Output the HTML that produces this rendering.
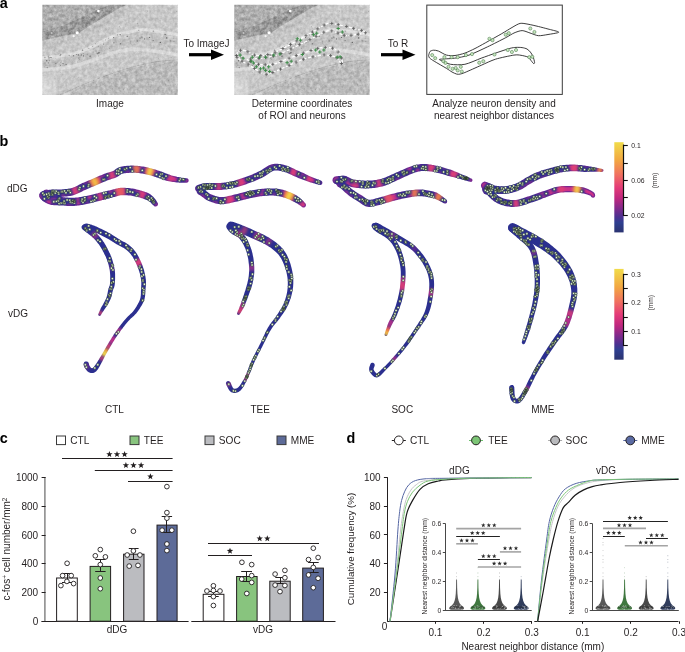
<!DOCTYPE html>
<html><head><meta charset="utf-8"><style>
html,body{margin:0;padding:0;background:#fff;}
svg{display:block;font-family:"Liberation Sans", sans-serif;will-change:transform;}
</style></head><body>
<svg width="685" height="652" viewBox="0 0 685 652">
<defs>
<filter id="blur1" x="-20%" y="-20%" width="140%" height="140%"><feGaussianBlur stdDeviation="0.6"/></filter>
<filter id="blur2" x="-20%" y="-20%" width="140%" height="140%"><feGaussianBlur stdDeviation="2"/></filter>
<filter id="blurH" x="-20%" y="-20%" width="140%" height="140%"><feGaussianBlur stdDeviation="1.0"/></filter>
<filter id="blurS" x="-50%" y="-50%" width="200%" height="200%"><feGaussianBlur stdDeviation="1.4"/></filter>
<filter id="blur3" x="-20%" y="-20%" width="140%" height="140%"><feGaussianBlur stdDeviation="4"/></filter>
</defs>
<defs><clipPath id="imgclip"><rect x="42.3" y="4.8" width="135.5" height="90.2"/></clipPath>
<filter id="noise" x="0" y="0" width="100%" height="100%" color-interpolation-filters="sRGB"><feTurbulence type="fractalNoise" baseFrequency="0.28" numOctaves="3" seed="4" result="n"/><feColorMatrix type="matrix" values="1.6 0 0 0 -0.3  1.6 0 0 0 -0.3  1.6 0 0 0 -0.3  0 0 0 0 1"/></filter>
<g id="micro" clip-path="url(#imgclip)">
<rect x="42.3" y="4.8" width="135.5" height="90.2" fill="#c8c8c8"/>
<polygon points="40,3 112,3 110,4.9 101.3,7.8 83.8,15.9 61.9,26.1 42.2,31.2 40,31.5" fill="#afafaf" filter="url(#blur1)"/>
<polygon points="112,3 128,3 126.1,4.9 117.4,9.3 102.8,18.1 88.2,26.8 79.4,32.7 61.9,36.3 42.2,40.7 40,41 40,31.5 42.2,31.2 61.9,26.1 83.8,15.9 101.3,7.8 110,4.9" fill="#989898" filter="url(#blur1)"/>
<polygon points="40,42 61.9,37.5 79.4,34 88.2,28 102.8,19.3 117.4,10.5 128,4 136,4 115,20 95,33 70,43 40,50" fill="#c1c1c1" filter="url(#blur2)"/>
<path d="M40.00,64.00 C43.33,63.67 54.17,62.75 60.00,62.00 C65.83,61.25 70.00,60.75 75.00,59.50 C80.00,58.25 84.17,56.75 90.00,54.50 C95.83,52.25 103.43,48.32 110.00,46.00 C116.57,43.68 122.73,41.60 129.40,40.60 C136.07,39.60 141.57,39.27 150.00,40.00 C158.43,40.73 175.00,44.17 180.00,45.00" fill="none" stroke="#c0c0c0" stroke-width="7" filter="url(#blur2)"/>
<path d="M40.00,58.00 C43.33,57.67 54.17,56.83 60.00,56.00 C65.83,55.17 70.00,54.35 75.00,53.00 C80.00,51.65 85.00,50.07 90.00,47.90 C95.00,45.73 100.33,42.23 105.00,40.00 C109.67,37.77 113.93,35.82 118.00,34.50 C122.07,33.18 125.30,32.93 129.40,32.10 C133.50,31.27 137.50,29.52 142.60,29.50 C147.70,29.48 153.77,31.08 160.00,32.00 C166.23,32.92 176.67,34.50 180.00,35.00" fill="none" stroke="#dcdcdc" stroke-width="3.2" filter="url(#blur1)"/>
<path d="M40.00,70.00 C43.33,69.75 54.17,69.17 60.00,68.50 C65.83,67.83 70.00,67.25 75.00,66.00 C80.00,64.75 84.17,63.00 90.00,61.00 C95.83,59.00 103.43,55.97 110.00,54.00 C116.57,52.03 122.73,49.78 129.40,49.20 C136.07,48.62 141.57,49.53 150.00,50.50 C158.43,51.47 175.00,54.25 180.00,55.00" fill="none" stroke="#d8d8d8" stroke-width="3.5" filter="url(#blur1)"/>
<polygon points="60,100 80,87 100,79 120,72 136,67.2 155,63 180,60.5 180,100" fill="#bbbbbb" filter="url(#blur1)"/>
<path d="M60.00,95.00 C63.33,93.50 73.33,88.83 80.00,86.00 C86.67,83.17 93.33,80.50 100.00,78.00 C106.67,75.50 114.00,72.97 120.00,71.00 C126.00,69.03 130.17,67.70 136.00,66.20 C141.83,64.70 147.67,63.12 155.00,62.00 C162.33,60.88 175.83,59.92 180.00,59.50" fill="none" stroke="#b0b0b0" stroke-width="1.0" filter="url(#blur1)"/>
<ellipse cx="46" cy="88" rx="8" ry="11" fill="#dddddd" filter="url(#blur3)"/>
<rect x="42.3" y="4.8" width="135.5" height="90.2" filter="url(#noise)" opacity="0.35" style="mix-blend-mode:overlay"/>
<circle cx="82.5" cy="50.2" r="0.67" fill="#4a4a4a" opacity="0.64"/>
<circle cx="153.3" cy="31.2" r="0.65" fill="#4a4a4a" opacity="0.53"/>
<circle cx="78.9" cy="58.1" r="0.56" fill="#4a4a4a" opacity="0.67"/>
<circle cx="113.7" cy="37.6" r="0.59" fill="#4a4a4a" opacity="0.83"/>
<circle cx="138.8" cy="30.3" r="0.63" fill="#4a4a4a" opacity="0.48"/>
<circle cx="153.2" cy="40.4" r="0.65" fill="#4a4a4a" opacity="0.53"/>
<circle cx="160.5" cy="42.3" r="0.61" fill="#4a4a4a" opacity="0.86"/>
<circle cx="113.9" cy="42.7" r="0.69" fill="#4a4a4a" opacity="0.47"/>
<circle cx="105.4" cy="39.9" r="0.47" fill="#4a4a4a" opacity="0.88"/>
<circle cx="120.5" cy="43.8" r="0.53" fill="#4a4a4a" opacity="0.82"/>
<circle cx="149.6" cy="37.5" r="0.58" fill="#4a4a4a" opacity="0.85"/>
<circle cx="47.7" cy="67.7" r="0.60" fill="#4a4a4a" opacity="0.48"/>
<circle cx="97.7" cy="53.7" r="0.57" fill="#4a4a4a" opacity="0.76"/>
<circle cx="77.8" cy="62.1" r="0.48" fill="#4a4a4a" opacity="0.46"/>
<circle cx="130.5" cy="42.9" r="0.43" fill="#4a4a4a" opacity="0.80"/>
<circle cx="117.7" cy="34.9" r="0.53" fill="#4a4a4a" opacity="0.61"/>
<circle cx="61.1" cy="61.0" r="0.41" fill="#4a4a4a" opacity="0.76"/>
<circle cx="99.9" cy="52.3" r="0.48" fill="#4a4a4a" opacity="0.52"/>
<circle cx="48.3" cy="56.4" r="0.58" fill="#4a4a4a" opacity="0.42"/>
<circle cx="76.4" cy="54.5" r="0.48" fill="#4a4a4a" opacity="0.74"/>
<circle cx="99.2" cy="52.8" r="0.67" fill="#4a4a4a" opacity="0.59"/>
<circle cx="127.2" cy="36.3" r="0.66" fill="#4a4a4a" opacity="0.74"/>
<circle cx="60.4" cy="65.3" r="0.55" fill="#4a4a4a" opacity="0.62"/>
<circle cx="83.5" cy="53.8" r="0.48" fill="#4a4a4a" opacity="0.55"/>
<circle cx="98.3" cy="46.3" r="0.57" fill="#4a4a4a" opacity="0.41"/>
<circle cx="165.6" cy="34.3" r="0.59" fill="#4a4a4a" opacity="0.57"/>
<circle cx="103.7" cy="44.0" r="0.61" fill="#4a4a4a" opacity="0.77"/>
<circle cx="46.9" cy="67.3" r="0.41" fill="#4a4a4a" opacity="0.58"/>
<circle cx="170.3" cy="40.8" r="0.50" fill="#4a4a4a" opacity="0.58"/>
<circle cx="97.1" cy="52.9" r="0.48" fill="#4a4a4a" opacity="0.79"/>
<circle cx="60.8" cy="54.3" r="0.57" fill="#4a4a4a" opacity="0.77"/>
<circle cx="93.1" cy="52.1" r="0.48" fill="#4a4a4a" opacity="0.56"/>
<circle cx="120.1" cy="34.7" r="0.58" fill="#4a4a4a" opacity="0.87"/>
<circle cx="79.6" cy="59.7" r="0.45" fill="#4a4a4a" opacity="0.57"/>
<circle cx="174.0" cy="41.3" r="0.48" fill="#4a4a4a" opacity="0.79"/>
<circle cx="49.0" cy="57.8" r="0.64" fill="#4a4a4a" opacity="0.82"/>
<circle cx="73.6" cy="55.7" r="0.65" fill="#4a4a4a" opacity="0.44"/>
<circle cx="164.8" cy="34.3" r="0.49" fill="#4a4a4a" opacity="0.80"/>
<circle cx="87.1" cy="54.2" r="0.49" fill="#4a4a4a" opacity="0.68"/>
<circle cx="50.2" cy="57.4" r="0.40" fill="#4a4a4a" opacity="0.87"/>
<circle cx="166.7" cy="37.9" r="0.69" fill="#4a4a4a" opacity="0.86"/>
<circle cx="78.4" cy="54.9" r="0.63" fill="#4a4a4a" opacity="0.77"/>
<circle cx="90.1" cy="56.2" r="0.66" fill="#4a4a4a" opacity="0.83"/>
<circle cx="88.9" cy="48.4" r="0.41" fill="#4a4a4a" opacity="0.80"/>
<circle cx="137.2" cy="41.0" r="0.67" fill="#4a4a4a" opacity="0.69"/>
<circle cx="44.9" cy="57.4" r="0.55" fill="#4a4a4a" opacity="0.52"/>
<circle cx="46.7" cy="60.8" r="0.68" fill="#4a4a4a" opacity="0.71"/>
<circle cx="98.6" cy="52.9" r="0.56" fill="#4a4a4a" opacity="0.81"/>
<circle cx="51.1" cy="57.6" r="0.56" fill="#4a4a4a" opacity="0.81"/>
<circle cx="69.2" cy="55.5" r="0.67" fill="#4a4a4a" opacity="0.46"/>
<circle cx="45.0" cy="62.9" r="0.52" fill="#4a4a4a" opacity="0.78"/>
<circle cx="81.5" cy="54.9" r="0.53" fill="#4a4a4a" opacity="0.64"/>
<circle cx="46.1" cy="65.3" r="0.41" fill="#4a4a4a" opacity="0.42"/>
<circle cx="130.8" cy="41.3" r="0.43" fill="#4a4a4a" opacity="0.65"/>
<circle cx="95.3" cy="43.7" r="0.52" fill="#4a4a4a" opacity="0.59"/>
<circle cx="92.6" cy="46.5" r="0.50" fill="#4a4a4a" opacity="0.46"/>
<circle cx="144.6" cy="38.9" r="0.64" fill="#4a4a4a" opacity="0.68"/>
<circle cx="48.5" cy="62.8" r="0.63" fill="#4a4a4a" opacity="0.59"/>
<circle cx="49.3" cy="60.7" r="0.51" fill="#4a4a4a" opacity="0.65"/>
<circle cx="96.1" cy="51.1" r="0.54" fill="#4a4a4a" opacity="0.52"/>
<circle cx="141.9" cy="37.2" r="0.64" fill="#4a4a4a" opacity="0.51"/>
<circle cx="66.1" cy="64.4" r="0.51" fill="#4a4a4a" opacity="0.85"/>
<circle cx="83.5" cy="55.9" r="0.68" fill="#4a4a4a" opacity="0.77"/>
<circle cx="140.0" cy="38.1" r="0.62" fill="#4a4a4a" opacity="0.68"/>
<circle cx="60.9" cy="62.6" r="0.54" fill="#4a4a4a" opacity="0.52"/>
<circle cx="108.6" cy="38.1" r="0.43" fill="#4a4a4a" opacity="0.84"/>
<circle cx="73.5" cy="55.8" r="0.66" fill="#4a4a4a" opacity="0.41"/>
<circle cx="63.0" cy="63.6" r="0.69" fill="#4a4a4a" opacity="0.69"/>
<circle cx="55.9" cy="63.6" r="0.55" fill="#4a4a4a" opacity="0.76"/>
<circle cx="60.2" cy="55.2" r="0.57" fill="#4a4a4a" opacity="0.68"/>
<circle cx="160.1" cy="21.0" r="0.45" fill="#555" opacity="0.33"/>
<circle cx="177.6" cy="62.9" r="0.45" fill="#555" opacity="0.48"/>
<circle cx="137.2" cy="89.6" r="0.45" fill="#555" opacity="0.40"/>
<circle cx="123.5" cy="89.3" r="0.45" fill="#555" opacity="0.52"/>
<circle cx="173.2" cy="38.6" r="0.45" fill="#555" opacity="0.39"/>
<circle cx="168.2" cy="80.7" r="0.45" fill="#555" opacity="0.69"/>
<circle cx="98.6" cy="56.0" r="0.45" fill="#555" opacity="0.53"/>
<circle cx="167.5" cy="66.5" r="0.45" fill="#555" opacity="0.36"/>
<circle cx="96.6" cy="84.7" r="0.45" fill="#555" opacity="0.37"/>
<circle cx="109.8" cy="48.3" r="0.45" fill="#555" opacity="0.58"/>
<circle cx="171.1" cy="57.6" r="0.45" fill="#555" opacity="0.64"/>
<circle cx="60.8" cy="72.5" r="0.45" fill="#555" opacity="0.36"/>
<circle cx="112.2" cy="88.9" r="0.45" fill="#555" opacity="0.64"/>
<circle cx="115.2" cy="75.0" r="0.45" fill="#555" opacity="0.57"/>
<circle cx="158.2" cy="58.4" r="0.45" fill="#555" opacity="0.53"/>
<circle cx="175.6" cy="84.8" r="0.45" fill="#555" opacity="0.42"/>
<circle cx="78.6" cy="77.2" r="0.45" fill="#555" opacity="0.38"/>
<circle cx="119.5" cy="26.3" r="0.45" fill="#555" opacity="0.49"/>
<circle cx="159.3" cy="42.5" r="0.45" fill="#555" opacity="0.58"/>
<circle cx="137.4" cy="23.3" r="0.45" fill="#555" opacity="0.53"/>
<circle cx="164.5" cy="63.5" r="0.45" fill="#555" opacity="0.31"/>
<circle cx="176.8" cy="11.3" r="0.45" fill="#555" opacity="0.68"/>
<circle cx="148.4" cy="84.2" r="0.45" fill="#555" opacity="0.32"/>
<circle cx="165.7" cy="85.0" r="0.45" fill="#555" opacity="0.56"/>
<circle cx="147.6" cy="11.0" r="0.45" fill="#555" opacity="0.39"/>
<circle cx="98.4" cy="11" r="1.3" fill="#fff"/>
<circle cx="77.2" cy="32.7" r="1.5" fill="#fff"/>
<circle cx="73.6" cy="36.1" r="1.2" fill="#f4f4f4"/>
<circle cx="51.7" cy="33" r="1.1" fill="#d4d4d4" opacity="0.8"/>
</g></defs>
<text x="-0.30" y="8.00" font-size="14.40" text-anchor="start" font-weight="bold" fill="#000" >a</text>
<use href="#micro"/>
<text x="110.00" y="107.00" font-size="10.00" text-anchor="middle" font-weight="normal" fill="#231f20" >Image</text>
<text x="206.50" y="47.00" font-size="10.00" text-anchor="middle" font-weight="normal" fill="#231f20" >To ImageJ</text>
<line x1="189.00" y1="54.70" x2="215.00" y2="54.70" stroke="#000" stroke-width="3.2"/><polygon points="211.00,49.40 224.00,54.70 211.00,60.00" fill="#000"/>
<use href="#micro" transform="translate(191.9,0)"/>
<path d="M236.50,55.50 C236.69,54.97 237.25,52.21 237.90,51.50 C238.55,50.79 240.29,50.27 241.40,50.20 C242.51,50.13 244.47,50.35 246.20,51.00 C247.93,51.65 252.17,54.50 254.40,55.10 C256.63,55.70 260.45,55.77 262.90,55.50 C265.35,55.23 270.13,54.03 272.80,53.10 C275.47,52.17 280.18,49.86 282.90,48.50 C285.62,47.14 289.64,44.87 293.20,42.90 C296.76,40.93 306.04,35.75 309.60,33.70 C313.16,31.65 317.45,28.87 319.90,27.50 C322.35,26.13 325.87,23.84 328.00,23.40 C330.13,22.96 333.46,23.79 335.90,24.20 C338.34,24.61 343.63,25.86 346.30,26.50 C348.97,27.14 353.30,28.32 355.90,29.00 C358.50,29.68 364.53,31.09 365.80,31.60 C367.07,32.11 366.72,32.41 365.40,32.80 C364.08,33.19 358.45,34.11 355.90,34.50 C353.35,34.89 348.70,35.90 346.30,35.70 C343.90,35.50 340.07,33.68 337.90,33.00 C335.73,32.32 332.13,30.60 330.00,30.60 C327.87,30.60 324.09,32.05 321.90,33.00 C319.71,33.95 317.15,35.85 313.60,37.70 C310.05,39.55 300.19,44.58 295.30,46.90 C290.41,49.22 281.26,53.59 276.90,55.10 C272.54,56.61 266.43,57.65 262.60,58.20 C258.77,58.75 250.03,58.89 248.20,59.20 C246.37,59.51 247.53,59.82 248.90,60.50 C250.27,61.18 255.31,63.79 258.50,64.30 C261.69,64.81 268.72,65.11 272.80,64.30 C276.88,63.49 285.02,59.69 289.10,58.20 C293.18,56.71 299.59,54.41 303.40,53.10 C307.21,51.79 314.97,49.16 317.70,48.40 C320.43,47.64 322.26,47.51 323.90,47.40 C325.54,47.29 328.53,47.39 330.00,47.60 C331.47,47.81 333.81,48.41 334.90,49.00 C335.99,49.59 337.40,51.00 338.20,52.00 C339.00,53.00 340.33,55.10 340.90,56.50 C341.47,57.90 342.43,61.57 342.50,62.50 C342.57,63.43 341.88,63.77 341.40,63.50 C340.92,63.23 339.61,61.34 338.90,60.50 C338.19,59.66 337.43,57.89 336.10,57.20 C334.77,56.51 330.81,55.58 328.90,55.30 C326.99,55.02 325.20,54.58 321.80,55.10 C318.40,55.62 307.76,57.84 303.40,59.20 C299.04,60.56 293.18,63.53 289.10,65.30 C285.02,67.07 275.63,71.33 272.80,72.50 C269.97,73.67 268.99,73.89 267.90,74.10 C266.81,74.31 265.67,74.38 264.60,74.10 C263.53,73.82 261.26,72.76 259.90,72.00 C258.54,71.24 256.77,69.84 254.40,68.40 C252.03,66.96 244.35,62.59 242.10,61.20 C239.85,59.81 238.25,58.76 237.50,58.00 C236.75,57.24 236.63,55.83 236.50,55.50" fill="none" stroke="#ffffff" stroke-width="1.3" stroke-dasharray="3.2 1.6" opacity="0.95"/>
<path d="M234.9,55.5h3.2M236.5,53.9v3.2M238.9,50.3h3.2M240.5,48.7v3.2M246.3,51.8h3.2M247.9,50.2v3.2M252.8,55.1h3.2M254.4,53.5v3.2M259.2,55.6h3.2M260.8,54.0v3.2M266.2,54.5h3.2M267.8,52.9v3.2M273.5,52.2h3.2M275.1,50.6v3.2M281.3,48.5h3.2M282.9,46.9v3.2M288.9,44.4h3.2M290.5,42.8v3.2M295.2,40.9h3.2M296.8,39.3v3.2M304.4,35.7h3.2M306.0,34.1v3.2M310.8,32.1h3.2M312.4,30.5v3.2M316.2,28.8h3.2M317.8,27.2v3.2M322.5,25.1h3.2M324.1,23.5v3.2M330.2,23.5h3.2M331.8,21.9v3.2M336.6,24.6h3.2M338.2,23.0v3.2M344.7,26.5h3.2M346.3,24.9v3.2M352.1,28.4h3.2M353.7,26.8v3.2M359.8,30.4h3.2M361.4,28.8v3.2M363.8,32.8h3.2M365.4,31.2v3.2M356.7,34.1h3.2M358.3,32.5v3.2M349.4,35.3h3.2M351.0,33.7v3.2M342.7,35.3h3.2M344.3,33.7v3.2M336.3,33.0h3.2M337.9,31.4v3.2M330.2,30.9h3.2M331.8,29.3v3.2M322.2,32.2h3.2M323.8,30.6v3.2M314.5,36.3h3.2M316.1,34.7v3.2M308.3,39.6h3.2M309.9,38.0v3.2M298.1,44.7h3.2M299.7,43.1v3.2M289.4,48.9h3.2M291.0,47.3v3.2M279.3,53.5h3.2M280.9,51.9v3.2M271.8,56.1h3.2M273.4,54.5v3.2M264.2,57.7h3.2M265.8,56.1v3.2M257.4,58.5h3.2M259.0,56.9v3.2M249.1,59.0h3.2M250.7,57.4v3.2M248.9,61.3h3.2M250.5,59.7v3.2M256.9,64.3h3.2M258.5,62.7v3.2M263.7,64.8h3.2M265.3,63.2v3.2M271.2,64.3h3.2M272.8,62.7v3.2M279.3,61.5h3.2M280.9,59.9v3.2M287.5,58.2h3.2M289.1,56.6v3.2M294.7,55.6h3.2M296.3,54.0v3.2M301.8,53.1h3.2M303.4,51.5v3.2M309.4,50.5h3.2M311.0,48.9v3.2M316.1,48.4h3.2M317.7,46.8v3.2M323.7,47.4h3.2M325.3,45.8v3.2M331.0,48.2h3.2M332.6,46.6v3.2M336.6,52.0h3.2M338.2,50.4v3.2M339.8,57.9h3.2M341.4,56.3v3.2M339.8,63.5h3.2M341.4,61.9v3.2M335.4,57.9h3.2M337.0,56.3v3.2M329.0,55.6h3.2M330.6,54.0v3.2M322.5,54.9h3.2M324.1,53.3v3.2M311.4,56.8h3.2M313.0,55.2v3.2M301.8,59.2h3.2M303.4,57.6v3.2M294.5,62.1h3.2M296.1,60.5v3.2M287.5,65.3h3.2M289.1,63.7v3.2M278.9,69.1h3.2M280.5,67.5v3.2M271.2,72.5h3.2M272.8,70.9v3.2M264.6,74.3h3.2M266.2,72.7v3.2M258.3,72.0h3.2M259.9,70.4v3.2M252.8,68.4h3.2M254.4,66.8v3.2M246.6,64.8h3.2M248.2,63.2v3.2M240.5,61.2h3.2M242.1,59.6v3.2M235.4,57.3h3.2M237.0,55.7v3.2" stroke="#555" stroke-width="0.8" fill="none"/>
<path d="M238.4,55.1h3.4M240.1,53.4v3.4M241.4,58.2h3.4M243.1,56.5v3.4M250.6,57.2h3.4M252.3,55.5v3.4M257.8,57.2h3.4M259.5,55.5v3.4M263.9,57.2h3.4M265.6,55.5v3.4M272.1,55.1h3.4M273.8,53.4v3.4M278.2,54.1h3.4M279.9,52.4v3.4M295.6,38.8h3.4M297.3,37.1v3.4M298.7,40.2h3.4M300.4,38.5v3.4M311.9,34.7h3.4M313.6,33.0v3.4M315.0,33.2h3.4M316.7,31.5v3.4M336.5,28.5h3.4M338.2,26.8v3.4M340.6,32.0h3.4M342.3,30.3v3.4M249.6,61.2h3.4M251.3,59.5v3.4M251.7,62.9h3.4M253.4,61.2v3.4M254.7,66.8h3.4M256.4,65.1v3.4M258.8,68.8h3.4M260.5,67.1v3.4M261.9,68.0h3.4M263.6,66.3v3.4M263.9,70.4h3.4M265.6,68.7v3.4M267.0,66.8h3.4M268.7,65.1v3.4M268.0,71.5h3.4M269.7,69.8v3.4M285.4,62.7h3.4M287.1,61.0v3.4M289.5,61.2h3.4M291.2,59.5v3.4M300.7,54.5h3.4M302.4,52.8v3.4M314.0,50.0h3.4M315.7,48.3v3.4M318.1,52.0h3.4M319.8,50.3v3.4M322.2,50.0h3.4M323.9,48.3v3.4M335.5,57.2h3.4M337.2,55.5v3.4M338.5,56.8h3.4M340.2,55.1v3.4" stroke="#3a8a46" stroke-width="0.95" fill="none"/>
<text x="302.00" y="107.00" font-size="10.00" text-anchor="middle" font-weight="normal" fill="#231f20" >Determine coordinates</text>
<text x="302.00" y="119.30" font-size="10.00" text-anchor="middle" font-weight="normal" fill="#231f20" >of ROI and neurons</text>
<text x="398.00" y="47.00" font-size="10.00" text-anchor="middle" font-weight="normal" fill="#231f20" >To R</text>
<line x1="381.00" y1="54.70" x2="406.50" y2="54.70" stroke="#000" stroke-width="3.2"/><polygon points="402.50,49.40 415.50,54.70 402.50,60.00" fill="#000"/>
<rect x="426.8" y="5.1" width="135.5" height="89.3" fill="#fff" stroke="#3a3a3a" stroke-width="1"/>
<path d="M428.60,55.50 C428.79,54.97 429.35,52.21 430.00,51.50 C430.65,50.79 432.39,50.27 433.50,50.20 C434.61,50.13 436.57,50.35 438.30,51.00 C440.03,51.65 444.27,54.50 446.50,55.10 C448.73,55.70 452.55,55.77 455.00,55.50 C457.45,55.23 462.23,54.03 464.90,53.10 C467.57,52.17 472.28,49.86 475.00,48.50 C477.72,47.14 481.74,44.87 485.30,42.90 C488.86,40.93 498.14,35.75 501.70,33.70 C505.26,31.65 509.55,28.87 512.00,27.50 C514.45,26.13 517.97,23.84 520.10,23.40 C522.23,22.96 525.56,23.79 528.00,24.20 C530.44,24.61 535.73,25.86 538.40,26.50 C541.07,27.14 545.40,28.32 548.00,29.00 C550.60,29.68 556.63,31.09 557.90,31.60 C559.17,32.11 558.82,32.41 557.50,32.80 C556.18,33.19 550.55,34.11 548.00,34.50 C545.45,34.89 540.80,35.90 538.40,35.70 C536.00,35.50 532.17,33.68 530.00,33.00 C527.83,32.32 524.23,30.60 522.10,30.60 C519.97,30.60 516.19,32.05 514.00,33.00 C511.81,33.95 509.25,35.85 505.70,37.70 C502.15,39.55 492.29,44.58 487.40,46.90 C482.51,49.22 473.36,53.59 469.00,55.10 C464.64,56.61 458.53,57.65 454.70,58.20 C450.87,58.75 442.13,58.89 440.30,59.20 C438.47,59.51 439.63,59.82 441.00,60.50 C442.37,61.18 447.41,63.79 450.60,64.30 C453.79,64.81 460.82,65.11 464.90,64.30 C468.98,63.49 477.12,59.69 481.20,58.20 C485.28,56.71 491.69,54.41 495.50,53.10 C499.31,51.79 507.07,49.16 509.80,48.40 C512.53,47.64 514.36,47.51 516.00,47.40 C517.64,47.29 520.63,47.39 522.10,47.60 C523.57,47.81 525.91,48.41 527.00,49.00 C528.09,49.59 529.50,51.00 530.30,52.00 C531.10,53.00 532.43,55.10 533.00,56.50 C533.57,57.90 534.53,61.57 534.60,62.50 C534.67,63.43 533.98,63.77 533.50,63.50 C533.02,63.23 531.71,61.34 531.00,60.50 C530.29,59.66 529.53,57.89 528.20,57.20 C526.87,56.51 522.91,55.58 521.00,55.30 C519.09,55.02 517.30,54.58 513.90,55.10 C510.50,55.62 499.86,57.84 495.50,59.20 C491.14,60.56 485.28,63.53 481.20,65.30 C477.12,67.07 467.73,71.33 464.90,72.50 C462.07,73.67 461.09,73.89 460.00,74.10 C458.91,74.31 457.77,74.38 456.70,74.10 C455.63,73.82 453.36,72.76 452.00,72.00 C450.64,71.24 448.87,69.84 446.50,68.40 C444.13,66.96 436.45,62.59 434.20,61.20 C431.95,59.81 430.35,58.76 429.60,58.00 C428.85,57.24 428.73,55.83 428.60,55.50" fill="none" stroke="#1a1a1a" stroke-width="0.85"/>
<path d="M430.6,55.1a1.6,1.6 0 1,0 3.2,0a1.6,1.6 0 1,0 -3.2,0M433.6,58.2a1.6,1.6 0 1,0 3.2,0a1.6,1.6 0 1,0 -3.2,0M442.8,57.2a1.6,1.6 0 1,0 3.2,0a1.6,1.6 0 1,0 -3.2,0M450.0,57.2a1.6,1.6 0 1,0 3.2,0a1.6,1.6 0 1,0 -3.2,0M456.1,57.2a1.6,1.6 0 1,0 3.2,0a1.6,1.6 0 1,0 -3.2,0M464.3,55.1a1.6,1.6 0 1,0 3.2,0a1.6,1.6 0 1,0 -3.2,0M470.4,54.1a1.6,1.6 0 1,0 3.2,0a1.6,1.6 0 1,0 -3.2,0M487.8,38.8a1.6,1.6 0 1,0 3.2,0a1.6,1.6 0 1,0 -3.2,0M490.9,40.2a1.6,1.6 0 1,0 3.2,0a1.6,1.6 0 1,0 -3.2,0M504.1,34.7a1.6,1.6 0 1,0 3.2,0a1.6,1.6 0 1,0 -3.2,0M507.2,33.2a1.6,1.6 0 1,0 3.2,0a1.6,1.6 0 1,0 -3.2,0M528.7,28.5a1.6,1.6 0 1,0 3.2,0a1.6,1.6 0 1,0 -3.2,0M532.8,32.0a1.6,1.6 0 1,0 3.2,0a1.6,1.6 0 1,0 -3.2,0M441.8,61.2a1.6,1.6 0 1,0 3.2,0a1.6,1.6 0 1,0 -3.2,0M443.9,62.9a1.6,1.6 0 1,0 3.2,0a1.6,1.6 0 1,0 -3.2,0M446.9,66.8a1.6,1.6 0 1,0 3.2,0a1.6,1.6 0 1,0 -3.2,0M451.0,68.8a1.6,1.6 0 1,0 3.2,0a1.6,1.6 0 1,0 -3.2,0M454.1,68.0a1.6,1.6 0 1,0 3.2,0a1.6,1.6 0 1,0 -3.2,0M456.1,70.4a1.6,1.6 0 1,0 3.2,0a1.6,1.6 0 1,0 -3.2,0M459.2,66.8a1.6,1.6 0 1,0 3.2,0a1.6,1.6 0 1,0 -3.2,0M460.2,71.5a1.6,1.6 0 1,0 3.2,0a1.6,1.6 0 1,0 -3.2,0M477.6,62.7a1.6,1.6 0 1,0 3.2,0a1.6,1.6 0 1,0 -3.2,0M481.7,61.2a1.6,1.6 0 1,0 3.2,0a1.6,1.6 0 1,0 -3.2,0M492.9,54.5a1.6,1.6 0 1,0 3.2,0a1.6,1.6 0 1,0 -3.2,0M506.2,50.0a1.6,1.6 0 1,0 3.2,0a1.6,1.6 0 1,0 -3.2,0M510.3,52.0a1.6,1.6 0 1,0 3.2,0a1.6,1.6 0 1,0 -3.2,0M514.4,50.0a1.6,1.6 0 1,0 3.2,0a1.6,1.6 0 1,0 -3.2,0M527.7,57.2a1.6,1.6 0 1,0 3.2,0a1.6,1.6 0 1,0 -3.2,0M530.7,56.8a1.6,1.6 0 1,0 3.2,0a1.6,1.6 0 1,0 -3.2,0" fill="#c4e4bc" stroke="#4f7a4f" stroke-width="0.55"/>
<text x="494.00" y="107.00" font-size="10.00" text-anchor="middle" font-weight="normal" fill="#231f20" >Analyze neuron density and</text>
<text x="494.00" y="119.30" font-size="10.00" text-anchor="middle" font-weight="normal" fill="#231f20" >nearest neighbor distances</text>
<text x="-0.50" y="145.60" font-size="14.40" text-anchor="start" font-weight="bold" fill="#000" >b</text>
<text x="7.00" y="191.60" font-size="10.00" text-anchor="start" font-weight="normal" fill="#231f20" >dDG</text>
<text x="8.00" y="317.30" font-size="10.00" text-anchor="start" font-weight="normal" fill="#231f20" >vDG</text>
<text x="114.40" y="413.00" font-size="10.00" text-anchor="middle" font-weight="normal" fill="#231f20" >CTL</text>
<text x="260.20" y="413.00" font-size="10.00" text-anchor="middle" font-weight="normal" fill="#231f20" >TEE</text>
<text x="402.30" y="413.00" font-size="10.00" text-anchor="middle" font-weight="normal" fill="#231f20" >SOC</text>
<text x="542.80" y="413.00" font-size="10.00" text-anchor="middle" font-weight="normal" fill="#231f20" >MME</text>
<defs><linearGradient id="cmap" x1="0" y1="0" x2="0" y2="1"><stop offset="0" stop-color="#f1dc4a"/><stop offset="0.2" stop-color="#f2a742"/><stop offset="0.36" stop-color="#f07160"/><stop offset="0.5" stop-color="#e43c78"/><stop offset="0.62" stop-color="#c0287f"/><stop offset="0.74" stop-color="#7e2a8c"/><stop offset="0.83" stop-color="#4b3190"/><stop offset="0.89" stop-color="#2f3f90"/><stop offset="1" stop-color="#2b3370"/></linearGradient></defs>
<rect x="614.3" y="142.20" width="9.3" height="90.20" fill="url(#cmap)"/>
<line x1="623.50" y1="144.60" x2="623.50" y2="215.90" stroke="#111" stroke-width="1.20" />
<line x1="623.20" y1="145.50" x2="627.80" y2="145.50" stroke="#111" stroke-width="1.10" />
<text x="631.30" y="147.50" font-size="6.80" text-anchor="start" font-weight="normal" fill="#231f20" >0.1</text>
<line x1="623.20" y1="163.50" x2="627.80" y2="163.50" stroke="#111" stroke-width="1.10" />
<line x1="623.20" y1="180.50" x2="627.80" y2="180.50" stroke="#111" stroke-width="1.10" />
<text x="631.30" y="183.00" font-size="6.80" text-anchor="start" font-weight="normal" fill="#231f20" >0.06</text>
<line x1="623.20" y1="197.50" x2="627.80" y2="197.50" stroke="#111" stroke-width="1.10" />
<line x1="623.20" y1="215.50" x2="627.80" y2="215.50" stroke="#111" stroke-width="1.10" />
<text x="631.30" y="217.80" font-size="6.80" text-anchor="start" font-weight="normal" fill="#231f20" >0.02</text>
<text transform="translate(656.50,180.60) rotate(-90)" font-size="6.6" text-anchor="middle" fill="#231f20">(mm)</text>
<rect x="614.3" y="268.90" width="9.3" height="90.80" fill="url(#cmap)"/>
<line x1="623.50" y1="273.80" x2="623.50" y2="346.10" stroke="#111" stroke-width="1.20" />
<line x1="623.20" y1="274.50" x2="627.80" y2="274.50" stroke="#111" stroke-width="1.10" />
<text x="631.30" y="276.70" font-size="6.80" text-anchor="start" font-weight="normal" fill="#231f20" >0.3</text>
<line x1="623.20" y1="288.50" x2="627.80" y2="288.50" stroke="#111" stroke-width="1.10" />
<line x1="623.20" y1="303.50" x2="627.80" y2="303.50" stroke="#111" stroke-width="1.10" />
<text x="631.30" y="305.40" font-size="6.80" text-anchor="start" font-weight="normal" fill="#231f20" >0.2</text>
<line x1="623.20" y1="317.50" x2="627.80" y2="317.50" stroke="#111" stroke-width="1.10" />
<line x1="623.20" y1="331.50" x2="627.80" y2="331.50" stroke="#111" stroke-width="1.10" />
<text x="631.30" y="333.70" font-size="6.80" text-anchor="start" font-weight="normal" fill="#231f20" >0.1</text>
<line x1="623.20" y1="345.50" x2="627.80" y2="345.50" stroke="#111" stroke-width="1.10" />
<text transform="translate(652.80,302.80) rotate(-90)" font-size="6.6" text-anchor="middle" fill="#231f20">(mm)</text>
<defs><mask id="mk0" maskUnits="userSpaceOnUse" x="0" y="0" width="685" height="652"><path d="M44.8,199.8 L45.2,199.6 L45.8,199.4 L46.4,199.1 L47.1,198.9 L47.8,198.6 L48.5,198.3 L49.3,198.0 L50.0,197.7 L50.8,197.5 L51.5,197.3 L52.3,197.2 L53.1,197.1 L54.1,197.0 L55.2,197.0 L56.3,197.0 L57.4,197.0 L58.6,197.0 L59.8,197.0 L61.0,196.9 L62.2,196.8 L63.3,196.7 L64.4,196.6 L65.5,196.5 L66.7,196.4 L67.8,196.3 L69.0,196.1 L70.2,195.9 L71.5,195.7 L72.7,195.4 L74.0,195.0 L75.3,194.6 L76.5,194.1 L77.7,193.6 L78.9,193.1 L80.0,192.5 L81.1,191.9 L82.2,191.4 L83.2,190.8 L84.3,190.3 L85.3,189.9 L86.3,189.4 L87.4,188.9 L88.5,188.5 L89.6,188.0 L90.7,187.6 L91.8,187.1 L92.9,186.7 L94.0,186.2 L95.1,185.7 L96.2,185.3 L97.4,184.8 L98.5,184.3 L99.6,183.8 L100.7,183.3 L101.9,182.8 L103.0,182.3 L104.0,181.8 L105.1,181.4 L106.1,181.0 L107.0,180.6 L107.9,180.2 L108.8,179.9 L109.6,179.7 L110.5,179.4 L111.4,179.1 L112.3,178.8 L113.2,178.5 L114.1,178.2 L115.0,177.9 L116.0,177.5 L117.0,177.0 L117.9,176.5 L118.7,176.0 L119.3,175.5 L120.0,175.0 L120.5,174.7 L121.0,174.3 L121.5,174.1 L122.0,173.8 L122.6,173.7 L123.4,173.5 L124.3,173.3 L125.3,173.2 L126.4,173.0 L127.5,172.9 L128.7,172.9 L129.9,172.8 L131.1,172.8 L132.2,172.8 L133.3,172.8 L134.4,172.8 L135.5,172.8 L136.6,172.9 L137.7,173.0 L138.8,173.1 L139.9,173.2 L141.0,173.4 L142.1,173.6 L143.2,173.8 L144.3,174.0 L145.4,174.2 L146.5,174.4 L147.6,174.7 L148.8,175.0 L149.9,175.3 L151.0,175.6 L152.2,176.0 L153.3,176.3 L154.5,176.7 L155.6,177.0 L156.7,177.4 L157.9,177.8 L159.0,178.2 L160.1,178.6 L161.3,179.1 L162.5,179.5 L163.7,179.9 L165.0,180.3 L166.2,180.7 L167.5,181.0 L168.8,181.2 L170.1,181.5 L171.4,181.7 L172.7,181.9 L174.0,182.1 L175.3,182.2 L176.5,182.4 L177.7,182.5 L178.7,182.6 L179.7,182.7 L180.7,182.8 L181.6,182.8 L182.4,182.8 L183.2,182.8 L184.0,182.8 L184.6,182.8 L185.2,182.8 L185.7,182.8 L186.1,182.8 L186.4,182.7 L187.5,182.5 L188.4,181.7 L188.7,180.6 L188.5,179.5 L187.7,178.6 L186.6,178.3 L186.2,178.2 L185.8,178.2 L185.3,178.1 L184.7,178.1 L184.1,178.1 L183.5,178.0 L182.8,177.9 L182.1,177.8 L181.3,177.7 L180.5,177.5 L179.6,177.3 L178.5,177.1 L177.4,176.9 L176.3,176.6 L175.1,176.3 L173.9,176.0 L172.7,175.7 L171.5,175.4 L170.4,175.0 L169.3,174.6 L168.2,174.3 L167.1,173.8 L166.1,173.4 L164.9,173.0 L163.8,172.5 L162.6,172.1 L161.4,171.6 L160.2,171.2 L159.0,170.8 L157.8,170.4 L156.6,170.0 L155.4,169.6 L154.2,169.2 L153.0,168.9 L151.8,168.5 L150.6,168.2 L149.4,167.9 L148.1,167.6 L146.9,167.3 L145.7,167.0 L144.5,166.8 L143.3,166.6 L142.0,166.4 L140.8,166.2 L139.6,166.1 L138.4,165.9 L137.2,165.8 L135.9,165.7 L134.7,165.7 L133.5,165.6 L132.2,165.6 L130.9,165.6 L129.6,165.7 L128.3,165.7 L127.0,165.8 L125.7,165.9 L124.4,166.1 L123.2,166.2 L122.0,166.5 L120.8,166.7 L119.6,167.1 L118.5,167.6 L117.5,168.1 L116.6,168.6 L115.9,169.1 L115.2,169.6 L114.6,170.0 L114.1,170.4 L113.6,170.7 L113.0,170.9 L112.4,171.2 L111.7,171.4 L110.9,171.7 L110.1,171.9 L109.3,172.2 L108.4,172.5 L107.4,172.8 L106.5,173.1 L105.4,173.4 L104.4,173.8 L103.3,174.2 L102.3,174.7 L101.2,175.2 L100.0,175.6 L98.9,176.1 L97.8,176.6 L96.7,177.1 L95.6,177.6 L94.5,178.1 L93.4,178.5 L92.3,179.0 L91.2,179.4 L90.1,179.9 L89.0,180.3 L87.9,180.8 L86.8,181.3 L85.7,181.7 L84.6,182.2 L83.4,182.7 L82.3,183.1 L81.1,183.7 L80.0,184.2 L78.9,184.8 L77.8,185.4 L76.7,185.9 L75.7,186.4 L74.7,186.9 L73.7,187.3 L72.7,187.7 L71.8,188.0 L70.9,188.2 L69.9,188.4 L69.0,188.6 L68.0,188.8 L67.0,188.9 L65.9,189.0 L64.9,189.1 L63.8,189.2 L62.7,189.3 L61.6,189.4 L60.6,189.5 L59.5,189.5 L58.5,189.5 L57.3,189.5 L56.2,189.5 L55.1,189.5 L53.9,189.6 L52.8,189.6 L51.6,189.6 L50.5,189.7 L49.4,189.8 L48.3,189.9 L47.3,190.1 L46.3,190.3 L45.3,190.5 L44.5,190.7 L43.7,190.9 L43.1,191.0 L42.6,191.1 L42.2,191.2 L40.2,192.4 L39.1,194.4 L39.2,196.8 L40.4,198.8 L42.4,199.9 Z" fill="#fff"/><path d="M42.7,200.9 L43.0,201.0 L43.3,201.2 L43.9,201.6 L44.5,202.0 L45.3,202.4 L46.1,202.9 L47.1,203.4 L48.1,203.9 L49.2,204.3 L50.4,204.7 L51.6,204.9 L52.8,205.1 L53.9,205.2 L55.1,205.3 L56.2,205.3 L57.4,205.3 L58.5,205.4 L59.6,205.4 L60.6,205.4 L61.6,205.5 L62.7,205.5 L63.7,205.6 L64.8,205.7 L65.9,205.8 L67.1,205.9 L68.2,205.9 L69.4,206.0 L70.6,206.0 L71.8,206.0 L73.0,206.0 L74.2,205.9 L75.4,205.8 L76.6,205.7 L77.8,205.6 L78.9,205.4 L80.0,205.3 L81.2,205.1 L82.3,204.9 L83.4,204.7 L84.5,204.5 L85.7,204.2 L86.8,204.0 L88.0,203.8 L89.1,203.5 L90.2,203.2 L91.3,202.9 L92.4,202.7 L93.5,202.4 L94.6,202.1 L95.7,201.8 L96.8,201.6 L97.9,201.3 L99.1,201.0 L100.2,200.7 L101.3,200.4 L102.4,200.1 L103.5,199.9 L104.6,199.6 L105.6,199.3 L106.7,199.0 L107.6,198.8 L108.6,198.5 L109.5,198.3 L110.4,198.0 L111.3,197.8 L112.2,197.5 L113.0,197.3 L113.8,197.1 L114.6,196.9 L115.4,196.7 L116.2,196.5 L117.0,196.2 L117.7,196.0 L118.3,195.8 L118.9,195.7 L119.4,195.5 L119.9,195.4 L120.5,195.3 L121.1,195.3 L121.8,195.2 L122.7,195.2 L123.7,195.2 L124.7,195.2 L125.9,195.3 L127.0,195.3 L128.2,195.4 L129.4,195.5 L130.5,195.6 L131.7,195.8 L132.8,196.0 L133.9,196.2 L135.0,196.4 L136.2,196.7 L137.4,197.0 L138.6,197.3 L139.8,197.6 L140.9,198.0 L141.9,198.3 L142.9,198.6 L143.8,198.9 L144.6,199.2 L145.2,199.4 L145.8,199.7 L146.3,199.8 L146.8,200.0 L147.2,200.2 L147.6,200.4 L148.0,200.6 L148.5,200.9 L148.9,201.2 L149.4,201.5 L149.8,201.9 L150.4,202.3 L150.9,202.8 L151.4,203.4 L151.9,203.9 L152.4,204.4 L152.9,204.9 L153.3,205.3 L153.6,205.6 L154.6,206.4 L155.9,206.5 L157.1,205.9 L157.9,204.9 L158.0,203.6 L157.4,202.4 L157.2,202.1 L156.9,201.7 L156.6,201.1 L156.2,200.5 L155.7,199.8 L155.2,199.1 L154.7,198.4 L154.1,197.7 L153.5,197.0 L152.9,196.4 L152.3,195.9 L151.8,195.4 L151.2,195.0 L150.6,194.5 L150.0,194.1 L149.4,193.7 L148.7,193.3 L147.9,193.0 L147.1,192.6 L146.2,192.3 L145.2,191.9 L144.2,191.6 L143.0,191.2 L141.8,190.8 L140.5,190.4 L139.2,190.1 L137.9,189.7 L136.6,189.4 L135.3,189.1 L134.0,188.8 L132.8,188.6 L131.5,188.4 L130.2,188.3 L128.8,188.1 L127.5,188.0 L126.3,187.9 L125.0,187.8 L123.8,187.8 L122.7,187.8 L121.6,187.8 L120.5,187.8 L119.5,187.9 L118.6,188.1 L117.8,188.2 L117.0,188.4 L116.2,188.6 L115.6,188.8 L114.9,189.0 L114.3,189.2 L113.6,189.3 L112.8,189.5 L111.9,189.7 L111.1,189.9 L110.2,190.2 L109.3,190.4 L108.5,190.6 L107.6,190.8 L106.6,191.1 L105.7,191.3 L104.7,191.6 L103.7,191.8 L102.7,192.1 L101.6,192.3 L100.5,192.6 L99.4,192.8 L98.3,193.1 L97.2,193.4 L96.1,193.6 L95.0,193.9 L93.9,194.2 L92.8,194.4 L91.7,194.7 L90.6,194.9 L89.5,195.2 L88.4,195.4 L87.3,195.7 L86.2,195.9 L85.2,196.1 L84.1,196.3 L83.1,196.5 L82.0,196.7 L80.9,196.9 L79.9,197.1 L78.8,197.2 L77.8,197.4 L76.8,197.5 L75.7,197.6 L74.7,197.7 L73.7,197.8 L72.8,197.8 L71.8,197.8 L70.8,197.8 L69.8,197.7 L68.7,197.7 L67.7,197.6 L66.6,197.5 L65.5,197.4 L64.4,197.3 L63.3,197.2 L62.2,197.1 L61.0,197.0 L59.9,197.0 L58.8,196.9 L57.7,196.9 L56.6,196.9 L55.6,196.8 L54.7,196.7 L53.9,196.6 L53.2,196.5 L52.6,196.3 L52.1,196.2 L51.6,195.9 L51.1,195.6 L50.5,195.3 L49.9,195.0 L49.4,194.6 L48.8,194.2 L48.3,193.8 L47.8,193.4 L47.3,193.1 L45.1,192.5 L42.8,193.1 L41.1,194.7 L40.5,196.9 L41.1,199.2 Z" fill="#fff"/><ellipse cx="46.50" cy="196.00" rx="5.50" ry="6.50" transform="rotate(0 46.50 196.00)" fill="#fff"/></mask></defs>
<g mask="url(#mk0)"><rect x="33.5" y="159.2" width="163.0" height="54.8" fill="#7a2892"/><path d="M44.4,198.6 L44.9,198.4 L45.4,198.2 L46.0,197.9 L46.7,197.6 L47.4,197.3 L48.2,197.0 L49.0,196.7 L49.7,196.5 L50.5,196.2 L51.3,196.0 L52.2,195.9 L53.1,195.8 L54.1,195.7 L55.1,195.7 L56.2,195.7 L57.4,195.7 L58.6,195.7 L59.7,195.7 L60.9,195.6 L62.1,195.5 L63.2,195.4 L64.3,195.3 L65.4,195.2 L66.5,195.1 L67.7,195.0 L68.8,194.8 L70.0,194.6 L71.2,194.4 L72.4,194.1 L73.6,193.8 L74.8,193.4 L76.0,192.9 L77.2,192.4 L78.3,191.9 L79.4,191.3 L80.5,190.8 L81.6,190.2 L82.7,189.7 L83.7,189.2 L84.8,188.7 L85.8,188.2 L86.9,187.7 L88.0,187.3 L89.1,186.8 L90.2,186.4 L91.3,185.9 L92.4,185.5 L93.5,185.0 L94.6,184.5 L95.7,184.1 L96.8,183.6 L98.0,183.1 L99.1,182.6 L100.2,182.1 L101.3,181.6 L102.4,181.1 L103.5,180.6 L104.6,180.2 L105.6,179.8 L106.5,179.4 L107.5,179.0 L108.4,178.7 L109.2,178.4 L110.1,178.1 L111.0,177.9 L111.9,177.6 L112.8,177.3 L113.6,177.0 L114.5,176.7 L115.4,176.3 L116.3,175.9 L117.2,175.4 L117.9,174.9 L118.6,174.4 L119.2,174.0 L119.8,173.6 L120.4,173.2 L121.0,172.9 L121.6,172.6 L122.3,172.4 L123.2,172.2 L124.1,172.0 L125.2,171.9 L126.3,171.7 L127.4,171.6 L128.6,171.6 L129.8,171.5 L131.0,171.5 L132.2,171.5 L133.4,171.5 L134.5,171.5 L135.6,171.5 L136.7,171.6 L137.8,171.7 L138.9,171.8 L140.1,172.0 L141.2,172.1 L142.3,172.3 L143.4,172.5 L144.6,172.7 L145.7,172.9 L146.8,173.2 L148.0,173.5 L149.1,173.8 L150.2,174.1 L151.4,174.4 L152.5,174.7 L153.7,175.1 L154.9,175.5 L156.0,175.8 L157.2,176.2 L158.3,176.6 L159.4,177.0 L160.6,177.4 L161.8,177.9 L163.0,178.3 L164.2,178.7 L165.4,179.1 L166.6,179.4 L167.9,179.7 L169.1,180.0 L170.4,180.2 L171.7,180.4 L173.0,180.6 L174.3,180.8 L175.5,180.9 L176.7,181.1 L177.9,181.2 L178.9,181.3 L179.9,181.4 L180.8,181.5 L181.7,181.5 L182.5,181.5 L183.3,181.5 L184.0,181.5 L184.6,181.5 L185.2,181.5 L185.7,181.5 L186.1,181.5 L186.5,181.4 L186.9,181.3 L187.3,181.0 L187.4,180.5 L187.3,180.1 L187.0,179.7 L186.5,179.6 L186.2,179.5 L185.7,179.5 L185.2,179.4 L184.7,179.4 L184.1,179.4 L183.4,179.3 L182.7,179.2 L181.9,179.1 L181.1,179.0 L180.3,178.8 L179.4,178.6 L178.3,178.4 L177.2,178.1 L176.1,177.9 L174.9,177.6 L173.7,177.3 L172.4,177.0 L171.2,176.6 L170.1,176.3 L168.9,175.9 L167.8,175.5 L166.7,175.1 L165.6,174.6 L164.5,174.2 L163.3,173.7 L162.2,173.3 L161.0,172.9 L159.8,172.4 L158.6,172.0 L157.4,171.6 L156.2,171.2 L155.0,170.8 L153.8,170.5 L152.6,170.1 L151.5,169.8 L150.3,169.4 L149.1,169.1 L147.8,168.8 L146.6,168.6 L145.4,168.3 L144.2,168.1 L143.0,167.9 L141.9,167.7 L140.7,167.5 L139.5,167.4 L138.3,167.2 L137.1,167.1 L135.9,167.0 L134.6,167.0 L133.4,166.9 L132.2,166.9 L131.0,166.9 L129.7,167.0 L128.4,167.0 L127.1,167.1 L125.8,167.2 L124.6,167.3 L123.4,167.5 L122.2,167.7 L121.1,168.0 L120.0,168.3 L119.0,168.8 L118.1,169.2 L117.3,169.7 L116.6,170.2 L116.0,170.7 L115.3,171.1 L114.8,171.5 L114.2,171.8 L113.6,172.1 L112.9,172.4 L112.1,172.7 L111.3,172.9 L110.5,173.2 L109.7,173.4 L108.8,173.7 L107.8,174.0 L106.9,174.3 L105.9,174.7 L104.9,175.0 L103.8,175.5 L102.8,175.9 L101.7,176.3 L100.6,176.8 L99.4,177.3 L98.3,177.8 L97.2,178.3 L96.1,178.8 L95.0,179.3 L93.9,179.7 L92.8,180.2 L91.7,180.6 L90.6,181.1 L89.5,181.5 L88.4,182.0 L87.3,182.5 L86.2,182.9 L85.1,183.4 L84.0,183.8 L82.8,184.3 L81.7,184.8 L80.6,185.4 L79.4,186.0 L78.4,186.5 L77.3,187.1 L76.2,187.6 L75.2,188.1 L74.2,188.5 L73.2,188.9 L72.2,189.2 L71.2,189.5 L70.2,189.7 L69.2,189.9 L68.2,190.1 L67.1,190.2 L66.0,190.3 L65.0,190.4 L63.9,190.5 L62.8,190.6 L61.7,190.7 L60.6,190.8 L59.6,190.8 L58.5,190.8 L57.4,190.8 L56.2,190.8 L55.1,190.8 L54.0,190.9 L52.8,190.9 L51.7,190.9 L50.7,191.0 L49.6,191.1 L48.6,191.2 L47.6,191.3 L46.6,191.5 L45.7,191.7 L44.9,191.9 L44.1,192.1 L43.5,192.2 L43.0,192.4 L42.6,192.4 L41.2,193.3 L40.4,194.7 L40.4,196.4 L41.3,197.8 L42.7,198.6 Z" fill="#cc3088" filter="url(#blur1)"/><path d="M43.4,199.7 L43.7,199.9 L44.1,200.2 L44.6,200.5 L45.2,200.9 L46.0,201.3 L46.8,201.8 L47.7,202.3 L48.6,202.7 L49.7,203.1 L50.7,203.4 L51.8,203.6 L52.9,203.8 L54.0,203.9 L55.2,204.0 L56.3,204.0 L57.4,204.0 L58.5,204.1 L59.6,204.1 L60.7,204.1 L61.7,204.2 L62.8,204.2 L63.8,204.3 L64.9,204.4 L66.0,204.5 L67.2,204.6 L68.3,204.6 L69.5,204.7 L70.6,204.7 L71.8,204.7 L73.0,204.7 L74.2,204.6 L75.3,204.5 L76.5,204.4 L77.6,204.3 L78.7,204.1 L79.9,204.0 L81.0,203.8 L82.1,203.6 L83.2,203.4 L84.3,203.2 L85.4,203.0 L86.5,202.7 L87.7,202.5 L88.8,202.2 L89.9,201.9 L91.0,201.7 L92.1,201.4 L93.2,201.1 L94.3,200.8 L95.4,200.6 L96.5,200.3 L97.6,200.0 L98.8,199.7 L99.9,199.5 L101.0,199.2 L102.1,198.9 L103.2,198.6 L104.3,198.3 L105.3,198.0 L106.3,197.8 L107.3,197.5 L108.3,197.3 L109.2,197.0 L110.1,196.8 L111.0,196.5 L111.8,196.3 L112.7,196.0 L113.5,195.8 L114.3,195.6 L115.1,195.4 L115.9,195.2 L116.6,195.0 L117.3,194.8 L118.0,194.6 L118.5,194.4 L119.1,194.3 L119.7,194.2 L120.3,194.1 L121.0,194.0 L121.8,193.9 L122.7,193.9 L123.7,193.9 L124.8,193.9 L125.9,194.0 L127.1,194.0 L128.3,194.1 L129.5,194.2 L130.7,194.4 L131.9,194.5 L133.0,194.7 L134.1,194.9 L135.3,195.1 L136.5,195.4 L137.7,195.7 L138.9,196.0 L140.1,196.4 L141.3,196.7 L142.3,197.0 L143.3,197.4 L144.2,197.7 L145.0,198.0 L145.7,198.2 L146.3,198.5 L146.9,198.7 L147.4,198.9 L147.9,199.1 L148.3,199.3 L148.8,199.6 L149.3,199.9 L149.8,200.2 L150.3,200.5 L150.8,201.0 L151.3,201.5 L151.9,202.0 L152.4,202.5 L153.0,203.1 L153.5,203.6 L153.9,204.1 L154.3,204.5 L154.6,204.8 L155.1,205.1 L155.7,205.2 L156.3,204.9 L156.6,204.4 L156.7,203.8 L156.4,203.2 L156.2,202.9 L155.9,202.5 L155.5,201.9 L155.1,201.3 L154.7,200.7 L154.2,200.0 L153.7,199.3 L153.2,198.6 L152.6,198.0 L152.0,197.4 L151.5,196.9 L151.0,196.5 L150.5,196.1 L149.9,195.7 L149.4,195.3 L148.8,194.9 L148.1,194.5 L147.4,194.2 L146.6,193.9 L145.8,193.5 L144.8,193.2 L143.7,192.8 L142.6,192.4 L141.4,192.0 L140.2,191.7 L138.9,191.3 L137.6,191.0 L136.3,190.7 L135.1,190.4 L133.8,190.1 L132.6,189.9 L131.3,189.7 L130.0,189.5 L128.7,189.4 L127.5,189.3 L126.2,189.2 L125.0,189.1 L123.8,189.1 L122.7,189.1 L121.6,189.1 L120.6,189.1 L119.7,189.2 L118.8,189.3 L118.0,189.5 L117.3,189.7 L116.6,189.9 L115.9,190.0 L115.3,190.2 L114.6,190.4 L113.9,190.6 L113.1,190.8 L112.3,191.0 L111.4,191.2 L110.5,191.4 L109.7,191.6 L108.8,191.9 L107.9,192.1 L107.0,192.3 L106.0,192.6 L105.1,192.8 L104.1,193.1 L103.0,193.3 L102.0,193.6 L100.9,193.8 L99.8,194.1 L98.6,194.4 L97.5,194.6 L96.4,194.9 L95.3,195.2 L94.2,195.4 L93.1,195.7 L92.0,195.9 L90.9,196.2 L89.8,196.5 L88.7,196.7 L87.6,197.0 L86.5,197.2 L85.4,197.4 L84.4,197.6 L83.3,197.8 L82.2,198.0 L81.2,198.2 L80.1,198.3 L79.0,198.5 L78.0,198.6 L76.9,198.8 L75.9,198.9 L74.8,199.0 L73.8,199.0 L72.8,199.1 L71.8,199.1 L70.8,199.1 L69.7,199.0 L68.7,199.0 L67.6,198.9 L66.5,198.8 L65.4,198.7 L64.3,198.6 L63.2,198.5 L62.1,198.4 L61.0,198.3 L59.8,198.3 L58.7,198.2 L57.6,198.2 L56.6,198.2 L55.5,198.1 L54.6,198.0 L53.7,197.9 L52.9,197.8 L52.3,197.6 L51.7,197.4 L51.1,197.1 L50.5,196.8 L49.8,196.4 L49.2,196.1 L48.7,195.7 L48.1,195.3 L47.6,194.9 L47.1,194.5 L46.6,194.3 L45.0,193.8 L43.4,194.2 L42.3,195.4 L41.8,197.0 L42.2,198.6 Z" fill="#cc3088" filter="url(#blur1)"/><path d="M115.6,170.9a3.0,3.0 0 1,0 6.0,0a3.0,3.0 0 1,0 -6.0,0M48.9,193.4a3.0,3.0 0 1,0 6.0,0a3.0,3.0 0 1,0 -6.0,0M45.8,193.5a3.0,3.0 0 1,0 6.0,0a3.0,3.0 0 1,0 -6.0,0M50.6,191.3a3.0,3.0 0 1,0 6.0,0a3.0,3.0 0 1,0 -6.0,0M101.3,179.4a3.0,3.0 0 1,0 6.0,0a3.0,3.0 0 1,0 -6.0,0M58.6,191.8a3.0,3.0 0 1,0 6.0,0a3.0,3.0 0 1,0 -6.0,0M129.3,171.2a3.0,3.0 0 1,0 6.0,0a3.0,3.0 0 1,0 -6.0,0M121.7,169.2a3.0,3.0 0 1,0 6.0,0a3.0,3.0 0 1,0 -6.0,0M180.0,179.4a3.0,3.0 0 1,0 6.0,0a3.0,3.0 0 1,0 -6.0,0M163.0,176.1a3.0,3.0 0 1,0 6.0,0a3.0,3.0 0 1,0 -6.0,0M61.6,191.0a3.0,3.0 0 1,0 6.0,0a3.0,3.0 0 1,0 -6.0,0M85.3,186.2a3.0,3.0 0 1,0 6.0,0a3.0,3.0 0 1,0 -6.0,0M67.3,192.5a3.0,3.0 0 1,0 6.0,0a3.0,3.0 0 1,0 -6.0,0M116.7,168.8a3.0,3.0 0 1,0 6.0,0a3.0,3.0 0 1,0 -6.0,0M49.0,191.9a3.0,3.0 0 1,0 6.0,0a3.0,3.0 0 1,0 -6.0,0M85.7,184.9a3.0,3.0 0 1,0 6.0,0a3.0,3.0 0 1,0 -6.0,0M104.4,175.6a3.0,3.0 0 1,0 6.0,0a3.0,3.0 0 1,0 -6.0,0M153.4,174.5a3.0,3.0 0 1,0 6.0,0a3.0,3.0 0 1,0 -6.0,0M76.2,189.2a3.0,3.0 0 1,0 6.0,0a3.0,3.0 0 1,0 -6.0,0M115.6,173.7a3.0,3.0 0 1,0 6.0,0a3.0,3.0 0 1,0 -6.0,0M180.6,179.6a3.0,3.0 0 1,0 6.0,0a3.0,3.0 0 1,0 -6.0,0M100.3,179.5a3.0,3.0 0 1,0 6.0,0a3.0,3.0 0 1,0 -6.0,0M62.9,192.7a3.0,3.0 0 1,0 6.0,0a3.0,3.0 0 1,0 -6.0,0M46.3,194.7a3.0,3.0 0 1,0 6.0,0a3.0,3.0 0 1,0 -6.0,0M139.3,170.4a3.0,3.0 0 1,0 6.0,0a3.0,3.0 0 1,0 -6.0,0M122.1,169.4a3.0,3.0 0 1,0 6.0,0a3.0,3.0 0 1,0 -6.0,0M159.4,177.9a3.0,3.0 0 1,0 6.0,0a3.0,3.0 0 1,0 -6.0,0M49.4,194.4a3.0,3.0 0 1,0 6.0,0a3.0,3.0 0 1,0 -6.0,0M157.9,174.2a3.0,3.0 0 1,0 6.0,0a3.0,3.0 0 1,0 -6.0,0M43.7,194.3a3.0,3.0 0 1,0 6.0,0a3.0,3.0 0 1,0 -6.0,0M65.1,190.6a3.0,3.0 0 1,0 6.0,0a3.0,3.0 0 1,0 -6.0,0M49.1,194.7a3.0,3.0 0 1,0 6.0,0a3.0,3.0 0 1,0 -6.0,0M59.4,191.8a3.0,3.0 0 1,0 6.0,0a3.0,3.0 0 1,0 -6.0,0M52.3,193.0a3.0,3.0 0 1,0 6.0,0a3.0,3.0 0 1,0 -6.0,0M118.4,172.2a3.0,3.0 0 1,0 6.0,0a3.0,3.0 0 1,0 -6.0,0M156.7,176.4a3.0,3.0 0 1,0 6.0,0a3.0,3.0 0 1,0 -6.0,0M80.5,186.2a3.0,3.0 0 1,0 6.0,0a3.0,3.0 0 1,0 -6.0,0M177.3,179.2a3.0,3.0 0 1,0 6.0,0a3.0,3.0 0 1,0 -6.0,0M66.3,191.0a3.0,3.0 0 1,0 6.0,0a3.0,3.0 0 1,0 -6.0,0M123.4,168.4a3.0,3.0 0 1,0 6.0,0a3.0,3.0 0 1,0 -6.0,0M40.9,194.8a3.0,3.0 0 1,0 6.0,0a3.0,3.0 0 1,0 -6.0,0M176.4,180.5a3.0,3.0 0 1,0 6.0,0a3.0,3.0 0 1,0 -6.0,0M113.7,173.6a3.0,3.0 0 1,0 6.0,0a3.0,3.0 0 1,0 -6.0,0M55.7,193.9a3.0,3.0 0 1,0 6.0,0a3.0,3.0 0 1,0 -6.0,0M49.4,191.2a3.0,3.0 0 1,0 6.0,0a3.0,3.0 0 1,0 -6.0,0M39.9,193.3a3.0,3.0 0 1,0 6.0,0a3.0,3.0 0 1,0 -6.0,0M55.4,192.6a3.0,3.0 0 1,0 6.0,0a3.0,3.0 0 1,0 -6.0,0M44.8,196.4a3.0,3.0 0 1,0 6.0,0a3.0,3.0 0 1,0 -6.0,0M127.2,167.6a3.0,3.0 0 1,0 6.0,0a3.0,3.0 0 1,0 -6.0,0M76.8,187.6a3.0,3.0 0 1,0 6.0,0a3.0,3.0 0 1,0 -6.0,0M160.6,178.5a3.0,3.0 0 1,0 6.0,0a3.0,3.0 0 1,0 -6.0,0M53.1,191.3a3.0,3.0 0 1,0 6.0,0a3.0,3.0 0 1,0 -6.0,0M159.1,174.0a3.0,3.0 0 1,0 6.0,0a3.0,3.0 0 1,0 -6.0,0M44.5,197.0a3.0,3.0 0 1,0 6.0,0a3.0,3.0 0 1,0 -6.0,0M114.0,170.7a3.0,3.0 0 1,0 6.0,0a3.0,3.0 0 1,0 -6.0,0M102.9,192.8a3.0,3.0 0 1,0 6.0,0a3.0,3.0 0 1,0 -6.0,0M102.4,197.9a3.0,3.0 0 1,0 6.0,0a3.0,3.0 0 1,0 -6.0,0M71.3,201.1a3.0,3.0 0 1,0 6.0,0a3.0,3.0 0 1,0 -6.0,0M60.3,203.0a3.0,3.0 0 1,0 6.0,0a3.0,3.0 0 1,0 -6.0,0M102.6,196.8a3.0,3.0 0 1,0 6.0,0a3.0,3.0 0 1,0 -6.0,0M79.0,199.3a3.0,3.0 0 1,0 6.0,0a3.0,3.0 0 1,0 -6.0,0M133.6,195.4a3.0,3.0 0 1,0 6.0,0a3.0,3.0 0 1,0 -6.0,0M134.6,194.5a3.0,3.0 0 1,0 6.0,0a3.0,3.0 0 1,0 -6.0,0M67.4,202.0a3.0,3.0 0 1,0 6.0,0a3.0,3.0 0 1,0 -6.0,0M81.8,197.7a3.0,3.0 0 1,0 6.0,0a3.0,3.0 0 1,0 -6.0,0M45.4,197.6a3.0,3.0 0 1,0 6.0,0a3.0,3.0 0 1,0 -6.0,0M71.2,202.9a3.0,3.0 0 1,0 6.0,0a3.0,3.0 0 1,0 -6.0,0M149.4,200.0a3.0,3.0 0 1,0 6.0,0a3.0,3.0 0 1,0 -6.0,0M146.5,200.0a3.0,3.0 0 1,0 6.0,0a3.0,3.0 0 1,0 -6.0,0M149.5,199.7a3.0,3.0 0 1,0 6.0,0a3.0,3.0 0 1,0 -6.0,0M66.7,200.3a3.0,3.0 0 1,0 6.0,0a3.0,3.0 0 1,0 -6.0,0M64.0,200.0a3.0,3.0 0 1,0 6.0,0a3.0,3.0 0 1,0 -6.0,0M50.8,201.8a3.0,3.0 0 1,0 6.0,0a3.0,3.0 0 1,0 -6.0,0M144.4,197.9a3.0,3.0 0 1,0 6.0,0a3.0,3.0 0 1,0 -6.0,0M127.1,191.8a3.0,3.0 0 1,0 6.0,0a3.0,3.0 0 1,0 -6.0,0M61.7,203.2a3.0,3.0 0 1,0 6.0,0a3.0,3.0 0 1,0 -6.0,0M79.9,202.3a3.0,3.0 0 1,0 6.0,0a3.0,3.0 0 1,0 -6.0,0M150.7,201.2a3.0,3.0 0 1,0 6.0,0a3.0,3.0 0 1,0 -6.0,0M88.0,201.4a3.0,3.0 0 1,0 6.0,0a3.0,3.0 0 1,0 -6.0,0M124.3,190.1a3.0,3.0 0 1,0 6.0,0a3.0,3.0 0 1,0 -6.0,0M55.9,199.1a3.0,3.0 0 1,0 6.0,0a3.0,3.0 0 1,0 -6.0,0M143.9,197.8a3.0,3.0 0 1,0 6.0,0a3.0,3.0 0 1,0 -6.0,0M57.9,203.1a3.0,3.0 0 1,0 6.0,0a3.0,3.0 0 1,0 -6.0,0M150.7,202.5a3.0,3.0 0 1,0 6.0,0a3.0,3.0 0 1,0 -6.0,0M81.7,200.6a3.0,3.0 0 1,0 6.0,0a3.0,3.0 0 1,0 -6.0,0M56.4,198.4a3.0,3.0 0 1,0 6.0,0a3.0,3.0 0 1,0 -6.0,0M150.0,201.7a3.0,3.0 0 1,0 6.0,0a3.0,3.0 0 1,0 -6.0,0M102.2,197.7a3.0,3.0 0 1,0 6.0,0a3.0,3.0 0 1,0 -6.0,0M91.6,200.1a3.0,3.0 0 1,0 6.0,0a3.0,3.0 0 1,0 -6.0,0M70.3,200.7a3.0,3.0 0 1,0 6.0,0a3.0,3.0 0 1,0 -6.0,0M69.0,202.4a3.0,3.0 0 1,0 6.0,0a3.0,3.0 0 1,0 -6.0,0M71.2,201.4a3.0,3.0 0 1,0 6.0,0a3.0,3.0 0 1,0 -6.0,0M56.2,203.6a3.0,3.0 0 1,0 6.0,0a3.0,3.0 0 1,0 -6.0,0M82.0,200.0a3.0,3.0 0 1,0 6.0,0a3.0,3.0 0 1,0 -6.0,0M108.5,195.9a3.0,3.0 0 1,0 6.0,0a3.0,3.0 0 1,0 -6.0,0M90.2,200.7a3.0,3.0 0 1,0 6.0,0a3.0,3.0 0 1,0 -6.0,0M100.7,193.3a3.0,3.0 0 1,0 6.0,0a3.0,3.0 0 1,0 -6.0,0M91.5,196.4a3.0,3.0 0 1,0 6.0,0a3.0,3.0 0 1,0 -6.0,0M41.4,198.8a3.0,3.0 0 1,0 6.0,0a3.0,3.0 0 1,0 -6.0,0M61.1,201.3a3.0,3.0 0 1,0 6.0,0a3.0,3.0 0 1,0 -6.0,0M124.2,191.9a3.0,3.0 0 1,0 6.0,0a3.0,3.0 0 1,0 -6.0,0M78.9,200.9a3.0,3.0 0 1,0 6.0,0a3.0,3.0 0 1,0 -6.0,0M105.2,196.1a3.0,3.0 0 1,0 6.0,0a3.0,3.0 0 1,0 -6.0,0M53.4,201.4a3.0,3.0 0 1,0 6.0,0a3.0,3.0 0 1,0 -6.0,0M69.9,200.6a3.0,3.0 0 1,0 6.0,0a3.0,3.0 0 1,0 -6.0,0M129.7,192.3a3.0,3.0 0 1,0 6.0,0a3.0,3.0 0 1,0 -6.0,0M105.9,195.8a3.0,3.0 0 1,0 6.0,0a3.0,3.0 0 1,0 -6.0,0M145.3,196.8a3.0,3.0 0 1,0 6.0,0a3.0,3.0 0 1,0 -6.0,0M111.3,193.1a3.0,3.0 0 1,0 6.0,0a3.0,3.0 0 1,0 -6.0,0M93.3,197.8a3.0,3.0 0 1,0 6.0,0a3.0,3.0 0 1,0 -6.0,0M148.6,198.3a3.0,3.0 0 1,0 6.0,0a3.0,3.0 0 1,0 -6.0,0M105.9,196.8a3.0,3.0 0 1,0 6.0,0a3.0,3.0 0 1,0 -6.0,0M55.2,200.8a3.0,3.0 0 1,0 6.0,0a3.0,3.0 0 1,0 -6.0,0" fill="#2b2f8f" opacity="1.00" filter="url(#blurH)"/><path d="M43.50,195.50 C44.75,195.17 47.93,193.90 51.00,193.50 C54.07,193.10 58.25,193.43 61.90,193.10 C65.55,192.77 69.25,192.60 72.90,191.50 C76.55,190.40 80.15,188.10 83.80,186.50 C87.45,184.90 91.15,183.45 94.80,181.90 C98.45,180.35 102.42,178.48 105.70,177.20 C108.98,175.92 111.83,175.37 114.50,174.20 C117.17,173.03 118.55,171.03 121.70,170.20 C124.85,169.37 129.52,169.15 133.40,169.20 C137.28,169.25 141.12,169.75 145.00,170.50 C148.88,171.25 152.80,172.48 156.70,173.70 C160.60,174.92 164.50,176.73 168.40,177.80 C172.30,178.87 177.08,179.65 180.10,180.10 C183.12,180.55 185.43,180.43 186.50,180.50" pathLength="100" fill="none" stroke="#f3913b" stroke-opacity="0.85" stroke-width="9.00" stroke-dasharray="0 32.93 6.02 300" filter="url(#blurS)"/><path d="M43.50,195.50 C44.75,195.17 47.93,193.90 51.00,193.50 C54.07,193.10 58.25,193.43 61.90,193.10 C65.55,192.77 69.25,192.60 72.90,191.50 C76.55,190.40 80.15,188.10 83.80,186.50 C87.45,184.90 91.15,183.45 94.80,181.90 C98.45,180.35 102.42,178.48 105.70,177.20 C108.98,175.92 111.83,175.37 114.50,174.20 C117.17,173.03 118.55,171.03 121.70,170.20 C124.85,169.37 129.52,169.15 133.40,169.20 C137.28,169.25 141.12,169.75 145.00,170.50 C148.88,171.25 152.80,172.48 156.70,173.70 C160.60,174.92 164.50,176.73 168.40,177.80 C172.30,178.87 177.08,179.65 180.10,180.10 C183.12,180.55 185.43,180.43 186.50,180.50" pathLength="100" fill="none" stroke="#f4d84a" stroke-opacity="0.80" stroke-width="9.00" stroke-dasharray="0 34.74 2.41 300" filter="url(#blurS)"/><path d="M43.50,195.50 C44.75,195.17 47.93,193.90 51.00,193.50 C54.07,193.10 58.25,193.43 61.90,193.10 C65.55,192.77 69.25,192.60 72.90,191.50 C76.55,190.40 80.15,188.10 83.80,186.50 C87.45,184.90 91.15,183.45 94.80,181.90 C98.45,180.35 102.42,178.48 105.70,177.20 C108.98,175.92 111.83,175.37 114.50,174.20 C117.17,173.03 118.55,171.03 121.70,170.20 C124.85,169.37 129.52,169.15 133.40,169.20 C137.28,169.25 141.12,169.75 145.00,170.50 C148.88,171.25 152.80,172.48 156.70,173.70 C160.60,174.92 164.50,176.73 168.40,177.80 C172.30,178.87 177.08,179.65 180.10,180.10 C183.12,180.55 185.43,180.43 186.50,180.50" pathLength="100" fill="none" stroke="#f3913b" stroke-opacity="0.70" stroke-width="9.00" stroke-dasharray="0 63.45 4.01 300" filter="url(#blurS)"/><path d="M43.50,195.50 C44.75,195.17 47.93,193.90 51.00,193.50 C54.07,193.10 58.25,193.43 61.90,193.10 C65.55,192.77 69.25,192.60 72.90,191.50 C76.55,190.40 80.15,188.10 83.80,186.50 C87.45,184.90 91.15,183.45 94.80,181.90 C98.45,180.35 102.42,178.48 105.70,177.20 C108.98,175.92 111.83,175.37 114.50,174.20 C117.17,173.03 118.55,171.03 121.70,170.20 C124.85,169.37 129.52,169.15 133.40,169.20 C137.28,169.25 141.12,169.75 145.00,170.50 C148.88,171.25 152.80,172.48 156.70,173.70 C160.60,174.92 164.50,176.73 168.40,177.80 C172.30,178.87 177.08,179.65 180.10,180.10 C183.12,180.55 185.43,180.43 186.50,180.50" pathLength="100" fill="none" stroke="#f3913b" stroke-opacity="0.80" stroke-width="9.00" stroke-dasharray="0 71.99 5.35 300" filter="url(#blurS)"/><path d="M43.50,195.50 C44.75,195.17 47.93,193.90 51.00,193.50 C54.07,193.10 58.25,193.43 61.90,193.10 C65.55,192.77 69.25,192.60 72.90,191.50 C76.55,190.40 80.15,188.10 83.80,186.50 C87.45,184.90 91.15,183.45 94.80,181.90 C98.45,180.35 102.42,178.48 105.70,177.20 C108.98,175.92 111.83,175.37 114.50,174.20 C117.17,173.03 118.55,171.03 121.70,170.20 C124.85,169.37 129.52,169.15 133.40,169.20 C137.28,169.25 141.12,169.75 145.00,170.50 C148.88,171.25 152.80,172.48 156.70,173.70 C160.60,174.92 164.50,176.73 168.40,177.80 C172.30,178.87 177.08,179.65 180.10,180.10 C183.12,180.55 185.43,180.43 186.50,180.50" pathLength="100" fill="none" stroke="#f4d84a" stroke-opacity="1.00" stroke-width="9.00" stroke-dasharray="0 73.33 2.67 300" filter="url(#blurS)"/><path d="M43.50,195.50 C44.75,195.17 47.93,193.90 51.00,193.50 C54.07,193.10 58.25,193.43 61.90,193.10 C65.55,192.77 69.25,192.60 72.90,191.50 C76.55,190.40 80.15,188.10 83.80,186.50 C87.45,184.90 91.15,183.45 94.80,181.90 C98.45,180.35 102.42,178.48 105.70,177.20 C108.98,175.92 111.83,175.37 114.50,174.20 C117.17,173.03 118.55,171.03 121.70,170.20 C124.85,169.37 129.52,169.15 133.40,169.20 C137.28,169.25 141.12,169.75 145.00,170.50 C148.88,171.25 152.80,172.48 156.70,173.70 C160.60,174.92 164.50,176.73 168.40,177.80 C172.30,178.87 177.08,179.65 180.10,180.10 C183.12,180.55 185.43,180.43 186.50,180.50" pathLength="100" fill="none" stroke="#e4436f" stroke-opacity="0.60" stroke-width="9.00" stroke-dasharray="0 19.89 4.01 300" filter="url(#blurS)"/><path d="M43.50,195.50 C44.75,195.17 47.93,193.90 51.00,193.50 C54.07,193.10 58.25,193.43 61.90,193.10 C65.55,192.77 69.25,192.60 72.90,191.50 C76.55,190.40 80.15,188.10 83.80,186.50 C87.45,184.90 91.15,183.45 94.80,181.90 C98.45,180.35 102.42,178.48 105.70,177.20 C108.98,175.92 111.83,175.37 114.50,174.20 C117.17,173.03 118.55,171.03 121.70,170.20 C124.85,169.37 129.52,169.15 133.40,169.20 C137.28,169.25 141.12,169.75 145.00,170.50 C148.88,171.25 152.80,172.48 156.70,173.70 C160.60,174.92 164.50,176.73 168.40,177.80 C172.30,178.87 177.08,179.65 180.10,180.10 C183.12,180.55 185.43,180.43 186.50,180.50" pathLength="100" fill="none" stroke="#e4436f" stroke-opacity="0.60" stroke-width="9.00" stroke-dasharray="0 46.14 4.01 300" filter="url(#blurS)"/><path d="M43.50,195.50 C44.75,195.17 47.93,193.90 51.00,193.50 C54.07,193.10 58.25,193.43 61.90,193.10 C65.55,192.77 69.25,192.60 72.90,191.50 C76.55,190.40 80.15,188.10 83.80,186.50 C87.45,184.90 91.15,183.45 94.80,181.90 C98.45,180.35 102.42,178.48 105.70,177.20 C108.98,175.92 111.83,175.37 114.50,174.20 C117.17,173.03 118.55,171.03 121.70,170.20 C124.85,169.37 129.52,169.15 133.40,169.20 C137.28,169.25 141.12,169.75 145.00,170.50 C148.88,171.25 152.80,172.48 156.70,173.70 C160.60,174.92 164.50,176.73 168.40,177.80 C172.30,178.87 177.08,179.65 180.10,180.10 C183.12,180.55 185.43,180.43 186.50,180.50" pathLength="100" fill="none" stroke="#e4436f" stroke-opacity="0.50" stroke-width="9.00" stroke-dasharray="0 87.45 3.34 300" filter="url(#blurS)"/><path d="M45.00,197.00 C46.08,197.58 48.68,199.78 51.50,200.50 C54.32,201.22 58.33,201.07 61.90,201.30 C65.47,201.53 69.25,202.03 72.90,201.90 C76.55,201.77 80.15,201.15 83.80,200.50 C87.45,199.85 91.15,198.87 94.80,198.00 C98.45,197.13 102.42,196.13 105.70,195.30 C108.98,194.47 111.83,193.63 114.50,193.00 C117.17,192.37 118.55,191.60 121.70,191.50 C124.85,191.40 129.52,191.72 133.40,192.40 C137.28,193.08 142.08,194.53 145.00,195.60 C147.92,196.67 149.15,197.40 150.90,198.80 C152.65,200.20 154.73,203.13 155.50,204.00" pathLength="100" fill="none" stroke="#f3913b" stroke-opacity="0.75" stroke-width="9.60" stroke-dasharray="0 63.52 6.01 300" filter="url(#blurS)"/><path d="M45.00,197.00 C46.08,197.58 48.68,199.78 51.50,200.50 C54.32,201.22 58.33,201.07 61.90,201.30 C65.47,201.53 69.25,202.03 72.90,201.90 C76.55,201.77 80.15,201.15 83.80,200.50 C87.45,199.85 91.15,198.87 94.80,198.00 C98.45,197.13 102.42,196.13 105.70,195.30 C108.98,194.47 111.83,193.63 114.50,193.00 C117.17,192.37 118.55,191.60 121.70,191.50 C124.85,191.40 129.52,191.72 133.40,192.40 C137.28,193.08 142.08,194.53 145.00,195.60 C147.92,196.67 149.15,197.40 150.90,198.80 C152.65,200.20 154.73,203.13 155.50,204.00" pathLength="100" fill="none" stroke="#e4436f" stroke-opacity="0.60" stroke-width="9.60" stroke-dasharray="0 62.24 8.59 300" filter="url(#blurS)"/><path d="M45.00,197.00 C46.08,197.58 48.68,199.78 51.50,200.50 C54.32,201.22 58.33,201.07 61.90,201.30 C65.47,201.53 69.25,202.03 72.90,201.90 C76.55,201.77 80.15,201.15 83.80,200.50 C87.45,199.85 91.15,198.87 94.80,198.00 C98.45,197.13 102.42,196.13 105.70,195.30 C108.98,194.47 111.83,193.63 114.50,193.00 C117.17,192.37 118.55,191.60 121.70,191.50 C124.85,191.40 129.52,191.72 133.40,192.40 C137.28,193.08 142.08,194.53 145.00,195.60 C147.92,196.67 149.15,197.40 150.90,198.80 C152.65,200.20 154.73,203.13 155.50,204.00" pathLength="100" fill="none" stroke="#e4436f" stroke-opacity="0.50" stroke-width="9.60" stroke-dasharray="0 46.76 4.30 300" filter="url(#blurS)"/><path d="M45.00,197.00 C46.08,197.58 48.68,199.78 51.50,200.50 C54.32,201.22 58.33,201.07 61.90,201.30 C65.47,201.53 69.25,202.03 72.90,201.90 C76.55,201.77 80.15,201.15 83.80,200.50 C87.45,199.85 91.15,198.87 94.80,198.00 C98.45,197.13 102.42,196.13 105.70,195.30 C108.98,194.47 111.83,193.63 114.50,193.00 C117.17,192.37 118.55,191.60 121.70,191.50 C124.85,191.40 129.52,191.72 133.40,192.40 C137.28,193.08 142.08,194.53 145.00,195.60 C147.92,196.67 149.15,197.40 150.90,198.80 C152.65,200.20 154.73,203.13 155.50,204.00" pathLength="100" fill="none" stroke="#e4436f" stroke-opacity="0.60" stroke-width="9.60" stroke-dasharray="0 82.96 4.30 300" filter="url(#blurS)"/></g>
<path d="M117.4,170.9a1.2,1.2 0 1,0 2.4,0a1.2,1.2 0 1,0 -2.4,0M50.7,193.4a1.2,1.2 0 1,0 2.4,0a1.2,1.2 0 1,0 -2.4,0M47.6,193.5a1.2,1.2 0 1,0 2.4,0a1.2,1.2 0 1,0 -2.4,0M52.4,191.3a1.2,1.2 0 1,0 2.4,0a1.2,1.2 0 1,0 -2.4,0M103.1,179.4a1.2,1.2 0 1,0 2.4,0a1.2,1.2 0 1,0 -2.4,0M60.4,191.8a1.2,1.2 0 1,0 2.4,0a1.2,1.2 0 1,0 -2.4,0M131.1,171.2a1.2,1.2 0 1,0 2.4,0a1.2,1.2 0 1,0 -2.4,0M123.5,169.2a1.2,1.2 0 1,0 2.4,0a1.2,1.2 0 1,0 -2.4,0M181.8,179.4a1.2,1.2 0 1,0 2.4,0a1.2,1.2 0 1,0 -2.4,0M164.8,176.1a1.2,1.2 0 1,0 2.4,0a1.2,1.2 0 1,0 -2.4,0M63.4,191.0a1.2,1.2 0 1,0 2.4,0a1.2,1.2 0 1,0 -2.4,0M87.2,186.2a1.2,1.2 0 1,0 2.4,0a1.2,1.2 0 1,0 -2.4,0M69.1,192.5a1.2,1.2 0 1,0 2.4,0a1.2,1.2 0 1,0 -2.4,0M118.6,168.8a1.2,1.2 0 1,0 2.4,0a1.2,1.2 0 1,0 -2.4,0M50.9,191.9a1.2,1.2 0 1,0 2.4,0a1.2,1.2 0 1,0 -2.4,0M87.5,184.9a1.2,1.2 0 1,0 2.4,0a1.2,1.2 0 1,0 -2.4,0M106.3,175.6a1.2,1.2 0 1,0 2.4,0a1.2,1.2 0 1,0 -2.4,0M155.3,174.5a1.2,1.2 0 1,0 2.4,0a1.2,1.2 0 1,0 -2.4,0M78.0,189.2a1.2,1.2 0 1,0 2.4,0a1.2,1.2 0 1,0 -2.4,0M117.4,173.7a1.2,1.2 0 1,0 2.4,0a1.2,1.2 0 1,0 -2.4,0M182.4,179.6a1.2,1.2 0 1,0 2.4,0a1.2,1.2 0 1,0 -2.4,0M102.1,179.5a1.2,1.2 0 1,0 2.4,0a1.2,1.2 0 1,0 -2.4,0M64.7,192.7a1.2,1.2 0 1,0 2.4,0a1.2,1.2 0 1,0 -2.4,0M48.1,194.7a1.2,1.2 0 1,0 2.4,0a1.2,1.2 0 1,0 -2.4,0M141.1,170.4a1.2,1.2 0 1,0 2.4,0a1.2,1.2 0 1,0 -2.4,0M124.0,169.4a1.2,1.2 0 1,0 2.4,0a1.2,1.2 0 1,0 -2.4,0M161.2,177.9a1.2,1.2 0 1,0 2.4,0a1.2,1.2 0 1,0 -2.4,0M51.2,194.4a1.2,1.2 0 1,0 2.4,0a1.2,1.2 0 1,0 -2.4,0M159.7,174.2a1.2,1.2 0 1,0 2.4,0a1.2,1.2 0 1,0 -2.4,0M45.5,194.3a1.2,1.2 0 1,0 2.4,0a1.2,1.2 0 1,0 -2.4,0M66.9,190.6a1.2,1.2 0 1,0 2.4,0a1.2,1.2 0 1,0 -2.4,0M51.0,194.7a1.2,1.2 0 1,0 2.4,0a1.2,1.2 0 1,0 -2.4,0M61.3,191.8a1.2,1.2 0 1,0 2.4,0a1.2,1.2 0 1,0 -2.4,0M54.1,193.0a1.2,1.2 0 1,0 2.4,0a1.2,1.2 0 1,0 -2.4,0M120.2,172.2a1.2,1.2 0 1,0 2.4,0a1.2,1.2 0 1,0 -2.4,0M158.5,176.4a1.2,1.2 0 1,0 2.4,0a1.2,1.2 0 1,0 -2.4,0M82.3,186.2a1.2,1.2 0 1,0 2.4,0a1.2,1.2 0 1,0 -2.4,0M179.1,179.2a1.2,1.2 0 1,0 2.4,0a1.2,1.2 0 1,0 -2.4,0M68.1,191.0a1.2,1.2 0 1,0 2.4,0a1.2,1.2 0 1,0 -2.4,0M125.3,168.4a1.2,1.2 0 1,0 2.4,0a1.2,1.2 0 1,0 -2.4,0M42.8,194.8a1.2,1.2 0 1,0 2.4,0a1.2,1.2 0 1,0 -2.4,0M178.3,180.5a1.2,1.2 0 1,0 2.4,0a1.2,1.2 0 1,0 -2.4,0M115.5,173.6a1.2,1.2 0 1,0 2.4,0a1.2,1.2 0 1,0 -2.4,0M57.5,193.9a1.2,1.2 0 1,0 2.4,0a1.2,1.2 0 1,0 -2.4,0M51.2,191.2a1.2,1.2 0 1,0 2.4,0a1.2,1.2 0 1,0 -2.4,0M41.7,193.3a1.2,1.2 0 1,0 2.4,0a1.2,1.2 0 1,0 -2.4,0M57.2,192.6a1.2,1.2 0 1,0 2.4,0a1.2,1.2 0 1,0 -2.4,0M46.6,196.4a1.2,1.2 0 1,0 2.4,0a1.2,1.2 0 1,0 -2.4,0M129.0,167.6a1.2,1.2 0 1,0 2.4,0a1.2,1.2 0 1,0 -2.4,0M78.6,187.6a1.2,1.2 0 1,0 2.4,0a1.2,1.2 0 1,0 -2.4,0M162.4,178.5a1.2,1.2 0 1,0 2.4,0a1.2,1.2 0 1,0 -2.4,0M54.9,191.3a1.2,1.2 0 1,0 2.4,0a1.2,1.2 0 1,0 -2.4,0M160.9,174.0a1.2,1.2 0 1,0 2.4,0a1.2,1.2 0 1,0 -2.4,0M46.4,197.0a1.2,1.2 0 1,0 2.4,0a1.2,1.2 0 1,0 -2.4,0M115.9,170.7a1.2,1.2 0 1,0 2.4,0a1.2,1.2 0 1,0 -2.4,0M104.7,192.8a1.2,1.2 0 1,0 2.4,0a1.2,1.2 0 1,0 -2.4,0M104.2,197.9a1.2,1.2 0 1,0 2.4,0a1.2,1.2 0 1,0 -2.4,0M73.2,201.1a1.2,1.2 0 1,0 2.4,0a1.2,1.2 0 1,0 -2.4,0M62.2,203.0a1.2,1.2 0 1,0 2.4,0a1.2,1.2 0 1,0 -2.4,0M104.5,196.8a1.2,1.2 0 1,0 2.4,0a1.2,1.2 0 1,0 -2.4,0M80.9,199.3a1.2,1.2 0 1,0 2.4,0a1.2,1.2 0 1,0 -2.4,0M135.4,195.4a1.2,1.2 0 1,0 2.4,0a1.2,1.2 0 1,0 -2.4,0M136.4,194.5a1.2,1.2 0 1,0 2.4,0a1.2,1.2 0 1,0 -2.4,0M69.2,202.0a1.2,1.2 0 1,0 2.4,0a1.2,1.2 0 1,0 -2.4,0M83.6,197.7a1.2,1.2 0 1,0 2.4,0a1.2,1.2 0 1,0 -2.4,0M47.3,197.6a1.2,1.2 0 1,0 2.4,0a1.2,1.2 0 1,0 -2.4,0M73.1,202.9a1.2,1.2 0 1,0 2.4,0a1.2,1.2 0 1,0 -2.4,0M151.2,200.0a1.2,1.2 0 1,0 2.4,0a1.2,1.2 0 1,0 -2.4,0M148.3,200.0a1.2,1.2 0 1,0 2.4,0a1.2,1.2 0 1,0 -2.4,0M151.3,199.7a1.2,1.2 0 1,0 2.4,0a1.2,1.2 0 1,0 -2.4,0M68.6,200.3a1.2,1.2 0 1,0 2.4,0a1.2,1.2 0 1,0 -2.4,0M65.9,200.0a1.2,1.2 0 1,0 2.4,0a1.2,1.2 0 1,0 -2.4,0M52.6,201.8a1.2,1.2 0 1,0 2.4,0a1.2,1.2 0 1,0 -2.4,0M146.2,197.9a1.2,1.2 0 1,0 2.4,0a1.2,1.2 0 1,0 -2.4,0M128.9,191.8a1.2,1.2 0 1,0 2.4,0a1.2,1.2 0 1,0 -2.4,0M63.5,203.2a1.2,1.2 0 1,0 2.4,0a1.2,1.2 0 1,0 -2.4,0M81.7,202.3a1.2,1.2 0 1,0 2.4,0a1.2,1.2 0 1,0 -2.4,0M152.5,201.2a1.2,1.2 0 1,0 2.4,0a1.2,1.2 0 1,0 -2.4,0M89.9,201.4a1.2,1.2 0 1,0 2.4,0a1.2,1.2 0 1,0 -2.4,0M126.1,190.1a1.2,1.2 0 1,0 2.4,0a1.2,1.2 0 1,0 -2.4,0M57.7,199.1a1.2,1.2 0 1,0 2.4,0a1.2,1.2 0 1,0 -2.4,0M145.7,197.8a1.2,1.2 0 1,0 2.4,0a1.2,1.2 0 1,0 -2.4,0M59.8,203.1a1.2,1.2 0 1,0 2.4,0a1.2,1.2 0 1,0 -2.4,0M152.5,202.5a1.2,1.2 0 1,0 2.4,0a1.2,1.2 0 1,0 -2.4,0M83.5,200.6a1.2,1.2 0 1,0 2.4,0a1.2,1.2 0 1,0 -2.4,0M58.2,198.4a1.2,1.2 0 1,0 2.4,0a1.2,1.2 0 1,0 -2.4,0M151.8,201.7a1.2,1.2 0 1,0 2.4,0a1.2,1.2 0 1,0 -2.4,0M104.0,197.7a1.2,1.2 0 1,0 2.4,0a1.2,1.2 0 1,0 -2.4,0M93.4,200.1a1.2,1.2 0 1,0 2.4,0a1.2,1.2 0 1,0 -2.4,0M72.1,200.7a1.2,1.2 0 1,0 2.4,0a1.2,1.2 0 1,0 -2.4,0M70.8,202.4a1.2,1.2 0 1,0 2.4,0a1.2,1.2 0 1,0 -2.4,0M73.0,201.4a1.2,1.2 0 1,0 2.4,0a1.2,1.2 0 1,0 -2.4,0M58.0,203.6a1.2,1.2 0 1,0 2.4,0a1.2,1.2 0 1,0 -2.4,0M83.8,200.0a1.2,1.2 0 1,0 2.4,0a1.2,1.2 0 1,0 -2.4,0M110.4,195.9a1.2,1.2 0 1,0 2.4,0a1.2,1.2 0 1,0 -2.4,0M92.0,200.7a1.2,1.2 0 1,0 2.4,0a1.2,1.2 0 1,0 -2.4,0M102.5,193.3a1.2,1.2 0 1,0 2.4,0a1.2,1.2 0 1,0 -2.4,0M93.3,196.4a1.2,1.2 0 1,0 2.4,0a1.2,1.2 0 1,0 -2.4,0M43.2,198.8a1.2,1.2 0 1,0 2.4,0a1.2,1.2 0 1,0 -2.4,0M62.9,201.3a1.2,1.2 0 1,0 2.4,0a1.2,1.2 0 1,0 -2.4,0M126.0,191.9a1.2,1.2 0 1,0 2.4,0a1.2,1.2 0 1,0 -2.4,0M80.7,200.9a1.2,1.2 0 1,0 2.4,0a1.2,1.2 0 1,0 -2.4,0M107.1,196.1a1.2,1.2 0 1,0 2.4,0a1.2,1.2 0 1,0 -2.4,0M55.2,201.4a1.2,1.2 0 1,0 2.4,0a1.2,1.2 0 1,0 -2.4,0M71.7,200.6a1.2,1.2 0 1,0 2.4,0a1.2,1.2 0 1,0 -2.4,0M131.5,192.3a1.2,1.2 0 1,0 2.4,0a1.2,1.2 0 1,0 -2.4,0M107.7,195.8a1.2,1.2 0 1,0 2.4,0a1.2,1.2 0 1,0 -2.4,0M147.2,196.8a1.2,1.2 0 1,0 2.4,0a1.2,1.2 0 1,0 -2.4,0M113.1,193.1a1.2,1.2 0 1,0 2.4,0a1.2,1.2 0 1,0 -2.4,0M95.1,197.8a1.2,1.2 0 1,0 2.4,0a1.2,1.2 0 1,0 -2.4,0M150.4,198.3a1.2,1.2 0 1,0 2.4,0a1.2,1.2 0 1,0 -2.4,0M107.7,196.8a1.2,1.2 0 1,0 2.4,0a1.2,1.2 0 1,0 -2.4,0M57.0,200.8a1.2,1.2 0 1,0 2.4,0a1.2,1.2 0 1,0 -2.4,0" fill="#e6f7da" stroke="#2a3a2a" stroke-width="0.55"/>
<defs><mask id="mk1" maskUnits="userSpaceOnUse" x="0" y="0" width="685" height="652"><path d="M199.4,191.8 L199.9,191.6 L200.5,191.5 L201.2,191.2 L201.9,191.0 L202.6,190.8 L203.4,190.6 L204.2,190.4 L205.0,190.2 L205.8,190.1 L206.7,190.0 L207.6,189.9 L208.7,189.9 L209.9,189.9 L211.2,190.0 L212.6,190.0 L214.0,190.0 L215.5,190.1 L217.0,190.1 L218.5,190.1 L219.9,190.0 L221.3,189.9 L222.7,189.8 L224.0,189.6 L225.3,189.5 L226.7,189.3 L228.1,189.1 L229.5,188.9 L230.9,188.6 L232.3,188.3 L233.8,188.0 L235.3,187.6 L236.9,187.2 L238.4,186.8 L240.0,186.3 L241.6,185.8 L243.2,185.2 L244.8,184.7 L246.3,184.2 L247.8,183.6 L249.3,183.1 L250.8,182.5 L252.2,182.0 L253.6,181.4 L255.0,180.9 L256.4,180.3 L257.7,179.7 L259.1,179.1 L260.4,178.5 L261.7,177.9 L263.0,177.2 L264.4,176.5 L265.7,175.7 L266.9,174.8 L268.1,174.0 L269.2,173.2 L270.2,172.5 L271.2,171.9 L272.1,171.4 L272.9,171.1 L273.7,170.8 L274.5,170.6 L275.3,170.5 L276.2,170.5 L277.1,170.5 L278.1,170.6 L279.1,170.7 L280.1,170.9 L281.2,171.1 L282.3,171.4 L283.3,171.6 L284.3,171.9 L285.3,172.2 L286.3,172.6 L287.3,173.0 L288.4,173.5 L289.5,174.0 L290.6,174.6 L291.8,175.1 L293.0,175.7 L294.3,176.2 L295.6,176.8 L296.9,177.3 L298.2,177.9 L299.6,178.5 L301.0,179.1 L302.4,179.6 L303.8,180.1 L305.2,180.6 L306.5,181.1 L307.9,181.6 L309.2,182.0 L310.6,182.4 L311.9,182.8 L313.3,183.2 L314.6,183.5 L315.8,183.9 L317.0,184.2 L318.0,184.4 L318.8,184.7 L319.5,184.8 L320.7,184.9 L321.7,184.4 L322.3,183.4 L322.4,182.2 L321.9,181.2 L320.9,180.6 L320.2,180.3 L319.4,180.0 L318.4,179.6 L317.3,179.2 L316.2,178.8 L314.9,178.3 L313.6,177.8 L312.4,177.3 L311.1,176.7 L309.9,176.2 L308.7,175.7 L307.5,175.1 L306.2,174.5 L304.9,173.8 L303.6,173.1 L302.2,172.5 L300.8,171.9 L299.5,171.3 L298.2,170.7 L296.9,170.2 L295.7,169.7 L294.6,169.1 L293.5,168.6 L292.3,168.0 L291.2,167.5 L290.0,166.9 L288.8,166.4 L287.6,166.0 L286.3,165.5 L285.1,165.2 L283.8,164.8 L282.7,164.6 L281.4,164.3 L280.2,164.1 L278.9,163.9 L277.6,163.7 L276.2,163.7 L274.8,163.7 L273.4,163.9 L271.9,164.2 L270.5,164.7 L269.0,165.3 L267.7,166.0 L266.5,166.7 L265.3,167.5 L264.1,168.3 L263.0,169.1 L261.9,169.8 L260.9,170.4 L259.8,171.0 L258.6,171.6 L257.4,172.1 L256.2,172.7 L254.9,173.3 L253.6,173.8 L252.3,174.4 L251.0,174.9 L249.6,175.5 L248.3,176.0 L246.9,176.5 L245.5,177.0 L244.0,177.6 L242.5,178.1 L241.0,178.6 L239.5,179.1 L238.0,179.6 L236.5,180.0 L235.0,180.5 L233.6,180.9 L232.2,181.2 L230.9,181.5 L229.6,181.8 L228.3,182.0 L227.0,182.2 L225.8,182.4 L224.5,182.5 L223.3,182.7 L222.0,182.8 L220.7,182.9 L219.5,183.0 L218.2,183.1 L216.9,183.1 L215.6,183.1 L214.2,183.0 L212.8,183.0 L211.4,183.0 L210.1,182.9 L208.7,182.9 L207.4,182.9 L206.1,183.0 L204.9,183.2 L203.7,183.3 L202.6,183.6 L201.6,183.8 L200.7,184.1 L199.8,184.3 L199.1,184.6 L198.4,184.8 L198.0,184.9 L197.6,185.0 L196.0,185.9 L195.1,187.5 L195.1,189.3 L196.0,190.9 L197.6,191.8 Z" fill="#fff"/><path d="M198.1,193.1 L198.4,193.3 L198.7,193.6 L199.1,194.0 L199.5,194.4 L200.0,194.9 L200.6,195.4 L201.1,195.9 L201.7,196.4 L202.3,196.9 L202.8,197.3 L203.3,197.6 L203.7,197.9 L204.1,198.3 L204.6,198.7 L205.1,199.1 L205.7,199.5 L206.4,199.9 L207.2,200.3 L208.0,200.7 L208.9,201.1 L209.8,201.4 L210.8,201.8 L211.8,202.2 L213.0,202.6 L214.2,203.0 L215.6,203.4 L217.0,203.8 L218.5,204.0 L220.0,204.2 L221.6,204.3 L223.2,204.2 L224.8,204.1 L226.5,203.8 L228.1,203.5 L229.7,203.2 L231.3,202.8 L232.9,202.4 L234.5,202.1 L236.0,201.7 L237.5,201.4 L239.1,201.0 L240.6,200.6 L242.2,200.2 L243.8,199.8 L245.3,199.4 L246.9,199.1 L248.4,198.7 L249.8,198.3 L251.2,198.0 L252.6,197.7 L254.0,197.5 L255.3,197.2 L256.7,197.0 L257.9,196.7 L259.2,196.5 L260.5,196.3 L261.7,196.2 L262.9,196.0 L264.2,195.9 L265.4,195.8 L266.7,195.8 L268.0,195.7 L269.3,195.6 L270.6,195.6 L271.9,195.6 L273.2,195.6 L274.4,195.7 L275.7,195.8 L276.8,195.9 L278.0,196.0 L279.0,196.2 L280.1,196.5 L281.2,196.7 L282.3,197.0 L283.4,197.4 L284.5,197.7 L285.5,198.1 L286.6,198.5 L287.6,198.9 L288.5,199.3 L289.4,199.6 L290.3,200.0 L291.2,200.5 L292.0,200.9 L292.8,201.3 L293.6,201.7 L294.4,202.1 L295.2,202.5 L296.0,202.9 L296.7,203.3 L297.3,203.6 L297.9,204.0 L298.5,204.4 L299.1,204.8 L299.6,205.2 L300.2,205.6 L300.7,206.0 L301.1,206.3 L301.5,206.6 L301.8,206.9 L303.0,207.5 L304.3,207.4 L305.4,206.7 L306.0,205.5 L305.9,204.2 L305.2,203.1 L304.9,202.9 L304.6,202.5 L304.2,202.1 L303.8,201.6 L303.3,201.1 L302.8,200.5 L302.2,199.9 L301.5,199.3 L300.8,198.7 L300.1,198.1 L299.4,197.6 L298.7,197.0 L297.9,196.4 L297.1,195.8 L296.3,195.3 L295.3,194.7 L294.4,194.2 L293.4,193.7 L292.3,193.2 L291.3,192.7 L290.2,192.3 L289.1,191.9 L288.0,191.4 L286.8,191.0 L285.6,190.6 L284.3,190.2 L283.1,189.8 L281.8,189.5 L280.4,189.2 L279.0,189.0 L277.7,188.8 L276.3,188.6 L274.9,188.5 L273.4,188.4 L272.0,188.4 L270.6,188.4 L269.2,188.4 L267.8,188.4 L266.4,188.5 L265.0,188.6 L263.6,188.7 L262.2,188.8 L260.8,188.9 L259.5,189.1 L258.1,189.3 L256.8,189.5 L255.4,189.7 L254.0,189.9 L252.6,190.2 L251.2,190.5 L249.7,190.8 L248.1,191.1 L246.6,191.5 L245.0,191.9 L243.5,192.3 L241.9,192.7 L240.4,193.1 L238.9,193.5 L237.4,193.9 L235.9,194.2 L234.3,194.6 L232.8,195.0 L231.2,195.4 L229.6,195.8 L228.1,196.1 L226.7,196.5 L225.3,196.7 L223.9,196.9 L222.7,197.1 L221.6,197.1 L220.6,197.1 L219.5,197.0 L218.4,196.8 L217.4,196.5 L216.3,196.2 L215.3,195.9 L214.3,195.5 L213.3,195.2 L212.3,194.8 L211.5,194.5 L210.8,194.2 L210.3,194.0 L209.9,193.8 L209.6,193.6 L209.2,193.4 L208.9,193.1 L208.5,192.8 L208.1,192.5 L207.7,192.1 L207.2,191.7 L206.7,191.4 L206.3,191.0 L205.8,190.6 L205.3,190.2 L204.8,189.7 L204.3,189.3 L203.9,188.9 L203.5,188.5 L203.1,188.2 L202.9,187.9 L201.2,187.1 L199.4,187.2 L197.9,188.1 L197.1,189.8 L197.2,191.6 Z" fill="#fff"/><ellipse cx="201.00" cy="190.50" rx="4.50" ry="5.00" transform="rotate(0 201.00 190.50)" fill="#fff"/></mask></defs>
<g mask="url(#mk1)"><rect x="188.5" y="157.5" width="141.7" height="57.5" fill="#7a2892"/><path d="M199.1,190.5 L199.6,190.4 L200.1,190.2 L200.8,190.0 L201.5,189.8 L202.2,189.6 L203.0,189.3 L203.9,189.1 L204.8,189.0 L205.7,188.8 L206.6,188.7 L207.6,188.6 L208.7,188.6 L210.0,188.6 L211.3,188.7 L212.6,188.7 L214.1,188.7 L215.5,188.8 L217.0,188.8 L218.4,188.8 L219.8,188.7 L221.2,188.6 L222.5,188.5 L223.9,188.3 L225.2,188.2 L226.5,188.0 L227.9,187.8 L229.3,187.6 L230.6,187.4 L232.1,187.1 L233.5,186.7 L235.0,186.4 L236.5,186.0 L238.1,185.5 L239.7,185.0 L241.2,184.5 L242.8,184.0 L244.4,183.5 L245.9,182.9 L247.4,182.4 L248.9,181.9 L250.3,181.3 L251.7,180.8 L253.1,180.2 L254.5,179.7 L255.8,179.1 L257.2,178.5 L258.5,177.9 L259.8,177.3 L261.1,176.7 L262.4,176.1 L263.7,175.3 L265.0,174.6 L266.2,173.7 L267.3,172.9 L268.4,172.2 L269.5,171.5 L270.5,170.8 L271.5,170.3 L272.4,169.9 L273.3,169.6 L274.3,169.4 L275.2,169.2 L276.2,169.2 L277.2,169.2 L278.3,169.3 L279.3,169.5 L280.4,169.6 L281.5,169.9 L282.6,170.1 L283.7,170.4 L284.7,170.7 L285.8,171.0 L286.8,171.4 L287.9,171.9 L288.9,172.3 L290.0,172.9 L291.2,173.4 L292.3,173.9 L293.6,174.5 L294.8,175.0 L296.1,175.6 L297.4,176.1 L298.7,176.7 L300.1,177.3 L301.5,177.9 L302.9,178.4 L304.3,178.9 L305.7,179.4 L307.0,179.9 L308.3,180.4 L309.6,180.8 L311.0,181.2 L312.4,181.6 L313.7,182.0 L315.0,182.3 L316.2,182.6 L317.4,182.9 L318.4,183.2 L319.2,183.4 L319.9,183.6 L320.4,183.6 L320.8,183.4 L321.1,183.0 L321.1,182.5 L320.9,182.1 L320.5,181.8 L319.8,181.5 L319.0,181.2 L318.0,180.9 L316.9,180.5 L315.8,180.0 L314.5,179.5 L313.2,179.0 L311.9,178.5 L310.7,178.0 L309.5,177.4 L308.3,176.9 L307.0,176.3 L305.7,175.7 L304.4,175.0 L303.0,174.3 L301.7,173.7 L300.3,173.1 L299.0,172.5 L297.6,171.9 L296.4,171.4 L295.2,170.8 L294.0,170.3 L292.9,169.8 L291.8,169.2 L290.6,168.7 L289.5,168.1 L288.3,167.6 L287.1,167.2 L285.9,166.8 L284.7,166.4 L283.5,166.1 L282.4,165.8 L281.2,165.6 L280.0,165.3 L278.7,165.2 L277.5,165.0 L276.2,165.0 L274.9,165.0 L273.6,165.2 L272.3,165.4 L270.9,165.9 L269.6,166.4 L268.4,167.1 L267.2,167.8 L266.0,168.6 L264.9,169.4 L263.7,170.2 L262.6,170.9 L261.5,171.5 L260.4,172.1 L259.2,172.7 L258.0,173.3 L256.7,173.9 L255.4,174.5 L254.1,175.0 L252.8,175.6 L251.5,176.1 L250.1,176.7 L248.7,177.2 L247.3,177.7 L245.9,178.3 L244.4,178.8 L242.9,179.3 L241.4,179.8 L239.9,180.3 L238.3,180.8 L236.8,181.3 L235.3,181.7 L233.9,182.1 L232.5,182.5 L231.1,182.8 L229.8,183.0 L228.5,183.3 L227.2,183.5 L225.9,183.7 L224.7,183.8 L223.4,184.0 L222.1,184.1 L220.8,184.2 L219.6,184.3 L218.3,184.4 L216.9,184.4 L215.6,184.4 L214.2,184.3 L212.8,184.3 L211.4,184.3 L210.0,184.2 L208.7,184.2 L207.4,184.2 L206.2,184.3 L205.0,184.4 L203.9,184.6 L202.9,184.8 L201.9,185.1 L201.0,185.3 L200.2,185.6 L199.5,185.8 L198.8,186.0 L198.3,186.2 L197.9,186.3 L196.9,186.9 L196.4,187.8 L196.4,189.0 L197.0,190.0 L197.9,190.5 Z" fill="#cc3088" filter="url(#blur1)"/><path d="M199.0,192.1 L199.3,192.4 L199.6,192.7 L200.0,193.0 L200.4,193.5 L200.9,193.9 L201.5,194.4 L202.0,194.9 L202.6,195.4 L203.1,195.8 L203.6,196.3 L204.1,196.6 L204.5,196.9 L204.9,197.3 L205.4,197.7 L205.9,198.0 L206.4,198.4 L207.1,198.8 L207.8,199.2 L208.5,199.5 L209.4,199.9 L210.3,200.2 L211.2,200.6 L212.3,201.0 L213.4,201.4 L214.6,201.8 L215.9,202.2 L217.3,202.5 L218.7,202.8 L220.1,202.9 L221.6,203.0 L223.1,202.9 L224.7,202.8 L226.2,202.6 L227.8,202.3 L229.4,201.9 L231.0,201.6 L232.6,201.2 L234.2,200.8 L235.7,200.4 L237.2,200.1 L238.8,199.7 L240.3,199.4 L241.9,199.0 L243.5,198.6 L245.0,198.2 L246.5,197.8 L248.1,197.4 L249.5,197.1 L251.0,196.7 L252.4,196.5 L253.8,196.2 L255.1,195.9 L256.4,195.7 L257.7,195.4 L259.0,195.2 L260.3,195.1 L261.5,194.9 L262.8,194.7 L264.1,194.6 L265.3,194.5 L266.7,194.5 L268.0,194.4 L269.3,194.3 L270.6,194.3 L271.9,194.3 L273.2,194.3 L274.5,194.4 L275.8,194.5 L277.0,194.6 L278.2,194.8 L279.3,194.9 L280.4,195.2 L281.6,195.5 L282.7,195.8 L283.8,196.1 L284.9,196.5 L286.0,196.9 L287.0,197.3 L288.1,197.7 L289.0,198.1 L290.0,198.4 L290.9,198.9 L291.8,199.3 L292.6,199.7 L293.5,200.2 L294.3,200.6 L295.1,201.0 L295.9,201.4 L296.7,201.8 L297.4,202.2 L298.1,202.6 L298.7,203.0 L299.3,203.4 L299.9,203.8 L300.5,204.2 L301.1,204.6 L301.5,205.0 L302.0,205.4 L302.4,205.7 L302.7,205.9 L303.3,206.2 L303.9,206.1 L304.4,205.8 L304.7,205.2 L304.6,204.6 L304.3,204.1 L304.0,203.8 L303.7,203.5 L303.4,203.1 L302.9,202.6 L302.4,202.1 L301.9,201.5 L301.4,200.9 L300.7,200.3 L300.1,199.8 L299.4,199.2 L298.7,198.7 L298.0,198.1 L297.3,197.5 L296.5,197.0 L295.6,196.4 L294.7,195.9 L293.8,195.4 L292.8,194.9 L291.8,194.4 L290.8,193.9 L289.7,193.5 L288.6,193.1 L287.5,192.7 L286.4,192.2 L285.2,191.8 L284.0,191.4 L282.7,191.1 L281.5,190.8 L280.2,190.5 L278.8,190.2 L277.5,190.1 L276.2,189.9 L274.8,189.8 L273.4,189.7 L272.0,189.7 L270.6,189.7 L269.2,189.7 L267.8,189.7 L266.4,189.8 L265.1,189.9 L263.7,190.0 L262.3,190.1 L261.0,190.2 L259.7,190.4 L258.3,190.6 L257.0,190.8 L255.6,191.0 L254.3,191.2 L252.9,191.5 L251.4,191.7 L249.9,192.1 L248.4,192.4 L246.9,192.8 L245.4,193.2 L243.8,193.6 L242.3,194.0 L240.7,194.4 L239.2,194.8 L237.7,195.2 L236.2,195.5 L234.6,195.9 L233.1,196.3 L231.5,196.7 L229.9,197.0 L228.4,197.4 L226.9,197.7 L225.5,198.0 L224.1,198.2 L222.8,198.4 L221.6,198.4 L220.5,198.4 L219.3,198.2 L218.2,198.0 L217.0,197.8 L215.9,197.5 L214.9,197.1 L213.8,196.8 L212.8,196.4 L211.9,196.0 L211.0,195.7 L210.3,195.4 L209.7,195.2 L209.3,194.9 L208.9,194.7 L208.5,194.4 L208.1,194.1 L207.7,193.8 L207.3,193.5 L206.8,193.1 L206.4,192.7 L205.9,192.4 L205.4,192.0 L204.9,191.6 L204.4,191.1 L203.9,190.7 L203.4,190.2 L203.0,189.8 L202.6,189.4 L202.3,189.1 L202.0,188.9 L201.0,188.4 L199.8,188.4 L198.9,189.0 L198.4,190.0 L198.4,191.2 Z" fill="#cc3088" filter="url(#blur1)"/><path d="M204.6,185.3a3.0,3.0 0 1,0 6.0,0a3.0,3.0 0 1,0 -6.0,0M204.7,187.2a3.0,3.0 0 1,0 6.0,0a3.0,3.0 0 1,0 -6.0,0M276.5,165.9a3.0,3.0 0 1,0 6.0,0a3.0,3.0 0 1,0 -6.0,0M223.8,187.8a3.0,3.0 0 1,0 6.0,0a3.0,3.0 0 1,0 -6.0,0M245.6,179.6a3.0,3.0 0 1,0 6.0,0a3.0,3.0 0 1,0 -6.0,0M315.8,182.9a3.0,3.0 0 1,0 6.0,0a3.0,3.0 0 1,0 -6.0,0M259.1,172.9a3.0,3.0 0 1,0 6.0,0a3.0,3.0 0 1,0 -6.0,0M220.4,185.4a3.0,3.0 0 1,0 6.0,0a3.0,3.0 0 1,0 -6.0,0M284.8,167.5a3.0,3.0 0 1,0 6.0,0a3.0,3.0 0 1,0 -6.0,0M263.4,170.6a3.0,3.0 0 1,0 6.0,0a3.0,3.0 0 1,0 -6.0,0M197.5,187.0a3.0,3.0 0 1,0 6.0,0a3.0,3.0 0 1,0 -6.0,0M271.7,167.2a3.0,3.0 0 1,0 6.0,0a3.0,3.0 0 1,0 -6.0,0M203.7,188.6a3.0,3.0 0 1,0 6.0,0a3.0,3.0 0 1,0 -6.0,0M208.8,185.4a3.0,3.0 0 1,0 6.0,0a3.0,3.0 0 1,0 -6.0,0M200.7,188.2a3.0,3.0 0 1,0 6.0,0a3.0,3.0 0 1,0 -6.0,0M229.6,183.0a3.0,3.0 0 1,0 6.0,0a3.0,3.0 0 1,0 -6.0,0M249.2,180.2a3.0,3.0 0 1,0 6.0,0a3.0,3.0 0 1,0 -6.0,0M295.8,173.6a3.0,3.0 0 1,0 6.0,0a3.0,3.0 0 1,0 -6.0,0M265.8,170.4a3.0,3.0 0 1,0 6.0,0a3.0,3.0 0 1,0 -6.0,0M206.8,184.5a3.0,3.0 0 1,0 6.0,0a3.0,3.0 0 1,0 -6.0,0M279.9,167.8a3.0,3.0 0 1,0 6.0,0a3.0,3.0 0 1,0 -6.0,0M204.6,188.4a3.0,3.0 0 1,0 6.0,0a3.0,3.0 0 1,0 -6.0,0M273.0,168.4a3.0,3.0 0 1,0 6.0,0a3.0,3.0 0 1,0 -6.0,0M206.0,188.0a3.0,3.0 0 1,0 6.0,0a3.0,3.0 0 1,0 -6.0,0M203.9,188.1a3.0,3.0 0 1,0 6.0,0a3.0,3.0 0 1,0 -6.0,0M252.0,176.3a3.0,3.0 0 1,0 6.0,0a3.0,3.0 0 1,0 -6.0,0M264.5,172.4a3.0,3.0 0 1,0 6.0,0a3.0,3.0 0 1,0 -6.0,0M229.2,183.1a3.0,3.0 0 1,0 6.0,0a3.0,3.0 0 1,0 -6.0,0M260.1,171.8a3.0,3.0 0 1,0 6.0,0a3.0,3.0 0 1,0 -6.0,0M209.4,185.0a3.0,3.0 0 1,0 6.0,0a3.0,3.0 0 1,0 -6.0,0M201.6,185.4a3.0,3.0 0 1,0 6.0,0a3.0,3.0 0 1,0 -6.0,0M257.0,173.2a3.0,3.0 0 1,0 6.0,0a3.0,3.0 0 1,0 -6.0,0M227.0,183.1a3.0,3.0 0 1,0 6.0,0a3.0,3.0 0 1,0 -6.0,0M285.3,170.1a3.0,3.0 0 1,0 6.0,0a3.0,3.0 0 1,0 -6.0,0M219.6,186.1a3.0,3.0 0 1,0 6.0,0a3.0,3.0 0 1,0 -6.0,0M295.5,174.2a3.0,3.0 0 1,0 6.0,0a3.0,3.0 0 1,0 -6.0,0M257.7,176.1a3.0,3.0 0 1,0 6.0,0a3.0,3.0 0 1,0 -6.0,0M245.0,179.9a3.0,3.0 0 1,0 6.0,0a3.0,3.0 0 1,0 -6.0,0M279.3,170.0a3.0,3.0 0 1,0 6.0,0a3.0,3.0 0 1,0 -6.0,0M282.0,169.2a3.0,3.0 0 1,0 6.0,0a3.0,3.0 0 1,0 -6.0,0M246.1,178.7a3.0,3.0 0 1,0 6.0,0a3.0,3.0 0 1,0 -6.0,0M202.0,185.0a3.0,3.0 0 1,0 6.0,0a3.0,3.0 0 1,0 -6.0,0M204.4,187.5a3.0,3.0 0 1,0 6.0,0a3.0,3.0 0 1,0 -6.0,0M227.8,183.6a3.0,3.0 0 1,0 6.0,0a3.0,3.0 0 1,0 -6.0,0M206.1,187.9a3.0,3.0 0 1,0 6.0,0a3.0,3.0 0 1,0 -6.0,0M301.3,177.7a3.0,3.0 0 1,0 6.0,0a3.0,3.0 0 1,0 -6.0,0M231.1,183.2a3.0,3.0 0 1,0 6.0,0a3.0,3.0 0 1,0 -6.0,0M232.7,183.7a3.0,3.0 0 1,0 6.0,0a3.0,3.0 0 1,0 -6.0,0M229.5,186.8a3.0,3.0 0 1,0 6.0,0a3.0,3.0 0 1,0 -6.0,0M313.8,181.7a3.0,3.0 0 1,0 6.0,0a3.0,3.0 0 1,0 -6.0,0M227.0,187.3a3.0,3.0 0 1,0 6.0,0a3.0,3.0 0 1,0 -6.0,0M195.5,187.9a3.0,3.0 0 1,0 6.0,0a3.0,3.0 0 1,0 -6.0,0M254.7,175.9a3.0,3.0 0 1,0 6.0,0a3.0,3.0 0 1,0 -6.0,0M221.1,186.1a3.0,3.0 0 1,0 6.0,0a3.0,3.0 0 1,0 -6.0,0M195.8,187.2a3.0,3.0 0 1,0 6.0,0a3.0,3.0 0 1,0 -6.0,0M206.8,186.0a3.0,3.0 0 1,0 6.0,0a3.0,3.0 0 1,0 -6.0,0M200.2,184.9a3.0,3.0 0 1,0 6.0,0a3.0,3.0 0 1,0 -6.0,0M233.8,182.4a3.0,3.0 0 1,0 6.0,0a3.0,3.0 0 1,0 -6.0,0M267.1,168.8a3.0,3.0 0 1,0 6.0,0a3.0,3.0 0 1,0 -6.0,0M282.8,170.5a3.0,3.0 0 1,0 6.0,0a3.0,3.0 0 1,0 -6.0,0M244.3,179.3a3.0,3.0 0 1,0 6.0,0a3.0,3.0 0 1,0 -6.0,0M315.6,181.4a3.0,3.0 0 1,0 6.0,0a3.0,3.0 0 1,0 -6.0,0M284.1,170.0a3.0,3.0 0 1,0 6.0,0a3.0,3.0 0 1,0 -6.0,0M201.2,188.3a3.0,3.0 0 1,0 6.0,0a3.0,3.0 0 1,0 -6.0,0M284.9,171.1a3.0,3.0 0 1,0 6.0,0a3.0,3.0 0 1,0 -6.0,0M258.8,175.5a3.0,3.0 0 1,0 6.0,0a3.0,3.0 0 1,0 -6.0,0M267.7,170.2a3.0,3.0 0 1,0 6.0,0a3.0,3.0 0 1,0 -6.0,0M279.0,168.7a3.0,3.0 0 1,0 6.0,0a3.0,3.0 0 1,0 -6.0,0M224.5,183.6a3.0,3.0 0 1,0 6.0,0a3.0,3.0 0 1,0 -6.0,0M212.4,186.0a3.0,3.0 0 1,0 6.0,0a3.0,3.0 0 1,0 -6.0,0M208.7,187.9a3.0,3.0 0 1,0 6.0,0a3.0,3.0 0 1,0 -6.0,0M264.4,171.0a3.0,3.0 0 1,0 6.0,0a3.0,3.0 0 1,0 -6.0,0M262.7,193.0a3.0,3.0 0 1,0 6.0,0a3.0,3.0 0 1,0 -6.0,0M247.3,192.0a3.0,3.0 0 1,0 6.0,0a3.0,3.0 0 1,0 -6.0,0M249.3,194.2a3.0,3.0 0 1,0 6.0,0a3.0,3.0 0 1,0 -6.0,0M266.3,190.0a3.0,3.0 0 1,0 6.0,0a3.0,3.0 0 1,0 -6.0,0M275.0,191.3a3.0,3.0 0 1,0 6.0,0a3.0,3.0 0 1,0 -6.0,0M204.4,195.0a3.0,3.0 0 1,0 6.0,0a3.0,3.0 0 1,0 -6.0,0M274.2,191.0a3.0,3.0 0 1,0 6.0,0a3.0,3.0 0 1,0 -6.0,0M274.9,194.6a3.0,3.0 0 1,0 6.0,0a3.0,3.0 0 1,0 -6.0,0M248.1,193.7a3.0,3.0 0 1,0 6.0,0a3.0,3.0 0 1,0 -6.0,0M246.8,195.4a3.0,3.0 0 1,0 6.0,0a3.0,3.0 0 1,0 -6.0,0M278.0,193.5a3.0,3.0 0 1,0 6.0,0a3.0,3.0 0 1,0 -6.0,0M264.4,190.1a3.0,3.0 0 1,0 6.0,0a3.0,3.0 0 1,0 -6.0,0M211.3,198.2a3.0,3.0 0 1,0 6.0,0a3.0,3.0 0 1,0 -6.0,0M275.7,191.6a3.0,3.0 0 1,0 6.0,0a3.0,3.0 0 1,0 -6.0,0M255.9,190.5a3.0,3.0 0 1,0 6.0,0a3.0,3.0 0 1,0 -6.0,0M203.2,194.1a3.0,3.0 0 1,0 6.0,0a3.0,3.0 0 1,0 -6.0,0M267.7,192.9a3.0,3.0 0 1,0 6.0,0a3.0,3.0 0 1,0 -6.0,0M268.1,191.0a3.0,3.0 0 1,0 6.0,0a3.0,3.0 0 1,0 -6.0,0M250.7,193.6a3.0,3.0 0 1,0 6.0,0a3.0,3.0 0 1,0 -6.0,0M244.9,193.1a3.0,3.0 0 1,0 6.0,0a3.0,3.0 0 1,0 -6.0,0M199.0,191.7a3.0,3.0 0 1,0 6.0,0a3.0,3.0 0 1,0 -6.0,0M243.2,194.3a3.0,3.0 0 1,0 6.0,0a3.0,3.0 0 1,0 -6.0,0M217.6,202.7a3.0,3.0 0 1,0 6.0,0a3.0,3.0 0 1,0 -6.0,0M217.8,201.0a3.0,3.0 0 1,0 6.0,0a3.0,3.0 0 1,0 -6.0,0M210.3,199.1a3.0,3.0 0 1,0 6.0,0a3.0,3.0 0 1,0 -6.0,0M297.4,200.6a3.0,3.0 0 1,0 6.0,0a3.0,3.0 0 1,0 -6.0,0M220.2,202.5a3.0,3.0 0 1,0 6.0,0a3.0,3.0 0 1,0 -6.0,0M246.9,192.2a3.0,3.0 0 1,0 6.0,0a3.0,3.0 0 1,0 -6.0,0M197.8,190.7a3.0,3.0 0 1,0 6.0,0a3.0,3.0 0 1,0 -6.0,0M243.4,194.4a3.0,3.0 0 1,0 6.0,0a3.0,3.0 0 1,0 -6.0,0M210.5,198.3a3.0,3.0 0 1,0 6.0,0a3.0,3.0 0 1,0 -6.0,0M196.9,191.4a3.0,3.0 0 1,0 6.0,0a3.0,3.0 0 1,0 -6.0,0M293.8,200.6a3.0,3.0 0 1,0 6.0,0a3.0,3.0 0 1,0 -6.0,0M292.3,197.7a3.0,3.0 0 1,0 6.0,0a3.0,3.0 0 1,0 -6.0,0M235.1,197.0a3.0,3.0 0 1,0 6.0,0a3.0,3.0 0 1,0 -6.0,0M233.9,197.4a3.0,3.0 0 1,0 6.0,0a3.0,3.0 0 1,0 -6.0,0M205.7,198.8a3.0,3.0 0 1,0 6.0,0a3.0,3.0 0 1,0 -6.0,0M221.9,199.3a3.0,3.0 0 1,0 6.0,0a3.0,3.0 0 1,0 -6.0,0M249.8,192.4a3.0,3.0 0 1,0 6.0,0a3.0,3.0 0 1,0 -6.0,0M235.9,199.5a3.0,3.0 0 1,0 6.0,0a3.0,3.0 0 1,0 -6.0,0M263.3,194.1a3.0,3.0 0 1,0 6.0,0a3.0,3.0 0 1,0 -6.0,0M295.4,200.9a3.0,3.0 0 1,0 6.0,0a3.0,3.0 0 1,0 -6.0,0M273.1,190.1a3.0,3.0 0 1,0 6.0,0a3.0,3.0 0 1,0 -6.0,0M274.4,192.1a3.0,3.0 0 1,0 6.0,0a3.0,3.0 0 1,0 -6.0,0M276.4,193.3a3.0,3.0 0 1,0 6.0,0a3.0,3.0 0 1,0 -6.0,0M295.0,198.7a3.0,3.0 0 1,0 6.0,0a3.0,3.0 0 1,0 -6.0,0M245.7,194.0a3.0,3.0 0 1,0 6.0,0a3.0,3.0 0 1,0 -6.0,0M265.9,191.1a3.0,3.0 0 1,0 6.0,0a3.0,3.0 0 1,0 -6.0,0M255.1,192.5a3.0,3.0 0 1,0 6.0,0a3.0,3.0 0 1,0 -6.0,0M213.5,198.4a3.0,3.0 0 1,0 6.0,0a3.0,3.0 0 1,0 -6.0,0M217.3,202.5a3.0,3.0 0 1,0 6.0,0a3.0,3.0 0 1,0 -6.0,0M248.3,192.8a3.0,3.0 0 1,0 6.0,0a3.0,3.0 0 1,0 -6.0,0" fill="#2b2f8f" opacity="1.00" filter="url(#blurH)"/><path d="M198.50,188.40 C199.82,188.08 202.87,186.82 206.40,186.50 C209.93,186.18 215.27,186.82 219.70,186.50 C224.13,186.18 228.27,185.72 233.00,184.60 C237.73,183.48 243.37,181.55 248.10,179.80 C252.83,178.05 257.28,176.15 261.40,174.10 C265.52,172.05 269.00,168.45 272.80,167.50 C276.60,166.55 280.40,167.45 284.20,168.40 C288.00,169.35 291.48,171.45 295.60,173.20 C299.72,174.95 304.80,177.32 308.90,178.90 C313.00,180.48 318.32,182.07 320.20,182.70" pathLength="100" fill="none" stroke="#e4436f" stroke-opacity="0.60" stroke-width="8.80" stroke-dasharray="0 13.84 3.88 300" filter="url(#blurS)"/><path d="M198.50,188.40 C199.82,188.08 202.87,186.82 206.40,186.50 C209.93,186.18 215.27,186.82 219.70,186.50 C224.13,186.18 228.27,185.72 233.00,184.60 C237.73,183.48 243.37,181.55 248.10,179.80 C252.83,178.05 257.28,176.15 261.40,174.10 C265.52,172.05 269.00,168.45 272.80,167.50 C276.60,166.55 280.40,167.45 284.20,168.40 C288.00,169.35 291.48,171.45 295.60,173.20 C299.72,174.95 304.80,177.32 308.90,178.90 C313.00,180.48 318.32,182.07 320.20,182.70" pathLength="100" fill="none" stroke="#e4436f" stroke-opacity="0.70" stroke-width="8.80" stroke-dasharray="0 31.26 3.88 300" filter="url(#blurS)"/><path d="M198.50,188.40 C199.82,188.08 202.87,186.82 206.40,186.50 C209.93,186.18 215.27,186.82 219.70,186.50 C224.13,186.18 228.27,185.72 233.00,184.60 C237.73,183.48 243.37,181.55 248.10,179.80 C252.83,178.05 257.28,176.15 261.40,174.10 C265.52,172.05 269.00,168.45 272.80,167.50 C276.60,166.55 280.40,167.45 284.20,168.40 C288.00,169.35 291.48,171.45 295.60,173.20 C299.72,174.95 304.80,177.32 308.90,178.90 C313.00,180.48 318.32,182.07 320.20,182.70" pathLength="100" fill="none" stroke="#e4436f" stroke-opacity="0.60" stroke-width="8.80" stroke-dasharray="0 75.86 3.88 300" filter="url(#blurS)"/><path d="M198.50,188.40 C199.82,188.08 202.87,186.82 206.40,186.50 C209.93,186.18 215.27,186.82 219.70,186.50 C224.13,186.18 228.27,185.72 233.00,184.60 C237.73,183.48 243.37,181.55 248.10,179.80 C252.83,178.05 257.28,176.15 261.40,174.10 C265.52,172.05 269.00,168.45 272.80,167.50 C276.60,166.55 280.40,167.45 284.20,168.40 C288.00,169.35 291.48,171.45 295.60,173.20 C299.72,174.95 304.80,177.32 308.90,178.90 C313.00,180.48 318.32,182.07 320.20,182.70" pathLength="100" fill="none" stroke="#e4436f" stroke-opacity="0.60" stroke-width="8.80" stroke-dasharray="0 88.80 3.88 300" filter="url(#blurS)"/><path d="M200.50,190.50 C201.25,191.17 203.38,193.28 205.00,194.50 C206.62,195.72 207.43,196.77 210.20,197.80 C212.97,198.83 217.18,200.70 221.60,200.70 C226.02,200.70 231.65,198.90 236.70,197.80 C241.75,196.70 247.15,195.03 251.90,194.10 C256.65,193.17 260.77,192.47 265.20,192.20 C269.63,191.93 274.38,191.87 278.50,192.50 C282.62,193.13 286.58,194.63 289.90,196.00 C293.22,197.37 296.13,199.20 298.40,200.70 C300.67,202.20 302.65,204.28 303.50,205.00" pathLength="100" fill="none" stroke="#f3913b" stroke-opacity="0.85" stroke-width="9.20" stroke-dasharray="0 79.76 9.07 300" filter="url(#blurS)"/><path d="M200.50,190.50 C201.25,191.17 203.38,193.28 205.00,194.50 C206.62,195.72 207.43,196.77 210.20,197.80 C212.97,198.83 217.18,200.70 221.60,200.70 C226.02,200.70 231.65,198.90 236.70,197.80 C241.75,196.70 247.15,195.03 251.90,194.10 C256.65,193.17 260.77,192.47 265.20,192.20 C269.63,191.93 274.38,191.87 278.50,192.50 C282.62,193.13 286.58,194.63 289.90,196.00 C293.22,197.37 296.13,199.20 298.40,200.70 C300.67,202.20 302.65,204.28 303.50,205.00" pathLength="100" fill="none" stroke="#f4d84a" stroke-opacity="1.00" stroke-width="9.20" stroke-dasharray="0 82.02 4.54 300" filter="url(#blurS)"/><path d="M200.50,190.50 C201.25,191.17 203.38,193.28 205.00,194.50 C206.62,195.72 207.43,196.77 210.20,197.80 C212.97,198.83 217.18,200.70 221.60,200.70 C226.02,200.70 231.65,198.90 236.70,197.80 C241.75,196.70 247.15,195.03 251.90,194.10 C256.65,193.17 260.77,192.47 265.20,192.20 C269.63,191.93 274.38,191.87 278.50,192.50 C282.62,193.13 286.58,194.63 289.90,196.00 C293.22,197.37 296.13,199.20 298.40,200.70 C300.67,202.20 302.65,204.28 303.50,205.00" pathLength="100" fill="none" stroke="#e4436f" stroke-opacity="0.70" stroke-width="9.20" stroke-dasharray="0 25.81 5.44 300" filter="url(#blurS)"/><path d="M200.50,190.50 C201.25,191.17 203.38,193.28 205.00,194.50 C206.62,195.72 207.43,196.77 210.20,197.80 C212.97,198.83 217.18,200.70 221.60,200.70 C226.02,200.70 231.65,198.90 236.70,197.80 C241.75,196.70 247.15,195.03 251.90,194.10 C256.65,193.17 260.77,192.47 265.20,192.20 C269.63,191.93 274.38,191.87 278.50,192.50 C282.62,193.13 286.58,194.63 289.90,196.00 C293.22,197.37 296.13,199.20 298.40,200.70 C300.67,202.20 302.65,204.28 303.50,205.00" pathLength="100" fill="none" stroke="#e4436f" stroke-opacity="0.60" stroke-width="9.20" stroke-dasharray="0 97.16 3.63 300" filter="url(#blurS)"/></g>
<path d="M206.4,185.3a1.2,1.2 0 1,0 2.4,0a1.2,1.2 0 1,0 -2.4,0M206.5,187.2a1.2,1.2 0 1,0 2.4,0a1.2,1.2 0 1,0 -2.4,0M278.4,165.9a1.2,1.2 0 1,0 2.4,0a1.2,1.2 0 1,0 -2.4,0M225.6,187.8a1.2,1.2 0 1,0 2.4,0a1.2,1.2 0 1,0 -2.4,0M247.4,179.6a1.2,1.2 0 1,0 2.4,0a1.2,1.2 0 1,0 -2.4,0M317.6,182.9a1.2,1.2 0 1,0 2.4,0a1.2,1.2 0 1,0 -2.4,0M260.9,172.9a1.2,1.2 0 1,0 2.4,0a1.2,1.2 0 1,0 -2.4,0M222.2,185.4a1.2,1.2 0 1,0 2.4,0a1.2,1.2 0 1,0 -2.4,0M286.6,167.5a1.2,1.2 0 1,0 2.4,0a1.2,1.2 0 1,0 -2.4,0M265.3,170.6a1.2,1.2 0 1,0 2.4,0a1.2,1.2 0 1,0 -2.4,0M199.3,187.0a1.2,1.2 0 1,0 2.4,0a1.2,1.2 0 1,0 -2.4,0M273.5,167.2a1.2,1.2 0 1,0 2.4,0a1.2,1.2 0 1,0 -2.4,0M205.5,188.6a1.2,1.2 0 1,0 2.4,0a1.2,1.2 0 1,0 -2.4,0M210.6,185.4a1.2,1.2 0 1,0 2.4,0a1.2,1.2 0 1,0 -2.4,0M202.5,188.2a1.2,1.2 0 1,0 2.4,0a1.2,1.2 0 1,0 -2.4,0M231.4,183.0a1.2,1.2 0 1,0 2.4,0a1.2,1.2 0 1,0 -2.4,0M251.0,180.2a1.2,1.2 0 1,0 2.4,0a1.2,1.2 0 1,0 -2.4,0M297.6,173.6a1.2,1.2 0 1,0 2.4,0a1.2,1.2 0 1,0 -2.4,0M267.6,170.4a1.2,1.2 0 1,0 2.4,0a1.2,1.2 0 1,0 -2.4,0M208.6,184.5a1.2,1.2 0 1,0 2.4,0a1.2,1.2 0 1,0 -2.4,0M281.8,167.8a1.2,1.2 0 1,0 2.4,0a1.2,1.2 0 1,0 -2.4,0M206.5,188.4a1.2,1.2 0 1,0 2.4,0a1.2,1.2 0 1,0 -2.4,0M274.9,168.4a1.2,1.2 0 1,0 2.4,0a1.2,1.2 0 1,0 -2.4,0M207.9,188.0a1.2,1.2 0 1,0 2.4,0a1.2,1.2 0 1,0 -2.4,0M205.8,188.1a1.2,1.2 0 1,0 2.4,0a1.2,1.2 0 1,0 -2.4,0M253.8,176.3a1.2,1.2 0 1,0 2.4,0a1.2,1.2 0 1,0 -2.4,0M266.3,172.4a1.2,1.2 0 1,0 2.4,0a1.2,1.2 0 1,0 -2.4,0M231.1,183.1a1.2,1.2 0 1,0 2.4,0a1.2,1.2 0 1,0 -2.4,0M261.9,171.8a1.2,1.2 0 1,0 2.4,0a1.2,1.2 0 1,0 -2.4,0M211.2,185.0a1.2,1.2 0 1,0 2.4,0a1.2,1.2 0 1,0 -2.4,0M203.4,185.4a1.2,1.2 0 1,0 2.4,0a1.2,1.2 0 1,0 -2.4,0M258.9,173.2a1.2,1.2 0 1,0 2.4,0a1.2,1.2 0 1,0 -2.4,0M228.8,183.1a1.2,1.2 0 1,0 2.4,0a1.2,1.2 0 1,0 -2.4,0M287.1,170.1a1.2,1.2 0 1,0 2.4,0a1.2,1.2 0 1,0 -2.4,0M221.5,186.1a1.2,1.2 0 1,0 2.4,0a1.2,1.2 0 1,0 -2.4,0M297.3,174.2a1.2,1.2 0 1,0 2.4,0a1.2,1.2 0 1,0 -2.4,0M259.5,176.1a1.2,1.2 0 1,0 2.4,0a1.2,1.2 0 1,0 -2.4,0M246.8,179.9a1.2,1.2 0 1,0 2.4,0a1.2,1.2 0 1,0 -2.4,0M281.2,170.0a1.2,1.2 0 1,0 2.4,0a1.2,1.2 0 1,0 -2.4,0M283.8,169.2a1.2,1.2 0 1,0 2.4,0a1.2,1.2 0 1,0 -2.4,0M248.0,178.7a1.2,1.2 0 1,0 2.4,0a1.2,1.2 0 1,0 -2.4,0M203.8,185.0a1.2,1.2 0 1,0 2.4,0a1.2,1.2 0 1,0 -2.4,0M206.2,187.5a1.2,1.2 0 1,0 2.4,0a1.2,1.2 0 1,0 -2.4,0M229.6,183.6a1.2,1.2 0 1,0 2.4,0a1.2,1.2 0 1,0 -2.4,0M208.0,187.9a1.2,1.2 0 1,0 2.4,0a1.2,1.2 0 1,0 -2.4,0M303.1,177.7a1.2,1.2 0 1,0 2.4,0a1.2,1.2 0 1,0 -2.4,0M232.9,183.2a1.2,1.2 0 1,0 2.4,0a1.2,1.2 0 1,0 -2.4,0M234.5,183.7a1.2,1.2 0 1,0 2.4,0a1.2,1.2 0 1,0 -2.4,0M231.3,186.8a1.2,1.2 0 1,0 2.4,0a1.2,1.2 0 1,0 -2.4,0M315.6,181.7a1.2,1.2 0 1,0 2.4,0a1.2,1.2 0 1,0 -2.4,0M228.9,187.3a1.2,1.2 0 1,0 2.4,0a1.2,1.2 0 1,0 -2.4,0M197.3,187.9a1.2,1.2 0 1,0 2.4,0a1.2,1.2 0 1,0 -2.4,0M256.5,175.9a1.2,1.2 0 1,0 2.4,0a1.2,1.2 0 1,0 -2.4,0M222.9,186.1a1.2,1.2 0 1,0 2.4,0a1.2,1.2 0 1,0 -2.4,0M197.6,187.2a1.2,1.2 0 1,0 2.4,0a1.2,1.2 0 1,0 -2.4,0M208.6,186.0a1.2,1.2 0 1,0 2.4,0a1.2,1.2 0 1,0 -2.4,0M202.0,184.9a1.2,1.2 0 1,0 2.4,0a1.2,1.2 0 1,0 -2.4,0M235.6,182.4a1.2,1.2 0 1,0 2.4,0a1.2,1.2 0 1,0 -2.4,0M268.9,168.8a1.2,1.2 0 1,0 2.4,0a1.2,1.2 0 1,0 -2.4,0M284.6,170.5a1.2,1.2 0 1,0 2.4,0a1.2,1.2 0 1,0 -2.4,0M246.1,179.3a1.2,1.2 0 1,0 2.4,0a1.2,1.2 0 1,0 -2.4,0M317.4,181.4a1.2,1.2 0 1,0 2.4,0a1.2,1.2 0 1,0 -2.4,0M285.9,170.0a1.2,1.2 0 1,0 2.4,0a1.2,1.2 0 1,0 -2.4,0M203.0,188.3a1.2,1.2 0 1,0 2.4,0a1.2,1.2 0 1,0 -2.4,0M286.8,171.1a1.2,1.2 0 1,0 2.4,0a1.2,1.2 0 1,0 -2.4,0M260.6,175.5a1.2,1.2 0 1,0 2.4,0a1.2,1.2 0 1,0 -2.4,0M269.5,170.2a1.2,1.2 0 1,0 2.4,0a1.2,1.2 0 1,0 -2.4,0M280.8,168.7a1.2,1.2 0 1,0 2.4,0a1.2,1.2 0 1,0 -2.4,0M226.3,183.6a1.2,1.2 0 1,0 2.4,0a1.2,1.2 0 1,0 -2.4,0M214.2,186.0a1.2,1.2 0 1,0 2.4,0a1.2,1.2 0 1,0 -2.4,0M210.5,187.9a1.2,1.2 0 1,0 2.4,0a1.2,1.2 0 1,0 -2.4,0M266.2,171.0a1.2,1.2 0 1,0 2.4,0a1.2,1.2 0 1,0 -2.4,0M264.5,193.0a1.2,1.2 0 1,0 2.4,0a1.2,1.2 0 1,0 -2.4,0M249.1,192.0a1.2,1.2 0 1,0 2.4,0a1.2,1.2 0 1,0 -2.4,0M251.1,194.2a1.2,1.2 0 1,0 2.4,0a1.2,1.2 0 1,0 -2.4,0M268.1,190.0a1.2,1.2 0 1,0 2.4,0a1.2,1.2 0 1,0 -2.4,0M276.8,191.3a1.2,1.2 0 1,0 2.4,0a1.2,1.2 0 1,0 -2.4,0M206.2,195.0a1.2,1.2 0 1,0 2.4,0a1.2,1.2 0 1,0 -2.4,0M276.0,191.0a1.2,1.2 0 1,0 2.4,0a1.2,1.2 0 1,0 -2.4,0M276.7,194.6a1.2,1.2 0 1,0 2.4,0a1.2,1.2 0 1,0 -2.4,0M250.0,193.7a1.2,1.2 0 1,0 2.4,0a1.2,1.2 0 1,0 -2.4,0M248.7,195.4a1.2,1.2 0 1,0 2.4,0a1.2,1.2 0 1,0 -2.4,0M279.8,193.5a1.2,1.2 0 1,0 2.4,0a1.2,1.2 0 1,0 -2.4,0M266.3,190.1a1.2,1.2 0 1,0 2.4,0a1.2,1.2 0 1,0 -2.4,0M213.2,198.2a1.2,1.2 0 1,0 2.4,0a1.2,1.2 0 1,0 -2.4,0M277.5,191.6a1.2,1.2 0 1,0 2.4,0a1.2,1.2 0 1,0 -2.4,0M257.8,190.5a1.2,1.2 0 1,0 2.4,0a1.2,1.2 0 1,0 -2.4,0M205.0,194.1a1.2,1.2 0 1,0 2.4,0a1.2,1.2 0 1,0 -2.4,0M269.6,192.9a1.2,1.2 0 1,0 2.4,0a1.2,1.2 0 1,0 -2.4,0M270.0,191.0a1.2,1.2 0 1,0 2.4,0a1.2,1.2 0 1,0 -2.4,0M252.5,193.6a1.2,1.2 0 1,0 2.4,0a1.2,1.2 0 1,0 -2.4,0M246.7,193.1a1.2,1.2 0 1,0 2.4,0a1.2,1.2 0 1,0 -2.4,0M200.9,191.7a1.2,1.2 0 1,0 2.4,0a1.2,1.2 0 1,0 -2.4,0M245.0,194.3a1.2,1.2 0 1,0 2.4,0a1.2,1.2 0 1,0 -2.4,0M219.4,202.7a1.2,1.2 0 1,0 2.4,0a1.2,1.2 0 1,0 -2.4,0M219.6,201.0a1.2,1.2 0 1,0 2.4,0a1.2,1.2 0 1,0 -2.4,0M212.2,199.1a1.2,1.2 0 1,0 2.4,0a1.2,1.2 0 1,0 -2.4,0M299.2,200.6a1.2,1.2 0 1,0 2.4,0a1.2,1.2 0 1,0 -2.4,0M222.0,202.5a1.2,1.2 0 1,0 2.4,0a1.2,1.2 0 1,0 -2.4,0M248.7,192.2a1.2,1.2 0 1,0 2.4,0a1.2,1.2 0 1,0 -2.4,0M199.6,190.7a1.2,1.2 0 1,0 2.4,0a1.2,1.2 0 1,0 -2.4,0M245.2,194.4a1.2,1.2 0 1,0 2.4,0a1.2,1.2 0 1,0 -2.4,0M212.3,198.3a1.2,1.2 0 1,0 2.4,0a1.2,1.2 0 1,0 -2.4,0M198.7,191.4a1.2,1.2 0 1,0 2.4,0a1.2,1.2 0 1,0 -2.4,0M295.6,200.6a1.2,1.2 0 1,0 2.4,0a1.2,1.2 0 1,0 -2.4,0M294.1,197.7a1.2,1.2 0 1,0 2.4,0a1.2,1.2 0 1,0 -2.4,0M236.9,197.0a1.2,1.2 0 1,0 2.4,0a1.2,1.2 0 1,0 -2.4,0M235.7,197.4a1.2,1.2 0 1,0 2.4,0a1.2,1.2 0 1,0 -2.4,0M207.5,198.8a1.2,1.2 0 1,0 2.4,0a1.2,1.2 0 1,0 -2.4,0M223.7,199.3a1.2,1.2 0 1,0 2.4,0a1.2,1.2 0 1,0 -2.4,0M251.6,192.4a1.2,1.2 0 1,0 2.4,0a1.2,1.2 0 1,0 -2.4,0M237.7,199.5a1.2,1.2 0 1,0 2.4,0a1.2,1.2 0 1,0 -2.4,0M265.1,194.1a1.2,1.2 0 1,0 2.4,0a1.2,1.2 0 1,0 -2.4,0M297.2,200.9a1.2,1.2 0 1,0 2.4,0a1.2,1.2 0 1,0 -2.4,0M275.0,190.1a1.2,1.2 0 1,0 2.4,0a1.2,1.2 0 1,0 -2.4,0M276.2,192.1a1.2,1.2 0 1,0 2.4,0a1.2,1.2 0 1,0 -2.4,0M278.3,193.3a1.2,1.2 0 1,0 2.4,0a1.2,1.2 0 1,0 -2.4,0M296.8,198.7a1.2,1.2 0 1,0 2.4,0a1.2,1.2 0 1,0 -2.4,0M247.6,194.0a1.2,1.2 0 1,0 2.4,0a1.2,1.2 0 1,0 -2.4,0M267.8,191.1a1.2,1.2 0 1,0 2.4,0a1.2,1.2 0 1,0 -2.4,0M256.9,192.5a1.2,1.2 0 1,0 2.4,0a1.2,1.2 0 1,0 -2.4,0M215.3,198.4a1.2,1.2 0 1,0 2.4,0a1.2,1.2 0 1,0 -2.4,0M219.1,202.5a1.2,1.2 0 1,0 2.4,0a1.2,1.2 0 1,0 -2.4,0M250.1,192.8a1.2,1.2 0 1,0 2.4,0a1.2,1.2 0 1,0 -2.4,0" fill="#e6f7da" stroke="#2a3a2a" stroke-width="0.55"/>
<defs><mask id="mk2" maskUnits="userSpaceOnUse" x="0" y="0" width="685" height="652"><path d="M336.5,184.2 L337.1,184.2 L337.8,184.1 L338.6,184.1 L339.4,184.0 L340.2,184.0 L341.1,183.9 L342.0,183.9 L342.8,184.0 L343.5,184.0 L344.0,184.1 L344.5,184.2 L345.0,184.4 L345.5,184.6 L346.1,184.9 L346.9,185.3 L347.8,185.7 L348.8,186.1 L349.9,186.6 L351.2,186.9 L352.5,187.3 L353.9,187.5 L355.3,187.7 L356.8,187.9 L358.4,188.0 L360.0,188.2 L361.6,188.3 L363.3,188.4 L365.0,188.4 L366.6,188.4 L368.2,188.4 L369.8,188.3 L371.3,188.2 L372.9,188.0 L374.5,187.9 L376.0,187.7 L377.6,187.4 L379.2,187.1 L380.8,186.8 L382.4,186.4 L384.0,185.9 L385.6,185.4 L387.2,184.8 L388.8,184.2 L390.3,183.5 L391.9,182.8 L393.4,182.1 L394.8,181.4 L396.3,180.7 L397.7,180.1 L399.2,179.4 L400.7,178.7 L402.3,178.0 L403.8,177.3 L405.4,176.6 L406.9,175.9 L408.4,175.2 L409.9,174.6 L411.3,174.0 L412.6,173.5 L413.8,173.0 L414.9,172.6 L416.0,172.3 L417.0,172.0 L417.9,171.7 L418.7,171.5 L419.5,171.4 L420.4,171.2 L421.2,171.1 L422.2,171.1 L423.2,171.0 L424.2,171.0 L425.3,171.0 L426.4,171.1 L427.6,171.2 L428.7,171.3 L430.0,171.4 L431.2,171.6 L432.5,171.8 L433.8,172.1 L435.1,172.3 L436.4,172.6 L437.9,172.9 L439.3,173.3 L440.8,173.7 L442.3,174.1 L443.8,174.6 L445.4,175.0 L446.9,175.4 L448.3,175.9 L449.7,176.3 L451.1,176.7 L452.5,177.0 L453.9,177.3 L455.3,177.7 L456.6,178.1 L457.9,178.4 L459.2,178.7 L460.4,179.1 L461.6,179.4 L462.6,179.7 L463.6,180.0 L464.6,180.2 L465.5,180.5 L466.4,180.7 L467.2,181.0 L468.0,181.2 L468.6,181.4 L469.2,181.6 L469.8,181.7 L470.2,181.8 L471.1,181.9 L471.9,181.5 L472.4,180.8 L472.5,179.9 L472.1,179.1 L471.4,178.6 L471.0,178.4 L470.5,178.2 L469.9,177.9 L469.3,177.6 L468.6,177.3 L467.8,176.9 L467.0,176.5 L466.1,176.1 L465.1,175.7 L464.2,175.3 L463.1,174.9 L462.1,174.4 L460.9,173.9 L459.7,173.4 L458.4,172.8 L457.1,172.3 L455.8,171.7 L454.4,171.2 L453.0,170.6 L451.7,170.1 L450.3,169.6 L448.8,169.2 L447.3,168.7 L445.7,168.2 L444.2,167.7 L442.6,167.3 L441.0,166.8 L439.5,166.4 L438.0,166.0 L436.5,165.7 L435.1,165.4 L433.7,165.1 L432.3,164.9 L431.0,164.6 L429.6,164.4 L428.3,164.3 L426.9,164.1 L425.6,164.0 L424.3,164.0 L423.0,164.0 L421.8,164.0 L420.6,164.1 L419.5,164.2 L418.4,164.4 L417.3,164.6 L416.2,164.8 L415.1,165.1 L413.9,165.4 L412.7,165.8 L411.4,166.2 L410.0,166.7 L408.5,167.2 L407.0,167.8 L405.5,168.5 L403.9,169.2 L402.3,169.9 L400.8,170.6 L399.2,171.3 L397.7,171.9 L396.2,172.6 L394.7,173.2 L393.2,173.9 L391.7,174.6 L390.2,175.3 L388.7,176.0 L387.3,176.6 L385.9,177.2 L384.5,177.8 L383.2,178.2 L381.8,178.7 L380.5,179.0 L379.1,179.3 L377.7,179.6 L376.3,179.9 L375.0,180.1 L373.6,180.2 L372.2,180.4 L370.8,180.5 L369.4,180.6 L368.0,180.6 L366.6,180.7 L365.1,180.7 L363.6,180.6 L362.1,180.5 L360.6,180.4 L359.1,180.3 L357.7,180.1 L356.4,179.9 L355.1,179.7 L354.1,179.5 L353.2,179.4 L352.5,179.1 L351.8,178.9 L351.1,178.5 L350.4,178.2 L349.6,177.8 L348.8,177.4 L347.8,177.0 L346.7,176.6 L345.6,176.3 L344.4,176.1 L343.2,176.0 L342.1,176.0 L341.0,176.0 L339.9,176.0 L338.9,176.1 L338.0,176.1 L337.3,176.2 L336.7,176.2 L336.3,176.2 L334.3,176.8 L332.9,178.3 L332.4,180.3 L333.0,182.3 L334.5,183.7 Z" fill="#fff"/><path d="M340.4,188.1 L340.9,188.6 L341.5,189.1 L342.3,189.8 L343.1,190.6 L344.1,191.5 L345.1,192.4 L346.1,193.3 L347.1,194.1 L348.1,195.0 L349.1,195.7 L350.0,196.4 L350.9,197.0 L351.8,197.6 L352.7,198.2 L353.6,198.7 L354.4,199.2 L355.3,199.7 L356.1,200.2 L356.9,200.7 L357.7,201.2 L358.4,201.7 L359.2,202.2 L360.0,202.8 L360.8,203.4 L361.7,204.1 L362.6,204.7 L363.7,205.3 L364.9,205.9 L366.1,206.4 L367.5,206.7 L368.8,206.9 L370.1,206.9 L371.4,206.8 L372.6,206.6 L373.8,206.4 L374.9,206.1 L376.1,205.8 L377.2,205.5 L378.3,205.2 L379.6,204.9 L380.9,204.5 L382.4,204.1 L383.8,203.7 L385.3,203.3 L386.9,202.8 L388.4,202.4 L389.9,201.9 L391.5,201.5 L392.9,201.1 L394.4,200.7 L395.8,200.3 L397.3,199.9 L398.8,199.6 L400.3,199.2 L401.8,198.8 L403.3,198.5 L404.7,198.2 L406.1,197.9 L407.5,197.7 L408.8,197.4 L410.2,197.2 L411.5,197.0 L412.7,196.8 L413.9,196.7 L415.1,196.5 L416.3,196.4 L417.4,196.3 L418.6,196.3 L419.7,196.2 L420.9,196.3 L422.0,196.3 L423.3,196.4 L424.6,196.6 L425.9,196.7 L427.2,196.9 L428.4,197.2 L429.7,197.4 L430.8,197.7 L431.9,197.9 L432.8,198.1 L433.6,198.4 L434.2,198.6 L434.8,198.8 L435.3,199.0 L435.9,199.2 L436.4,199.4 L436.9,199.7 L437.5,200.0 L438.1,200.3 L438.7,200.6 L439.3,200.9 L439.8,201.1 L440.4,201.4 L441.0,201.7 L441.6,202.0 L442.1,202.3 L442.6,202.6 L443.0,202.9 L443.4,203.1 L443.7,203.3 L444.9,203.6 L446.0,203.4 L446.9,202.7 L447.2,201.5 L447.0,200.4 L446.3,199.5 L446.0,199.3 L445.7,199.1 L445.3,198.7 L444.8,198.4 L444.3,198.0 L443.8,197.5 L443.2,197.1 L442.7,196.6 L442.1,196.2 L441.5,195.8 L441.0,195.5 L440.6,195.1 L440.1,194.7 L439.5,194.3 L438.9,193.9 L438.2,193.4 L437.5,193.0 L436.6,192.5 L435.6,192.2 L434.6,191.9 L433.5,191.6 L432.3,191.3 L431.0,191.0 L429.7,190.7 L428.3,190.4 L426.9,190.2 L425.4,190.0 L424.0,189.8 L422.5,189.6 L421.1,189.5 L419.8,189.5 L418.4,189.5 L417.1,189.5 L415.8,189.6 L414.4,189.7 L413.1,189.9 L411.8,190.0 L410.5,190.2 L409.1,190.4 L407.8,190.6 L406.3,190.8 L404.8,191.1 L403.3,191.3 L401.8,191.6 L400.3,192.0 L398.7,192.3 L397.2,192.6 L395.7,193.0 L394.1,193.4 L392.6,193.7 L391.1,194.1 L389.5,194.6 L387.9,195.0 L386.3,195.5 L384.8,196.0 L383.3,196.4 L381.8,196.8 L380.4,197.2 L379.1,197.6 L377.8,197.9 L376.6,198.2 L375.3,198.6 L374.2,198.9 L373.2,199.2 L372.2,199.4 L371.4,199.6 L370.6,199.7 L369.9,199.8 L369.3,199.8 L368.7,199.7 L368.2,199.6 L367.7,199.4 L367.1,199.1 L366.4,198.7 L365.7,198.2 L365.0,197.7 L364.2,197.1 L363.3,196.5 L362.4,195.8 L361.5,195.2 L360.6,194.7 L359.7,194.2 L358.9,193.7 L358.0,193.2 L357.2,192.7 L356.4,192.2 L355.6,191.7 L354.9,191.2 L354.1,190.6 L353.3,190.1 L352.5,189.5 L351.6,188.7 L350.7,187.9 L349.7,187.1 L348.8,186.3 L347.8,185.4 L347.0,184.7 L346.2,183.9 L345.5,183.3 L345.0,182.9 L343.4,182.1 L341.6,182.2 L340.1,183.2 L339.3,184.8 L339.4,186.6 Z" fill="#fff"/><ellipse cx="343.00" cy="182.00" rx="7.50" ry="6.50" transform="rotate(0 343.00 182.00)" fill="#fff"/></mask></defs>
<g mask="url(#mk2)"><rect x="326.4" y="157.5" width="154.4" height="55.7" fill="#7a2892"/><path d="M336.5,182.9 L337.0,182.9 L337.7,182.8 L338.5,182.8 L339.3,182.7 L340.2,182.7 L341.1,182.6 L342.0,182.6 L342.8,182.7 L343.6,182.7 L344.3,182.8 L344.9,183.0 L345.4,183.1 L346.0,183.4 L346.7,183.7 L347.5,184.1 L348.3,184.5 L349.3,184.9 L350.3,185.3 L351.5,185.7 L352.8,186.0 L354.1,186.2 L355.5,186.4 L357.0,186.6 L358.5,186.7 L360.1,186.9 L361.7,187.0 L363.4,187.1 L365.0,187.1 L366.6,187.1 L368.2,187.1 L369.7,187.0 L371.2,186.9 L372.8,186.7 L374.3,186.6 L375.9,186.4 L377.4,186.1 L378.9,185.8 L380.5,185.5 L382.0,185.1 L383.6,184.7 L385.2,184.2 L386.7,183.6 L388.3,183.0 L389.8,182.3 L391.3,181.7 L392.8,180.9 L394.3,180.2 L395.8,179.5 L397.2,178.9 L398.7,178.2 L400.2,177.6 L401.7,176.9 L403.3,176.1 L404.9,175.4 L406.4,174.7 L407.9,174.0 L409.4,173.4 L410.8,172.8 L412.1,172.2 L413.3,171.8 L414.5,171.4 L415.6,171.0 L416.6,170.7 L417.5,170.5 L418.4,170.3 L419.3,170.1 L420.2,170.0 L421.1,169.8 L422.1,169.8 L423.2,169.7 L424.2,169.7 L425.4,169.7 L426.5,169.8 L427.7,169.9 L428.9,170.0 L430.1,170.2 L431.4,170.3 L432.7,170.6 L434.0,170.8 L435.4,171.0 L436.7,171.3 L438.2,171.7 L439.6,172.0 L441.2,172.4 L442.7,172.9 L444.2,173.3 L445.7,173.8 L447.2,174.2 L448.7,174.6 L450.1,175.1 L451.5,175.4 L452.9,175.8 L454.3,176.1 L455.7,176.5 L457.0,176.8 L458.4,177.2 L459.6,177.5 L460.8,177.9 L462.0,178.2 L463.1,178.5 L464.1,178.7 L465.0,179.0 L466.0,179.3 L466.8,179.5 L467.7,179.7 L468.4,180.0 L469.1,180.2 L469.7,180.3 L470.2,180.5 L470.6,180.6 L470.9,180.6 L471.1,180.5 L471.2,180.4 L471.2,180.1 L471.1,179.9 L471.0,179.8 L470.6,179.6 L470.1,179.4 L469.5,179.1 L468.8,178.8 L468.1,178.5 L467.3,178.1 L466.5,177.8 L465.6,177.4 L464.7,177.0 L463.7,176.5 L462.7,176.1 L461.6,175.6 L460.5,175.1 L459.3,174.6 L458.0,174.1 L456.7,173.5 L455.4,173.0 L454.0,172.4 L452.6,171.9 L451.3,171.3 L449.9,170.9 L448.4,170.4 L446.9,169.9 L445.4,169.5 L443.8,169.0 L442.3,168.5 L440.7,168.1 L439.2,167.7 L437.7,167.3 L436.2,167.0 L434.8,166.7 L433.5,166.4 L432.1,166.1 L430.8,165.9 L429.4,165.7 L428.1,165.6 L426.8,165.4 L425.6,165.3 L424.3,165.3 L423.0,165.3 L421.9,165.3 L420.7,165.4 L419.6,165.5 L418.6,165.7 L417.5,165.8 L416.5,166.1 L415.4,166.3 L414.3,166.7 L413.1,167.0 L411.9,167.4 L410.5,167.9 L409.0,168.4 L407.5,169.0 L406.0,169.7 L404.4,170.4 L402.9,171.1 L401.3,171.8 L399.8,172.5 L398.2,173.1 L396.7,173.8 L395.2,174.4 L393.7,175.1 L392.2,175.8 L390.7,176.5 L389.3,177.2 L387.8,177.8 L386.4,178.4 L385.0,179.0 L383.6,179.5 L382.2,179.9 L380.8,180.3 L379.4,180.6 L378.0,180.9 L376.6,181.1 L375.1,181.4 L373.7,181.5 L372.3,181.7 L370.9,181.8 L369.4,181.9 L368.0,181.9 L366.6,182.0 L365.1,182.0 L363.6,181.9 L362.0,181.8 L360.5,181.7 L359.0,181.6 L357.6,181.4 L356.2,181.2 L354.9,181.0 L353.8,180.8 L352.9,180.6 L352.1,180.4 L351.3,180.1 L350.6,179.7 L349.8,179.4 L349.1,179.0 L348.2,178.6 L347.4,178.2 L346.4,177.8 L345.3,177.6 L344.2,177.4 L343.1,177.3 L342.0,177.3 L341.0,177.3 L340.0,177.3 L339.0,177.4 L338.1,177.4 L337.4,177.5 L336.8,177.5 L336.3,177.5 L335.0,177.9 L334.0,178.9 L333.7,180.3 L334.1,181.6 L335.1,182.6 Z" fill="#cc3088" filter="url(#blur1)"/><path d="M341.2,187.1 L341.7,187.6 L342.4,188.2 L343.1,188.9 L344.0,189.7 L345.0,190.5 L345.9,191.4 L346.9,192.3 L347.9,193.1 L348.9,193.9 L349.9,194.7 L350.8,195.3 L351.6,195.9 L352.5,196.5 L353.4,197.1 L354.2,197.6 L355.1,198.1 L355.9,198.6 L356.8,199.1 L357.6,199.6 L358.4,200.1 L359.2,200.6 L359.9,201.1 L360.7,201.7 L361.6,202.4 L362.4,203.0 L363.3,203.6 L364.3,204.2 L365.4,204.7 L366.5,205.1 L367.7,205.4 L368.9,205.6 L370.1,205.6 L371.3,205.5 L372.4,205.3 L373.5,205.1 L374.6,204.8 L375.7,204.5 L376.9,204.2 L378.0,203.9 L379.3,203.6 L380.6,203.3 L382.0,202.9 L383.5,202.5 L385.0,202.0 L386.5,201.6 L388.0,201.1 L389.6,200.7 L391.1,200.2 L392.6,199.8 L394.1,199.4 L395.5,199.0 L397.0,198.7 L398.5,198.3 L400.0,197.9 L401.5,197.6 L403.0,197.2 L404.4,196.9 L405.9,196.6 L407.3,196.4 L408.6,196.1 L410.0,195.9 L411.3,195.7 L412.5,195.5 L413.8,195.4 L415.0,195.2 L416.2,195.1 L417.4,195.0 L418.5,195.0 L419.7,194.9 L420.9,195.0 L422.1,195.0 L423.4,195.1 L424.7,195.3 L426.1,195.5 L427.4,195.7 L428.7,195.9 L429.9,196.1 L431.1,196.4 L432.2,196.6 L433.2,196.9 L434.0,197.1 L434.7,197.4 L435.3,197.6 L435.9,197.8 L436.5,198.1 L437.1,198.3 L437.6,198.6 L438.2,198.9 L438.8,199.2 L439.4,199.5 L439.9,199.7 L440.5,200.0 L441.1,200.3 L441.7,200.7 L442.3,201.0 L442.8,201.3 L443.3,201.6 L443.8,201.8 L444.2,202.0 L444.5,202.2 L444.9,202.3 L445.4,202.3 L445.8,201.9 L445.9,201.5 L445.9,201.0 L445.5,200.6 L445.3,200.4 L444.9,200.1 L444.5,199.8 L444.1,199.4 L443.6,199.0 L443.1,198.6 L442.5,198.2 L442.0,197.7 L441.4,197.3 L440.8,196.9 L440.3,196.6 L439.9,196.2 L439.4,195.8 L438.8,195.4 L438.3,195.0 L437.6,194.6 L436.9,194.2 L436.1,193.8 L435.2,193.4 L434.2,193.1 L433.2,192.8 L432.0,192.5 L430.8,192.2 L429.5,192.0 L428.1,191.7 L426.7,191.5 L425.3,191.2 L423.9,191.1 L422.5,190.9 L421.1,190.8 L419.8,190.8 L418.4,190.8 L417.1,190.8 L415.9,190.9 L414.6,191.0 L413.3,191.1 L412.0,191.3 L410.7,191.5 L409.3,191.7 L408.0,191.9 L406.5,192.1 L405.1,192.3 L403.6,192.6 L402.1,192.9 L400.6,193.2 L399.0,193.6 L397.5,193.9 L396.0,194.3 L394.4,194.6 L392.9,195.0 L391.4,195.4 L389.8,195.8 L388.3,196.3 L386.7,196.7 L385.2,197.2 L383.7,197.7 L382.2,198.1 L380.8,198.5 L379.4,198.9 L378.1,199.2 L376.9,199.5 L375.7,199.8 L374.6,200.1 L373.5,200.4 L372.5,200.7 L371.6,200.9 L370.7,201.0 L369.9,201.1 L369.2,201.1 L368.5,201.0 L367.8,200.8 L367.2,200.6 L366.5,200.2 L365.7,199.8 L365.0,199.3 L364.2,198.7 L363.4,198.1 L362.6,197.5 L361.7,196.9 L360.8,196.3 L359.9,195.8 L359.1,195.3 L358.2,194.8 L357.4,194.3 L356.6,193.8 L355.7,193.3 L354.9,192.8 L354.1,192.3 L353.3,191.7 L352.5,191.1 L351.7,190.5 L350.8,189.7 L349.8,188.9 L348.9,188.1 L347.9,187.2 L347.0,186.4 L346.1,185.6 L345.3,184.9 L344.7,184.3 L344.2,183.9 L343.1,183.3 L342.0,183.4 L341.1,184.0 L340.5,185.1 L340.6,186.2 Z" fill="#cc3088" filter="url(#blur1)"/><path d="M455.0,177.1a3.0,3.0 0 1,0 6.0,0a3.0,3.0 0 1,0 -6.0,0M393.6,174.6a3.0,3.0 0 1,0 6.0,0a3.0,3.0 0 1,0 -6.0,0M359.8,182.3a3.0,3.0 0 1,0 6.0,0a3.0,3.0 0 1,0 -6.0,0M379.8,180.2a3.0,3.0 0 1,0 6.0,0a3.0,3.0 0 1,0 -6.0,0M366.1,183.2a3.0,3.0 0 1,0 6.0,0a3.0,3.0 0 1,0 -6.0,0M410.2,171.3a3.0,3.0 0 1,0 6.0,0a3.0,3.0 0 1,0 -6.0,0M434.6,169.0a3.0,3.0 0 1,0 6.0,0a3.0,3.0 0 1,0 -6.0,0M389.7,178.4a3.0,3.0 0 1,0 6.0,0a3.0,3.0 0 1,0 -6.0,0M384.6,179.7a3.0,3.0 0 1,0 6.0,0a3.0,3.0 0 1,0 -6.0,0M342.3,179.1a3.0,3.0 0 1,0 6.0,0a3.0,3.0 0 1,0 -6.0,0M463.8,178.1a3.0,3.0 0 1,0 6.0,0a3.0,3.0 0 1,0 -6.0,0M401.4,173.7a3.0,3.0 0 1,0 6.0,0a3.0,3.0 0 1,0 -6.0,0M370.5,182.8a3.0,3.0 0 1,0 6.0,0a3.0,3.0 0 1,0 -6.0,0M387.8,178.9a3.0,3.0 0 1,0 6.0,0a3.0,3.0 0 1,0 -6.0,0M461.5,178.6a3.0,3.0 0 1,0 6.0,0a3.0,3.0 0 1,0 -6.0,0M337.9,181.1a3.0,3.0 0 1,0 6.0,0a3.0,3.0 0 1,0 -6.0,0M411.3,166.6a3.0,3.0 0 1,0 6.0,0a3.0,3.0 0 1,0 -6.0,0M387.7,181.5a3.0,3.0 0 1,0 6.0,0a3.0,3.0 0 1,0 -6.0,0M444.3,173.6a3.0,3.0 0 1,0 6.0,0a3.0,3.0 0 1,0 -6.0,0M464.3,178.5a3.0,3.0 0 1,0 6.0,0a3.0,3.0 0 1,0 -6.0,0M348.7,181.1a3.0,3.0 0 1,0 6.0,0a3.0,3.0 0 1,0 -6.0,0M403.9,172.8a3.0,3.0 0 1,0 6.0,0a3.0,3.0 0 1,0 -6.0,0M459.9,177.8a3.0,3.0 0 1,0 6.0,0a3.0,3.0 0 1,0 -6.0,0M420.3,168.7a3.0,3.0 0 1,0 6.0,0a3.0,3.0 0 1,0 -6.0,0M395.3,176.0a3.0,3.0 0 1,0 6.0,0a3.0,3.0 0 1,0 -6.0,0M338.9,181.5a3.0,3.0 0 1,0 6.0,0a3.0,3.0 0 1,0 -6.0,0M365.4,186.6a3.0,3.0 0 1,0 6.0,0a3.0,3.0 0 1,0 -6.0,0M420.0,166.6a3.0,3.0 0 1,0 6.0,0a3.0,3.0 0 1,0 -6.0,0M418.8,168.4a3.0,3.0 0 1,0 6.0,0a3.0,3.0 0 1,0 -6.0,0M349.2,180.8a3.0,3.0 0 1,0 6.0,0a3.0,3.0 0 1,0 -6.0,0M403.9,172.3a3.0,3.0 0 1,0 6.0,0a3.0,3.0 0 1,0 -6.0,0M385.8,178.6a3.0,3.0 0 1,0 6.0,0a3.0,3.0 0 1,0 -6.0,0M413.3,166.2a3.0,3.0 0 1,0 6.0,0a3.0,3.0 0 1,0 -6.0,0M462.3,178.4a3.0,3.0 0 1,0 6.0,0a3.0,3.0 0 1,0 -6.0,0M365.5,183.2a3.0,3.0 0 1,0 6.0,0a3.0,3.0 0 1,0 -6.0,0M462.5,178.6a3.0,3.0 0 1,0 6.0,0a3.0,3.0 0 1,0 -6.0,0M400.8,174.2a3.0,3.0 0 1,0 6.0,0a3.0,3.0 0 1,0 -6.0,0M389.9,176.9a3.0,3.0 0 1,0 6.0,0a3.0,3.0 0 1,0 -6.0,0M423.0,169.4a3.0,3.0 0 1,0 6.0,0a3.0,3.0 0 1,0 -6.0,0M364.4,182.1a3.0,3.0 0 1,0 6.0,0a3.0,3.0 0 1,0 -6.0,0M379.7,181.9a3.0,3.0 0 1,0 6.0,0a3.0,3.0 0 1,0 -6.0,0M440.6,172.0a3.0,3.0 0 1,0 6.0,0a3.0,3.0 0 1,0 -6.0,0M400.7,171.8a3.0,3.0 0 1,0 6.0,0a3.0,3.0 0 1,0 -6.0,0M463.9,178.5a3.0,3.0 0 1,0 6.0,0a3.0,3.0 0 1,0 -6.0,0M444.3,171.0a3.0,3.0 0 1,0 6.0,0a3.0,3.0 0 1,0 -6.0,0M363.7,185.9a3.0,3.0 0 1,0 6.0,0a3.0,3.0 0 1,0 -6.0,0M399.5,172.2a3.0,3.0 0 1,0 6.0,0a3.0,3.0 0 1,0 -6.0,0M364.0,184.1a3.0,3.0 0 1,0 6.0,0a3.0,3.0 0 1,0 -6.0,0M422.7,169.5a3.0,3.0 0 1,0 6.0,0a3.0,3.0 0 1,0 -6.0,0M362.5,187.0a3.0,3.0 0 1,0 6.0,0a3.0,3.0 0 1,0 -6.0,0M352.9,181.4a3.0,3.0 0 1,0 6.0,0a3.0,3.0 0 1,0 -6.0,0M341.9,179.6a3.0,3.0 0 1,0 6.0,0a3.0,3.0 0 1,0 -6.0,0M431.7,170.9a3.0,3.0 0 1,0 6.0,0a3.0,3.0 0 1,0 -6.0,0M458.9,176.6a3.0,3.0 0 1,0 6.0,0a3.0,3.0 0 1,0 -6.0,0M358.6,186.6a3.0,3.0 0 1,0 6.0,0a3.0,3.0 0 1,0 -6.0,0M434.5,167.4a3.0,3.0 0 1,0 6.0,0a3.0,3.0 0 1,0 -6.0,0M422.7,167.0a3.0,3.0 0 1,0 6.0,0a3.0,3.0 0 1,0 -6.0,0M384.3,179.8a3.0,3.0 0 1,0 6.0,0a3.0,3.0 0 1,0 -6.0,0M356.6,181.6a3.0,3.0 0 1,0 6.0,0a3.0,3.0 0 1,0 -6.0,0M371.8,183.2a3.0,3.0 0 1,0 6.0,0a3.0,3.0 0 1,0 -6.0,0M462.2,177.4a3.0,3.0 0 1,0 6.0,0a3.0,3.0 0 1,0 -6.0,0M463.3,178.0a3.0,3.0 0 1,0 6.0,0a3.0,3.0 0 1,0 -6.0,0M382.9,183.0a3.0,3.0 0 1,0 6.0,0a3.0,3.0 0 1,0 -6.0,0M444.3,171.9a3.0,3.0 0 1,0 6.0,0a3.0,3.0 0 1,0 -6.0,0M340.3,179.9a3.0,3.0 0 1,0 6.0,0a3.0,3.0 0 1,0 -6.0,0M385.2,182.6a3.0,3.0 0 1,0 6.0,0a3.0,3.0 0 1,0 -6.0,0M359.8,183.7a3.0,3.0 0 1,0 6.0,0a3.0,3.0 0 1,0 -6.0,0M389.9,179.9a3.0,3.0 0 1,0 6.0,0a3.0,3.0 0 1,0 -6.0,0M437.3,168.1a3.0,3.0 0 1,0 6.0,0a3.0,3.0 0 1,0 -6.0,0M338.2,177.6a3.0,3.0 0 1,0 6.0,0a3.0,3.0 0 1,0 -6.0,0M457.5,175.8a3.0,3.0 0 1,0 6.0,0a3.0,3.0 0 1,0 -6.0,0M433.8,170.9a3.0,3.0 0 1,0 6.0,0a3.0,3.0 0 1,0 -6.0,0M379.7,181.2a3.0,3.0 0 1,0 6.0,0a3.0,3.0 0 1,0 -6.0,0M462.2,178.3a3.0,3.0 0 1,0 6.0,0a3.0,3.0 0 1,0 -6.0,0M369.5,185.3a3.0,3.0 0 1,0 6.0,0a3.0,3.0 0 1,0 -6.0,0M334.0,181.6a3.0,3.0 0 1,0 6.0,0a3.0,3.0 0 1,0 -6.0,0M360.6,200.9a3.0,3.0 0 1,0 6.0,0a3.0,3.0 0 1,0 -6.0,0M376.4,200.1a3.0,3.0 0 1,0 6.0,0a3.0,3.0 0 1,0 -6.0,0M421.8,194.2a3.0,3.0 0 1,0 6.0,0a3.0,3.0 0 1,0 -6.0,0M424.0,194.7a3.0,3.0 0 1,0 6.0,0a3.0,3.0 0 1,0 -6.0,0M400.3,194.2a3.0,3.0 0 1,0 6.0,0a3.0,3.0 0 1,0 -6.0,0M369.3,202.4a3.0,3.0 0 1,0 6.0,0a3.0,3.0 0 1,0 -6.0,0M419.9,191.3a3.0,3.0 0 1,0 6.0,0a3.0,3.0 0 1,0 -6.0,0M356.6,199.6a3.0,3.0 0 1,0 6.0,0a3.0,3.0 0 1,0 -6.0,0M362.8,200.2a3.0,3.0 0 1,0 6.0,0a3.0,3.0 0 1,0 -6.0,0M342.3,188.2a3.0,3.0 0 1,0 6.0,0a3.0,3.0 0 1,0 -6.0,0M370.6,205.0a3.0,3.0 0 1,0 6.0,0a3.0,3.0 0 1,0 -6.0,0M430.2,196.9a3.0,3.0 0 1,0 6.0,0a3.0,3.0 0 1,0 -6.0,0M364.2,201.0a3.0,3.0 0 1,0 6.0,0a3.0,3.0 0 1,0 -6.0,0M347.8,192.6a3.0,3.0 0 1,0 6.0,0a3.0,3.0 0 1,0 -6.0,0M360.8,200.7a3.0,3.0 0 1,0 6.0,0a3.0,3.0 0 1,0 -6.0,0M402.0,195.4a3.0,3.0 0 1,0 6.0,0a3.0,3.0 0 1,0 -6.0,0M415.9,194.3a3.0,3.0 0 1,0 6.0,0a3.0,3.0 0 1,0 -6.0,0M406.4,192.2a3.0,3.0 0 1,0 6.0,0a3.0,3.0 0 1,0 -6.0,0M426.3,193.1a3.0,3.0 0 1,0 6.0,0a3.0,3.0 0 1,0 -6.0,0M395.9,195.3a3.0,3.0 0 1,0 6.0,0a3.0,3.0 0 1,0 -6.0,0M362.4,200.9a3.0,3.0 0 1,0 6.0,0a3.0,3.0 0 1,0 -6.0,0M352.1,197.5a3.0,3.0 0 1,0 6.0,0a3.0,3.0 0 1,0 -6.0,0M397.1,194.8a3.0,3.0 0 1,0 6.0,0a3.0,3.0 0 1,0 -6.0,0M378.3,203.1a3.0,3.0 0 1,0 6.0,0a3.0,3.0 0 1,0 -6.0,0M422.5,194.0a3.0,3.0 0 1,0 6.0,0a3.0,3.0 0 1,0 -6.0,0M441.6,200.2a3.0,3.0 0 1,0 6.0,0a3.0,3.0 0 1,0 -6.0,0M425.8,195.6a3.0,3.0 0 1,0 6.0,0a3.0,3.0 0 1,0 -6.0,0M343.6,187.8a3.0,3.0 0 1,0 6.0,0a3.0,3.0 0 1,0 -6.0,0M350.6,192.9a3.0,3.0 0 1,0 6.0,0a3.0,3.0 0 1,0 -6.0,0M439.4,199.9a3.0,3.0 0 1,0 6.0,0a3.0,3.0 0 1,0 -6.0,0M429.0,194.3a3.0,3.0 0 1,0 6.0,0a3.0,3.0 0 1,0 -6.0,0M362.5,203.6a3.0,3.0 0 1,0 6.0,0a3.0,3.0 0 1,0 -6.0,0M399.3,195.7a3.0,3.0 0 1,0 6.0,0a3.0,3.0 0 1,0 -6.0,0M359.4,199.4a3.0,3.0 0 1,0 6.0,0a3.0,3.0 0 1,0 -6.0,0M352.6,194.3a3.0,3.0 0 1,0 6.0,0a3.0,3.0 0 1,0 -6.0,0M362.3,202.6a3.0,3.0 0 1,0 6.0,0a3.0,3.0 0 1,0 -6.0,0M405.1,192.7a3.0,3.0 0 1,0 6.0,0a3.0,3.0 0 1,0 -6.0,0M341.2,185.8a3.0,3.0 0 1,0 6.0,0a3.0,3.0 0 1,0 -6.0,0M368.4,201.8a3.0,3.0 0 1,0 6.0,0a3.0,3.0 0 1,0 -6.0,0M421.1,193.4a3.0,3.0 0 1,0 6.0,0a3.0,3.0 0 1,0 -6.0,0M346.1,188.9a3.0,3.0 0 1,0 6.0,0a3.0,3.0 0 1,0 -6.0,0M377.7,201.1a3.0,3.0 0 1,0 6.0,0a3.0,3.0 0 1,0 -6.0,0M403.6,192.5a3.0,3.0 0 1,0 6.0,0a3.0,3.0 0 1,0 -6.0,0M353.6,197.4a3.0,3.0 0 1,0 6.0,0a3.0,3.0 0 1,0 -6.0,0M378.9,199.5a3.0,3.0 0 1,0 6.0,0a3.0,3.0 0 1,0 -6.0,0M368.4,205.2a3.0,3.0 0 1,0 6.0,0a3.0,3.0 0 1,0 -6.0,0M368.7,203.4a3.0,3.0 0 1,0 6.0,0a3.0,3.0 0 1,0 -6.0,0M373.4,201.6a3.0,3.0 0 1,0 6.0,0a3.0,3.0 0 1,0 -6.0,0M428.3,196.4a3.0,3.0 0 1,0 6.0,0a3.0,3.0 0 1,0 -6.0,0M373.9,200.4a3.0,3.0 0 1,0 6.0,0a3.0,3.0 0 1,0 -6.0,0M339.0,187.2a3.0,3.0 0 1,0 6.0,0a3.0,3.0 0 1,0 -6.0,0M381.1,201.4a3.0,3.0 0 1,0 6.0,0a3.0,3.0 0 1,0 -6.0,0M379.3,202.3a3.0,3.0 0 1,0 6.0,0a3.0,3.0 0 1,0 -6.0,0M340.8,186.8a3.0,3.0 0 1,0 6.0,0a3.0,3.0 0 1,0 -6.0,0" fill="#2b2f8f" opacity="1.00" filter="url(#blurH)"/><path d="M336.40,180.20 C337.80,180.20 341.98,179.67 344.80,180.20 C347.62,180.73 349.42,182.68 353.30,183.40 C357.18,184.12 363.17,184.68 368.10,184.50 C373.03,184.32 377.97,183.72 382.90,182.30 C387.83,180.88 392.75,178.12 397.70,176.00 C402.65,173.88 408.37,171.02 412.60,169.60 C416.83,168.18 419.23,167.60 423.10,167.50 C426.97,167.40 431.20,168.05 435.80,169.00 C440.40,169.95 446.10,171.78 450.70,173.20 C455.30,174.62 460.05,176.33 463.40,177.50 C466.75,178.67 469.57,179.75 470.80,180.20" pathLength="100" fill="none" stroke="#e4436f" stroke-opacity="0.60" stroke-width="9.00" stroke-dasharray="0 12.26 3.57 300" filter="url(#blurS)"/><path d="M336.40,180.20 C337.80,180.20 341.98,179.67 344.80,180.20 C347.62,180.73 349.42,182.68 353.30,183.40 C357.18,184.12 363.17,184.68 368.10,184.50 C373.03,184.32 377.97,183.72 382.90,182.30 C387.83,180.88 392.75,178.12 397.70,176.00 C402.65,173.88 408.37,171.02 412.60,169.60 C416.83,168.18 419.23,167.60 423.10,167.50 C426.97,167.40 431.20,168.05 435.80,169.00 C440.40,169.95 446.10,171.78 450.70,173.20 C455.30,174.62 460.05,176.33 463.40,177.50 C466.75,178.67 469.57,179.75 470.80,180.20" pathLength="100" fill="none" stroke="#e4436f" stroke-opacity="0.60" stroke-width="9.00" stroke-dasharray="0 29.33 3.57 300" filter="url(#blurS)"/><path d="M336.40,180.20 C337.80,180.20 341.98,179.67 344.80,180.20 C347.62,180.73 349.42,182.68 353.30,183.40 C357.18,184.12 363.17,184.68 368.10,184.50 C373.03,184.32 377.97,183.72 382.90,182.30 C387.83,180.88 392.75,178.12 397.70,176.00 C402.65,173.88 408.37,171.02 412.60,169.60 C416.83,168.18 419.23,167.60 423.10,167.50 C426.97,167.40 431.20,168.05 435.80,169.00 C440.40,169.95 446.10,171.78 450.70,173.20 C455.30,174.62 460.05,176.33 463.40,177.50 C466.75,178.67 469.57,179.75 470.80,180.20" pathLength="100" fill="none" stroke="#e4436f" stroke-opacity="0.70" stroke-width="9.00" stroke-dasharray="0 68.35 4.28 300" filter="url(#blurS)"/><path d="M336.40,180.20 C337.80,180.20 341.98,179.67 344.80,180.20 C347.62,180.73 349.42,182.68 353.30,183.40 C357.18,184.12 363.17,184.68 368.10,184.50 C373.03,184.32 377.97,183.72 382.90,182.30 C387.83,180.88 392.75,178.12 397.70,176.00 C402.65,173.88 408.37,171.02 412.60,169.60 C416.83,168.18 419.23,167.60 423.10,167.50 C426.97,167.40 431.20,168.05 435.80,169.00 C440.40,169.95 446.10,171.78 450.70,173.20 C455.30,174.62 460.05,176.33 463.40,177.50 C466.75,178.67 469.57,179.75 470.80,180.20" pathLength="100" fill="none" stroke="#e4436f" stroke-opacity="0.70" stroke-width="9.00" stroke-dasharray="0 85.25 4.28 300" filter="url(#blurS)"/><path d="M342.70,185.50 C344.12,186.73 348.38,190.78 351.20,192.90 C354.02,195.02 356.78,196.48 359.60,198.20 C362.42,199.92 364.92,202.67 368.10,203.20 C371.28,203.73 374.47,202.40 378.70,201.40 C382.93,200.40 388.57,198.43 393.50,197.20 C398.43,195.97 403.72,194.72 408.30,194.00 C412.88,193.28 416.77,192.73 421.00,192.90 C425.23,193.07 430.52,194.12 433.70,195.00 C436.88,195.88 438.22,197.13 440.10,198.20 C441.98,199.27 444.18,200.87 445.00,201.40" pathLength="100" fill="none" stroke="#f3913b" stroke-opacity="0.60" stroke-width="9.00" stroke-dasharray="0 44.13 5.39 300" filter="url(#blurS)"/><path d="M342.70,185.50 C344.12,186.73 348.38,190.78 351.20,192.90 C354.02,195.02 356.78,196.48 359.60,198.20 C362.42,199.92 364.92,202.67 368.10,203.20 C371.28,203.73 374.47,202.40 378.70,201.40 C382.93,200.40 388.57,198.43 393.50,197.20 C398.43,195.97 403.72,194.72 408.30,194.00 C412.88,193.28 416.77,192.73 421.00,192.90 C425.23,193.07 430.52,194.12 433.70,195.00 C436.88,195.88 438.22,197.13 440.10,198.20 C441.98,199.27 444.18,200.87 445.00,201.40" pathLength="100" fill="none" stroke="#e4436f" stroke-opacity="0.60" stroke-width="9.00" stroke-dasharray="0 43.24 7.19 300" filter="url(#blurS)"/><path d="M342.70,185.50 C344.12,186.73 348.38,190.78 351.20,192.90 C354.02,195.02 356.78,196.48 359.60,198.20 C362.42,199.92 364.92,202.67 368.10,203.20 C371.28,203.73 374.47,202.40 378.70,201.40 C382.93,200.40 388.57,198.43 393.50,197.20 C398.43,195.97 403.72,194.72 408.30,194.00 C412.88,193.28 416.77,192.73 421.00,192.90 C425.23,193.07 430.52,194.12 433.70,195.00 C436.88,195.88 438.22,197.13 440.10,198.20 C441.98,199.27 444.18,200.87 445.00,201.40" pathLength="100" fill="none" stroke="#f3913b" stroke-opacity="0.70" stroke-width="9.00" stroke-dasharray="0 68.38 5.39 300" filter="url(#blurS)"/><path d="M342.70,185.50 C344.12,186.73 348.38,190.78 351.20,192.90 C354.02,195.02 356.78,196.48 359.60,198.20 C362.42,199.92 364.92,202.67 368.10,203.20 C371.28,203.73 374.47,202.40 378.70,201.40 C382.93,200.40 388.57,198.43 393.50,197.20 C398.43,195.97 403.72,194.72 408.30,194.00 C412.88,193.28 416.77,192.73 421.00,192.90 C425.23,193.07 430.52,194.12 433.70,195.00 C436.88,195.88 438.22,197.13 440.10,198.20 C441.98,199.27 444.18,200.87 445.00,201.40" pathLength="100" fill="none" stroke="#f3913b" stroke-opacity="0.80" stroke-width="9.00" stroke-dasharray="0 90.15 5.39 300" filter="url(#blurS)"/></g>
<path d="M456.8,177.1a1.2,1.2 0 1,0 2.4,0a1.2,1.2 0 1,0 -2.4,0M395.4,174.6a1.2,1.2 0 1,0 2.4,0a1.2,1.2 0 1,0 -2.4,0M361.6,182.3a1.2,1.2 0 1,0 2.4,0a1.2,1.2 0 1,0 -2.4,0M381.6,180.2a1.2,1.2 0 1,0 2.4,0a1.2,1.2 0 1,0 -2.4,0M368.0,183.2a1.2,1.2 0 1,0 2.4,0a1.2,1.2 0 1,0 -2.4,0M412.0,171.3a1.2,1.2 0 1,0 2.4,0a1.2,1.2 0 1,0 -2.4,0M436.4,169.0a1.2,1.2 0 1,0 2.4,0a1.2,1.2 0 1,0 -2.4,0M391.5,178.4a1.2,1.2 0 1,0 2.4,0a1.2,1.2 0 1,0 -2.4,0M386.5,179.7a1.2,1.2 0 1,0 2.4,0a1.2,1.2 0 1,0 -2.4,0M344.2,179.1a1.2,1.2 0 1,0 2.4,0a1.2,1.2 0 1,0 -2.4,0M465.6,178.1a1.2,1.2 0 1,0 2.4,0a1.2,1.2 0 1,0 -2.4,0M403.2,173.7a1.2,1.2 0 1,0 2.4,0a1.2,1.2 0 1,0 -2.4,0M372.3,182.8a1.2,1.2 0 1,0 2.4,0a1.2,1.2 0 1,0 -2.4,0M389.6,178.9a1.2,1.2 0 1,0 2.4,0a1.2,1.2 0 1,0 -2.4,0M463.4,178.6a1.2,1.2 0 1,0 2.4,0a1.2,1.2 0 1,0 -2.4,0M339.7,181.1a1.2,1.2 0 1,0 2.4,0a1.2,1.2 0 1,0 -2.4,0M413.2,166.6a1.2,1.2 0 1,0 2.4,0a1.2,1.2 0 1,0 -2.4,0M389.5,181.5a1.2,1.2 0 1,0 2.4,0a1.2,1.2 0 1,0 -2.4,0M446.1,173.6a1.2,1.2 0 1,0 2.4,0a1.2,1.2 0 1,0 -2.4,0M466.1,178.5a1.2,1.2 0 1,0 2.4,0a1.2,1.2 0 1,0 -2.4,0M350.5,181.1a1.2,1.2 0 1,0 2.4,0a1.2,1.2 0 1,0 -2.4,0M405.7,172.8a1.2,1.2 0 1,0 2.4,0a1.2,1.2 0 1,0 -2.4,0M461.8,177.8a1.2,1.2 0 1,0 2.4,0a1.2,1.2 0 1,0 -2.4,0M422.1,168.7a1.2,1.2 0 1,0 2.4,0a1.2,1.2 0 1,0 -2.4,0M397.1,176.0a1.2,1.2 0 1,0 2.4,0a1.2,1.2 0 1,0 -2.4,0M340.7,181.5a1.2,1.2 0 1,0 2.4,0a1.2,1.2 0 1,0 -2.4,0M367.2,186.6a1.2,1.2 0 1,0 2.4,0a1.2,1.2 0 1,0 -2.4,0M421.8,166.6a1.2,1.2 0 1,0 2.4,0a1.2,1.2 0 1,0 -2.4,0M420.6,168.4a1.2,1.2 0 1,0 2.4,0a1.2,1.2 0 1,0 -2.4,0M351.0,180.8a1.2,1.2 0 1,0 2.4,0a1.2,1.2 0 1,0 -2.4,0M405.8,172.3a1.2,1.2 0 1,0 2.4,0a1.2,1.2 0 1,0 -2.4,0M387.7,178.6a1.2,1.2 0 1,0 2.4,0a1.2,1.2 0 1,0 -2.4,0M415.2,166.2a1.2,1.2 0 1,0 2.4,0a1.2,1.2 0 1,0 -2.4,0M464.1,178.4a1.2,1.2 0 1,0 2.4,0a1.2,1.2 0 1,0 -2.4,0M367.3,183.2a1.2,1.2 0 1,0 2.4,0a1.2,1.2 0 1,0 -2.4,0M464.3,178.6a1.2,1.2 0 1,0 2.4,0a1.2,1.2 0 1,0 -2.4,0M402.6,174.2a1.2,1.2 0 1,0 2.4,0a1.2,1.2 0 1,0 -2.4,0M391.8,176.9a1.2,1.2 0 1,0 2.4,0a1.2,1.2 0 1,0 -2.4,0M424.8,169.4a1.2,1.2 0 1,0 2.4,0a1.2,1.2 0 1,0 -2.4,0M366.2,182.1a1.2,1.2 0 1,0 2.4,0a1.2,1.2 0 1,0 -2.4,0M381.6,181.9a1.2,1.2 0 1,0 2.4,0a1.2,1.2 0 1,0 -2.4,0M442.4,172.0a1.2,1.2 0 1,0 2.4,0a1.2,1.2 0 1,0 -2.4,0M402.5,171.8a1.2,1.2 0 1,0 2.4,0a1.2,1.2 0 1,0 -2.4,0M465.8,178.5a1.2,1.2 0 1,0 2.4,0a1.2,1.2 0 1,0 -2.4,0M446.1,171.0a1.2,1.2 0 1,0 2.4,0a1.2,1.2 0 1,0 -2.4,0M365.5,185.9a1.2,1.2 0 1,0 2.4,0a1.2,1.2 0 1,0 -2.4,0M401.3,172.2a1.2,1.2 0 1,0 2.4,0a1.2,1.2 0 1,0 -2.4,0M365.8,184.1a1.2,1.2 0 1,0 2.4,0a1.2,1.2 0 1,0 -2.4,0M424.5,169.5a1.2,1.2 0 1,0 2.4,0a1.2,1.2 0 1,0 -2.4,0M364.3,187.0a1.2,1.2 0 1,0 2.4,0a1.2,1.2 0 1,0 -2.4,0M354.7,181.4a1.2,1.2 0 1,0 2.4,0a1.2,1.2 0 1,0 -2.4,0M343.8,179.6a1.2,1.2 0 1,0 2.4,0a1.2,1.2 0 1,0 -2.4,0M433.6,170.9a1.2,1.2 0 1,0 2.4,0a1.2,1.2 0 1,0 -2.4,0M460.7,176.6a1.2,1.2 0 1,0 2.4,0a1.2,1.2 0 1,0 -2.4,0M360.4,186.6a1.2,1.2 0 1,0 2.4,0a1.2,1.2 0 1,0 -2.4,0M436.3,167.4a1.2,1.2 0 1,0 2.4,0a1.2,1.2 0 1,0 -2.4,0M424.5,167.0a1.2,1.2 0 1,0 2.4,0a1.2,1.2 0 1,0 -2.4,0M386.1,179.8a1.2,1.2 0 1,0 2.4,0a1.2,1.2 0 1,0 -2.4,0M358.5,181.6a1.2,1.2 0 1,0 2.4,0a1.2,1.2 0 1,0 -2.4,0M373.6,183.2a1.2,1.2 0 1,0 2.4,0a1.2,1.2 0 1,0 -2.4,0M464.0,177.4a1.2,1.2 0 1,0 2.4,0a1.2,1.2 0 1,0 -2.4,0M465.1,178.0a1.2,1.2 0 1,0 2.4,0a1.2,1.2 0 1,0 -2.4,0M384.7,183.0a1.2,1.2 0 1,0 2.4,0a1.2,1.2 0 1,0 -2.4,0M446.1,171.9a1.2,1.2 0 1,0 2.4,0a1.2,1.2 0 1,0 -2.4,0M342.1,179.9a1.2,1.2 0 1,0 2.4,0a1.2,1.2 0 1,0 -2.4,0M387.0,182.6a1.2,1.2 0 1,0 2.4,0a1.2,1.2 0 1,0 -2.4,0M361.6,183.7a1.2,1.2 0 1,0 2.4,0a1.2,1.2 0 1,0 -2.4,0M391.8,179.9a1.2,1.2 0 1,0 2.4,0a1.2,1.2 0 1,0 -2.4,0M439.1,168.1a1.2,1.2 0 1,0 2.4,0a1.2,1.2 0 1,0 -2.4,0M340.1,177.6a1.2,1.2 0 1,0 2.4,0a1.2,1.2 0 1,0 -2.4,0M459.3,175.8a1.2,1.2 0 1,0 2.4,0a1.2,1.2 0 1,0 -2.4,0M435.6,170.9a1.2,1.2 0 1,0 2.4,0a1.2,1.2 0 1,0 -2.4,0M381.5,181.2a1.2,1.2 0 1,0 2.4,0a1.2,1.2 0 1,0 -2.4,0M464.0,178.3a1.2,1.2 0 1,0 2.4,0a1.2,1.2 0 1,0 -2.4,0M371.3,185.3a1.2,1.2 0 1,0 2.4,0a1.2,1.2 0 1,0 -2.4,0M335.8,181.6a1.2,1.2 0 1,0 2.4,0a1.2,1.2 0 1,0 -2.4,0M362.4,200.9a1.2,1.2 0 1,0 2.4,0a1.2,1.2 0 1,0 -2.4,0M378.2,200.1a1.2,1.2 0 1,0 2.4,0a1.2,1.2 0 1,0 -2.4,0M423.7,194.2a1.2,1.2 0 1,0 2.4,0a1.2,1.2 0 1,0 -2.4,0M425.8,194.7a1.2,1.2 0 1,0 2.4,0a1.2,1.2 0 1,0 -2.4,0M402.1,194.2a1.2,1.2 0 1,0 2.4,0a1.2,1.2 0 1,0 -2.4,0M371.1,202.4a1.2,1.2 0 1,0 2.4,0a1.2,1.2 0 1,0 -2.4,0M421.7,191.3a1.2,1.2 0 1,0 2.4,0a1.2,1.2 0 1,0 -2.4,0M358.4,199.6a1.2,1.2 0 1,0 2.4,0a1.2,1.2 0 1,0 -2.4,0M364.6,200.2a1.2,1.2 0 1,0 2.4,0a1.2,1.2 0 1,0 -2.4,0M344.2,188.2a1.2,1.2 0 1,0 2.4,0a1.2,1.2 0 1,0 -2.4,0M372.5,205.0a1.2,1.2 0 1,0 2.4,0a1.2,1.2 0 1,0 -2.4,0M432.0,196.9a1.2,1.2 0 1,0 2.4,0a1.2,1.2 0 1,0 -2.4,0M366.1,201.0a1.2,1.2 0 1,0 2.4,0a1.2,1.2 0 1,0 -2.4,0M349.6,192.6a1.2,1.2 0 1,0 2.4,0a1.2,1.2 0 1,0 -2.4,0M362.6,200.7a1.2,1.2 0 1,0 2.4,0a1.2,1.2 0 1,0 -2.4,0M403.8,195.4a1.2,1.2 0 1,0 2.4,0a1.2,1.2 0 1,0 -2.4,0M417.8,194.3a1.2,1.2 0 1,0 2.4,0a1.2,1.2 0 1,0 -2.4,0M408.2,192.2a1.2,1.2 0 1,0 2.4,0a1.2,1.2 0 1,0 -2.4,0M428.1,193.1a1.2,1.2 0 1,0 2.4,0a1.2,1.2 0 1,0 -2.4,0M397.7,195.3a1.2,1.2 0 1,0 2.4,0a1.2,1.2 0 1,0 -2.4,0M364.2,200.9a1.2,1.2 0 1,0 2.4,0a1.2,1.2 0 1,0 -2.4,0M354.0,197.5a1.2,1.2 0 1,0 2.4,0a1.2,1.2 0 1,0 -2.4,0M398.9,194.8a1.2,1.2 0 1,0 2.4,0a1.2,1.2 0 1,0 -2.4,0M380.1,203.1a1.2,1.2 0 1,0 2.4,0a1.2,1.2 0 1,0 -2.4,0M424.3,194.0a1.2,1.2 0 1,0 2.4,0a1.2,1.2 0 1,0 -2.4,0M443.5,200.2a1.2,1.2 0 1,0 2.4,0a1.2,1.2 0 1,0 -2.4,0M427.6,195.6a1.2,1.2 0 1,0 2.4,0a1.2,1.2 0 1,0 -2.4,0M345.5,187.8a1.2,1.2 0 1,0 2.4,0a1.2,1.2 0 1,0 -2.4,0M352.4,192.9a1.2,1.2 0 1,0 2.4,0a1.2,1.2 0 1,0 -2.4,0M441.2,199.9a1.2,1.2 0 1,0 2.4,0a1.2,1.2 0 1,0 -2.4,0M430.8,194.3a1.2,1.2 0 1,0 2.4,0a1.2,1.2 0 1,0 -2.4,0M364.3,203.6a1.2,1.2 0 1,0 2.4,0a1.2,1.2 0 1,0 -2.4,0M401.1,195.7a1.2,1.2 0 1,0 2.4,0a1.2,1.2 0 1,0 -2.4,0M361.2,199.4a1.2,1.2 0 1,0 2.4,0a1.2,1.2 0 1,0 -2.4,0M354.4,194.3a1.2,1.2 0 1,0 2.4,0a1.2,1.2 0 1,0 -2.4,0M364.1,202.6a1.2,1.2 0 1,0 2.4,0a1.2,1.2 0 1,0 -2.4,0M406.9,192.7a1.2,1.2 0 1,0 2.4,0a1.2,1.2 0 1,0 -2.4,0M343.0,185.8a1.2,1.2 0 1,0 2.4,0a1.2,1.2 0 1,0 -2.4,0M370.3,201.8a1.2,1.2 0 1,0 2.4,0a1.2,1.2 0 1,0 -2.4,0M423.0,193.4a1.2,1.2 0 1,0 2.4,0a1.2,1.2 0 1,0 -2.4,0M347.9,188.9a1.2,1.2 0 1,0 2.4,0a1.2,1.2 0 1,0 -2.4,0M379.5,201.1a1.2,1.2 0 1,0 2.4,0a1.2,1.2 0 1,0 -2.4,0M405.4,192.5a1.2,1.2 0 1,0 2.4,0a1.2,1.2 0 1,0 -2.4,0M355.4,197.4a1.2,1.2 0 1,0 2.4,0a1.2,1.2 0 1,0 -2.4,0M380.7,199.5a1.2,1.2 0 1,0 2.4,0a1.2,1.2 0 1,0 -2.4,0M370.2,205.2a1.2,1.2 0 1,0 2.4,0a1.2,1.2 0 1,0 -2.4,0M370.5,203.4a1.2,1.2 0 1,0 2.4,0a1.2,1.2 0 1,0 -2.4,0M375.2,201.6a1.2,1.2 0 1,0 2.4,0a1.2,1.2 0 1,0 -2.4,0M430.1,196.4a1.2,1.2 0 1,0 2.4,0a1.2,1.2 0 1,0 -2.4,0M375.7,200.4a1.2,1.2 0 1,0 2.4,0a1.2,1.2 0 1,0 -2.4,0M340.8,187.2a1.2,1.2 0 1,0 2.4,0a1.2,1.2 0 1,0 -2.4,0M382.9,201.4a1.2,1.2 0 1,0 2.4,0a1.2,1.2 0 1,0 -2.4,0M381.1,202.3a1.2,1.2 0 1,0 2.4,0a1.2,1.2 0 1,0 -2.4,0M342.6,186.8a1.2,1.2 0 1,0 2.4,0a1.2,1.2 0 1,0 -2.4,0" fill="#e6f7da" stroke="#2a3a2a" stroke-width="0.55"/>
<defs><mask id="mk3" maskUnits="userSpaceOnUse" x="0" y="0" width="685" height="652"><path d="M483.3,189.3 L483.8,189.5 L484.5,189.8 L485.4,190.2 L486.3,190.7 L487.4,191.2 L488.6,191.7 L489.9,192.2 L491.2,192.6 L492.5,193.0 L493.9,193.3 L495.2,193.6 L496.4,193.7 L497.7,193.9 L499.0,194.0 L500.3,194.0 L501.7,194.1 L503.0,194.0 L504.3,194.0 L505.6,193.9 L507.0,193.7 L508.3,193.5 L509.6,193.3 L511.0,193.0 L512.3,192.7 L513.6,192.3 L514.9,191.9 L516.2,191.5 L517.5,191.0 L518.7,190.6 L519.9,190.1 L521.1,189.5 L522.3,188.9 L523.4,188.2 L524.5,187.5 L525.5,186.9 L526.5,186.2 L527.4,185.6 L528.3,185.0 L529.1,184.4 L530.0,183.9 L531.0,183.4 L531.9,182.9 L532.9,182.3 L533.8,181.8 L534.7,181.3 L535.6,180.8 L536.6,180.4 L537.5,179.9 L538.5,179.5 L539.5,179.1 L540.5,178.6 L541.6,178.2 L542.7,177.8 L543.8,177.4 L545.0,177.0 L546.2,176.7 L547.3,176.3 L548.5,175.9 L549.7,175.5 L550.9,175.2 L552.1,174.8 L553.2,174.5 L554.4,174.1 L555.6,173.8 L556.7,173.5 L557.8,173.2 L559.0,172.9 L560.1,172.6 L561.2,172.4 L562.3,172.2 L563.4,172.0 L564.5,171.8 L565.6,171.7 L566.7,171.6 L567.8,171.5 L569.0,171.4 L570.1,171.3 L571.2,171.3 L572.4,171.3 L573.5,171.2 L574.6,171.2 L575.7,171.3 L576.9,171.3 L578.1,171.4 L579.3,171.5 L580.5,171.6 L581.7,171.7 L582.8,171.8 L584.0,171.9 L585.1,171.9 L586.2,171.9 L587.3,171.8 L588.3,171.8 L589.3,171.8 L590.3,171.8 L591.2,171.8 L592.2,171.8 L593.1,171.8 L593.9,171.8 L594.8,171.8 L595.6,171.8 L596.5,171.8 L597.3,171.8 L598.1,171.8 L598.9,171.8 L599.6,171.8 L600.3,171.9 L600.9,171.9 L601.4,171.9 L601.8,171.9 L602.6,171.8 L603.2,171.3 L603.5,170.6 L603.4,169.8 L602.9,169.2 L602.2,168.9 L601.8,168.8 L601.3,168.7 L600.7,168.6 L600.0,168.4 L599.3,168.3 L598.5,168.1 L597.7,167.9 L596.9,167.8 L596.1,167.6 L595.2,167.4 L594.4,167.3 L593.5,167.1 L592.6,167.0 L591.7,166.8 L590.7,166.6 L589.7,166.4 L588.8,166.3 L587.7,166.1 L586.7,165.9 L585.7,165.7 L584.6,165.5 L583.5,165.4 L582.3,165.2 L581.1,165.1 L579.9,165.0 L578.6,164.9 L577.4,164.7 L576.1,164.7 L574.8,164.6 L573.5,164.6 L572.3,164.6 L571.0,164.6 L569.8,164.6 L568.6,164.7 L567.3,164.7 L566.1,164.8 L564.9,164.9 L563.6,165.1 L562.4,165.2 L561.1,165.4 L559.9,165.6 L558.6,165.9 L557.4,166.1 L556.1,166.4 L554.9,166.7 L553.7,167.1 L552.5,167.4 L551.3,167.7 L550.1,168.1 L548.9,168.4 L547.7,168.8 L546.5,169.1 L545.3,169.5 L544.0,169.8 L542.8,170.2 L541.5,170.6 L540.3,171.0 L539.1,171.4 L537.9,171.9 L536.7,172.3 L535.6,172.8 L534.5,173.3 L533.4,173.8 L532.4,174.3 L531.3,174.8 L530.3,175.3 L529.3,175.9 L528.4,176.4 L527.4,176.9 L526.4,177.5 L525.3,178.1 L524.3,178.7 L523.3,179.4 L522.3,180.0 L521.4,180.6 L520.5,181.2 L519.6,181.8 L518.7,182.3 L517.8,182.7 L516.9,183.1 L515.9,183.5 L514.9,183.9 L513.8,184.3 L512.7,184.7 L511.5,185.0 L510.4,185.3 L509.3,185.5 L508.2,185.7 L507.1,185.9 L506.0,186.1 L505.0,186.2 L503.9,186.2 L502.8,186.3 L501.7,186.3 L500.6,186.3 L499.5,186.2 L498.5,186.1 L497.4,186.0 L496.4,185.8 L495.5,185.7 L494.6,185.4 L493.7,185.1 L492.7,184.8 L491.7,184.4 L490.7,183.9 L489.7,183.4 L488.8,183.0 L487.9,182.6 L487.1,182.2 L486.5,181.9 L484.4,181.6 L482.5,182.4 L481.2,184.0 L480.9,186.1 L481.7,188.0 Z" fill="#fff"/><path d="M483.2,189.9 L483.7,190.5 L484.3,191.2 L485.1,192.2 L486.0,193.3 L487.0,194.5 L488.0,195.7 L489.1,196.9 L490.2,198.1 L491.4,199.2 L492.5,200.1 L493.6,200.9 L494.7,201.7 L495.8,202.3 L496.8,203.0 L497.9,203.5 L499.1,204.0 L500.2,204.5 L501.3,204.9 L502.5,205.3 L503.7,205.6 L504.9,205.9 L506.1,206.2 L507.4,206.4 L508.6,206.6 L509.9,206.8 L511.3,206.9 L512.6,206.9 L514.0,206.9 L515.4,206.8 L516.8,206.7 L518.3,206.5 L519.8,206.2 L521.3,205.8 L522.7,205.4 L524.2,205.0 L525.6,204.5 L527.1,204.0 L528.5,203.6 L529.9,203.1 L531.3,202.6 L532.7,202.2 L534.1,201.7 L535.5,201.2 L536.9,200.7 L538.3,200.2 L539.6,199.7 L541.0,199.2 L542.4,198.6 L543.7,198.1 L545.1,197.7 L546.5,197.1 L547.9,196.6 L549.3,196.1 L550.7,195.5 L552.0,195.0 L553.3,194.5 L554.6,194.1 L555.9,193.7 L557.2,193.3 L558.4,193.1 L559.7,192.8 L561.0,192.6 L562.3,192.5 L563.6,192.4 L565.0,192.3 L566.3,192.2 L567.6,192.2 L569.0,192.2 L570.3,192.2 L571.5,192.2 L572.7,192.2 L574.0,192.3 L575.2,192.4 L576.3,192.5 L577.5,192.6 L578.6,192.7 L579.7,192.9 L580.8,193.0 L581.8,193.2 L582.7,193.4 L583.6,193.5 L584.5,193.7 L585.4,193.9 L586.2,194.2 L587.0,194.4 L587.7,194.7 L588.4,194.9 L589.1,195.2 L589.7,195.4 L590.1,195.6 L590.4,195.8 L590.6,195.8 L590.6,195.8 L590.6,195.8 L590.6,195.8 L590.6,195.8 L590.7,195.9 L590.7,196.0 L590.9,196.4 L591.1,196.7 L592.0,197.5 L593.1,197.7 L594.2,197.4 L595.0,196.5 L595.2,195.4 L594.9,194.3 L594.9,194.4 L595.0,194.4 L595.0,194.3 L594.8,194.0 L594.7,193.6 L594.4,193.1 L594.0,192.6 L593.6,192.2 L593.0,191.7 L592.5,191.4 L591.9,191.0 L591.3,190.7 L590.6,190.3 L589.8,189.9 L589.0,189.5 L588.1,189.1 L587.2,188.7 L586.2,188.3 L585.1,187.9 L584.1,187.6 L583.0,187.3 L581.9,187.1 L580.7,186.9 L579.5,186.7 L578.2,186.5 L577.0,186.4 L575.7,186.3 L574.3,186.1 L573.0,186.1 L571.7,186.0 L570.4,186.0 L569.0,185.9 L567.6,185.9 L566.1,185.9 L564.7,186.0 L563.2,186.0 L561.7,186.1 L560.2,186.3 L558.7,186.5 L557.2,186.7 L555.7,187.1 L554.2,187.5 L552.7,187.9 L551.2,188.4 L549.8,188.9 L548.4,189.4 L547.0,189.9 L545.6,190.4 L544.2,190.9 L542.9,191.3 L541.5,191.8 L540.1,192.3 L538.7,192.8 L537.3,193.3 L535.9,193.8 L534.6,194.3 L533.2,194.8 L531.8,195.3 L530.5,195.7 L529.1,196.2 L527.7,196.6 L526.3,197.1 L524.9,197.6 L523.5,198.0 L522.2,198.4 L520.8,198.8 L519.5,199.2 L518.3,199.5 L517.1,199.7 L516.0,199.9 L514.9,200.0 L513.8,200.0 L512.7,200.0 L511.6,200.0 L510.6,199.9 L509.5,199.8 L508.5,199.6 L507.5,199.4 L506.5,199.2 L505.5,199.0 L504.5,198.7 L503.6,198.4 L502.7,198.0 L501.8,197.7 L501.0,197.3 L500.1,196.8 L499.3,196.4 L498.5,195.9 L497.7,195.3 L496.9,194.7 L496.1,194.0 L495.2,193.1 L494.2,192.1 L493.3,191.1 L492.3,189.9 L491.4,188.8 L490.5,187.8 L489.7,186.8 L489.0,185.9 L488.4,185.3 L486.9,184.3 L485.1,184.2 L483.5,185.0 L482.5,186.5 L482.4,188.3 Z" fill="#fff"/><ellipse cx="488.00" cy="189.00" rx="6.00" ry="6.00" transform="rotate(0 488.00 189.00)" fill="#fff"/></mask></defs>
<g mask="url(#mk3)"><rect x="474.9" y="157.9" width="137.1" height="55.4" fill="#7a2892"/><path d="M483.8,188.1 L484.4,188.3 L485.1,188.6 L485.9,189.0 L486.9,189.5 L488.0,190.0 L489.1,190.5 L490.4,190.9 L491.6,191.4 L492.9,191.8 L494.2,192.1 L495.4,192.3 L496.6,192.5 L497.8,192.6 L499.1,192.7 L500.4,192.7 L501.7,192.8 L503.0,192.7 L504.2,192.7 L505.5,192.6 L506.8,192.4 L508.1,192.2 L509.4,192.0 L510.7,191.7 L512.0,191.4 L513.3,191.1 L514.5,190.7 L515.8,190.3 L517.0,189.8 L518.2,189.4 L519.4,188.9 L520.6,188.3 L521.7,187.7 L522.8,187.1 L523.8,186.4 L524.8,185.8 L525.7,185.1 L526.7,184.5 L527.6,183.9 L528.5,183.3 L529.4,182.8 L530.3,182.3 L531.3,181.7 L532.2,181.2 L533.2,180.7 L534.1,180.2 L535.1,179.7 L536.0,179.2 L537.0,178.7 L538.0,178.3 L539.0,177.9 L540.0,177.4 L541.1,177.0 L542.3,176.6 L543.4,176.2 L544.6,175.8 L545.8,175.4 L547.0,175.0 L548.2,174.7 L549.3,174.3 L550.5,173.9 L551.7,173.6 L552.9,173.2 L554.0,172.9 L555.2,172.5 L556.4,172.2 L557.5,171.9 L558.7,171.6 L559.8,171.4 L560.9,171.1 L562.1,170.9 L563.2,170.7 L564.3,170.6 L565.5,170.4 L566.6,170.3 L567.7,170.2 L568.9,170.1 L570.0,170.0 L571.2,170.0 L572.3,170.0 L573.5,169.9 L574.6,169.9 L575.8,170.0 L577.0,170.0 L578.2,170.1 L579.4,170.2 L580.6,170.3 L581.8,170.4 L583.0,170.5 L584.1,170.6 L585.3,170.6 L586.3,170.6 L587.4,170.5 L588.4,170.5 L589.4,170.5 L590.4,170.5 L591.4,170.5 L592.3,170.5 L593.2,170.5 L594.1,170.5 L594.9,170.5 L595.8,170.5 L596.6,170.5 L597.4,170.5 L598.3,170.5 L599.0,170.5 L599.8,170.5 L600.5,170.6 L601.1,170.6 L601.6,170.6 L602.0,170.6 L602.1,170.6 L602.2,170.5 L602.2,170.4 L602.2,170.3 L602.1,170.2 L602.0,170.2 L601.6,170.1 L601.1,170.0 L600.5,169.9 L599.9,169.7 L599.2,169.6 L598.4,169.4 L597.6,169.2 L596.8,169.1 L595.9,168.9 L595.1,168.7 L594.2,168.6 L593.4,168.4 L592.5,168.2 L591.6,168.1 L590.6,167.9 L589.6,167.7 L588.6,167.6 L587.6,167.4 L586.6,167.2 L585.5,167.0 L584.5,166.8 L583.4,166.7 L582.2,166.5 L581.0,166.4 L579.8,166.3 L578.5,166.1 L577.3,166.0 L576.0,166.0 L574.8,165.9 L573.5,165.9 L572.3,165.9 L571.1,165.9 L569.9,165.9 L568.7,166.0 L567.4,166.0 L566.2,166.1 L565.0,166.2 L563.8,166.4 L562.6,166.5 L561.3,166.7 L560.1,166.9 L558.9,167.1 L557.7,167.4 L556.4,167.7 L555.2,168.0 L554.0,168.3 L552.8,168.7 L551.6,169.0 L550.5,169.3 L549.3,169.7 L548.1,170.0 L546.9,170.3 L545.6,170.7 L544.4,171.1 L543.2,171.5 L542.0,171.8 L540.7,172.2 L539.5,172.7 L538.4,173.1 L537.2,173.5 L536.1,174.0 L535.0,174.5 L534.0,175.0 L532.9,175.5 L531.9,176.0 L530.9,176.5 L530.0,177.0 L529.0,177.5 L528.0,178.1 L527.0,178.6 L526.0,179.2 L525.0,179.8 L524.0,180.5 L523.0,181.1 L522.1,181.7 L521.2,182.3 L520.2,182.9 L519.3,183.4 L518.4,183.9 L517.4,184.3 L516.4,184.7 L515.3,185.1 L514.2,185.5 L513.0,185.9 L511.9,186.2 L510.7,186.5 L509.6,186.8 L508.4,187.0 L507.3,187.2 L506.2,187.4 L505.1,187.5 L504.0,187.5 L502.8,187.6 L501.7,187.6 L500.6,187.6 L499.4,187.5 L498.3,187.4 L497.3,187.3 L496.2,187.1 L495.2,186.9 L494.3,186.7 L493.3,186.4 L492.3,186.0 L491.2,185.5 L490.2,185.1 L489.1,184.6 L488.2,184.2 L487.3,183.8 L486.6,183.4 L486.0,183.1 L484.6,182.9 L483.3,183.4 L482.4,184.5 L482.2,185.9 L482.7,187.2 Z" fill="#cc3088" filter="url(#blur1)"/><path d="M484.1,189.0 L484.6,189.6 L485.3,190.4 L486.1,191.4 L487.0,192.5 L488.0,193.6 L489.0,194.8 L490.1,196.0 L491.2,197.1 L492.3,198.2 L493.3,199.1 L494.4,199.9 L495.4,200.6 L496.4,201.2 L497.5,201.8 L498.5,202.3 L499.6,202.8 L500.7,203.3 L501.8,203.7 L502.9,204.1 L504.0,204.4 L505.2,204.7 L506.4,204.9 L507.6,205.2 L508.8,205.3 L510.1,205.5 L511.3,205.6 L512.6,205.6 L513.9,205.6 L515.3,205.6 L516.7,205.4 L518.1,205.2 L519.5,204.9 L520.9,204.6 L522.4,204.2 L523.8,203.7 L525.2,203.3 L526.7,202.8 L528.1,202.3 L529.5,201.9 L530.9,201.4 L532.2,201.0 L533.6,200.5 L535.0,200.0 L536.4,199.5 L537.8,199.0 L539.2,198.4 L540.6,197.9 L541.9,197.4 L543.3,196.9 L544.7,196.4 L546.1,195.9 L547.5,195.4 L548.8,194.9 L550.2,194.3 L551.6,193.8 L552.9,193.3 L554.3,192.9 L555.6,192.4 L556.9,192.1 L558.2,191.8 L559.5,191.5 L560.8,191.3 L562.2,191.2 L563.5,191.1 L564.9,191.0 L566.3,190.9 L567.6,190.9 L569.0,190.9 L570.3,190.9 L571.6,190.9 L572.8,190.9 L574.0,191.0 L575.3,191.1 L576.5,191.2 L577.7,191.3 L578.8,191.4 L579.9,191.6 L581.0,191.8 L582.1,192.0 L583.0,192.1 L584.0,192.3 L584.9,192.5 L585.8,192.7 L586.6,193.0 L587.5,193.2 L588.3,193.5 L589.0,193.8 L589.7,194.0 L590.3,194.3 L590.8,194.5 L591.1,194.7 L591.4,194.8 L591.6,195.0 L591.7,195.1 L591.8,195.2 L591.8,195.3 L591.9,195.4 L592.0,195.6 L592.1,195.8 L592.2,196.0 L592.6,196.3 L593.0,196.4 L593.5,196.3 L593.8,195.9 L593.9,195.5 L593.8,195.0 L593.8,194.9 L593.8,194.9 L593.7,194.7 L593.7,194.5 L593.5,194.2 L593.3,193.9 L593.1,193.5 L592.7,193.2 L592.3,192.8 L591.8,192.5 L591.3,192.2 L590.7,191.9 L590.0,191.5 L589.3,191.1 L588.5,190.7 L587.6,190.3 L586.7,189.9 L585.8,189.5 L584.8,189.2 L583.8,188.9 L582.7,188.6 L581.6,188.4 L580.5,188.2 L579.3,188.0 L578.1,187.8 L576.8,187.7 L575.6,187.5 L574.3,187.4 L573.0,187.4 L571.6,187.3 L570.3,187.3 L569.0,187.2 L567.6,187.2 L566.2,187.2 L564.7,187.3 L563.3,187.3 L561.8,187.4 L560.4,187.6 L558.9,187.8 L557.4,188.0 L556.0,188.3 L554.5,188.7 L553.1,189.1 L551.6,189.6 L550.2,190.1 L548.8,190.6 L547.4,191.1 L546.1,191.6 L544.7,192.1 L543.3,192.6 L541.9,193.0 L540.5,193.5 L539.1,194.0 L537.8,194.5 L536.4,195.0 L535.0,195.5 L533.6,196.0 L532.3,196.5 L530.9,196.9 L529.5,197.4 L528.1,197.8 L526.7,198.3 L525.3,198.8 L523.9,199.2 L522.5,199.7 L521.2,200.1 L519.9,200.5 L518.6,200.8 L517.3,201.0 L516.1,201.2 L515.0,201.3 L513.8,201.3 L512.7,201.3 L511.6,201.3 L510.5,201.2 L509.4,201.1 L508.3,200.9 L507.2,200.7 L506.2,200.5 L505.2,200.2 L504.2,199.9 L503.2,199.6 L502.2,199.3 L501.3,198.9 L500.4,198.5 L499.5,198.0 L498.7,197.5 L497.8,196.9 L496.9,196.3 L496.1,195.7 L495.2,195.0 L494.3,194.1 L493.3,193.0 L492.3,191.9 L491.3,190.8 L490.4,189.6 L489.5,188.6 L488.7,187.6 L488.0,186.8 L487.5,186.2 L486.5,185.5 L485.4,185.4 L484.4,185.9 L483.7,186.9 L483.6,188.0 Z" fill="#cc3088" filter="url(#blur1)"/><path d="M554.8,167.8a3.0,3.0 0 1,0 6.0,0a3.0,3.0 0 1,0 -6.0,0M553.0,170.1a3.0,3.0 0 1,0 6.0,0a3.0,3.0 0 1,0 -6.0,0M498.9,190.3a3.0,3.0 0 1,0 6.0,0a3.0,3.0 0 1,0 -6.0,0M589.9,169.4a3.0,3.0 0 1,0 6.0,0a3.0,3.0 0 1,0 -6.0,0M505.6,191.9a3.0,3.0 0 1,0 6.0,0a3.0,3.0 0 1,0 -6.0,0M488.1,187.7a3.0,3.0 0 1,0 6.0,0a3.0,3.0 0 1,0 -6.0,0M577.5,169.5a3.0,3.0 0 1,0 6.0,0a3.0,3.0 0 1,0 -6.0,0M508.6,190.7a3.0,3.0 0 1,0 6.0,0a3.0,3.0 0 1,0 -6.0,0M578.3,167.3a3.0,3.0 0 1,0 6.0,0a3.0,3.0 0 1,0 -6.0,0M527.3,178.9a3.0,3.0 0 1,0 6.0,0a3.0,3.0 0 1,0 -6.0,0M496.1,191.2a3.0,3.0 0 1,0 6.0,0a3.0,3.0 0 1,0 -6.0,0M586.5,169.3a3.0,3.0 0 1,0 6.0,0a3.0,3.0 0 1,0 -6.0,0M495.5,190.3a3.0,3.0 0 1,0 6.0,0a3.0,3.0 0 1,0 -6.0,0M553.5,169.6a3.0,3.0 0 1,0 6.0,0a3.0,3.0 0 1,0 -6.0,0M548.6,172.0a3.0,3.0 0 1,0 6.0,0a3.0,3.0 0 1,0 -6.0,0M531.7,174.7a3.0,3.0 0 1,0 6.0,0a3.0,3.0 0 1,0 -6.0,0M552.3,169.0a3.0,3.0 0 1,0 6.0,0a3.0,3.0 0 1,0 -6.0,0M533.9,176.1a3.0,3.0 0 1,0 6.0,0a3.0,3.0 0 1,0 -6.0,0M494.3,189.5a3.0,3.0 0 1,0 6.0,0a3.0,3.0 0 1,0 -6.0,0M492.3,189.7a3.0,3.0 0 1,0 6.0,0a3.0,3.0 0 1,0 -6.0,0M487.3,185.6a3.0,3.0 0 1,0 6.0,0a3.0,3.0 0 1,0 -6.0,0M540.1,173.9a3.0,3.0 0 1,0 6.0,0a3.0,3.0 0 1,0 -6.0,0M524.4,179.2a3.0,3.0 0 1,0 6.0,0a3.0,3.0 0 1,0 -6.0,0M504.8,189.7a3.0,3.0 0 1,0 6.0,0a3.0,3.0 0 1,0 -6.0,0M501.4,192.3a3.0,3.0 0 1,0 6.0,0a3.0,3.0 0 1,0 -6.0,0M488.8,190.1a3.0,3.0 0 1,0 6.0,0a3.0,3.0 0 1,0 -6.0,0M500.5,189.0a3.0,3.0 0 1,0 6.0,0a3.0,3.0 0 1,0 -6.0,0M576.5,168.2a3.0,3.0 0 1,0 6.0,0a3.0,3.0 0 1,0 -6.0,0M589.3,168.8a3.0,3.0 0 1,0 6.0,0a3.0,3.0 0 1,0 -6.0,0M538.7,172.1a3.0,3.0 0 1,0 6.0,0a3.0,3.0 0 1,0 -6.0,0M503.6,192.1a3.0,3.0 0 1,0 6.0,0a3.0,3.0 0 1,0 -6.0,0M559.7,167.2a3.0,3.0 0 1,0 6.0,0a3.0,3.0 0 1,0 -6.0,0M555.1,171.2a3.0,3.0 0 1,0 6.0,0a3.0,3.0 0 1,0 -6.0,0M545.6,174.0a3.0,3.0 0 1,0 6.0,0a3.0,3.0 0 1,0 -6.0,0M493.8,190.5a3.0,3.0 0 1,0 6.0,0a3.0,3.0 0 1,0 -6.0,0M526.4,178.7a3.0,3.0 0 1,0 6.0,0a3.0,3.0 0 1,0 -6.0,0M523.2,181.6a3.0,3.0 0 1,0 6.0,0a3.0,3.0 0 1,0 -6.0,0M502.5,187.7a3.0,3.0 0 1,0 6.0,0a3.0,3.0 0 1,0 -6.0,0M577.0,168.8a3.0,3.0 0 1,0 6.0,0a3.0,3.0 0 1,0 -6.0,0M557.6,166.8a3.0,3.0 0 1,0 6.0,0a3.0,3.0 0 1,0 -6.0,0M485.4,187.9a3.0,3.0 0 1,0 6.0,0a3.0,3.0 0 1,0 -6.0,0M531.9,179.2a3.0,3.0 0 1,0 6.0,0a3.0,3.0 0 1,0 -6.0,0M497.2,190.9a3.0,3.0 0 1,0 6.0,0a3.0,3.0 0 1,0 -6.0,0M484.7,186.0a3.0,3.0 0 1,0 6.0,0a3.0,3.0 0 1,0 -6.0,0M494.3,188.5a3.0,3.0 0 1,0 6.0,0a3.0,3.0 0 1,0 -6.0,0M548.1,170.1a3.0,3.0 0 1,0 6.0,0a3.0,3.0 0 1,0 -6.0,0M552.8,168.5a3.0,3.0 0 1,0 6.0,0a3.0,3.0 0 1,0 -6.0,0M591.3,168.9a3.0,3.0 0 1,0 6.0,0a3.0,3.0 0 1,0 -6.0,0M492.5,191.6a3.0,3.0 0 1,0 6.0,0a3.0,3.0 0 1,0 -6.0,0M513.4,188.2a3.0,3.0 0 1,0 6.0,0a3.0,3.0 0 1,0 -6.0,0M546.2,172.7a3.0,3.0 0 1,0 6.0,0a3.0,3.0 0 1,0 -6.0,0M532.8,177.9a3.0,3.0 0 1,0 6.0,0a3.0,3.0 0 1,0 -6.0,0M510.6,185.9a3.0,3.0 0 1,0 6.0,0a3.0,3.0 0 1,0 -6.0,0M542.0,172.0a3.0,3.0 0 1,0 6.0,0a3.0,3.0 0 1,0 -6.0,0M489.3,186.1a3.0,3.0 0 1,0 6.0,0a3.0,3.0 0 1,0 -6.0,0M544.2,170.9a3.0,3.0 0 1,0 6.0,0a3.0,3.0 0 1,0 -6.0,0M505.5,189.6a3.0,3.0 0 1,0 6.0,0a3.0,3.0 0 1,0 -6.0,0M555.0,168.1a3.0,3.0 0 1,0 6.0,0a3.0,3.0 0 1,0 -6.0,0M517.0,183.3a3.0,3.0 0 1,0 6.0,0a3.0,3.0 0 1,0 -6.0,0M564.4,169.6a3.0,3.0 0 1,0 6.0,0a3.0,3.0 0 1,0 -6.0,0M532.5,174.8a3.0,3.0 0 1,0 6.0,0a3.0,3.0 0 1,0 -6.0,0M509.2,187.9a3.0,3.0 0 1,0 6.0,0a3.0,3.0 0 1,0 -6.0,0M513.2,187.1a3.0,3.0 0 1,0 6.0,0a3.0,3.0 0 1,0 -6.0,0M514.0,189.6a3.0,3.0 0 1,0 6.0,0a3.0,3.0 0 1,0 -6.0,0M507.0,186.8a3.0,3.0 0 1,0 6.0,0a3.0,3.0 0 1,0 -6.0,0M513.1,188.8a3.0,3.0 0 1,0 6.0,0a3.0,3.0 0 1,0 -6.0,0M519.5,183.4a3.0,3.0 0 1,0 6.0,0a3.0,3.0 0 1,0 -6.0,0M510.4,189.1a3.0,3.0 0 1,0 6.0,0a3.0,3.0 0 1,0 -6.0,0M561.8,170.4a3.0,3.0 0 1,0 6.0,0a3.0,3.0 0 1,0 -6.0,0M535.6,176.5a3.0,3.0 0 1,0 6.0,0a3.0,3.0 0 1,0 -6.0,0M581.6,169.6a3.0,3.0 0 1,0 6.0,0a3.0,3.0 0 1,0 -6.0,0M546.6,170.6a3.0,3.0 0 1,0 6.0,0a3.0,3.0 0 1,0 -6.0,0M553.5,171.8a3.0,3.0 0 1,0 6.0,0a3.0,3.0 0 1,0 -6.0,0M498.8,188.1a3.0,3.0 0 1,0 6.0,0a3.0,3.0 0 1,0 -6.0,0M590.4,168.7a3.0,3.0 0 1,0 6.0,0a3.0,3.0 0 1,0 -6.0,0M484.7,188.0a3.0,3.0 0 1,0 6.0,0a3.0,3.0 0 1,0 -6.0,0M554.7,170.7a3.0,3.0 0 1,0 6.0,0a3.0,3.0 0 1,0 -6.0,0M489.5,188.1a3.0,3.0 0 1,0 6.0,0a3.0,3.0 0 1,0 -6.0,0M585.7,170.1a3.0,3.0 0 1,0 6.0,0a3.0,3.0 0 1,0 -6.0,0M494.5,187.9a3.0,3.0 0 1,0 6.0,0a3.0,3.0 0 1,0 -6.0,0M485.0,188.9a3.0,3.0 0 1,0 6.0,0a3.0,3.0 0 1,0 -6.0,0M554.6,170.2a3.0,3.0 0 1,0 6.0,0a3.0,3.0 0 1,0 -6.0,0M514.9,184.6a3.0,3.0 0 1,0 6.0,0a3.0,3.0 0 1,0 -6.0,0M529.6,177.0a3.0,3.0 0 1,0 6.0,0a3.0,3.0 0 1,0 -6.0,0M515.0,186.1a3.0,3.0 0 1,0 6.0,0a3.0,3.0 0 1,0 -6.0,0M519.3,184.5a3.0,3.0 0 1,0 6.0,0a3.0,3.0 0 1,0 -6.0,0M485.5,186.9a3.0,3.0 0 1,0 6.0,0a3.0,3.0 0 1,0 -6.0,0M562.9,167.1a3.0,3.0 0 1,0 6.0,0a3.0,3.0 0 1,0 -6.0,0M497.9,199.6a3.0,3.0 0 1,0 6.0,0a3.0,3.0 0 1,0 -6.0,0M483.2,188.0a3.0,3.0 0 1,0 6.0,0a3.0,3.0 0 1,0 -6.0,0M534.4,198.4a3.0,3.0 0 1,0 6.0,0a3.0,3.0 0 1,0 -6.0,0M507.6,202.4a3.0,3.0 0 1,0 6.0,0a3.0,3.0 0 1,0 -6.0,0M502.3,202.5a3.0,3.0 0 1,0 6.0,0a3.0,3.0 0 1,0 -6.0,0M492.6,195.7a3.0,3.0 0 1,0 6.0,0a3.0,3.0 0 1,0 -6.0,0M518.4,201.8a3.0,3.0 0 1,0 6.0,0a3.0,3.0 0 1,0 -6.0,0M578.6,191.5a3.0,3.0 0 1,0 6.0,0a3.0,3.0 0 1,0 -6.0,0M485.5,189.2a3.0,3.0 0 1,0 6.0,0a3.0,3.0 0 1,0 -6.0,0M520.8,200.3a3.0,3.0 0 1,0 6.0,0a3.0,3.0 0 1,0 -6.0,0M530.6,199.4a3.0,3.0 0 1,0 6.0,0a3.0,3.0 0 1,0 -6.0,0M517.4,201.0a3.0,3.0 0 1,0 6.0,0a3.0,3.0 0 1,0 -6.0,0M543.2,193.6a3.0,3.0 0 1,0 6.0,0a3.0,3.0 0 1,0 -6.0,0M499.4,202.5a3.0,3.0 0 1,0 6.0,0a3.0,3.0 0 1,0 -6.0,0M506.0,203.3a3.0,3.0 0 1,0 6.0,0a3.0,3.0 0 1,0 -6.0,0M497.0,199.2a3.0,3.0 0 1,0 6.0,0a3.0,3.0 0 1,0 -6.0,0M491.9,195.2a3.0,3.0 0 1,0 6.0,0a3.0,3.0 0 1,0 -6.0,0M527.5,199.9a3.0,3.0 0 1,0 6.0,0a3.0,3.0 0 1,0 -6.0,0M491.4,196.5a3.0,3.0 0 1,0 6.0,0a3.0,3.0 0 1,0 -6.0,0M484.4,191.5a3.0,3.0 0 1,0 6.0,0a3.0,3.0 0 1,0 -6.0,0M494.6,198.9a3.0,3.0 0 1,0 6.0,0a3.0,3.0 0 1,0 -6.0,0M527.1,200.5a3.0,3.0 0 1,0 6.0,0a3.0,3.0 0 1,0 -6.0,0M526.1,200.7a3.0,3.0 0 1,0 6.0,0a3.0,3.0 0 1,0 -6.0,0M529.6,199.2a3.0,3.0 0 1,0 6.0,0a3.0,3.0 0 1,0 -6.0,0M489.5,197.1a3.0,3.0 0 1,0 6.0,0a3.0,3.0 0 1,0 -6.0,0M506.3,203.1a3.0,3.0 0 1,0 6.0,0a3.0,3.0 0 1,0 -6.0,0M498.3,202.5a3.0,3.0 0 1,0 6.0,0a3.0,3.0 0 1,0 -6.0,0M522.8,203.0a3.0,3.0 0 1,0 6.0,0a3.0,3.0 0 1,0 -6.0,0M486.8,190.1a3.0,3.0 0 1,0 6.0,0a3.0,3.0 0 1,0 -6.0,0M536.7,196.4a3.0,3.0 0 1,0 6.0,0a3.0,3.0 0 1,0 -6.0,0M501.9,201.9a3.0,3.0 0 1,0 6.0,0a3.0,3.0 0 1,0 -6.0,0M487.4,192.4a3.0,3.0 0 1,0 6.0,0a3.0,3.0 0 1,0 -6.0,0M484.1,188.6a3.0,3.0 0 1,0 6.0,0a3.0,3.0 0 1,0 -6.0,0M508.0,204.4a3.0,3.0 0 1,0 6.0,0a3.0,3.0 0 1,0 -6.0,0M502.9,202.1a3.0,3.0 0 1,0 6.0,0a3.0,3.0 0 1,0 -6.0,0M501.7,203.6a3.0,3.0 0 1,0 6.0,0a3.0,3.0 0 1,0 -6.0,0M530.7,197.0a3.0,3.0 0 1,0 6.0,0a3.0,3.0 0 1,0 -6.0,0M520.7,201.2a3.0,3.0 0 1,0 6.0,0a3.0,3.0 0 1,0 -6.0,0M498.7,202.4a3.0,3.0 0 1,0 6.0,0a3.0,3.0 0 1,0 -6.0,0M532.5,198.2a3.0,3.0 0 1,0 6.0,0a3.0,3.0 0 1,0 -6.0,0M485.7,193.9a3.0,3.0 0 1,0 6.0,0a3.0,3.0 0 1,0 -6.0,0M482.4,190.2a3.0,3.0 0 1,0 6.0,0a3.0,3.0 0 1,0 -6.0,0M551.2,189.2a3.0,3.0 0 1,0 6.0,0a3.0,3.0 0 1,0 -6.0,0M493.9,200.4a3.0,3.0 0 1,0 6.0,0a3.0,3.0 0 1,0 -6.0,0M517.9,204.2a3.0,3.0 0 1,0 6.0,0a3.0,3.0 0 1,0 -6.0,0M508.1,201.9a3.0,3.0 0 1,0 6.0,0a3.0,3.0 0 1,0 -6.0,0M533.7,197.0a3.0,3.0 0 1,0 6.0,0a3.0,3.0 0 1,0 -6.0,0M494.7,199.4a3.0,3.0 0 1,0 6.0,0a3.0,3.0 0 1,0 -6.0,0M483.4,188.1a3.0,3.0 0 1,0 6.0,0a3.0,3.0 0 1,0 -6.0,0M488.1,194.7a3.0,3.0 0 1,0 6.0,0a3.0,3.0 0 1,0 -6.0,0" fill="#2b2f8f" opacity="1.00" filter="url(#blurH)"/><path d="M484.90,185.60 C486.53,186.25 491.10,188.78 494.70,189.50 C498.30,190.22 502.55,190.38 506.50,189.90 C510.45,189.42 514.78,188.13 518.40,186.60 C522.02,185.07 524.92,182.52 528.20,180.70 C531.48,178.88 534.48,177.18 538.10,175.70 C541.72,174.22 545.97,172.95 549.90,171.80 C553.83,170.65 557.77,169.45 561.70,168.80 C565.63,168.15 569.55,167.90 573.50,167.90 C577.45,167.90 581.82,168.52 585.40,168.80 C588.98,169.08 592.23,169.33 595.00,169.60 C597.77,169.87 600.83,170.27 602.00,170.40" pathLength="100" fill="none" stroke="#e4436f" stroke-opacity="0.80" stroke-width="8.80" stroke-dasharray="0 74.99 4.90 300" filter="url(#blurS)"/><path d="M484.90,185.60 C486.53,186.25 491.10,188.78 494.70,189.50 C498.30,190.22 502.55,190.38 506.50,189.90 C510.45,189.42 514.78,188.13 518.40,186.60 C522.02,185.07 524.92,182.52 528.20,180.70 C531.48,178.88 534.48,177.18 538.10,175.70 C541.72,174.22 545.97,172.95 549.90,171.80 C553.83,170.65 557.77,169.45 561.70,168.80 C565.63,168.15 569.55,167.90 573.50,167.90 C577.45,167.90 581.82,168.52 585.40,168.80 C588.98,169.08 592.23,169.33 595.00,169.60 C597.77,169.87 600.83,170.27 602.00,170.40" pathLength="100" fill="none" stroke="#f3913b" stroke-opacity="0.90" stroke-width="8.80" stroke-dasharray="0 96.57 4.90 300" filter="url(#blurS)"/><path d="M485.80,187.60 C487.28,189.23 491.57,194.95 494.70,197.40 C497.83,199.85 500.98,201.32 504.60,202.30 C508.22,203.28 512.13,203.78 516.40,203.30 C520.67,202.82 525.60,200.87 530.20,199.40 C534.80,197.93 539.40,196.08 544.00,194.50 C548.60,192.92 553.20,190.80 557.80,189.90 C562.40,189.00 567.33,189.00 571.60,189.10 C575.87,189.20 580.12,189.77 583.40,190.50 C586.68,191.23 589.70,192.67 591.30,193.50 C592.90,194.33 592.72,195.17 593.00,195.50" pathLength="100" fill="none" stroke="#f3913b" stroke-opacity="0.80" stroke-width="8.60" stroke-dasharray="0 81.32 6.85 300" filter="url(#blurS)"/><path d="M485.80,187.60 C487.28,189.23 491.57,194.95 494.70,197.40 C497.83,199.85 500.98,201.32 504.60,202.30 C508.22,203.28 512.13,203.78 516.40,203.30 C520.67,202.82 525.60,200.87 530.20,199.40 C534.80,197.93 539.40,196.08 544.00,194.50 C548.60,192.92 553.20,190.80 557.80,189.90 C562.40,189.00 567.33,189.00 571.60,189.10 C575.87,189.20 580.12,189.77 583.40,190.50 C586.68,191.23 589.70,192.67 591.30,193.50 C592.90,194.33 592.72,195.17 593.00,195.50" pathLength="100" fill="none" stroke="#f4d84a" stroke-opacity="0.90" stroke-width="8.60" stroke-dasharray="0 83.04 3.42 300" filter="url(#blurS)"/><path d="M485.80,187.60 C487.28,189.23 491.57,194.95 494.70,197.40 C497.83,199.85 500.98,201.32 504.60,202.30 C508.22,203.28 512.13,203.78 516.40,203.30 C520.67,202.82 525.60,200.87 530.20,199.40 C534.80,197.93 539.40,196.08 544.00,194.50 C548.60,192.92 553.20,190.80 557.80,189.90 C562.40,189.00 567.33,189.00 571.60,189.10 C575.87,189.20 580.12,189.77 583.40,190.50 C586.68,191.23 589.70,192.67 591.30,193.50 C592.90,194.33 592.72,195.17 593.00,195.50" pathLength="100" fill="none" stroke="#e4436f" stroke-opacity="0.70" stroke-width="8.60" stroke-dasharray="0 68.84 5.14 300" filter="url(#blurS)"/><path d="M485.80,187.60 C487.28,189.23 491.57,194.95 494.70,197.40 C497.83,199.85 500.98,201.32 504.60,202.30 C508.22,203.28 512.13,203.78 516.40,203.30 C520.67,202.82 525.60,200.87 530.20,199.40 C534.80,197.93 539.40,196.08 544.00,194.50 C548.60,192.92 553.20,190.80 557.80,189.90 C562.40,189.00 567.33,189.00 571.60,189.10 C575.87,189.20 580.12,189.77 583.40,190.50 C586.68,191.23 589.70,192.67 591.30,193.50 C592.90,194.33 592.72,195.17 593.00,195.50" pathLength="100" fill="none" stroke="#e4436f" stroke-opacity="0.60" stroke-width="8.60" stroke-dasharray="0 28.51 5.14 300" filter="url(#blurS)"/></g>
<path d="M556.7,167.8a1.2,1.2 0 1,0 2.4,0a1.2,1.2 0 1,0 -2.4,0M554.9,170.1a1.2,1.2 0 1,0 2.4,0a1.2,1.2 0 1,0 -2.4,0M500.8,190.3a1.2,1.2 0 1,0 2.4,0a1.2,1.2 0 1,0 -2.4,0M591.8,169.4a1.2,1.2 0 1,0 2.4,0a1.2,1.2 0 1,0 -2.4,0M507.4,191.9a1.2,1.2 0 1,0 2.4,0a1.2,1.2 0 1,0 -2.4,0M489.9,187.7a1.2,1.2 0 1,0 2.4,0a1.2,1.2 0 1,0 -2.4,0M579.3,169.5a1.2,1.2 0 1,0 2.4,0a1.2,1.2 0 1,0 -2.4,0M510.4,190.7a1.2,1.2 0 1,0 2.4,0a1.2,1.2 0 1,0 -2.4,0M580.1,167.3a1.2,1.2 0 1,0 2.4,0a1.2,1.2 0 1,0 -2.4,0M529.1,178.9a1.2,1.2 0 1,0 2.4,0a1.2,1.2 0 1,0 -2.4,0M497.9,191.2a1.2,1.2 0 1,0 2.4,0a1.2,1.2 0 1,0 -2.4,0M588.3,169.3a1.2,1.2 0 1,0 2.4,0a1.2,1.2 0 1,0 -2.4,0M497.3,190.3a1.2,1.2 0 1,0 2.4,0a1.2,1.2 0 1,0 -2.4,0M555.3,169.6a1.2,1.2 0 1,0 2.4,0a1.2,1.2 0 1,0 -2.4,0M550.4,172.0a1.2,1.2 0 1,0 2.4,0a1.2,1.2 0 1,0 -2.4,0M533.6,174.7a1.2,1.2 0 1,0 2.4,0a1.2,1.2 0 1,0 -2.4,0M554.2,169.0a1.2,1.2 0 1,0 2.4,0a1.2,1.2 0 1,0 -2.4,0M535.7,176.1a1.2,1.2 0 1,0 2.4,0a1.2,1.2 0 1,0 -2.4,0M496.1,189.5a1.2,1.2 0 1,0 2.4,0a1.2,1.2 0 1,0 -2.4,0M494.2,189.7a1.2,1.2 0 1,0 2.4,0a1.2,1.2 0 1,0 -2.4,0M489.1,185.6a1.2,1.2 0 1,0 2.4,0a1.2,1.2 0 1,0 -2.4,0M541.9,173.9a1.2,1.2 0 1,0 2.4,0a1.2,1.2 0 1,0 -2.4,0M526.2,179.2a1.2,1.2 0 1,0 2.4,0a1.2,1.2 0 1,0 -2.4,0M506.6,189.7a1.2,1.2 0 1,0 2.4,0a1.2,1.2 0 1,0 -2.4,0M503.2,192.3a1.2,1.2 0 1,0 2.4,0a1.2,1.2 0 1,0 -2.4,0M490.6,190.1a1.2,1.2 0 1,0 2.4,0a1.2,1.2 0 1,0 -2.4,0M502.3,189.0a1.2,1.2 0 1,0 2.4,0a1.2,1.2 0 1,0 -2.4,0M578.3,168.2a1.2,1.2 0 1,0 2.4,0a1.2,1.2 0 1,0 -2.4,0M591.1,168.8a1.2,1.2 0 1,0 2.4,0a1.2,1.2 0 1,0 -2.4,0M540.6,172.1a1.2,1.2 0 1,0 2.4,0a1.2,1.2 0 1,0 -2.4,0M505.4,192.1a1.2,1.2 0 1,0 2.4,0a1.2,1.2 0 1,0 -2.4,0M561.6,167.2a1.2,1.2 0 1,0 2.4,0a1.2,1.2 0 1,0 -2.4,0M556.9,171.2a1.2,1.2 0 1,0 2.4,0a1.2,1.2 0 1,0 -2.4,0M547.5,174.0a1.2,1.2 0 1,0 2.4,0a1.2,1.2 0 1,0 -2.4,0M495.6,190.5a1.2,1.2 0 1,0 2.4,0a1.2,1.2 0 1,0 -2.4,0M528.2,178.7a1.2,1.2 0 1,0 2.4,0a1.2,1.2 0 1,0 -2.4,0M525.0,181.6a1.2,1.2 0 1,0 2.4,0a1.2,1.2 0 1,0 -2.4,0M504.3,187.7a1.2,1.2 0 1,0 2.4,0a1.2,1.2 0 1,0 -2.4,0M578.8,168.8a1.2,1.2 0 1,0 2.4,0a1.2,1.2 0 1,0 -2.4,0M559.4,166.8a1.2,1.2 0 1,0 2.4,0a1.2,1.2 0 1,0 -2.4,0M487.2,187.9a1.2,1.2 0 1,0 2.4,0a1.2,1.2 0 1,0 -2.4,0M533.7,179.2a1.2,1.2 0 1,0 2.4,0a1.2,1.2 0 1,0 -2.4,0M499.0,190.9a1.2,1.2 0 1,0 2.4,0a1.2,1.2 0 1,0 -2.4,0M486.5,186.0a1.2,1.2 0 1,0 2.4,0a1.2,1.2 0 1,0 -2.4,0M496.1,188.5a1.2,1.2 0 1,0 2.4,0a1.2,1.2 0 1,0 -2.4,0M549.9,170.1a1.2,1.2 0 1,0 2.4,0a1.2,1.2 0 1,0 -2.4,0M554.7,168.5a1.2,1.2 0 1,0 2.4,0a1.2,1.2 0 1,0 -2.4,0M593.2,168.9a1.2,1.2 0 1,0 2.4,0a1.2,1.2 0 1,0 -2.4,0M494.4,191.6a1.2,1.2 0 1,0 2.4,0a1.2,1.2 0 1,0 -2.4,0M515.2,188.2a1.2,1.2 0 1,0 2.4,0a1.2,1.2 0 1,0 -2.4,0M548.0,172.7a1.2,1.2 0 1,0 2.4,0a1.2,1.2 0 1,0 -2.4,0M534.6,177.9a1.2,1.2 0 1,0 2.4,0a1.2,1.2 0 1,0 -2.4,0M512.4,185.9a1.2,1.2 0 1,0 2.4,0a1.2,1.2 0 1,0 -2.4,0M543.9,172.0a1.2,1.2 0 1,0 2.4,0a1.2,1.2 0 1,0 -2.4,0M491.2,186.1a1.2,1.2 0 1,0 2.4,0a1.2,1.2 0 1,0 -2.4,0M546.0,170.9a1.2,1.2 0 1,0 2.4,0a1.2,1.2 0 1,0 -2.4,0M507.3,189.6a1.2,1.2 0 1,0 2.4,0a1.2,1.2 0 1,0 -2.4,0M556.8,168.1a1.2,1.2 0 1,0 2.4,0a1.2,1.2 0 1,0 -2.4,0M518.8,183.3a1.2,1.2 0 1,0 2.4,0a1.2,1.2 0 1,0 -2.4,0M566.2,169.6a1.2,1.2 0 1,0 2.4,0a1.2,1.2 0 1,0 -2.4,0M534.3,174.8a1.2,1.2 0 1,0 2.4,0a1.2,1.2 0 1,0 -2.4,0M511.0,187.9a1.2,1.2 0 1,0 2.4,0a1.2,1.2 0 1,0 -2.4,0M515.0,187.1a1.2,1.2 0 1,0 2.4,0a1.2,1.2 0 1,0 -2.4,0M515.8,189.6a1.2,1.2 0 1,0 2.4,0a1.2,1.2 0 1,0 -2.4,0M508.8,186.8a1.2,1.2 0 1,0 2.4,0a1.2,1.2 0 1,0 -2.4,0M514.9,188.8a1.2,1.2 0 1,0 2.4,0a1.2,1.2 0 1,0 -2.4,0M521.3,183.4a1.2,1.2 0 1,0 2.4,0a1.2,1.2 0 1,0 -2.4,0M512.2,189.1a1.2,1.2 0 1,0 2.4,0a1.2,1.2 0 1,0 -2.4,0M563.6,170.4a1.2,1.2 0 1,0 2.4,0a1.2,1.2 0 1,0 -2.4,0M537.4,176.5a1.2,1.2 0 1,0 2.4,0a1.2,1.2 0 1,0 -2.4,0M583.4,169.6a1.2,1.2 0 1,0 2.4,0a1.2,1.2 0 1,0 -2.4,0M548.4,170.6a1.2,1.2 0 1,0 2.4,0a1.2,1.2 0 1,0 -2.4,0M555.4,171.8a1.2,1.2 0 1,0 2.4,0a1.2,1.2 0 1,0 -2.4,0M500.6,188.1a1.2,1.2 0 1,0 2.4,0a1.2,1.2 0 1,0 -2.4,0M592.2,168.7a1.2,1.2 0 1,0 2.4,0a1.2,1.2 0 1,0 -2.4,0M486.5,188.0a1.2,1.2 0 1,0 2.4,0a1.2,1.2 0 1,0 -2.4,0M556.5,170.7a1.2,1.2 0 1,0 2.4,0a1.2,1.2 0 1,0 -2.4,0M491.3,188.1a1.2,1.2 0 1,0 2.4,0a1.2,1.2 0 1,0 -2.4,0M587.5,170.1a1.2,1.2 0 1,0 2.4,0a1.2,1.2 0 1,0 -2.4,0M496.3,187.9a1.2,1.2 0 1,0 2.4,0a1.2,1.2 0 1,0 -2.4,0M486.9,188.9a1.2,1.2 0 1,0 2.4,0a1.2,1.2 0 1,0 -2.4,0M556.4,170.2a1.2,1.2 0 1,0 2.4,0a1.2,1.2 0 1,0 -2.4,0M516.7,184.6a1.2,1.2 0 1,0 2.4,0a1.2,1.2 0 1,0 -2.4,0M531.4,177.0a1.2,1.2 0 1,0 2.4,0a1.2,1.2 0 1,0 -2.4,0M516.8,186.1a1.2,1.2 0 1,0 2.4,0a1.2,1.2 0 1,0 -2.4,0M521.2,184.5a1.2,1.2 0 1,0 2.4,0a1.2,1.2 0 1,0 -2.4,0M487.3,186.9a1.2,1.2 0 1,0 2.4,0a1.2,1.2 0 1,0 -2.4,0M564.7,167.1a1.2,1.2 0 1,0 2.4,0a1.2,1.2 0 1,0 -2.4,0M499.7,199.6a1.2,1.2 0 1,0 2.4,0a1.2,1.2 0 1,0 -2.4,0M485.0,188.0a1.2,1.2 0 1,0 2.4,0a1.2,1.2 0 1,0 -2.4,0M536.2,198.4a1.2,1.2 0 1,0 2.4,0a1.2,1.2 0 1,0 -2.4,0M509.4,202.4a1.2,1.2 0 1,0 2.4,0a1.2,1.2 0 1,0 -2.4,0M504.1,202.5a1.2,1.2 0 1,0 2.4,0a1.2,1.2 0 1,0 -2.4,0M494.4,195.7a1.2,1.2 0 1,0 2.4,0a1.2,1.2 0 1,0 -2.4,0M520.2,201.8a1.2,1.2 0 1,0 2.4,0a1.2,1.2 0 1,0 -2.4,0M580.4,191.5a1.2,1.2 0 1,0 2.4,0a1.2,1.2 0 1,0 -2.4,0M487.3,189.2a1.2,1.2 0 1,0 2.4,0a1.2,1.2 0 1,0 -2.4,0M522.6,200.3a1.2,1.2 0 1,0 2.4,0a1.2,1.2 0 1,0 -2.4,0M532.4,199.4a1.2,1.2 0 1,0 2.4,0a1.2,1.2 0 1,0 -2.4,0M519.2,201.0a1.2,1.2 0 1,0 2.4,0a1.2,1.2 0 1,0 -2.4,0M545.0,193.6a1.2,1.2 0 1,0 2.4,0a1.2,1.2 0 1,0 -2.4,0M501.2,202.5a1.2,1.2 0 1,0 2.4,0a1.2,1.2 0 1,0 -2.4,0M507.8,203.3a1.2,1.2 0 1,0 2.4,0a1.2,1.2 0 1,0 -2.4,0M498.8,199.2a1.2,1.2 0 1,0 2.4,0a1.2,1.2 0 1,0 -2.4,0M493.7,195.2a1.2,1.2 0 1,0 2.4,0a1.2,1.2 0 1,0 -2.4,0M529.3,199.9a1.2,1.2 0 1,0 2.4,0a1.2,1.2 0 1,0 -2.4,0M493.2,196.5a1.2,1.2 0 1,0 2.4,0a1.2,1.2 0 1,0 -2.4,0M486.2,191.5a1.2,1.2 0 1,0 2.4,0a1.2,1.2 0 1,0 -2.4,0M496.5,198.9a1.2,1.2 0 1,0 2.4,0a1.2,1.2 0 1,0 -2.4,0M528.9,200.5a1.2,1.2 0 1,0 2.4,0a1.2,1.2 0 1,0 -2.4,0M527.9,200.7a1.2,1.2 0 1,0 2.4,0a1.2,1.2 0 1,0 -2.4,0M531.4,199.2a1.2,1.2 0 1,0 2.4,0a1.2,1.2 0 1,0 -2.4,0M491.3,197.1a1.2,1.2 0 1,0 2.4,0a1.2,1.2 0 1,0 -2.4,0M508.2,203.1a1.2,1.2 0 1,0 2.4,0a1.2,1.2 0 1,0 -2.4,0M500.1,202.5a1.2,1.2 0 1,0 2.4,0a1.2,1.2 0 1,0 -2.4,0M524.7,203.0a1.2,1.2 0 1,0 2.4,0a1.2,1.2 0 1,0 -2.4,0M488.6,190.1a1.2,1.2 0 1,0 2.4,0a1.2,1.2 0 1,0 -2.4,0M538.5,196.4a1.2,1.2 0 1,0 2.4,0a1.2,1.2 0 1,0 -2.4,0M503.7,201.9a1.2,1.2 0 1,0 2.4,0a1.2,1.2 0 1,0 -2.4,0M489.2,192.4a1.2,1.2 0 1,0 2.4,0a1.2,1.2 0 1,0 -2.4,0M485.9,188.6a1.2,1.2 0 1,0 2.4,0a1.2,1.2 0 1,0 -2.4,0M509.8,204.4a1.2,1.2 0 1,0 2.4,0a1.2,1.2 0 1,0 -2.4,0M504.7,202.1a1.2,1.2 0 1,0 2.4,0a1.2,1.2 0 1,0 -2.4,0M503.5,203.6a1.2,1.2 0 1,0 2.4,0a1.2,1.2 0 1,0 -2.4,0M532.6,197.0a1.2,1.2 0 1,0 2.4,0a1.2,1.2 0 1,0 -2.4,0M522.5,201.2a1.2,1.2 0 1,0 2.4,0a1.2,1.2 0 1,0 -2.4,0M500.6,202.4a1.2,1.2 0 1,0 2.4,0a1.2,1.2 0 1,0 -2.4,0M534.3,198.2a1.2,1.2 0 1,0 2.4,0a1.2,1.2 0 1,0 -2.4,0M487.6,193.9a1.2,1.2 0 1,0 2.4,0a1.2,1.2 0 1,0 -2.4,0M484.2,190.2a1.2,1.2 0 1,0 2.4,0a1.2,1.2 0 1,0 -2.4,0M553.0,189.2a1.2,1.2 0 1,0 2.4,0a1.2,1.2 0 1,0 -2.4,0M495.7,200.4a1.2,1.2 0 1,0 2.4,0a1.2,1.2 0 1,0 -2.4,0M519.7,204.2a1.2,1.2 0 1,0 2.4,0a1.2,1.2 0 1,0 -2.4,0M509.9,201.9a1.2,1.2 0 1,0 2.4,0a1.2,1.2 0 1,0 -2.4,0M535.5,197.0a1.2,1.2 0 1,0 2.4,0a1.2,1.2 0 1,0 -2.4,0M496.5,199.4a1.2,1.2 0 1,0 2.4,0a1.2,1.2 0 1,0 -2.4,0M485.2,188.1a1.2,1.2 0 1,0 2.4,0a1.2,1.2 0 1,0 -2.4,0M489.9,194.7a1.2,1.2 0 1,0 2.4,0a1.2,1.2 0 1,0 -2.4,0" fill="#e6f7da" stroke="#2a3a2a" stroke-width="0.55"/>
<defs><mask id="mk4" maskUnits="userSpaceOnUse" x="0" y="0" width="685" height="652"><path d="M82.7,229.6 L82.8,229.7 L83.1,229.9 L83.3,230.1 L83.6,230.2 L83.9,230.5 L84.2,230.7 L84.6,231.0 L85.0,231.3 L85.4,231.7 L85.9,232.1 L86.5,232.6 L87.2,233.1 L88.0,233.6 L88.7,234.2 L89.5,234.8 L90.3,235.5 L91.1,236.1 L91.9,236.8 L92.6,237.4 L93.2,238.0 L93.9,238.6 L94.5,239.3 L95.1,239.9 L95.7,240.6 L96.3,241.3 L96.9,242.0 L97.4,242.7 L98.0,243.4 L98.6,244.1 L99.1,244.8 L99.6,245.6 L100.1,246.4 L100.6,247.1 L101.1,248.0 L101.6,248.8 L102.1,249.6 L102.6,250.5 L103.0,251.4 L103.5,252.2 L103.9,253.1 L104.3,253.9 L104.7,254.7 L105.1,255.5 L105.5,256.3 L105.9,257.1 L106.2,257.9 L106.5,258.7 L106.9,259.5 L107.2,260.4 L107.5,261.3 L107.8,262.2 L108.1,263.2 L108.4,264.3 L108.7,265.3 L108.9,266.4 L109.2,267.4 L109.4,268.5 L109.6,269.6 L109.8,270.7 L109.9,271.8 L110.0,272.9 L110.1,274.1 L110.2,275.4 L110.2,276.6 L110.2,277.9 L110.2,279.2 L110.2,280.4 L110.1,281.6 L110.1,282.6 L110.0,283.6 L109.9,284.3 L109.8,284.9 L109.7,285.4 L109.5,285.9 L109.4,286.3 L109.2,286.8 L109.0,287.3 L108.8,287.9 L108.5,288.6 L108.3,289.4 L108.1,290.2 L108.0,291.0 L107.8,291.8 L107.7,292.6 L107.5,293.4 L107.4,294.2 L107.2,295.0 L107.0,295.7 L106.8,296.4 L106.6,297.1 L106.4,297.7 L106.1,298.3 L105.9,298.9 L105.6,299.6 L105.3,300.2 L104.9,300.8 L104.6,301.4 L104.3,302.1 L103.9,302.7 L103.6,303.3 L103.3,303.9 L103.0,304.4 L102.7,304.9 L102.4,305.5 L102.1,306.0 L101.7,306.5 L101.5,307.0 L101.2,307.6 L100.9,308.1 L100.6,308.7 L100.4,309.3 L100.1,309.9 L99.8,310.5 L99.6,311.1 L99.3,311.7 L99.1,312.2 L98.8,312.7 L98.7,313.2 L98.5,313.6 L98.4,313.8 L98.2,314.6 L98.4,315.2 L98.9,315.7 L99.7,315.9 L100.3,315.7 L100.8,315.2 L101.0,314.9 L101.2,314.5 L101.5,314.1 L101.8,313.6 L102.1,313.1 L102.4,312.6 L102.8,312.0 L103.1,311.5 L103.5,311.0 L103.8,310.5 L104.1,310.0 L104.4,309.6 L104.8,309.1 L105.1,308.6 L105.5,308.1 L105.8,307.6 L106.1,307.0 L106.5,306.5 L106.9,305.9 L107.2,305.3 L107.5,304.7 L107.9,304.1 L108.3,303.5 L108.6,302.9 L109.0,302.2 L109.4,301.5 L109.8,300.8 L110.1,300.1 L110.5,299.3 L110.8,298.5 L111.1,297.7 L111.3,296.9 L111.6,296.0 L111.8,295.2 L112.0,294.4 L112.2,293.5 L112.3,292.7 L112.5,292.0 L112.7,291.3 L112.9,290.6 L113.0,290.1 L113.2,289.6 L113.4,289.1 L113.6,288.6 L113.9,288.0 L114.1,287.4 L114.3,286.7 L114.5,285.9 L114.7,285.0 L114.8,284.0 L114.9,283.0 L115.0,281.8 L115.0,280.6 L115.1,279.3 L115.1,278.0 L115.1,276.6 L115.1,275.2 L115.1,273.8 L115.0,272.5 L114.9,271.2 L114.7,270.0 L114.5,268.8 L114.3,267.6 L114.1,266.4 L113.8,265.2 L113.5,264.0 L113.2,262.9 L112.9,261.8 L112.6,260.8 L112.3,259.7 L112.0,258.7 L111.6,257.7 L111.3,256.8 L110.9,255.9 L110.5,255.0 L110.2,254.1 L109.8,253.3 L109.3,252.4 L108.9,251.6 L108.5,250.7 L108.1,249.9 L107.6,249.0 L107.2,248.1 L106.7,247.2 L106.2,246.2 L105.7,245.3 L105.2,244.4 L104.6,243.5 L104.1,242.6 L103.5,241.8 L102.9,240.9 L102.4,240.1 L101.8,239.3 L101.1,238.5 L100.5,237.7 L99.9,237.0 L99.2,236.2 L98.6,235.5 L97.9,234.7 L97.2,234.0 L96.4,233.3 L95.6,232.5 L94.8,231.8 L94.0,231.1 L93.1,230.4 L92.3,229.7 L91.6,229.1 L90.9,228.5 L90.2,228.0 L89.7,227.5 L89.2,227.1 L88.7,226.7 L88.2,226.3 L87.9,226.0 L87.5,225.8 L87.2,225.5 L86.9,225.3 L86.7,225.1 L86.5,225.0 L86.3,224.8 L84.9,224.2 L83.4,224.4 L82.1,225.4 L81.5,226.8 L81.7,228.3 Z" fill="#fff"/><path d="M85.5,229.5 L85.8,229.5 L86.1,229.6 L86.5,229.6 L86.8,229.6 L87.1,229.7 L87.5,229.7 L87.9,229.8 L88.3,229.9 L88.8,230.0 L89.3,230.2 L90.0,230.4 L90.7,230.7 L91.4,231.0 L92.3,231.3 L93.1,231.7 L94.0,232.0 L94.9,232.4 L95.8,232.8 L96.8,233.2 L97.7,233.6 L98.6,234.1 L99.5,234.5 L100.5,235.0 L101.5,235.4 L102.4,235.9 L103.4,236.4 L104.4,236.9 L105.4,237.4 L106.3,237.9 L107.3,238.5 L108.2,239.0 L109.2,239.6 L110.2,240.2 L111.2,240.8 L112.2,241.4 L113.2,242.0 L114.2,242.7 L115.1,243.3 L116.1,243.9 L117.1,244.5 L118.1,245.0 L119.0,245.6 L120.0,246.0 L120.9,246.5 L121.8,247.0 L122.6,247.4 L123.4,247.8 L124.1,248.3 L124.8,248.7 L125.5,249.2 L126.2,249.7 L126.8,250.2 L127.4,250.7 L127.9,251.2 L128.5,251.7 L129.0,252.2 L129.5,252.8 L130.1,253.4 L130.6,254.0 L131.1,254.7 L131.6,255.4 L132.1,256.1 L132.6,256.8 L133.1,257.6 L133.5,258.4 L134.0,259.3 L134.5,260.1 L134.9,261.0 L135.4,261.9 L135.8,262.8 L136.2,263.7 L136.6,264.6 L137.0,265.5 L137.4,266.5 L137.8,267.4 L138.2,268.4 L138.5,269.3 L138.8,270.3 L139.2,271.2 L139.4,272.2 L139.7,273.1 L140.0,274.1 L140.2,275.0 L140.4,276.0 L140.6,276.9 L140.8,277.8 L140.9,278.8 L141.1,279.7 L141.2,280.6 L141.3,281.5 L141.3,282.3 L141.3,283.1 L141.3,283.9 L141.3,284.8 L141.2,285.6 L141.2,286.4 L141.1,287.3 L141.1,288.1 L141.0,289.0 L141.0,289.9 L140.9,290.7 L140.9,291.6 L140.9,292.4 L140.9,293.2 L140.9,293.9 L140.8,294.7 L140.8,295.4 L140.7,296.1 L140.6,296.7 L140.5,297.4 L140.4,298.0 L140.2,298.6 L140.1,299.1 L139.9,299.7 L139.7,300.3 L139.5,300.8 L139.2,301.4 L138.9,302.0 L138.6,302.7 L138.2,303.3 L137.9,304.1 L137.4,304.8 L137.0,305.6 L136.5,306.4 L136.0,307.2 L135.5,308.0 L135.0,308.8 L134.5,309.6 L133.9,310.3 L133.4,311.0 L132.8,311.7 L132.3,312.3 L131.7,312.9 L131.0,313.5 L130.4,314.1 L129.7,314.7 L129.0,315.4 L128.3,316.1 L127.6,316.8 L126.9,317.5 L126.2,318.2 L125.6,319.0 L124.9,319.7 L124.2,320.5 L123.6,321.3 L122.9,322.1 L122.3,322.9 L121.6,323.7 L121.0,324.6 L120.3,325.4 L119.6,326.3 L119.0,327.2 L118.3,328.0 L117.7,328.9 L117.0,329.9 L116.4,330.8 L115.7,331.7 L115.1,332.7 L114.4,333.7 L113.7,334.6 L113.1,335.7 L112.4,336.7 L111.7,337.8 L111.1,338.9 L110.4,339.9 L109.7,341.0 L109.1,342.1 L108.4,343.2 L107.8,344.2 L107.2,345.2 L106.6,346.2 L106.1,347.1 L105.6,348.1 L105.0,349.0 L104.5,349.9 L104.0,350.8 L103.5,351.7 L103.0,352.6 L102.5,353.5 L102.0,354.3 L101.4,355.3 L100.9,356.2 L100.3,357.1 L99.7,358.1 L99.1,359.0 L98.6,359.9 L98.0,360.8 L97.5,361.7 L97.0,362.5 L96.5,363.2 L96.0,363.9 L95.6,364.6 L95.1,365.2 L94.7,365.8 L94.3,366.3 L94.0,366.8 L93.7,367.2 L93.4,367.5 L93.1,367.8 L92.9,367.9 L92.7,368.0 L92.5,368.1 L92.3,368.2 L92.2,368.2 L92.1,368.2 L91.9,368.2 L91.8,368.2 L91.7,368.1 L91.5,368.1 L91.4,368.0 L91.3,368.0 L91.2,367.9 L91.0,367.7 L90.8,367.5 L90.5,367.2 L90.3,366.8 L90.0,366.5 L89.8,366.1 L89.6,365.8 L89.4,365.5 L89.3,365.3 L89.3,365.2 L89.2,365.0 L89.1,364.8 L89.1,364.5 L89.0,364.3 L89.0,364.1 L88.9,363.8 L88.9,363.5 L88.8,363.2 L88.1,362.1 L86.8,361.4 L85.4,361.4 L84.3,362.1 L83.6,363.4 L83.6,364.8 L83.6,364.9 L83.7,365.0 L83.7,365.2 L83.8,365.5 L83.9,365.9 L84.1,366.4 L84.2,366.8 L84.4,367.3 L84.7,367.8 L85.0,368.3 L85.3,368.7 L85.6,369.1 L85.9,369.5 L86.3,370.0 L86.7,370.5 L87.1,370.9 L87.6,371.4 L88.1,371.8 L88.7,372.2 L89.4,372.6 L90.0,372.8 L90.6,372.9 L91.2,373.0 L91.9,373.1 L92.5,373.0 L93.2,372.9 L93.9,372.7 L94.5,372.4 L95.1,372.1 L95.7,371.7 L96.3,371.2 L96.8,370.6 L97.3,370.1 L97.7,369.5 L98.1,368.9 L98.5,368.2 L98.9,367.6 L99.3,366.9 L99.7,366.2 L100.1,365.4 L100.6,364.6 L101.0,363.8 L101.5,362.8 L102.0,361.9 L102.5,360.9 L103.0,359.9 L103.5,358.9 L104.0,358.0 L104.5,357.0 L105.0,356.1 L105.5,355.1 L106.0,354.2 L106.5,353.3 L107.0,352.5 L107.5,351.6 L108.0,350.7 L108.5,349.8 L109.1,348.9 L109.6,347.9 L110.2,347.0 L110.8,346.0 L111.4,345.0 L112.0,343.9 L112.7,342.8 L113.3,341.8 L114.0,340.7 L114.7,339.6 L115.3,338.6 L116.0,337.5 L116.7,336.6 L117.3,335.6 L117.9,334.7 L118.6,333.7 L119.2,332.8 L119.9,331.9 L120.5,331.0 L121.2,330.1 L121.8,329.3 L122.5,328.4 L123.1,327.6 L123.7,326.7 L124.4,325.9 L125.0,325.1 L125.7,324.3 L126.3,323.6 L126.9,322.8 L127.6,322.1 L128.2,321.3 L128.9,320.6 L129.5,319.9 L130.1,319.3 L130.8,318.6 L131.4,318.0 L132.1,317.4 L132.8,316.8 L133.5,316.2 L134.2,315.5 L134.9,314.8 L135.6,314.1 L136.2,313.4 L136.9,312.6 L137.5,311.8 L138.1,311.0 L138.7,310.1 L139.3,309.3 L139.8,308.5 L140.3,307.6 L140.8,306.8 L141.3,306.0 L141.8,305.3 L142.2,304.5 L142.5,303.8 L142.9,303.2 L143.2,302.5 L143.5,301.8 L143.8,301.1 L144.0,300.5 L144.3,299.8 L144.5,299.0 L144.7,298.2 L144.8,297.4 L145.0,296.6 L145.1,295.8 L145.2,295.0 L145.2,294.1 L145.3,293.3 L145.3,292.5 L145.3,291.7 L145.4,290.9 L145.4,290.1 L145.5,289.3 L145.6,288.5 L145.7,287.7 L145.8,286.8 L145.9,285.9 L145.9,285.0 L146.0,284.1 L146.0,283.1 L146.0,282.1 L145.9,281.1 L145.9,280.1 L145.8,279.1 L145.6,278.1 L145.5,277.1 L145.3,276.0 L145.1,275.0 L144.9,273.9 L144.7,272.9 L144.4,271.9 L144.2,270.8 L143.9,269.8 L143.6,268.8 L143.2,267.7 L142.9,266.7 L142.5,265.6 L142.1,264.6 L141.7,263.6 L141.3,262.6 L140.8,261.6 L140.4,260.6 L140.0,259.7 L139.5,258.7 L139.1,257.8 L138.6,256.8 L138.1,255.9 L137.6,255.0 L137.0,254.1 L136.5,253.2 L135.9,252.3 L135.3,251.5 L134.7,250.7 L134.1,250.0 L133.5,249.3 L132.9,248.6 L132.3,247.9 L131.6,247.3 L130.9,246.7 L130.2,246.0 L129.5,245.4 L128.7,244.8 L127.9,244.2 L127.0,243.7 L126.1,243.1 L125.2,242.6 L124.3,242.1 L123.4,241.7 L122.5,241.2 L121.6,240.7 L120.8,240.2 L119.9,239.7 L119.0,239.2 L118.1,238.6 L117.1,238.0 L116.2,237.3 L115.2,236.7 L114.2,236.1 L113.2,235.4 L112.1,234.8 L111.1,234.1 L110.1,233.5 L109.1,233.0 L108.1,232.4 L107.1,231.8 L106.0,231.3 L105.0,230.8 L104.0,230.3 L103.0,229.8 L102.0,229.3 L101.1,228.8 L100.1,228.4 L99.2,227.9 L98.2,227.5 L97.3,227.0 L96.3,226.6 L95.4,226.2 L94.5,225.8 L93.6,225.5 L92.8,225.2 L92.0,224.9 L91.3,224.6 L90.5,224.4 L89.9,224.2 L89.2,224.0 L88.6,223.9 L88.1,223.8 L87.6,223.7 L87.2,223.6 L86.9,223.6 L86.7,223.6 L86.5,223.5 L85.0,223.7 L83.7,224.6 L83.0,226.0 L83.2,227.5 L84.1,228.8 Z" fill="#fff"/><ellipse cx="88.00" cy="228.50" rx="5.00" ry="3.50" transform="rotate(30 88.00 228.50)" fill="#fff"/></mask></defs>
<g mask="url(#mk4)"><rect x="74.5" y="216.5" width="79.1" height="163.8" fill="#2b2f8f"/><path d="M84.50,227.20 C85.05,227.63 86.02,228.33 87.80,229.80 C89.58,231.27 92.95,233.75 95.20,236.00 C97.45,238.25 99.47,240.65 101.30,243.30 C103.13,245.95 104.77,249.03 106.20,251.90 C107.63,254.77 108.87,257.23 109.90,260.50 C110.93,263.77 111.98,267.62 112.40,271.50 C112.82,275.38 112.70,280.72 112.40,283.80 C112.10,286.88 111.22,287.67 110.60,290.00 C109.98,292.33 109.57,295.42 108.70,297.80 C107.83,300.18 106.48,302.33 105.40,304.30 C104.32,306.27 103.17,307.90 102.20,309.60 C101.23,311.30 100.03,313.68 99.60,314.50" pathLength="100" fill="none" stroke="#cc3088" stroke-opacity="0.60" stroke-width="7.00" stroke-dasharray="0 10.06 6.01 300" filter="url(#blurS)"/><path d="M84.50,227.20 C85.05,227.63 86.02,228.33 87.80,229.80 C89.58,231.27 92.95,233.75 95.20,236.00 C97.45,238.25 99.47,240.65 101.30,243.30 C103.13,245.95 104.77,249.03 106.20,251.90 C107.63,254.77 108.87,257.23 109.90,260.50 C110.93,263.77 111.98,267.62 112.40,271.50 C112.82,275.38 112.70,280.72 112.40,283.80 C112.10,286.88 111.22,287.67 110.60,290.00 C109.98,292.33 109.57,295.42 108.70,297.80 C107.83,300.18 106.48,302.33 105.40,304.30 C104.32,306.27 103.17,307.90 102.20,309.60 C101.23,311.30 100.03,313.68 99.60,314.50" pathLength="100" fill="none" stroke="#e4436f" stroke-opacity="0.90" stroke-width="7.00" stroke-dasharray="0 96.49 7.01 300" filter="url(#blurS)"/><path d="M84.50,227.20 C85.05,227.63 86.02,228.33 87.80,229.80 C89.58,231.27 92.95,233.75 95.20,236.00 C97.45,238.25 99.47,240.65 101.30,243.30 C103.13,245.95 104.77,249.03 106.20,251.90 C107.63,254.77 108.87,257.23 109.90,260.50 C110.93,263.77 111.98,267.62 112.40,271.50 C112.82,275.38 112.70,280.72 112.40,283.80 C112.10,286.88 111.22,287.67 110.60,290.00 C109.98,292.33 109.57,295.42 108.70,297.80 C107.83,300.18 106.48,302.33 105.40,304.30 C104.32,306.27 103.17,307.90 102.20,309.60 C101.23,311.30 100.03,313.68 99.60,314.50" pathLength="100" fill="none" stroke="#7a2892" stroke-opacity="0.50" stroke-width="7.00" stroke-dasharray="0 47.14 6.01 300" filter="url(#blurS)"/><path d="M86.00,226.50 C86.72,226.65 88.15,226.65 90.30,227.40 C92.45,228.15 95.83,229.57 98.90,231.00 C101.97,232.43 105.43,234.15 108.70,236.00 C111.97,237.85 115.43,240.27 118.50,242.10 C121.57,243.93 124.65,245.17 127.10,247.00 C129.55,248.83 131.37,250.65 133.20,253.10 C135.03,255.55 136.67,258.63 138.10,261.70 C139.53,264.77 140.88,268.23 141.80,271.50 C142.72,274.77 143.37,278.22 143.60,281.30 C143.83,284.38 143.37,287.25 143.20,290.00 C143.03,292.75 143.13,295.42 142.60,297.80 C142.07,300.18 141.30,301.90 140.00,304.30 C138.70,306.70 136.77,309.80 134.80,312.20 C132.83,314.60 130.38,316.32 128.20,318.70 C126.02,321.08 123.87,323.68 121.70,326.50 C119.53,329.32 117.37,332.33 115.20,335.60 C113.03,338.87 110.65,342.83 108.70,346.10 C106.75,349.37 105.23,352.17 103.50,355.20 C101.77,358.23 99.83,361.87 98.30,364.30 C96.77,366.73 95.62,368.80 94.30,369.80 C92.98,370.80 91.58,370.78 90.40,370.30 C89.22,369.82 87.90,367.95 87.20,366.90 C86.50,365.85 86.37,364.48 86.20,364.00" pathLength="100" fill="none" stroke="#cc3088" stroke-opacity="0.90" stroke-width="6.60" stroke-dasharray="0 30.91 3.48 300" filter="url(#blurS)"/><path d="M86.00,226.50 C86.72,226.65 88.15,226.65 90.30,227.40 C92.45,228.15 95.83,229.57 98.90,231.00 C101.97,232.43 105.43,234.15 108.70,236.00 C111.97,237.85 115.43,240.27 118.50,242.10 C121.57,243.93 124.65,245.17 127.10,247.00 C129.55,248.83 131.37,250.65 133.20,253.10 C135.03,255.55 136.67,258.63 138.10,261.70 C139.53,264.77 140.88,268.23 141.80,271.50 C142.72,274.77 143.37,278.22 143.60,281.30 C143.83,284.38 143.37,287.25 143.20,290.00 C143.03,292.75 143.13,295.42 142.60,297.80 C142.07,300.18 141.30,301.90 140.00,304.30 C138.70,306.70 136.77,309.80 134.80,312.20 C132.83,314.60 130.38,316.32 128.20,318.70 C126.02,321.08 123.87,323.68 121.70,326.50 C119.53,329.32 117.37,332.33 115.20,335.60 C113.03,338.87 110.65,342.83 108.70,346.10 C106.75,349.37 105.23,352.17 103.50,355.20 C101.77,358.23 99.83,361.87 98.30,364.30 C96.77,366.73 95.62,368.80 94.30,369.80 C92.98,370.80 91.58,370.78 90.40,370.30 C89.22,369.82 87.90,367.95 87.20,366.90 C86.50,365.85 86.37,364.48 86.20,364.00" pathLength="100" fill="none" stroke="#e4436f" stroke-opacity="0.90" stroke-width="6.60" stroke-dasharray="0 31.75 1.79 300" filter="url(#blurS)"/><path d="M86.00,226.50 C86.72,226.65 88.15,226.65 90.30,227.40 C92.45,228.15 95.83,229.57 98.90,231.00 C101.97,232.43 105.43,234.15 108.70,236.00 C111.97,237.85 115.43,240.27 118.50,242.10 C121.57,243.93 124.65,245.17 127.10,247.00 C129.55,248.83 131.37,250.65 133.20,253.10 C135.03,255.55 136.67,258.63 138.10,261.70 C139.53,264.77 140.88,268.23 141.80,271.50 C142.72,274.77 143.37,278.22 143.60,281.30 C143.83,284.38 143.37,287.25 143.20,290.00 C143.03,292.75 143.13,295.42 142.60,297.80 C142.07,300.18 141.30,301.90 140.00,304.30 C138.70,306.70 136.77,309.80 134.80,312.20 C132.83,314.60 130.38,316.32 128.20,318.70 C126.02,321.08 123.87,323.68 121.70,326.50 C119.53,329.32 117.37,332.33 115.20,335.60 C113.03,338.87 110.65,342.83 108.70,346.10 C106.75,349.37 105.23,352.17 103.50,355.20 C101.77,358.23 99.83,361.87 98.30,364.30 C96.77,366.73 95.62,368.80 94.30,369.80 C92.98,370.80 91.58,370.78 90.40,370.30 C89.22,369.82 87.90,367.95 87.20,366.90 C86.50,365.85 86.37,364.48 86.20,364.00" pathLength="100" fill="none" stroke="#cc3088" stroke-opacity="0.80" stroke-width="6.60" stroke-dasharray="0 69.74 2.99 300" filter="url(#blurS)"/><path d="M86.00,226.50 C86.72,226.65 88.15,226.65 90.30,227.40 C92.45,228.15 95.83,229.57 98.90,231.00 C101.97,232.43 105.43,234.15 108.70,236.00 C111.97,237.85 115.43,240.27 118.50,242.10 C121.57,243.93 124.65,245.17 127.10,247.00 C129.55,248.83 131.37,250.65 133.20,253.10 C135.03,255.55 136.67,258.63 138.10,261.70 C139.53,264.77 140.88,268.23 141.80,271.50 C142.72,274.77 143.37,278.22 143.60,281.30 C143.83,284.38 143.37,287.25 143.20,290.00 C143.03,292.75 143.13,295.42 142.60,297.80 C142.07,300.18 141.30,301.90 140.00,304.30 C138.70,306.70 136.77,309.80 134.80,312.20 C132.83,314.60 130.38,316.32 128.20,318.70 C126.02,321.08 123.87,323.68 121.70,326.50 C119.53,329.32 117.37,332.33 115.20,335.60 C113.03,338.87 110.65,342.83 108.70,346.10 C106.75,349.37 105.23,352.17 103.50,355.20 C101.77,358.23 99.83,361.87 98.30,364.30 C96.77,366.73 95.62,368.80 94.30,369.80 C92.98,370.80 91.58,370.78 90.40,370.30 C89.22,369.82 87.90,367.95 87.20,366.90 C86.50,365.85 86.37,364.48 86.20,364.00" pathLength="100" fill="none" stroke="#cc3088" stroke-opacity="0.90" stroke-width="6.60" stroke-dasharray="0 74.66 3.98 300" filter="url(#blurS)"/><path d="M86.00,226.50 C86.72,226.65 88.15,226.65 90.30,227.40 C92.45,228.15 95.83,229.57 98.90,231.00 C101.97,232.43 105.43,234.15 108.70,236.00 C111.97,237.85 115.43,240.27 118.50,242.10 C121.57,243.93 124.65,245.17 127.10,247.00 C129.55,248.83 131.37,250.65 133.20,253.10 C135.03,255.55 136.67,258.63 138.10,261.70 C139.53,264.77 140.88,268.23 141.80,271.50 C142.72,274.77 143.37,278.22 143.60,281.30 C143.83,284.38 143.37,287.25 143.20,290.00 C143.03,292.75 143.13,295.42 142.60,297.80 C142.07,300.18 141.30,301.90 140.00,304.30 C138.70,306.70 136.77,309.80 134.80,312.20 C132.83,314.60 130.38,316.32 128.20,318.70 C126.02,321.08 123.87,323.68 121.70,326.50 C119.53,329.32 117.37,332.33 115.20,335.60 C113.03,338.87 110.65,342.83 108.70,346.10 C106.75,349.37 105.23,352.17 103.50,355.20 C101.77,358.23 99.83,361.87 98.30,364.30 C96.77,366.73 95.62,368.80 94.30,369.80 C92.98,370.80 91.58,370.78 90.40,370.30 C89.22,369.82 87.90,367.95 87.20,366.90 C86.50,365.85 86.37,364.48 86.20,364.00" pathLength="100" fill="none" stroke="#e4436f" stroke-opacity="0.90" stroke-width="6.60" stroke-dasharray="0 78.99 2.49 300" filter="url(#blurS)"/><path d="M86.00,226.50 C86.72,226.65 88.15,226.65 90.30,227.40 C92.45,228.15 95.83,229.57 98.90,231.00 C101.97,232.43 105.43,234.15 108.70,236.00 C111.97,237.85 115.43,240.27 118.50,242.10 C121.57,243.93 124.65,245.17 127.10,247.00 C129.55,248.83 131.37,250.65 133.20,253.10 C135.03,255.55 136.67,258.63 138.10,261.70 C139.53,264.77 140.88,268.23 141.80,271.50 C142.72,274.77 143.37,278.22 143.60,281.30 C143.83,284.38 143.37,287.25 143.20,290.00 C143.03,292.75 143.13,295.42 142.60,297.80 C142.07,300.18 141.30,301.90 140.00,304.30 C138.70,306.70 136.77,309.80 134.80,312.20 C132.83,314.60 130.38,316.32 128.20,318.70 C126.02,321.08 123.87,323.68 121.70,326.50 C119.53,329.32 117.37,332.33 115.20,335.60 C113.03,338.87 110.65,342.83 108.70,346.10 C106.75,349.37 105.23,352.17 103.50,355.20 C101.77,358.23 99.83,361.87 98.30,364.30 C96.77,366.73 95.62,368.80 94.30,369.80 C92.98,370.80 91.58,370.78 90.40,370.30 C89.22,369.82 87.90,367.95 87.20,366.90 C86.50,365.85 86.37,364.48 86.20,364.00" pathLength="100" fill="none" stroke="#f3913b" stroke-opacity="1.00" stroke-width="6.60" stroke-dasharray="0 81.65 2.49 300" filter="url(#blurS)"/><path d="M86.00,226.50 C86.72,226.65 88.15,226.65 90.30,227.40 C92.45,228.15 95.83,229.57 98.90,231.00 C101.97,232.43 105.43,234.15 108.70,236.00 C111.97,237.85 115.43,240.27 118.50,242.10 C121.57,243.93 124.65,245.17 127.10,247.00 C129.55,248.83 131.37,250.65 133.20,253.10 C135.03,255.55 136.67,258.63 138.10,261.70 C139.53,264.77 140.88,268.23 141.80,271.50 C142.72,274.77 143.37,278.22 143.60,281.30 C143.83,284.38 143.37,287.25 143.20,290.00 C143.03,292.75 143.13,295.42 142.60,297.80 C142.07,300.18 141.30,301.90 140.00,304.30 C138.70,306.70 136.77,309.80 134.80,312.20 C132.83,314.60 130.38,316.32 128.20,318.70 C126.02,321.08 123.87,323.68 121.70,326.50 C119.53,329.32 117.37,332.33 115.20,335.60 C113.03,338.87 110.65,342.83 108.70,346.10 C106.75,349.37 105.23,352.17 103.50,355.20 C101.77,358.23 99.83,361.87 98.30,364.30 C96.77,366.73 95.62,368.80 94.30,369.80 C92.98,370.80 91.58,370.78 90.40,370.30 C89.22,369.82 87.90,367.95 87.20,366.90 C86.50,365.85 86.37,364.48 86.20,364.00" pathLength="100" fill="none" stroke="#f4d84a" stroke-opacity="1.00" stroke-width="6.60" stroke-dasharray="0 83.09 2.99 300" filter="url(#blurS)"/><path d="M86.00,226.50 C86.72,226.65 88.15,226.65 90.30,227.40 C92.45,228.15 95.83,229.57 98.90,231.00 C101.97,232.43 105.43,234.15 108.70,236.00 C111.97,237.85 115.43,240.27 118.50,242.10 C121.57,243.93 124.65,245.17 127.10,247.00 C129.55,248.83 131.37,250.65 133.20,253.10 C135.03,255.55 136.67,258.63 138.10,261.70 C139.53,264.77 140.88,268.23 141.80,271.50 C142.72,274.77 143.37,278.22 143.60,281.30 C143.83,284.38 143.37,287.25 143.20,290.00 C143.03,292.75 143.13,295.42 142.60,297.80 C142.07,300.18 141.30,301.90 140.00,304.30 C138.70,306.70 136.77,309.80 134.80,312.20 C132.83,314.60 130.38,316.32 128.20,318.70 C126.02,321.08 123.87,323.68 121.70,326.50 C119.53,329.32 117.37,332.33 115.20,335.60 C113.03,338.87 110.65,342.83 108.70,346.10 C106.75,349.37 105.23,352.17 103.50,355.20 C101.77,358.23 99.83,361.87 98.30,364.30 C96.77,366.73 95.62,368.80 94.30,369.80 C92.98,370.80 91.58,370.78 90.40,370.30 C89.22,369.82 87.90,367.95 87.20,366.90 C86.50,365.85 86.37,364.48 86.20,364.00" pathLength="100" fill="none" stroke="#e4436f" stroke-opacity="0.80" stroke-width="6.60" stroke-dasharray="0 86.26 1.99 300" filter="url(#blurS)"/><path d="M86.00,226.50 C86.72,226.65 88.15,226.65 90.30,227.40 C92.45,228.15 95.83,229.57 98.90,231.00 C101.97,232.43 105.43,234.15 108.70,236.00 C111.97,237.85 115.43,240.27 118.50,242.10 C121.57,243.93 124.65,245.17 127.10,247.00 C129.55,248.83 131.37,250.65 133.20,253.10 C135.03,255.55 136.67,258.63 138.10,261.70 C139.53,264.77 140.88,268.23 141.80,271.50 C142.72,274.77 143.37,278.22 143.60,281.30 C143.83,284.38 143.37,287.25 143.20,290.00 C143.03,292.75 143.13,295.42 142.60,297.80 C142.07,300.18 141.30,301.90 140.00,304.30 C138.70,306.70 136.77,309.80 134.80,312.20 C132.83,314.60 130.38,316.32 128.20,318.70 C126.02,321.08 123.87,323.68 121.70,326.50 C119.53,329.32 117.37,332.33 115.20,335.60 C113.03,338.87 110.65,342.83 108.70,346.10 C106.75,349.37 105.23,352.17 103.50,355.20 C101.77,358.23 99.83,361.87 98.30,364.30 C96.77,366.73 95.62,368.80 94.30,369.80 C92.98,370.80 91.58,370.78 90.40,370.30 C89.22,369.82 87.90,367.95 87.20,366.90 C86.50,365.85 86.37,364.48 86.20,364.00" pathLength="100" fill="none" stroke="#7a2892" stroke-opacity="0.70" stroke-width="6.60" stroke-dasharray="0 97.44 2.99 300" filter="url(#blurS)"/></g>
<path d="M85.2,229.4a1.2,1.2 0 1,0 2.4,0a1.2,1.2 0 1,0 -2.4,0M111.4,265.8a1.2,1.2 0 1,0 2.4,0a1.2,1.2 0 1,0 -2.4,0M110.1,289.1a1.2,1.2 0 1,0 2.4,0a1.2,1.2 0 1,0 -2.4,0M105.3,302.5a1.2,1.2 0 1,0 2.4,0a1.2,1.2 0 1,0 -2.4,0M111.7,269.9a1.2,1.2 0 1,0 2.4,0a1.2,1.2 0 1,0 -2.4,0M108.8,261.3a1.2,1.2 0 1,0 2.4,0a1.2,1.2 0 1,0 -2.4,0M106.3,299.2a1.2,1.2 0 1,0 2.4,0a1.2,1.2 0 1,0 -2.4,0M108.5,258.1a1.2,1.2 0 1,0 2.4,0a1.2,1.2 0 1,0 -2.4,0M110.3,268.2a1.2,1.2 0 1,0 2.4,0a1.2,1.2 0 1,0 -2.4,0M108.4,296.2a1.2,1.2 0 1,0 2.4,0a1.2,1.2 0 1,0 -2.4,0M103.1,249.0a1.2,1.2 0 1,0 2.4,0a1.2,1.2 0 1,0 -2.4,0M107.8,295.3a1.2,1.2 0 1,0 2.4,0a1.2,1.2 0 1,0 -2.4,0M104.7,304.9a1.2,1.2 0 1,0 2.4,0a1.2,1.2 0 1,0 -2.4,0M104.2,248.6a1.2,1.2 0 1,0 2.4,0a1.2,1.2 0 1,0 -2.4,0M110.4,283.1a1.2,1.2 0 1,0 2.4,0a1.2,1.2 0 1,0 -2.4,0M111.2,278.6a1.2,1.2 0 1,0 2.4,0a1.2,1.2 0 1,0 -2.4,0M110.1,286.8a1.2,1.2 0 1,0 2.4,0a1.2,1.2 0 1,0 -2.4,0M98.9,241.5a1.2,1.2 0 1,0 2.4,0a1.2,1.2 0 1,0 -2.4,0M109.3,293.4a1.2,1.2 0 1,0 2.4,0a1.2,1.2 0 1,0 -2.4,0M85.4,230.5a1.2,1.2 0 1,0 2.4,0a1.2,1.2 0 1,0 -2.4,0M110.6,282.9a1.2,1.2 0 1,0 2.4,0a1.2,1.2 0 1,0 -2.4,0M108.6,295.7a1.2,1.2 0 1,0 2.4,0a1.2,1.2 0 1,0 -2.4,0M104.0,248.9a1.2,1.2 0 1,0 2.4,0a1.2,1.2 0 1,0 -2.4,0M107.8,261.1a1.2,1.2 0 1,0 2.4,0a1.2,1.2 0 1,0 -2.4,0M88.5,229.4a1.2,1.2 0 1,0 2.4,0a1.2,1.2 0 1,0 -2.4,0M92.4,234.8a1.2,1.2 0 1,0 2.4,0a1.2,1.2 0 1,0 -2.4,0M84.2,228.3a1.2,1.2 0 1,0 2.4,0a1.2,1.2 0 1,0 -2.4,0M111.0,264.9a1.2,1.2 0 1,0 2.4,0a1.2,1.2 0 1,0 -2.4,0M112.1,281.9a1.2,1.2 0 1,0 2.4,0a1.2,1.2 0 1,0 -2.4,0M84.2,228.6a1.2,1.2 0 1,0 2.4,0a1.2,1.2 0 1,0 -2.4,0M93.6,233.9a1.2,1.2 0 1,0 2.4,0a1.2,1.2 0 1,0 -2.4,0M105.5,303.6a1.2,1.2 0 1,0 2.4,0a1.2,1.2 0 1,0 -2.4,0M109.2,288.9a1.2,1.2 0 1,0 2.4,0a1.2,1.2 0 1,0 -2.4,0M96.7,240.1a1.2,1.2 0 1,0 2.4,0a1.2,1.2 0 1,0 -2.4,0M115.2,333.7a1.2,1.2 0 1,0 2.4,0a1.2,1.2 0 1,0 -2.4,0M93.6,368.0a1.2,1.2 0 1,0 2.4,0a1.2,1.2 0 1,0 -2.4,0M117.1,331.9a1.2,1.2 0 1,0 2.4,0a1.2,1.2 0 1,0 -2.4,0M99.5,232.6a1.2,1.2 0 1,0 2.4,0a1.2,1.2 0 1,0 -2.4,0M114.9,240.5a1.2,1.2 0 1,0 2.4,0a1.2,1.2 0 1,0 -2.4,0M96.1,230.5a1.2,1.2 0 1,0 2.4,0a1.2,1.2 0 1,0 -2.4,0M143.2,284.3a1.2,1.2 0 1,0 2.4,0a1.2,1.2 0 1,0 -2.4,0M141.7,280.1a1.2,1.2 0 1,0 2.4,0a1.2,1.2 0 1,0 -2.4,0M96.0,231.0a1.2,1.2 0 1,0 2.4,0a1.2,1.2 0 1,0 -2.4,0M134.8,259.7a1.2,1.2 0 1,0 2.4,0a1.2,1.2 0 1,0 -2.4,0M140.5,272.0a1.2,1.2 0 1,0 2.4,0a1.2,1.2 0 1,0 -2.4,0M133.7,254.5a1.2,1.2 0 1,0 2.4,0a1.2,1.2 0 1,0 -2.4,0M141.7,281.0a1.2,1.2 0 1,0 2.4,0a1.2,1.2 0 1,0 -2.4,0M138.7,266.3a1.2,1.2 0 1,0 2.4,0a1.2,1.2 0 1,0 -2.4,0M126.3,247.9a1.2,1.2 0 1,0 2.4,0a1.2,1.2 0 1,0 -2.4,0M142.5,289.6a1.2,1.2 0 1,0 2.4,0a1.2,1.2 0 1,0 -2.4,0M141.5,288.4a1.2,1.2 0 1,0 2.4,0a1.2,1.2 0 1,0 -2.4,0M142.5,291.9a1.2,1.2 0 1,0 2.4,0a1.2,1.2 0 1,0 -2.4,0M119.1,243.8a1.2,1.2 0 1,0 2.4,0a1.2,1.2 0 1,0 -2.4,0M140.2,269.2a1.2,1.2 0 1,0 2.4,0a1.2,1.2 0 1,0 -2.4,0M141.5,300.1a1.2,1.2 0 1,0 2.4,0a1.2,1.2 0 1,0 -2.4,0M84.1,364.8a1.2,1.2 0 1,0 2.4,0a1.2,1.2 0 1,0 -2.4,0M113.4,239.1a1.2,1.2 0 1,0 2.4,0a1.2,1.2 0 1,0 -2.4,0M141.4,300.6a1.2,1.2 0 1,0 2.4,0a1.2,1.2 0 1,0 -2.4,0M142.3,293.8a1.2,1.2 0 1,0 2.4,0a1.2,1.2 0 1,0 -2.4,0M130.2,249.6a1.2,1.2 0 1,0 2.4,0a1.2,1.2 0 1,0 -2.4,0M118.0,241.0a1.2,1.2 0 1,0 2.4,0a1.2,1.2 0 1,0 -2.4,0M96.6,364.8a1.2,1.2 0 1,0 2.4,0a1.2,1.2 0 1,0 -2.4,0M140.7,276.2a1.2,1.2 0 1,0 2.4,0a1.2,1.2 0 1,0 -2.4,0M129.7,250.9a1.2,1.2 0 1,0 2.4,0a1.2,1.2 0 1,0 -2.4,0M142.3,275.0a1.2,1.2 0 1,0 2.4,0a1.2,1.2 0 1,0 -2.4,0M124.9,245.5a1.2,1.2 0 1,0 2.4,0a1.2,1.2 0 1,0 -2.4,0M138.3,267.6a1.2,1.2 0 1,0 2.4,0a1.2,1.2 0 1,0 -2.4,0M85.1,367.3a1.2,1.2 0 1,0 2.4,0a1.2,1.2 0 1,0 -2.4,0M104.8,233.6a1.2,1.2 0 1,0 2.4,0a1.2,1.2 0 1,0 -2.4,0M108.2,235.2a1.2,1.2 0 1,0 2.4,0a1.2,1.2 0 1,0 -2.4,0M127.0,248.5a1.2,1.2 0 1,0 2.4,0a1.2,1.2 0 1,0 -2.4,0M87.5,225.9a1.2,1.2 0 1,0 2.4,0a1.2,1.2 0 1,0 -2.4,0" fill="#e6f7da" stroke="#2a3a2a" stroke-width="0.55"/>
<defs><mask id="mk5" maskUnits="userSpaceOnUse" x="0" y="0" width="685" height="652"><path d="M226.9,228.6 L227.0,228.7 L227.1,228.9 L227.4,229.2 L227.6,229.6 L228.0,230.1 L228.4,230.6 L228.9,231.2 L229.4,231.8 L230.1,232.4 L230.9,233.1 L231.8,233.8 L232.7,234.4 L233.7,234.9 L234.7,235.4 L235.7,235.9 L236.6,236.5 L237.5,237.0 L238.3,237.6 L239.0,238.3 L239.7,239.0 L240.4,239.9 L241.2,241.0 L241.9,242.1 L242.7,243.3 L243.4,244.6 L244.1,246.0 L244.8,247.4 L245.4,248.8 L245.9,250.3 L246.4,251.7 L246.9,253.2 L247.3,254.7 L247.6,256.3 L248.0,257.9 L248.3,259.6 L248.5,261.3 L248.7,262.9 L248.9,264.5 L249.0,266.1 L249.1,267.6 L249.2,269.0 L249.2,270.4 L249.1,271.7 L249.0,273.0 L248.9,274.3 L248.8,275.6 L248.6,276.9 L248.4,278.2 L248.2,279.5 L247.9,280.8 L247.6,282.1 L247.3,283.5 L246.9,284.8 L246.5,286.2 L246.1,287.6 L245.7,289.0 L245.3,290.4 L244.8,291.7 L244.4,293.1 L244.0,294.4 L243.6,295.6 L243.2,296.8 L242.8,298.0 L242.4,299.1 L242.0,300.2 L241.7,301.3 L241.3,302.4 L240.9,303.4 L240.5,304.4 L240.2,305.3 L239.8,306.2 L239.5,307.1 L239.2,308.0 L238.8,308.9 L238.5,309.7 L238.1,310.5 L237.8,311.2 L237.6,311.8 L237.3,312.4 L237.2,312.8 L237.0,313.6 L237.2,314.3 L237.8,314.8 L238.6,315.0 L239.3,314.8 L239.8,314.2 L240.1,313.8 L240.4,313.3 L240.8,312.7 L241.2,312.0 L241.6,311.3 L242.1,310.5 L242.6,309.6 L243.1,308.8 L243.6,307.9 L244.0,306.9 L244.5,306.0 L244.9,305.0 L245.3,303.9 L245.7,302.9 L246.2,301.8 L246.6,300.6 L247.1,299.5 L247.5,298.3 L248.0,297.1 L248.4,295.8 L248.9,294.6 L249.3,293.3 L249.8,291.9 L250.3,290.6 L250.8,289.1 L251.3,287.7 L251.8,286.2 L252.2,284.7 L252.6,283.3 L252.9,281.8 L253.2,280.4 L253.4,279.0 L253.6,277.6 L253.9,276.2 L254.0,274.8 L254.2,273.4 L254.3,272.0 L254.3,270.5 L254.3,269.0 L254.3,267.4 L254.2,265.8 L254.1,264.1 L253.9,262.3 L253.7,260.6 L253.5,258.8 L253.2,257.0 L252.8,255.2 L252.5,253.5 L252.0,251.8 L251.6,250.1 L251.0,248.5 L250.5,246.9 L249.8,245.3 L249.2,243.7 L248.5,242.1 L247.8,240.6 L247.0,239.1 L246.2,237.8 L245.4,236.4 L244.5,235.2 L243.5,234.0 L242.4,232.9 L241.2,232.0 L240.1,231.2 L239.0,230.4 L238.0,229.8 L237.0,229.2 L236.2,228.7 L235.6,228.3 L235.1,227.9 L234.7,227.5 L234.4,227.1 L234.1,226.8 L233.8,226.4 L233.6,226.1 L233.4,225.7 L233.2,225.4 L233.0,225.1 L232.7,224.7 L232.5,224.4 L231.1,223.3 L229.3,223.0 L227.6,223.7 L226.5,225.1 L226.2,226.9 Z" fill="#fff"/><path d="M229.8,229.3 L230.2,229.4 L230.6,229.5 L231.0,229.7 L231.4,229.8 L231.8,229.9 L232.4,230.1 L233.0,230.3 L233.7,230.5 L234.5,230.8 L235.5,231.2 L236.7,231.7 L238.1,232.2 L239.6,232.8 L241.2,233.5 L242.8,234.2 L244.6,234.9 L246.3,235.7 L248.1,236.4 L249.8,237.2 L251.4,237.9 L253.1,238.7 L254.8,239.5 L256.5,240.2 L258.2,241.0 L259.9,241.8 L261.6,242.6 L263.2,243.3 L264.7,244.1 L266.2,244.9 L267.6,245.8 L269.0,246.7 L270.4,247.6 L271.7,248.5 L272.9,249.4 L274.1,250.4 L275.3,251.4 L276.4,252.4 L277.4,253.4 L278.4,254.5 L279.3,255.7 L280.1,256.9 L281.0,258.3 L281.8,259.7 L282.5,261.2 L283.2,262.8 L283.9,264.4 L284.5,266.1 L285.1,267.7 L285.6,269.3 L286.1,270.9 L286.5,272.5 L286.8,274.0 L287.1,275.6 L287.4,277.2 L287.6,278.7 L287.7,280.3 L287.8,281.9 L287.8,283.4 L287.8,285.0 L287.7,286.6 L287.6,288.2 L287.4,289.8 L287.2,291.4 L286.9,293.0 L286.6,294.6 L286.2,296.2 L285.7,297.8 L285.2,299.4 L284.7,300.9 L284.1,302.4 L283.6,303.8 L282.9,305.2 L282.2,306.7 L281.4,308.0 L280.6,309.4 L279.7,310.8 L278.9,312.1 L278.0,313.5 L277.1,314.8 L276.3,316.0 L275.5,317.2 L274.8,318.3 L274.0,319.3 L273.2,320.3 L272.4,321.3 L271.5,322.3 L270.7,323.4 L269.8,324.6 L269.0,325.9 L268.1,327.2 L267.3,328.7 L266.5,330.3 L265.6,332.0 L264.8,333.7 L264.0,335.4 L263.2,337.2 L262.4,338.9 L261.6,340.7 L260.8,342.4 L260.0,344.1 L259.1,345.7 L258.3,347.4 L257.4,349.0 L256.6,350.7 L255.7,352.3 L254.9,354.0 L254.1,355.6 L253.2,357.3 L252.4,359.0 L251.6,360.6 L250.9,362.3 L250.2,364.1 L249.4,365.9 L248.7,367.6 L248.1,369.4 L247.4,371.1 L246.7,372.7 L246.1,374.3 L245.4,375.8 L244.8,377.2 L244.1,378.5 L243.4,379.9 L242.6,381.1 L241.9,382.3 L241.2,383.4 L240.5,384.5 L239.9,385.4 L239.2,386.2 L238.6,386.9 L238.0,387.4 L237.4,387.9 L236.9,388.2 L236.3,388.4 L235.8,388.6 L235.3,388.7 L234.8,388.7 L234.4,388.7 L234.0,388.6 L233.7,388.5 L233.5,388.4 L233.3,388.3 L233.1,388.0 L232.7,387.4 L232.4,386.7 L232.0,385.9 L231.6,385.1 L231.3,384.3 L231.0,383.5 L230.7,382.8 L230.4,382.3 L229.6,381.4 L228.4,381.0 L227.2,381.3 L226.3,382.1 L225.9,383.3 L226.2,384.5 L226.4,384.9 L226.6,385.4 L227.0,386.2 L227.4,387.0 L227.9,387.9 L228.4,388.9 L228.9,389.8 L229.6,390.7 L230.4,391.6 L231.3,392.2 L232.3,392.6 L233.2,392.8 L234.1,392.9 L235.1,392.9 L236.0,392.8 L237.0,392.5 L237.9,392.2 L238.9,391.7 L239.8,391.1 L240.6,390.4 L241.4,389.5 L242.2,388.6 L242.9,387.6 L243.6,386.4 L244.3,385.3 L244.9,384.0 L245.6,382.7 L246.3,381.4 L246.9,380.0 L247.6,378.6 L248.3,377.1 L249.0,375.6 L249.7,373.9 L250.4,372.2 L251.1,370.5 L251.7,368.8 L252.4,367.0 L253.1,365.3 L253.8,363.6 L254.6,362.0 L255.3,360.3 L256.1,358.7 L256.9,357.1 L257.7,355.4 L258.6,353.8 L259.4,352.1 L260.3,350.5 L261.1,348.8 L262.0,347.2 L262.8,345.5 L263.7,343.8 L264.5,342.1 L265.4,340.4 L266.2,338.6 L267.1,336.9 L267.9,335.2 L268.8,333.6 L269.6,332.0 L270.5,330.5 L271.3,329.2 L272.1,327.9 L272.9,326.8 L273.7,325.7 L274.5,324.7 L275.3,323.8 L276.2,322.8 L277.1,321.8 L277.9,320.7 L278.8,319.6 L279.7,318.4 L280.6,317.1 L281.5,315.8 L282.4,314.5 L283.3,313.2 L284.3,311.8 L285.2,310.3 L286.1,308.9 L286.9,307.3 L287.7,305.8 L288.5,304.2 L289.1,302.6 L289.7,300.9 L290.3,299.3 L290.9,297.6 L291.4,295.8 L291.8,294.1 L292.2,292.3 L292.6,290.5 L292.8,288.8 L293.1,287.0 L293.2,285.3 L293.3,283.5 L293.3,281.8 L293.3,280.0 L293.2,278.3 L293.1,276.5 L292.9,274.7 L292.6,273.0 L292.3,271.2 L291.9,269.5 L291.5,267.7 L291.0,265.9 L290.5,264.1 L289.9,262.2 L289.2,260.4 L288.5,258.6 L287.7,256.8 L286.9,255.0 L285.9,253.3 L284.9,251.7 L283.8,250.2 L282.7,248.8 L281.5,247.4 L280.2,246.1 L278.9,244.9 L277.5,243.7 L276.1,242.6 L274.7,241.5 L273.3,240.5 L271.8,239.4 L270.2,238.4 L268.5,237.3 L266.8,236.4 L265.1,235.5 L263.3,234.6 L261.6,233.7 L259.8,232.9 L258.1,232.2 L256.4,231.4 L254.8,230.7 L253.1,229.9 L251.3,229.1 L249.5,228.3 L247.7,227.6 L245.9,226.8 L244.2,226.1 L242.6,225.4 L241.1,224.8 L239.7,224.3 L238.5,223.8 L237.4,223.4 L236.4,223.0 L235.6,222.7 L234.8,222.4 L234.2,222.2 L233.6,222.1 L233.1,221.9 L232.7,221.8 L232.5,221.8 L232.2,221.7 L230.1,221.6 L228.3,222.6 L227.2,224.3 L227.1,226.4 L228.1,228.2 Z" fill="#fff"/><ellipse cx="234.00" cy="228.00" rx="6.00" ry="4.50" transform="rotate(25 234.00 228.00)" fill="#fff"/></mask></defs>
<g mask="url(#mk5)"><rect x="218.3" y="215.5" width="82.1" height="184.8" fill="#2b2f8f"/><path d="M229.70,226.50 C230.25,227.17 230.93,228.73 233.00,230.50 C235.07,232.27 239.43,233.70 242.10,237.10 C244.77,240.50 247.40,245.83 249.00,250.90 C250.60,255.97 251.47,262.43 251.70,267.50 C251.93,272.57 251.32,276.70 250.40,281.30 C249.48,285.90 247.58,290.97 246.20,295.10 C244.82,299.23 243.38,303.03 242.10,306.10 C240.82,309.17 239.10,312.27 238.50,313.50" pathLength="100" fill="none" stroke="#e4436f" stroke-opacity="0.90" stroke-width="7.20" stroke-dasharray="0 92.62 9.26 300" filter="url(#blurS)"/><path d="M229.70,226.50 C230.25,227.17 230.93,228.73 233.00,230.50 C235.07,232.27 239.43,233.70 242.10,237.10 C244.77,240.50 247.40,245.83 249.00,250.90 C250.60,255.97 251.47,262.43 251.70,267.50 C251.93,272.57 251.32,276.70 250.40,281.30 C249.48,285.90 247.58,290.97 246.20,295.10 C244.82,299.23 243.38,303.03 242.10,306.10 C240.82,309.17 239.10,312.27 238.50,313.50" pathLength="100" fill="none" stroke="#cc3088" stroke-opacity="0.80" stroke-width="7.20" stroke-dasharray="0 87.57 6.17 300" filter="url(#blurS)"/><path d="M229.70,226.50 C230.25,227.17 230.93,228.73 233.00,230.50 C235.07,232.27 239.43,233.70 242.10,237.10 C244.77,240.50 247.40,245.83 249.00,250.90 C250.60,255.97 251.47,262.43 251.70,267.50 C251.93,272.57 251.32,276.70 250.40,281.30 C249.48,285.90 247.58,290.97 246.20,295.10 C244.82,299.23 243.38,303.03 242.10,306.10 C240.82,309.17 239.10,312.27 238.50,313.50" pathLength="100" fill="none" stroke="#cc3088" stroke-opacity="0.70" stroke-width="7.20" stroke-dasharray="0 9.58 6.17 300" filter="url(#blurS)"/><path d="M229.70,226.50 C230.25,227.17 230.93,228.73 233.00,230.50 C235.07,232.27 239.43,233.70 242.10,237.10 C244.77,240.50 247.40,245.83 249.00,250.90 C250.60,255.97 251.47,262.43 251.70,267.50 C251.93,272.57 251.32,276.70 250.40,281.30 C249.48,285.90 247.58,290.97 246.20,295.10 C244.82,299.23 243.38,303.03 242.10,306.10 C240.82,309.17 239.10,312.27 238.50,313.50" pathLength="100" fill="none" stroke="#cc3088" stroke-opacity="0.60" stroke-width="7.20" stroke-dasharray="0 47.20 6.17 300" filter="url(#blurS)"/><path d="M231.00,225.50 C232.00,225.83 233.32,226.03 237.00,227.50 C240.68,228.97 247.65,231.78 253.10,234.30 C258.55,236.82 264.87,239.37 269.70,242.60 C274.53,245.83 278.88,249.10 282.10,253.70 C285.32,258.30 287.62,264.68 289.00,270.20 C290.38,275.72 290.85,281.28 290.40,286.80 C289.95,292.32 288.37,298.23 286.30,303.30 C284.23,308.37 280.77,313.05 278.00,317.20 C275.23,321.35 272.47,323.60 269.70,328.20 C266.93,332.80 264.17,339.28 261.40,344.80 C258.63,350.32 255.63,355.78 253.10,361.30 C250.57,366.82 248.50,373.30 246.20,377.90 C243.90,382.50 241.60,386.83 239.30,388.90 C237.00,390.97 234.23,391.22 232.40,390.30 C230.57,389.38 228.98,384.55 228.30,383.40" pathLength="100" fill="none" stroke="#cc3088" stroke-opacity="0.95" stroke-width="7.40" stroke-dasharray="0 85.10 3.12 300" filter="url(#blurS)"/><path d="M231.00,225.50 C232.00,225.83 233.32,226.03 237.00,227.50 C240.68,228.97 247.65,231.78 253.10,234.30 C258.55,236.82 264.87,239.37 269.70,242.60 C274.53,245.83 278.88,249.10 282.10,253.70 C285.32,258.30 287.62,264.68 289.00,270.20 C290.38,275.72 290.85,281.28 290.40,286.80 C289.95,292.32 288.37,298.23 286.30,303.30 C284.23,308.37 280.77,313.05 278.00,317.20 C275.23,321.35 272.47,323.60 269.70,328.20 C266.93,332.80 264.17,339.28 261.40,344.80 C258.63,350.32 255.63,355.78 253.10,361.30 C250.57,366.82 248.50,373.30 246.20,377.90 C243.90,382.50 241.60,386.83 239.30,388.90 C237.00,390.97 234.23,391.22 232.40,390.30 C230.57,389.38 228.98,384.55 228.30,383.40" pathLength="100" fill="none" stroke="#cc3088" stroke-opacity="0.80" stroke-width="7.40" stroke-dasharray="0 98.89 2.23 300" filter="url(#blurS)"/><path d="M231.00,225.50 C232.00,225.83 233.32,226.03 237.00,227.50 C240.68,228.97 247.65,231.78 253.10,234.30 C258.55,236.82 264.87,239.37 269.70,242.60 C274.53,245.83 278.88,249.10 282.10,253.70 C285.32,258.30 287.62,264.68 289.00,270.20 C290.38,275.72 290.85,281.28 290.40,286.80 C289.95,292.32 288.37,298.23 286.30,303.30 C284.23,308.37 280.77,313.05 278.00,317.20 C275.23,321.35 272.47,323.60 269.70,328.20 C266.93,332.80 264.17,339.28 261.40,344.80 C258.63,350.32 255.63,355.78 253.10,361.30 C250.57,366.82 248.50,373.30 246.20,377.90 C243.90,382.50 241.60,386.83 239.30,388.90 C237.00,390.97 234.23,391.22 232.40,390.30 C230.57,389.38 228.98,384.55 228.30,383.40" pathLength="100" fill="none" stroke="#e4436f" stroke-opacity="0.60" stroke-width="7.40" stroke-dasharray="0 5.26 2.23 300" filter="url(#blurS)"/><path d="M231.00,225.50 C232.00,225.83 233.32,226.03 237.00,227.50 C240.68,228.97 247.65,231.78 253.10,234.30 C258.55,236.82 264.87,239.37 269.70,242.60 C274.53,245.83 278.88,249.10 282.10,253.70 C285.32,258.30 287.62,264.68 289.00,270.20 C290.38,275.72 290.85,281.28 290.40,286.80 C289.95,292.32 288.37,298.23 286.30,303.30 C284.23,308.37 280.77,313.05 278.00,317.20 C275.23,321.35 272.47,323.60 269.70,328.20 C266.93,332.80 264.17,339.28 261.40,344.80 C258.63,350.32 255.63,355.78 253.10,361.30 C250.57,366.82 248.50,373.30 246.20,377.90 C243.90,382.50 241.60,386.83 239.30,388.90 C237.00,390.97 234.23,391.22 232.40,390.30 C230.57,389.38 228.98,384.55 228.30,383.40" pathLength="100" fill="none" stroke="#cc3088" stroke-opacity="0.80" stroke-width="7.40" stroke-dasharray="0 11.32 2.67 300" filter="url(#blurS)"/><path d="M231.00,225.50 C232.00,225.83 233.32,226.03 237.00,227.50 C240.68,228.97 247.65,231.78 253.10,234.30 C258.55,236.82 264.87,239.37 269.70,242.60 C274.53,245.83 278.88,249.10 282.10,253.70 C285.32,258.30 287.62,264.68 289.00,270.20 C290.38,275.72 290.85,281.28 290.40,286.80 C289.95,292.32 288.37,298.23 286.30,303.30 C284.23,308.37 280.77,313.05 278.00,317.20 C275.23,321.35 272.47,323.60 269.70,328.20 C266.93,332.80 264.17,339.28 261.40,344.80 C258.63,350.32 255.63,355.78 253.10,361.30 C250.57,366.82 248.50,373.30 246.20,377.90 C243.90,382.50 241.60,386.83 239.30,388.90 C237.00,390.97 234.23,391.22 232.40,390.30 C230.57,389.38 228.98,384.55 228.30,383.40" pathLength="100" fill="none" stroke="#cc3088" stroke-opacity="0.60" stroke-width="7.40" stroke-dasharray="0 17.11 2.23 300" filter="url(#blurS)"/></g>
<path d="M229.3,230.5a1.2,1.2 0 1,0 2.4,0a1.2,1.2 0 1,0 -2.4,0M242.4,241.9a1.2,1.2 0 1,0 2.4,0a1.2,1.2 0 1,0 -2.4,0M242.0,301.5a1.2,1.2 0 1,0 2.4,0a1.2,1.2 0 1,0 -2.4,0M239.0,234.9a1.2,1.2 0 1,0 2.4,0a1.2,1.2 0 1,0 -2.4,0M234.5,234.2a1.2,1.2 0 1,0 2.4,0a1.2,1.2 0 1,0 -2.4,0M243.3,299.4a1.2,1.2 0 1,0 2.4,0a1.2,1.2 0 1,0 -2.4,0M250.6,262.6a1.2,1.2 0 1,0 2.4,0a1.2,1.2 0 1,0 -2.4,0M244.2,297.7a1.2,1.2 0 1,0 2.4,0a1.2,1.2 0 1,0 -2.4,0M250.4,279.8a1.2,1.2 0 1,0 2.4,0a1.2,1.2 0 1,0 -2.4,0M244.9,240.6a1.2,1.2 0 1,0 2.4,0a1.2,1.2 0 1,0 -2.4,0M247.4,287.6a1.2,1.2 0 1,0 2.4,0a1.2,1.2 0 1,0 -2.4,0M238.4,236.4a1.2,1.2 0 1,0 2.4,0a1.2,1.2 0 1,0 -2.4,0M245.9,245.1a1.2,1.2 0 1,0 2.4,0a1.2,1.2 0 1,0 -2.4,0M240.6,235.5a1.2,1.2 0 1,0 2.4,0a1.2,1.2 0 1,0 -2.4,0M243.9,299.3a1.2,1.2 0 1,0 2.4,0a1.2,1.2 0 1,0 -2.4,0M240.8,236.9a1.2,1.2 0 1,0 2.4,0a1.2,1.2 0 1,0 -2.4,0M246.4,250.2a1.2,1.2 0 1,0 2.4,0a1.2,1.2 0 1,0 -2.4,0M235.9,235.1a1.2,1.2 0 1,0 2.4,0a1.2,1.2 0 1,0 -2.4,0M231.1,232.0a1.2,1.2 0 1,0 2.4,0a1.2,1.2 0 1,0 -2.4,0M249.4,283.6a1.2,1.2 0 1,0 2.4,0a1.2,1.2 0 1,0 -2.4,0M250.9,265.0a1.2,1.2 0 1,0 2.4,0a1.2,1.2 0 1,0 -2.4,0M246.1,244.0a1.2,1.2 0 1,0 2.4,0a1.2,1.2 0 1,0 -2.4,0M247.4,254.5a1.2,1.2 0 1,0 2.4,0a1.2,1.2 0 1,0 -2.4,0M235.8,232.1a1.2,1.2 0 1,0 2.4,0a1.2,1.2 0 1,0 -2.4,0M242.3,304.7a1.2,1.2 0 1,0 2.4,0a1.2,1.2 0 1,0 -2.4,0M247.6,289.0a1.2,1.2 0 1,0 2.4,0a1.2,1.2 0 1,0 -2.4,0M244.9,296.4a1.2,1.2 0 1,0 2.4,0a1.2,1.2 0 1,0 -2.4,0M240.0,233.7a1.2,1.2 0 1,0 2.4,0a1.2,1.2 0 1,0 -2.4,0M243.8,298.6a1.2,1.2 0 1,0 2.4,0a1.2,1.2 0 1,0 -2.4,0M242.0,238.2a1.2,1.2 0 1,0 2.4,0a1.2,1.2 0 1,0 -2.4,0M241.5,306.0a1.2,1.2 0 1,0 2.4,0a1.2,1.2 0 1,0 -2.4,0M251.3,274.2a1.2,1.2 0 1,0 2.4,0a1.2,1.2 0 1,0 -2.4,0M240.8,238.5a1.2,1.2 0 1,0 2.4,0a1.2,1.2 0 1,0 -2.4,0M248.3,287.7a1.2,1.2 0 1,0 2.4,0a1.2,1.2 0 1,0 -2.4,0M234.7,230.5a1.2,1.2 0 1,0 2.4,0a1.2,1.2 0 1,0 -2.4,0M249.9,277.7a1.2,1.2 0 1,0 2.4,0a1.2,1.2 0 1,0 -2.4,0M246.7,245.5a1.2,1.2 0 1,0 2.4,0a1.2,1.2 0 1,0 -2.4,0M249.3,278.0a1.2,1.2 0 1,0 2.4,0a1.2,1.2 0 1,0 -2.4,0M244.3,296.6a1.2,1.2 0 1,0 2.4,0a1.2,1.2 0 1,0 -2.4,0M243.9,238.9a1.2,1.2 0 1,0 2.4,0a1.2,1.2 0 1,0 -2.4,0M247.2,289.5a1.2,1.2 0 1,0 2.4,0a1.2,1.2 0 1,0 -2.4,0M248.3,288.7a1.2,1.2 0 1,0 2.4,0a1.2,1.2 0 1,0 -2.4,0M250.1,365.0a1.2,1.2 0 1,0 2.4,0a1.2,1.2 0 1,0 -2.4,0M246.0,376.4a1.2,1.2 0 1,0 2.4,0a1.2,1.2 0 1,0 -2.4,0M245.2,377.9a1.2,1.2 0 1,0 2.4,0a1.2,1.2 0 1,0 -2.4,0M248.8,369.5a1.2,1.2 0 1,0 2.4,0a1.2,1.2 0 1,0 -2.4,0M290.5,276.1a1.2,1.2 0 1,0 2.4,0a1.2,1.2 0 1,0 -2.4,0M282.5,308.5a1.2,1.2 0 1,0 2.4,0a1.2,1.2 0 1,0 -2.4,0M254.2,237.2a1.2,1.2 0 1,0 2.4,0a1.2,1.2 0 1,0 -2.4,0M245.6,376.4a1.2,1.2 0 1,0 2.4,0a1.2,1.2 0 1,0 -2.4,0M290.6,278.5a1.2,1.2 0 1,0 2.4,0a1.2,1.2 0 1,0 -2.4,0M285.0,303.5a1.2,1.2 0 1,0 2.4,0a1.2,1.2 0 1,0 -2.4,0M279.8,311.4a1.2,1.2 0 1,0 2.4,0a1.2,1.2 0 1,0 -2.4,0M276.0,245.8a1.2,1.2 0 1,0 2.4,0a1.2,1.2 0 1,0 -2.4,0M280.7,250.0a1.2,1.2 0 1,0 2.4,0a1.2,1.2 0 1,0 -2.4,0M250.6,231.9a1.2,1.2 0 1,0 2.4,0a1.2,1.2 0 1,0 -2.4,0M233.5,227.1a1.2,1.2 0 1,0 2.4,0a1.2,1.2 0 1,0 -2.4,0M282.8,309.5a1.2,1.2 0 1,0 2.4,0a1.2,1.2 0 1,0 -2.4,0M245.6,377.4a1.2,1.2 0 1,0 2.4,0a1.2,1.2 0 1,0 -2.4,0M255.4,235.9a1.2,1.2 0 1,0 2.4,0a1.2,1.2 0 1,0 -2.4,0M283.2,256.6a1.2,1.2 0 1,0 2.4,0a1.2,1.2 0 1,0 -2.4,0M257.4,238.9a1.2,1.2 0 1,0 2.4,0a1.2,1.2 0 1,0 -2.4,0M259.8,239.3a1.2,1.2 0 1,0 2.4,0a1.2,1.2 0 1,0 -2.4,0M262.7,241.9a1.2,1.2 0 1,0 2.4,0a1.2,1.2 0 1,0 -2.4,0M288.3,280.3a1.2,1.2 0 1,0 2.4,0a1.2,1.2 0 1,0 -2.4,0M281.2,309.2a1.2,1.2 0 1,0 2.4,0a1.2,1.2 0 1,0 -2.4,0M253.6,358.2a1.2,1.2 0 1,0 2.4,0a1.2,1.2 0 1,0 -2.4,0M285.7,268.9a1.2,1.2 0 1,0 2.4,0a1.2,1.2 0 1,0 -2.4,0M250.7,363.7a1.2,1.2 0 1,0 2.4,0a1.2,1.2 0 1,0 -2.4,0M247.3,372.8a1.2,1.2 0 1,0 2.4,0a1.2,1.2 0 1,0 -2.4,0M278.5,251.6a1.2,1.2 0 1,0 2.4,0a1.2,1.2 0 1,0 -2.4,0M290.1,274.6a1.2,1.2 0 1,0 2.4,0a1.2,1.2 0 1,0 -2.4,0M290.0,290.4a1.2,1.2 0 1,0 2.4,0a1.2,1.2 0 1,0 -2.4,0M258.1,238.7a1.2,1.2 0 1,0 2.4,0a1.2,1.2 0 1,0 -2.4,0M250.2,364.7a1.2,1.2 0 1,0 2.4,0a1.2,1.2 0 1,0 -2.4,0M237.6,226.8a1.2,1.2 0 1,0 2.4,0a1.2,1.2 0 1,0 -2.4,0M263.3,338.4a1.2,1.2 0 1,0 2.4,0a1.2,1.2 0 1,0 -2.4,0M279.4,251.3a1.2,1.2 0 1,0 2.4,0a1.2,1.2 0 1,0 -2.4,0M234.1,391.1a1.2,1.2 0 1,0 2.4,0a1.2,1.2 0 1,0 -2.4,0M266.3,332.1a1.2,1.2 0 1,0 2.4,0a1.2,1.2 0 1,0 -2.4,0M281.4,254.7a1.2,1.2 0 1,0 2.4,0a1.2,1.2 0 1,0 -2.4,0M261.4,236.5a1.2,1.2 0 1,0 2.4,0a1.2,1.2 0 1,0 -2.4,0M285.0,259.3a1.2,1.2 0 1,0 2.4,0a1.2,1.2 0 1,0 -2.4,0M277.9,250.4a1.2,1.2 0 1,0 2.4,0a1.2,1.2 0 1,0 -2.4,0M247.9,371.1a1.2,1.2 0 1,0 2.4,0a1.2,1.2 0 1,0 -2.4,0M265.9,332.6a1.2,1.2 0 1,0 2.4,0a1.2,1.2 0 1,0 -2.4,0M287.2,296.2a1.2,1.2 0 1,0 2.4,0a1.2,1.2 0 1,0 -2.4,0M287.5,298.2a1.2,1.2 0 1,0 2.4,0a1.2,1.2 0 1,0 -2.4,0M274.8,246.5a1.2,1.2 0 1,0 2.4,0a1.2,1.2 0 1,0 -2.4,0M274.3,320.8a1.2,1.2 0 1,0 2.4,0a1.2,1.2 0 1,0 -2.4,0M246.0,375.7a1.2,1.2 0 1,0 2.4,0a1.2,1.2 0 1,0 -2.4,0M284.4,302.4a1.2,1.2 0 1,0 2.4,0a1.2,1.2 0 1,0 -2.4,0M285.6,259.5a1.2,1.2 0 1,0 2.4,0a1.2,1.2 0 1,0 -2.4,0M257.8,349.9a1.2,1.2 0 1,0 2.4,0a1.2,1.2 0 1,0 -2.4,0M262.2,238.1a1.2,1.2 0 1,0 2.4,0a1.2,1.2 0 1,0 -2.4,0M263.4,337.6a1.2,1.2 0 1,0 2.4,0a1.2,1.2 0 1,0 -2.4,0M249.3,367.2a1.2,1.2 0 1,0 2.4,0a1.2,1.2 0 1,0 -2.4,0M256.8,351.4a1.2,1.2 0 1,0 2.4,0a1.2,1.2 0 1,0 -2.4,0M252.4,359.7a1.2,1.2 0 1,0 2.4,0a1.2,1.2 0 1,0 -2.4,0M257.4,233.8a1.2,1.2 0 1,0 2.4,0a1.2,1.2 0 1,0 -2.4,0M254.5,355.9a1.2,1.2 0 1,0 2.4,0a1.2,1.2 0 1,0 -2.4,0M288.2,286.7a1.2,1.2 0 1,0 2.4,0a1.2,1.2 0 1,0 -2.4,0M271.1,324.5a1.2,1.2 0 1,0 2.4,0a1.2,1.2 0 1,0 -2.4,0M288.1,295.8a1.2,1.2 0 1,0 2.4,0a1.2,1.2 0 1,0 -2.4,0M289.7,280.7a1.2,1.2 0 1,0 2.4,0a1.2,1.2 0 1,0 -2.4,0M285.3,266.0a1.2,1.2 0 1,0 2.4,0a1.2,1.2 0 1,0 -2.4,0M285.2,304.7a1.2,1.2 0 1,0 2.4,0a1.2,1.2 0 1,0 -2.4,0M284.9,261.9a1.2,1.2 0 1,0 2.4,0a1.2,1.2 0 1,0 -2.4,0M274.3,319.6a1.2,1.2 0 1,0 2.4,0a1.2,1.2 0 1,0 -2.4,0M285.4,266.4a1.2,1.2 0 1,0 2.4,0a1.2,1.2 0 1,0 -2.4,0M232.3,390.8a1.2,1.2 0 1,0 2.4,0a1.2,1.2 0 1,0 -2.4,0M241.3,385.7a1.2,1.2 0 1,0 2.4,0a1.2,1.2 0 1,0 -2.4,0M276.4,316.6a1.2,1.2 0 1,0 2.4,0a1.2,1.2 0 1,0 -2.4,0M253.5,357.3a1.2,1.2 0 1,0 2.4,0a1.2,1.2 0 1,0 -2.4,0M282.5,307.9a1.2,1.2 0 1,0 2.4,0a1.2,1.2 0 1,0 -2.4,0M289.0,280.5a1.2,1.2 0 1,0 2.4,0a1.2,1.2 0 1,0 -2.4,0M287.6,272.0a1.2,1.2 0 1,0 2.4,0a1.2,1.2 0 1,0 -2.4,0M282.1,309.7a1.2,1.2 0 1,0 2.4,0a1.2,1.2 0 1,0 -2.4,0M289.2,283.0a1.2,1.2 0 1,0 2.4,0a1.2,1.2 0 1,0 -2.4,0M285.5,301.7a1.2,1.2 0 1,0 2.4,0a1.2,1.2 0 1,0 -2.4,0M227.6,384.2a1.2,1.2 0 1,0 2.4,0a1.2,1.2 0 1,0 -2.4,0M250.0,366.2a1.2,1.2 0 1,0 2.4,0a1.2,1.2 0 1,0 -2.4,0M282.6,306.7a1.2,1.2 0 1,0 2.4,0a1.2,1.2 0 1,0 -2.4,0M261.9,340.6a1.2,1.2 0 1,0 2.4,0a1.2,1.2 0 1,0 -2.4,0M243.6,381.1a1.2,1.2 0 1,0 2.4,0a1.2,1.2 0 1,0 -2.4,0M283.9,258.9a1.2,1.2 0 1,0 2.4,0a1.2,1.2 0 1,0 -2.4,0M268.0,243.1a1.2,1.2 0 1,0 2.4,0a1.2,1.2 0 1,0 -2.4,0" fill="#e6f7da" stroke="#2a3a2a" stroke-width="0.55"/>
<defs><mask id="mk6" maskUnits="userSpaceOnUse" x="0" y="0" width="685" height="652"><path d="M372.3,227.8 L372.4,227.9 L372.4,228.0 L372.6,228.2 L372.8,228.5 L373.2,228.9 L373.6,229.4 L374.1,229.9 L374.7,230.4 L375.4,231.0 L376.2,231.7 L377.3,232.4 L378.5,233.2 L379.9,234.0 L381.3,234.8 L382.8,235.7 L384.2,236.6 L385.6,237.5 L387.0,238.5 L388.1,239.4 L389.1,240.4 L390.1,241.4 L390.9,242.4 L391.8,243.6 L392.6,244.7 L393.3,245.9 L394.0,247.1 L394.7,248.4 L395.4,249.7 L396.0,251.1 L396.6,252.4 L397.1,253.8 L397.6,255.3 L398.1,256.7 L398.5,258.2 L398.9,259.8 L399.3,261.3 L399.6,262.9 L399.9,264.4 L400.2,266.0 L400.4,267.5 L400.6,269.0 L400.7,270.5 L400.8,272.0 L400.8,273.5 L400.8,275.0 L400.8,276.5 L400.7,278.0 L400.6,279.5 L400.6,281.1 L400.4,282.6 L400.3,284.1 L400.1,285.6 L400.0,287.2 L399.8,288.7 L399.5,290.2 L399.3,291.7 L399.0,293.3 L398.7,294.8 L398.3,296.3 L398.0,297.8 L397.6,299.4 L397.1,301.0 L396.7,302.6 L396.2,304.2 L395.7,305.9 L395.1,307.5 L394.6,309.0 L394.1,310.5 L393.5,312.0 L393.0,313.3 L392.5,314.5 L392.0,315.6 L391.5,316.7 L391.0,317.7 L390.5,318.7 L390.0,319.6 L389.5,320.6 L389.0,321.6 L388.5,322.6 L388.0,323.7 L387.6,324.8 L387.2,326.0 L386.8,327.2 L386.4,328.4 L386.0,329.6 L385.6,330.7 L385.3,331.7 L385.0,332.6 L384.8,333.4 L384.6,334.0 L384.5,334.8 L384.8,335.5 L385.5,335.9 L386.3,336.0 L387.0,335.7 L387.4,335.0 L387.7,334.4 L388.0,333.7 L388.3,332.8 L388.7,331.8 L389.2,330.7 L389.6,329.6 L390.1,328.5 L390.6,327.4 L391.1,326.3 L391.6,325.3 L392.0,324.4 L392.5,323.5 L393.0,322.5 L393.6,321.6 L394.1,320.6 L394.7,319.6 L395.2,318.6 L395.8,317.4 L396.4,316.2 L397.0,314.9 L397.5,313.5 L398.1,312.1 L398.7,310.5 L399.3,308.9 L399.9,307.3 L400.4,305.6 L401.0,303.9 L401.5,302.3 L402.0,300.6 L402.4,299.0 L402.8,297.4 L403.2,295.8 L403.5,294.2 L403.8,292.6 L404.1,291.0 L404.4,289.4 L404.6,287.8 L404.8,286.2 L405.0,284.6 L405.2,283.0 L405.3,281.4 L405.4,279.8 L405.5,278.2 L405.6,276.6 L405.6,275.0 L405.6,273.4 L405.6,271.8 L405.5,270.2 L405.4,268.5 L405.2,266.9 L405.0,265.3 L404.7,263.6 L404.5,261.9 L404.1,260.3 L403.7,258.6 L403.3,256.9 L402.9,255.3 L402.4,253.7 L401.8,252.1 L401.2,250.6 L400.6,249.1 L400.0,247.6 L399.3,246.1 L398.6,244.7 L397.8,243.3 L397.0,241.9 L396.1,240.5 L395.2,239.2 L394.2,237.9 L393.1,236.6 L391.8,235.4 L390.4,234.2 L388.9,233.0 L387.3,231.9 L385.8,230.9 L384.3,230.0 L382.9,229.1 L381.6,228.3 L380.6,227.6 L379.8,226.9 L379.1,226.4 L378.6,226.0 L378.2,225.6 L377.9,225.3 L377.7,225.0 L377.5,224.8 L377.4,224.6 L377.2,224.4 L377.0,224.1 L376.7,223.8 L375.4,222.9 L373.9,222.9 L372.5,223.6 L371.6,224.9 L371.6,226.4 Z" fill="#fff"/><path d="M374.6,228.1 L374.8,228.3 L375.1,228.4 L375.3,228.5 L375.5,228.6 L375.8,228.7 L376.1,228.9 L376.6,229.2 L377.3,229.5 L378.1,230.0 L379.1,230.6 L380.4,231.3 L382.0,232.1 L383.7,233.1 L385.6,234.2 L387.6,235.3 L389.7,236.4 L391.8,237.6 L393.8,238.7 L395.7,239.8 L397.5,240.9 L399.2,241.9 L400.9,242.9 L402.5,243.8 L404.1,244.8 L405.7,245.7 L407.2,246.6 L408.6,247.6 L410.0,248.6 L411.4,249.7 L412.7,250.8 L414.0,252.1 L415.3,253.4 L416.5,254.9 L417.8,256.4 L419.0,257.9 L420.2,259.5 L421.3,261.0 L422.3,262.6 L423.2,264.2 L424.1,265.7 L424.9,267.2 L425.6,268.6 L426.3,270.1 L426.9,271.5 L427.4,273.0 L427.9,274.4 L428.3,275.9 L428.6,277.4 L428.9,278.9 L429.1,280.5 L429.2,282.1 L429.3,283.7 L429.3,285.5 L429.2,287.3 L429.1,289.1 L428.9,290.9 L428.7,292.7 L428.4,294.5 L428.2,296.3 L427.9,298.0 L427.6,299.7 L427.4,301.3 L427.1,302.8 L426.8,304.4 L426.5,305.8 L426.1,307.3 L425.7,308.8 L425.2,310.3 L424.7,311.7 L424.1,313.2 L423.4,314.7 L422.6,316.3 L421.7,317.8 L420.8,319.4 L419.8,321.0 L418.7,322.6 L417.7,324.2 L416.6,325.8 L415.5,327.4 L414.5,329.0 L413.5,330.6 L412.4,332.2 L411.3,333.8 L410.3,335.4 L409.2,337.0 L408.1,338.6 L407.0,340.1 L406.0,341.6 L404.9,343.1 L403.8,344.6 L402.8,346.0 L401.7,347.3 L400.6,348.7 L399.5,350.0 L398.4,351.3 L397.3,352.6 L396.2,353.9 L395.2,355.1 L394.1,356.3 L393.1,357.5 L392.0,358.6 L391.0,359.8 L390.0,360.9 L389.1,361.9 L388.1,363.0 L387.1,364.0 L386.2,365.0 L385.3,365.9 L384.4,366.8 L383.4,367.6 L382.5,368.5 L381.6,369.3 L380.7,370.2 L379.9,371.0 L379.1,371.7 L378.3,372.4 L377.7,372.9 L377.1,373.2 L376.7,373.4 L376.5,373.4 L376.5,373.4 L376.3,373.3 L376.0,373.0 L375.6,372.6 L375.2,372.1 L374.7,371.5 L374.3,370.9 L374.0,370.3 L373.7,369.7 L373.6,369.4 L373.5,369.2 L373.5,369.0 L373.6,368.7 L373.7,368.4 L373.8,367.9 L374.0,367.5 L374.2,367.0 L374.4,366.5 L374.6,366.0 L374.7,365.6 L374.7,364.4 L374.2,363.4 L373.1,362.8 L371.9,362.8 L370.9,363.3 L370.3,364.4 L370.2,364.6 L370.1,364.9 L370.0,365.3 L369.8,365.9 L369.5,366.5 L369.3,367.2 L369.2,368.1 L369.1,368.9 L369.2,369.9 L369.4,370.8 L369.8,371.6 L370.2,372.4 L370.7,373.2 L371.3,374.0 L371.9,374.8 L372.6,375.6 L373.5,376.3 L374.4,376.9 L375.6,377.3 L376.9,377.4 L378.1,377.1 L379.1,376.6 L380.0,376.0 L380.8,375.2 L381.6,374.4 L382.5,373.6 L383.3,372.7 L384.1,371.8 L384.9,370.9 L385.8,370.0 L386.6,369.1 L387.5,368.2 L388.5,367.2 L389.5,366.2 L390.4,365.2 L391.4,364.2 L392.4,363.1 L393.5,362.0 L394.5,360.8 L395.5,359.7 L396.6,358.5 L397.7,357.3 L398.7,356.1 L399.9,354.8 L401.0,353.5 L402.1,352.2 L403.2,350.9 L404.3,349.5 L405.5,348.1 L406.6,346.6 L407.7,345.2 L408.8,343.7 L409.9,342.1 L411.0,340.6 L412.1,339.0 L413.2,337.4 L414.3,335.8 L415.4,334.2 L416.4,332.6 L417.5,331.0 L418.6,329.5 L419.7,327.9 L420.8,326.3 L421.9,324.7 L423.0,323.1 L424.1,321.5 L425.2,319.9 L426.2,318.3 L427.1,316.6 L427.9,315.0 L428.7,313.3 L429.3,311.7 L429.9,310.1 L430.4,308.5 L430.8,306.9 L431.2,305.3 L431.6,303.7 L431.9,302.1 L432.2,300.5 L432.5,298.8 L432.8,297.0 L433.1,295.2 L433.3,293.4 L433.6,291.4 L433.8,289.5 L434.0,287.6 L434.1,285.6 L434.1,283.7 L434.0,281.8 L433.9,279.9 L433.7,278.2 L433.4,276.4 L433.0,274.7 L432.5,273.1 L432.0,271.4 L431.5,269.8 L430.8,268.2 L430.1,266.5 L429.3,264.9 L428.5,263.3 L427.6,261.7 L426.6,260.0 L425.5,258.2 L424.3,256.5 L423.1,254.8 L421.8,253.2 L420.5,251.5 L419.1,249.9 L417.7,248.4 L416.3,247.0 L414.8,245.6 L413.3,244.4 L411.7,243.2 L410.1,242.1 L408.5,241.1 L406.9,240.1 L405.3,239.1 L403.6,238.1 L402.0,237.1 L400.3,236.1 L398.6,235.0 L396.6,233.8 L394.6,232.6 L392.5,231.4 L390.5,230.2 L388.5,229.1 L386.6,228.0 L384.9,227.0 L383.3,226.2 L382.1,225.4 L381.0,224.8 L380.2,224.3 L379.5,224.0 L379.0,223.7 L378.5,223.4 L378.2,223.3 L378.0,223.1 L377.8,223.0 L377.6,223.0 L377.4,222.9 L375.9,222.5 L374.4,223.0 L373.4,224.1 L373.0,225.6 L373.5,227.1 Z" fill="#fff"/><ellipse cx="377.00" cy="227.50" rx="5.00" ry="3.50" transform="rotate(30 377.00 227.50)" fill="#fff"/></mask></defs>
<g mask="url(#mk6)"><rect x="361.5" y="215.5" width="80.0" height="169.9" fill="#2b2f8f"/><path d="M374.50,225.80 C375.08,226.38 375.23,227.18 378.00,229.30 C380.77,231.42 387.62,234.80 391.10,238.50 C394.58,242.20 396.95,246.72 398.90,251.50 C400.85,256.28 402.15,261.98 402.80,267.20 C403.45,272.42 403.23,277.60 402.80,282.80 C402.37,288.00 401.50,293.18 400.20,298.40 C398.90,303.62 396.73,309.75 395.00,314.10 C393.27,318.45 391.30,321.10 389.80,324.50 C388.30,327.90 386.63,332.83 386.00,334.50" pathLength="100" fill="none" stroke="#cc3088" stroke-opacity="0.85" stroke-width="7.00" stroke-dasharray="0 50.82 11.40 300" filter="url(#blurS)"/><path d="M374.50,225.80 C375.08,226.38 375.23,227.18 378.00,229.30 C380.77,231.42 387.62,234.80 391.10,238.50 C394.58,242.20 396.95,246.72 398.90,251.50 C400.85,256.28 402.15,261.98 402.80,267.20 C403.45,272.42 403.23,277.60 402.80,282.80 C402.37,288.00 401.50,293.18 400.20,298.40 C398.90,303.62 396.73,309.75 395.00,314.10 C393.27,318.45 391.30,321.10 389.80,324.50 C388.30,327.90 386.63,332.83 386.00,334.50" pathLength="100" fill="none" stroke="#e4436f" stroke-opacity="0.70" stroke-width="7.00" stroke-dasharray="0 54.73 5.70 300" filter="url(#blurS)"/><path d="M374.50,225.80 C375.08,226.38 375.23,227.18 378.00,229.30 C380.77,231.42 387.62,234.80 391.10,238.50 C394.58,242.20 396.95,246.72 398.90,251.50 C400.85,256.28 402.15,261.98 402.80,267.20 C403.45,272.42 403.23,277.60 402.80,282.80 C402.37,288.00 401.50,293.18 400.20,298.40 C398.90,303.62 396.73,309.75 395.00,314.10 C393.27,318.45 391.30,321.10 389.80,324.50 C388.30,327.90 386.63,332.83 386.00,334.50" pathLength="100" fill="none" stroke="#cc3088" stroke-opacity="0.80" stroke-width="7.00" stroke-dasharray="0 86.95 5.70 300" filter="url(#blurS)"/><path d="M374.50,225.80 C375.08,226.38 375.23,227.18 378.00,229.30 C380.77,231.42 387.62,234.80 391.10,238.50 C394.58,242.20 396.95,246.72 398.90,251.50 C400.85,256.28 402.15,261.98 402.80,267.20 C403.45,272.42 403.23,277.60 402.80,282.80 C402.37,288.00 401.50,293.18 400.20,298.40 C398.90,303.62 396.73,309.75 395.00,314.10 C393.27,318.45 391.30,321.10 389.80,324.50 C388.30,327.90 386.63,332.83 386.00,334.50" pathLength="100" fill="none" stroke="#e4436f" stroke-opacity="0.90" stroke-width="7.00" stroke-dasharray="0 92.97 4.88 300" filter="url(#blurS)"/><path d="M374.50,225.80 C375.08,226.38 375.23,227.18 378.00,229.30 C380.77,231.42 387.62,234.80 391.10,238.50 C394.58,242.20 396.95,246.72 398.90,251.50 C400.85,256.28 402.15,261.98 402.80,267.20 C403.45,272.42 403.23,277.60 402.80,282.80 C402.37,288.00 401.50,293.18 400.20,298.40 C398.90,303.62 396.73,309.75 395.00,314.10 C393.27,318.45 391.30,321.10 389.80,324.50 C388.30,327.90 386.63,332.83 386.00,334.50" pathLength="100" fill="none" stroke="#f3913b" stroke-opacity="0.95" stroke-width="7.00" stroke-dasharray="0 95.33 4.88 300" filter="url(#blurS)"/><path d="M374.50,225.80 C375.08,226.38 375.23,227.18 378.00,229.30 C380.77,231.42 387.62,234.80 391.10,238.50 C394.58,242.20 396.95,246.72 398.90,251.50 C400.85,256.28 402.15,261.98 402.80,267.20 C403.45,272.42 403.23,277.60 402.80,282.80 C402.37,288.00 401.50,293.18 400.20,298.40 C398.90,303.62 396.73,309.75 395.00,314.10 C393.27,318.45 391.30,321.10 389.80,324.50 C388.30,327.90 386.63,332.83 386.00,334.50" pathLength="100" fill="none" stroke="#f4d84a" stroke-opacity="1.00" stroke-width="7.00" stroke-dasharray="0 97.96 4.07 300" filter="url(#blurS)"/><path d="M376.00,225.50 C376.77,225.92 376.78,225.83 380.60,228.00 C384.42,230.17 393.25,235.02 398.90,238.50 C404.55,241.98 409.93,244.57 414.50,248.90 C419.07,253.23 423.47,259.28 426.30,264.50 C429.13,269.72 430.85,274.55 431.50,280.20 C432.15,285.85 431.12,292.75 430.20,298.40 C429.28,304.05 428.37,308.83 426.00,314.10 C423.63,319.37 419.47,324.75 416.00,330.00 C412.53,335.25 408.82,340.83 405.20,345.60 C401.58,350.37 397.73,354.73 394.30,358.60 C390.87,362.47 387.53,366.00 384.60,368.80 C381.67,371.60 378.88,375.18 376.70,375.40 C374.52,375.62 372.20,371.83 371.50,370.10 C370.80,368.37 372.33,365.85 372.50,365.00" pathLength="100" fill="none" stroke="#cc3088" stroke-opacity="0.50" stroke-width="6.80" stroke-dasharray="0 7.87 2.40 300" filter="url(#blurS)"/><path d="M376.00,225.50 C376.77,225.92 376.78,225.83 380.60,228.00 C384.42,230.17 393.25,235.02 398.90,238.50 C404.55,241.98 409.93,244.57 414.50,248.90 C419.07,253.23 423.47,259.28 426.30,264.50 C429.13,269.72 430.85,274.55 431.50,280.20 C432.15,285.85 431.12,292.75 430.20,298.40 C429.28,304.05 428.37,308.83 426.00,314.10 C423.63,319.37 419.47,324.75 416.00,330.00 C412.53,335.25 408.82,340.83 405.20,345.60 C401.58,350.37 397.73,354.73 394.30,358.60 C390.87,362.47 387.53,366.00 384.60,368.80 C381.67,371.60 378.88,375.18 376.70,375.40 C374.52,375.62 372.20,371.83 371.50,370.10 C370.80,368.37 372.33,365.85 372.50,365.00" pathLength="100" fill="none" stroke="#7a2892" stroke-opacity="0.60" stroke-width="6.80" stroke-dasharray="0 20.46 2.40 300" filter="url(#blurS)"/><path d="M376.00,225.50 C376.77,225.92 376.78,225.83 380.60,228.00 C384.42,230.17 393.25,235.02 398.90,238.50 C404.55,241.98 409.93,244.57 414.50,248.90 C419.07,253.23 423.47,259.28 426.30,264.50 C429.13,269.72 430.85,274.55 431.50,280.20 C432.15,285.85 431.12,292.75 430.20,298.40 C429.28,304.05 428.37,308.83 426.00,314.10 C423.63,319.37 419.47,324.75 416.00,330.00 C412.53,335.25 408.82,340.83 405.20,345.60 C401.58,350.37 397.73,354.73 394.30,358.60 C390.87,362.47 387.53,366.00 384.60,368.80 C381.67,371.60 378.88,375.18 376.70,375.40 C374.52,375.62 372.20,371.83 371.50,370.10 C370.80,368.37 372.33,365.85 372.50,365.00" pathLength="100" fill="none" stroke="#cc3088" stroke-opacity="0.85" stroke-width="6.80" stroke-dasharray="0 43.27 3.36 300" filter="url(#blurS)"/><path d="M376.00,225.50 C376.77,225.92 376.78,225.83 380.60,228.00 C384.42,230.17 393.25,235.02 398.90,238.50 C404.55,241.98 409.93,244.57 414.50,248.90 C419.07,253.23 423.47,259.28 426.30,264.50 C429.13,269.72 430.85,274.55 431.50,280.20 C432.15,285.85 431.12,292.75 430.20,298.40 C429.28,304.05 428.37,308.83 426.00,314.10 C423.63,319.37 419.47,324.75 416.00,330.00 C412.53,335.25 408.82,340.83 405.20,345.60 C401.58,350.37 397.73,354.73 394.30,358.60 C390.87,362.47 387.53,366.00 384.60,368.80 C381.67,371.60 378.88,375.18 376.70,375.40 C374.52,375.62 372.20,371.83 371.50,370.10 C370.80,368.37 372.33,365.85 372.50,365.00" pathLength="100" fill="none" stroke="#cc3088" stroke-opacity="0.70" stroke-width="6.80" stroke-dasharray="0 80.75 2.40 300" filter="url(#blurS)"/></g>
<path d="M400.4,292.8a1.2,1.2 0 1,0 2.4,0a1.2,1.2 0 1,0 -2.4,0M394.9,310.5a1.2,1.2 0 1,0 2.4,0a1.2,1.2 0 1,0 -2.4,0M372.7,226.9a1.2,1.2 0 1,0 2.4,0a1.2,1.2 0 1,0 -2.4,0M396.2,248.2a1.2,1.2 0 1,0 2.4,0a1.2,1.2 0 1,0 -2.4,0M402.1,265.1a1.2,1.2 0 1,0 2.4,0a1.2,1.2 0 1,0 -2.4,0M397.0,307.6a1.2,1.2 0 1,0 2.4,0a1.2,1.2 0 1,0 -2.4,0M389.2,239.1a1.2,1.2 0 1,0 2.4,0a1.2,1.2 0 1,0 -2.4,0M378.6,231.5a1.2,1.2 0 1,0 2.4,0a1.2,1.2 0 1,0 -2.4,0M399.2,254.6a1.2,1.2 0 1,0 2.4,0a1.2,1.2 0 1,0 -2.4,0M390.6,237.5a1.2,1.2 0 1,0 2.4,0a1.2,1.2 0 1,0 -2.4,0M400.0,257.7a1.2,1.2 0 1,0 2.4,0a1.2,1.2 0 1,0 -2.4,0M378.1,230.5a1.2,1.2 0 1,0 2.4,0a1.2,1.2 0 1,0 -2.4,0M401.5,291.0a1.2,1.2 0 1,0 2.4,0a1.2,1.2 0 1,0 -2.4,0M393.8,313.8a1.2,1.2 0 1,0 2.4,0a1.2,1.2 0 1,0 -2.4,0M401.5,262.5a1.2,1.2 0 1,0 2.4,0a1.2,1.2 0 1,0 -2.4,0M395.4,245.6a1.2,1.2 0 1,0 2.4,0a1.2,1.2 0 1,0 -2.4,0M398.4,250.6a1.2,1.2 0 1,0 2.4,0a1.2,1.2 0 1,0 -2.4,0M402.0,280.3a1.2,1.2 0 1,0 2.4,0a1.2,1.2 0 1,0 -2.4,0M378.8,231.9a1.2,1.2 0 1,0 2.4,0a1.2,1.2 0 1,0 -2.4,0M400.6,257.9a1.2,1.2 0 1,0 2.4,0a1.2,1.2 0 1,0 -2.4,0M398.2,249.7a1.2,1.2 0 1,0 2.4,0a1.2,1.2 0 1,0 -2.4,0M400.2,296.3a1.2,1.2 0 1,0 2.4,0a1.2,1.2 0 1,0 -2.4,0M398.7,301.2a1.2,1.2 0 1,0 2.4,0a1.2,1.2 0 1,0 -2.4,0M393.1,316.0a1.2,1.2 0 1,0 2.4,0a1.2,1.2 0 1,0 -2.4,0M388.5,238.0a1.2,1.2 0 1,0 2.4,0a1.2,1.2 0 1,0 -2.4,0M402.1,276.7a1.2,1.2 0 1,0 2.4,0a1.2,1.2 0 1,0 -2.4,0M386.6,234.8a1.2,1.2 0 1,0 2.4,0a1.2,1.2 0 1,0 -2.4,0M400.1,260.1a1.2,1.2 0 1,0 2.4,0a1.2,1.2 0 1,0 -2.4,0M393.9,241.9a1.2,1.2 0 1,0 2.4,0a1.2,1.2 0 1,0 -2.4,0M396.8,248.6a1.2,1.2 0 1,0 2.4,0a1.2,1.2 0 1,0 -2.4,0M400.1,295.4a1.2,1.2 0 1,0 2.4,0a1.2,1.2 0 1,0 -2.4,0M401.6,262.5a1.2,1.2 0 1,0 2.4,0a1.2,1.2 0 1,0 -2.4,0M391.9,317.7a1.2,1.2 0 1,0 2.4,0a1.2,1.2 0 1,0 -2.4,0M384.1,233.5a1.2,1.2 0 1,0 2.4,0a1.2,1.2 0 1,0 -2.4,0M379.9,230.3a1.2,1.2 0 1,0 2.4,0a1.2,1.2 0 1,0 -2.4,0M386.0,234.5a1.2,1.2 0 1,0 2.4,0a1.2,1.2 0 1,0 -2.4,0M391.9,319.0a1.2,1.2 0 1,0 2.4,0a1.2,1.2 0 1,0 -2.4,0M375.4,228.9a1.2,1.2 0 1,0 2.4,0a1.2,1.2 0 1,0 -2.4,0M428.2,272.3a1.2,1.2 0 1,0 2.4,0a1.2,1.2 0 1,0 -2.4,0M408.5,338.9a1.2,1.2 0 1,0 2.4,0a1.2,1.2 0 1,0 -2.4,0M429.3,272.1a1.2,1.2 0 1,0 2.4,0a1.2,1.2 0 1,0 -2.4,0M395.4,237.9a1.2,1.2 0 1,0 2.4,0a1.2,1.2 0 1,0 -2.4,0M407.5,341.6a1.2,1.2 0 1,0 2.4,0a1.2,1.2 0 1,0 -2.4,0M404.4,241.8a1.2,1.2 0 1,0 2.4,0a1.2,1.2 0 1,0 -2.4,0M430.4,278.1a1.2,1.2 0 1,0 2.4,0a1.2,1.2 0 1,0 -2.4,0M415.5,328.3a1.2,1.2 0 1,0 2.4,0a1.2,1.2 0 1,0 -2.4,0M423.9,316.8a1.2,1.2 0 1,0 2.4,0a1.2,1.2 0 1,0 -2.4,0M430.6,289.4a1.2,1.2 0 1,0 2.4,0a1.2,1.2 0 1,0 -2.4,0M374.6,226.4a1.2,1.2 0 1,0 2.4,0a1.2,1.2 0 1,0 -2.4,0M421.8,260.6a1.2,1.2 0 1,0 2.4,0a1.2,1.2 0 1,0 -2.4,0M419.7,323.4a1.2,1.2 0 1,0 2.4,0a1.2,1.2 0 1,0 -2.4,0M395.5,236.1a1.2,1.2 0 1,0 2.4,0a1.2,1.2 0 1,0 -2.4,0M390.7,234.0a1.2,1.2 0 1,0 2.4,0a1.2,1.2 0 1,0 -2.4,0M421.0,259.8a1.2,1.2 0 1,0 2.4,0a1.2,1.2 0 1,0 -2.4,0M409.4,337.6a1.2,1.2 0 1,0 2.4,0a1.2,1.2 0 1,0 -2.4,0M417.5,327.0a1.2,1.2 0 1,0 2.4,0a1.2,1.2 0 1,0 -2.4,0M408.9,338.9a1.2,1.2 0 1,0 2.4,0a1.2,1.2 0 1,0 -2.4,0M377.1,374.4a1.2,1.2 0 1,0 2.4,0a1.2,1.2 0 1,0 -2.4,0M382.3,230.8a1.2,1.2 0 1,0 2.4,0a1.2,1.2 0 1,0 -2.4,0M418.5,256.6a1.2,1.2 0 1,0 2.4,0a1.2,1.2 0 1,0 -2.4,0M416.1,328.5a1.2,1.2 0 1,0 2.4,0a1.2,1.2 0 1,0 -2.4,0M385.8,231.2a1.2,1.2 0 1,0 2.4,0a1.2,1.2 0 1,0 -2.4,0M411.5,246.0a1.2,1.2 0 1,0 2.4,0a1.2,1.2 0 1,0 -2.4,0M408.0,340.5a1.2,1.2 0 1,0 2.4,0a1.2,1.2 0 1,0 -2.4,0M417.0,252.6a1.2,1.2 0 1,0 2.4,0a1.2,1.2 0 1,0 -2.4,0M375.8,375.6a1.2,1.2 0 1,0 2.4,0a1.2,1.2 0 1,0 -2.4,0M383.7,368.4a1.2,1.2 0 1,0 2.4,0a1.2,1.2 0 1,0 -2.4,0M427.1,268.8a1.2,1.2 0 1,0 2.4,0a1.2,1.2 0 1,0 -2.4,0M401.0,349.2a1.2,1.2 0 1,0 2.4,0a1.2,1.2 0 1,0 -2.4,0M420.2,321.5a1.2,1.2 0 1,0 2.4,0a1.2,1.2 0 1,0 -2.4,0M391.6,360.5a1.2,1.2 0 1,0 2.4,0a1.2,1.2 0 1,0 -2.4,0M430.1,273.8a1.2,1.2 0 1,0 2.4,0a1.2,1.2 0 1,0 -2.4,0M421.5,259.5a1.2,1.2 0 1,0 2.4,0a1.2,1.2 0 1,0 -2.4,0M430.3,292.2a1.2,1.2 0 1,0 2.4,0a1.2,1.2 0 1,0 -2.4,0M430.0,296.5a1.2,1.2 0 1,0 2.4,0a1.2,1.2 0 1,0 -2.4,0M387.1,234.1a1.2,1.2 0 1,0 2.4,0a1.2,1.2 0 1,0 -2.4,0M402.3,347.5a1.2,1.2 0 1,0 2.4,0a1.2,1.2 0 1,0 -2.4,0M394.7,236.4a1.2,1.2 0 1,0 2.4,0a1.2,1.2 0 1,0 -2.4,0M409.8,244.3a1.2,1.2 0 1,0 2.4,0a1.2,1.2 0 1,0 -2.4,0M414.4,331.1a1.2,1.2 0 1,0 2.4,0a1.2,1.2 0 1,0 -2.4,0M399.5,240.5a1.2,1.2 0 1,0 2.4,0a1.2,1.2 0 1,0 -2.4,0M390.5,361.8a1.2,1.2 0 1,0 2.4,0a1.2,1.2 0 1,0 -2.4,0M377.3,374.2a1.2,1.2 0 1,0 2.4,0a1.2,1.2 0 1,0 -2.4,0M425.9,267.8a1.2,1.2 0 1,0 2.4,0a1.2,1.2 0 1,0 -2.4,0M425.9,266.3a1.2,1.2 0 1,0 2.4,0a1.2,1.2 0 1,0 -2.4,0M430.1,275.7a1.2,1.2 0 1,0 2.4,0a1.2,1.2 0 1,0 -2.4,0M382.1,230.0a1.2,1.2 0 1,0 2.4,0a1.2,1.2 0 1,0 -2.4,0M429.1,301.8a1.2,1.2 0 1,0 2.4,0a1.2,1.2 0 1,0 -2.4,0M424.8,262.0a1.2,1.2 0 1,0 2.4,0a1.2,1.2 0 1,0 -2.4,0M410.1,337.1a1.2,1.2 0 1,0 2.4,0a1.2,1.2 0 1,0 -2.4,0M370.0,371.3a1.2,1.2 0 1,0 2.4,0a1.2,1.2 0 1,0 -2.4,0M429.7,290.3a1.2,1.2 0 1,0 2.4,0a1.2,1.2 0 1,0 -2.4,0M374.8,226.8a1.2,1.2 0 1,0 2.4,0a1.2,1.2 0 1,0 -2.4,0M397.7,353.6a1.2,1.2 0 1,0 2.4,0a1.2,1.2 0 1,0 -2.4,0M413.2,332.6a1.2,1.2 0 1,0 2.4,0a1.2,1.2 0 1,0 -2.4,0M427.3,269.9a1.2,1.2 0 1,0 2.4,0a1.2,1.2 0 1,0 -2.4,0M404.6,242.4a1.2,1.2 0 1,0 2.4,0a1.2,1.2 0 1,0 -2.4,0M424.7,315.6a1.2,1.2 0 1,0 2.4,0a1.2,1.2 0 1,0 -2.4,0" fill="#e6f7da" stroke="#2a3a2a" stroke-width="0.55"/>
<defs><mask id="mk7" maskUnits="userSpaceOnUse" x="0" y="0" width="685" height="652"><path d="M509.3,231.0 L509.7,231.3 L510.2,231.7 L510.7,232.1 L511.2,232.5 L511.9,233.0 L512.5,233.6 L513.3,234.2 L514.1,234.9 L515.0,235.7 L516.0,236.6 L517.1,237.7 L518.5,238.8 L519.9,240.0 L521.4,241.2 L522.9,242.5 L524.3,243.8 L525.7,245.1 L527.0,246.4 L528.1,247.7 L528.9,249.0 L529.7,250.3 L530.3,251.7 L530.9,253.2 L531.4,254.7 L531.8,256.3 L532.2,257.9 L532.5,259.6 L532.8,261.3 L533.1,263.1 L533.4,264.9 L533.7,266.8 L534.0,268.7 L534.2,270.7 L534.4,272.7 L534.5,274.8 L534.6,276.9 L534.7,278.9 L534.7,281.0 L534.7,282.9 L534.7,284.8 L534.6,286.6 L534.5,288.4 L534.4,290.1 L534.2,291.8 L534.0,293.5 L533.8,295.1 L533.5,296.8 L533.2,298.5 L532.9,300.2 L532.6,301.9 L532.3,303.7 L531.9,305.4 L531.5,307.2 L531.1,309.0 L530.6,310.7 L530.2,312.5 L529.7,314.3 L529.3,316.0 L528.8,317.7 L528.4,319.3 L528.0,320.9 L527.5,322.5 L527.1,324.1 L526.6,325.6 L526.2,327.1 L525.7,328.6 L525.3,330.0 L524.9,331.4 L524.6,332.7 L524.2,333.9 L523.9,335.0 L523.6,336.0 L523.3,337.0 L523.1,337.9 L522.8,338.8 L522.6,339.6 L522.3,340.3 L522.2,340.9 L522.0,341.5 L521.8,341.9 L521.8,342.8 L522.2,343.6 L522.9,344.2 L523.8,344.2 L524.6,343.8 L525.2,343.1 L525.3,342.6 L525.5,342.1 L525.8,341.5 L526.0,340.8 L526.3,340.0 L526.7,339.2 L527.0,338.3 L527.4,337.3 L527.8,336.2 L528.2,335.1 L528.6,333.9 L529.0,332.7 L529.5,331.4 L529.9,329.9 L530.4,328.4 L530.9,326.9 L531.4,325.3 L531.9,323.7 L532.3,322.1 L532.8,320.5 L533.3,318.9 L533.7,317.2 L534.2,315.5 L534.7,313.7 L535.2,311.9 L535.7,310.1 L536.2,308.3 L536.6,306.5 L537.0,304.7 L537.4,302.9 L537.7,301.1 L538.1,299.4 L538.4,297.7 L538.7,295.9 L539.0,294.2 L539.2,292.4 L539.5,290.6 L539.6,288.8 L539.8,286.9 L539.9,285.0 L540.0,283.0 L540.0,280.9 L540.0,278.8 L539.9,276.7 L539.9,274.5 L539.8,272.4 L539.6,270.2 L539.4,268.1 L539.2,266.1 L539.0,264.1 L538.7,262.2 L538.4,260.4 L538.1,258.5 L537.8,256.7 L537.4,254.9 L536.9,253.1 L536.4,251.3 L535.7,249.5 L535.0,247.7 L534.1,246.0 L532.9,244.2 L531.7,242.5 L530.3,240.8 L528.9,239.2 L527.4,237.7 L525.9,236.2 L524.5,234.8 L523.2,233.6 L522.0,232.4 L521.0,231.4 L520.1,230.4 L519.3,229.5 L518.5,228.7 L517.7,227.9 L517.0,227.3 L516.4,226.7 L515.9,226.2 L515.4,225.7 L515.0,225.4 L514.7,225.0 L512.8,224.1 L510.8,224.2 L509.0,225.3 L508.1,227.2 L508.2,229.2 Z" fill="#fff"/><path d="M510.4,231.5 L510.6,231.6 L510.9,231.7 L511.1,231.9 L511.4,232.0 L511.7,232.2 L512.1,232.4 L512.7,232.7 L513.5,233.2 L514.5,233.7 L515.8,234.5 L517.4,235.4 L519.4,236.5 L521.6,237.7 L524.0,239.1 L526.6,240.5 L529.1,241.9 L531.7,243.4 L534.1,244.8 L536.4,246.2 L538.5,247.4 L540.4,248.6 L542.2,249.8 L544.0,250.9 L545.6,252.1 L547.2,253.2 L548.8,254.4 L550.3,255.6 L551.7,256.8 L553.1,258.0 L554.5,259.4 L555.9,260.8 L557.4,262.3 L558.7,263.8 L560.1,265.3 L561.4,266.9 L562.6,268.5 L563.8,270.1 L564.9,271.7 L565.8,273.3 L566.7,274.9 L567.5,276.4 L568.2,278.0 L568.8,279.6 L569.4,281.2 L569.9,282.8 L570.3,284.4 L570.6,286.0 L570.9,287.7 L571.1,289.3 L571.3,290.9 L571.3,292.5 L571.3,294.1 L571.1,295.7 L570.9,297.3 L570.6,298.9 L570.3,300.6 L569.9,302.3 L569.5,304.0 L569.1,305.8 L568.7,307.5 L568.2,309.3 L567.8,311.0 L567.3,312.8 L566.9,314.6 L566.4,316.3 L565.8,318.0 L565.2,319.7 L564.6,321.4 L564.0,323.0 L563.2,324.5 L562.5,326.0 L561.7,327.4 L560.8,328.7 L559.8,330.1 L558.8,331.5 L557.8,332.9 L556.7,334.3 L555.6,335.7 L554.5,337.3 L553.4,338.9 L552.3,340.6 L551.1,342.2 L550.0,344.0 L548.8,345.8 L547.6,347.5 L546.4,349.4 L545.2,351.2 L544.0,353.0 L542.9,354.8 L541.8,356.6 L540.7,358.4 L539.6,360.2 L538.5,362.0 L537.5,363.8 L536.4,365.6 L535.4,367.4 L534.4,369.2 L533.5,370.9 L532.5,372.6 L531.7,374.3 L530.8,375.9 L530.0,377.5 L529.2,379.1 L528.4,380.6 L527.7,382.0 L527.0,383.5 L526.3,384.9 L525.7,386.2 L525.0,387.5 L524.3,388.7 L523.5,390.0 L522.8,391.3 L522.0,392.6 L521.3,393.8 L520.5,395.0 L519.8,396.0 L519.2,397.0 L518.5,397.7 L518.0,398.3 L517.6,398.6 L517.3,398.7 L517.1,398.8 L516.9,398.8 L516.7,398.8 L516.5,398.7 L516.2,398.6 L516.0,398.4 L515.7,398.1 L515.4,397.8 L515.3,397.5 L515.1,397.1 L514.9,396.3 L514.8,395.2 L514.6,394.0 L514.5,392.7 L514.5,391.4 L514.4,390.2 L514.4,389.0 L514.3,388.0 L514.3,387.3 L513.8,386.0 L512.8,385.1 L511.5,384.9 L510.2,385.4 L509.3,386.4 L509.1,387.7 L509.2,388.4 L509.3,389.3 L509.3,390.4 L509.4,391.7 L509.5,393.1 L509.7,394.5 L509.9,395.9 L510.1,397.3 L510.5,398.6 L510.9,399.7 L511.5,400.6 L512.2,401.4 L513.0,402.1 L513.8,402.7 L514.8,403.1 L515.8,403.4 L516.9,403.5 L518.1,403.4 L519.2,403.0 L520.2,402.4 L521.1,401.6 L522.0,400.7 L522.8,399.7 L523.6,398.6 L524.4,397.4 L525.1,396.1 L525.9,394.8 L526.7,393.5 L527.4,392.2 L528.1,390.9 L528.9,389.6 L529.6,388.2 L530.3,386.8 L530.9,385.4 L531.6,383.9 L532.3,382.4 L533.0,380.9 L533.8,379.4 L534.5,377.9 L535.3,376.3 L536.2,374.7 L537.2,373.0 L538.2,371.3 L539.2,369.6 L540.2,367.8 L541.3,366.1 L542.3,364.3 L543.4,362.5 L544.5,360.7 L545.6,359.0 L546.7,357.3 L547.9,355.5 L549.1,353.7 L550.3,352.0 L551.5,350.2 L552.7,348.4 L553.9,346.7 L555.1,345.0 L556.3,343.3 L557.4,341.7 L558.5,340.2 L559.6,338.7 L560.7,337.3 L561.8,335.9 L562.9,334.5 L564.0,333.1 L565.0,331.7 L566.1,330.1 L567.0,328.6 L568.0,326.9 L568.8,325.2 L569.6,323.4 L570.3,321.6 L570.9,319.8 L571.6,317.9 L572.1,316.1 L572.7,314.3 L573.2,312.5 L573.7,310.7 L574.1,308.9 L574.6,307.2 L575.1,305.4 L575.5,303.7 L576.0,301.9 L576.4,300.1 L576.7,298.2 L577.0,296.4 L577.2,294.5 L577.3,292.6 L577.3,290.7 L577.3,288.8 L577.1,286.9 L576.9,285.0 L576.6,283.1 L576.3,281.2 L575.8,279.3 L575.3,277.4 L574.6,275.5 L573.9,273.6 L573.1,271.7 L572.2,269.8 L571.1,267.9 L570.0,266.0 L568.8,264.2 L567.5,262.3 L566.2,260.5 L564.8,258.7 L563.4,256.9 L561.9,255.3 L560.5,253.6 L559.0,252.0 L557.4,250.5 L555.8,249.1 L554.2,247.7 L552.6,246.3 L550.9,245.0 L549.2,243.6 L547.4,242.3 L545.5,241.0 L543.5,239.6 L541.4,238.2 L538.9,236.7 L536.4,235.2 L533.7,233.7 L531.1,232.3 L528.5,230.9 L526.0,229.6 L523.8,228.4 L521.8,227.4 L520.2,226.5 L518.9,225.8 L517.9,225.2 L517.1,224.8 L516.4,224.5 L515.9,224.2 L515.6,224.0 L515.3,223.9 L515.0,223.7 L514.9,223.7 L514.6,223.5 L512.4,223.0 L510.1,223.7 L508.5,225.4 L508.0,227.6 L508.7,229.9 Z" fill="#fff"/><ellipse cx="516.00" cy="230.00" rx="7.00" ry="5.00" transform="rotate(35 516.00 230.00)" fill="#fff"/></mask></defs>
<g mask="url(#mk7)"><rect x="501.7" y="217.5" width="82.6" height="193.0" fill="#2b2f8f"/><path d="M512.00,228.00 C513.08,229.00 515.25,230.75 518.50,234.00 C521.75,237.25 528.55,242.42 531.50,247.50 C534.45,252.58 535.23,258.27 536.20,264.50 C537.17,270.73 537.50,278.58 537.30,284.90 C537.10,291.22 536.12,296.57 535.00,302.40 C533.88,308.23 532.07,314.55 530.60,319.90 C529.13,325.25 527.38,330.73 526.20,334.50 C525.02,338.27 523.95,341.17 523.50,342.50" pathLength="100" fill="none" stroke="#cc3088" stroke-opacity="0.50" stroke-width="7.20" stroke-dasharray="0 25.09 3.19 300" filter="url(#blurS)"/><path d="M512.50,227.50 C513.42,228.00 513.25,227.83 518.00,230.50 C522.75,233.17 534.42,239.17 541.00,243.50 C547.58,247.83 552.68,251.53 557.50,256.50 C562.32,261.47 567.10,267.58 569.90,273.30 C572.70,279.02 574.05,284.98 574.30,290.80 C574.55,296.62 572.85,302.38 571.40,308.20 C569.95,314.02 568.27,320.35 565.60,325.70 C562.93,331.05 559.05,334.95 555.40,340.30 C551.75,345.65 547.35,351.97 543.70,357.80 C540.05,363.63 536.42,369.97 533.50,375.30 C530.58,380.63 528.63,385.60 526.20,389.80 C523.77,394.00 521.08,399.03 518.90,400.50 C516.72,401.97 514.30,400.77 513.10,398.60 C511.90,396.43 511.93,389.35 511.70,387.50" pathLength="100" fill="none" stroke="#cc3088" stroke-opacity="0.85" stroke-width="7.60" stroke-dasharray="0 48.13 6.79 300" filter="url(#blurS)"/><path d="M512.50,227.50 C513.42,228.00 513.25,227.83 518.00,230.50 C522.75,233.17 534.42,239.17 541.00,243.50 C547.58,247.83 552.68,251.53 557.50,256.50 C562.32,261.47 567.10,267.58 569.90,273.30 C572.70,279.02 574.05,284.98 574.30,290.80 C574.55,296.62 572.85,302.38 571.40,308.20 C569.95,314.02 568.27,320.35 565.60,325.70 C562.93,331.05 559.05,334.95 555.40,340.30 C551.75,345.65 547.35,351.97 543.70,357.80 C540.05,363.63 536.42,369.97 533.50,375.30 C530.58,380.63 528.63,385.60 526.20,389.80 C523.77,394.00 521.08,399.03 518.90,400.50 C516.72,401.97 514.30,400.77 513.10,398.60 C511.90,396.43 511.93,389.35 511.70,387.50" pathLength="100" fill="none" stroke="#e4436f" stroke-opacity="0.50" stroke-width="7.60" stroke-dasharray="0 47.60 2.55 300" filter="url(#blurS)"/><path d="M512.50,227.50 C513.42,228.00 513.25,227.83 518.00,230.50 C522.75,233.17 534.42,239.17 541.00,243.50 C547.58,247.83 552.68,251.53 557.50,256.50 C562.32,261.47 567.10,267.58 569.90,273.30 C572.70,279.02 574.05,284.98 574.30,290.80 C574.55,296.62 572.85,302.38 571.40,308.20 C569.95,314.02 568.27,320.35 565.60,325.70 C562.93,331.05 559.05,334.95 555.40,340.30 C551.75,345.65 547.35,351.97 543.70,357.80 C540.05,363.63 536.42,369.97 533.50,375.30 C530.58,380.63 528.63,385.60 526.20,389.80 C523.77,394.00 521.08,399.03 518.90,400.50 C516.72,401.97 514.30,400.77 513.10,398.60 C511.90,396.43 511.93,389.35 511.70,387.50" pathLength="100" fill="none" stroke="#cc3088" stroke-opacity="0.80" stroke-width="7.60" stroke-dasharray="0 85.18 2.12 300" filter="url(#blurS)"/></g>
<path d="M519.2,234.7a1.2,1.2 0 1,0 2.4,0a1.2,1.2 0 1,0 -2.4,0M534.8,276.8a1.2,1.2 0 1,0 2.4,0a1.2,1.2 0 1,0 -2.4,0M525.3,331.5a1.2,1.2 0 1,0 2.4,0a1.2,1.2 0 1,0 -2.4,0M522.9,339.3a1.2,1.2 0 1,0 2.4,0a1.2,1.2 0 1,0 -2.4,0M534.2,296.5a1.2,1.2 0 1,0 2.4,0a1.2,1.2 0 1,0 -2.4,0M515.8,233.7a1.2,1.2 0 1,0 2.4,0a1.2,1.2 0 1,0 -2.4,0M535.6,295.4a1.2,1.2 0 1,0 2.4,0a1.2,1.2 0 1,0 -2.4,0M534.6,290.5a1.2,1.2 0 1,0 2.4,0a1.2,1.2 0 1,0 -2.4,0M535.8,279.3a1.2,1.2 0 1,0 2.4,0a1.2,1.2 0 1,0 -2.4,0M534.2,256.6a1.2,1.2 0 1,0 2.4,0a1.2,1.2 0 1,0 -2.4,0M527.6,329.1a1.2,1.2 0 1,0 2.4,0a1.2,1.2 0 1,0 -2.4,0M527.5,244.7a1.2,1.2 0 1,0 2.4,0a1.2,1.2 0 1,0 -2.4,0M537.2,275.0a1.2,1.2 0 1,0 2.4,0a1.2,1.2 0 1,0 -2.4,0M534.3,301.7a1.2,1.2 0 1,0 2.4,0a1.2,1.2 0 1,0 -2.4,0M535.8,291.8a1.2,1.2 0 1,0 2.4,0a1.2,1.2 0 1,0 -2.4,0M535.9,285.4a1.2,1.2 0 1,0 2.4,0a1.2,1.2 0 1,0 -2.4,0M536.7,268.6a1.2,1.2 0 1,0 2.4,0a1.2,1.2 0 1,0 -2.4,0M526.3,244.4a1.2,1.2 0 1,0 2.4,0a1.2,1.2 0 1,0 -2.4,0M537.0,287.8a1.2,1.2 0 1,0 2.4,0a1.2,1.2 0 1,0 -2.4,0M528.1,326.2a1.2,1.2 0 1,0 2.4,0a1.2,1.2 0 1,0 -2.4,0M519.5,236.2a1.2,1.2 0 1,0 2.4,0a1.2,1.2 0 1,0 -2.4,0M532.0,251.0a1.2,1.2 0 1,0 2.4,0a1.2,1.2 0 1,0 -2.4,0M536.6,288.5a1.2,1.2 0 1,0 2.4,0a1.2,1.2 0 1,0 -2.4,0M536.7,290.9a1.2,1.2 0 1,0 2.4,0a1.2,1.2 0 1,0 -2.4,0M535.9,283.3a1.2,1.2 0 1,0 2.4,0a1.2,1.2 0 1,0 -2.4,0M518.5,234.5a1.2,1.2 0 1,0 2.4,0a1.2,1.2 0 1,0 -2.4,0M517.8,234.0a1.2,1.2 0 1,0 2.4,0a1.2,1.2 0 1,0 -2.4,0M527.5,326.2a1.2,1.2 0 1,0 2.4,0a1.2,1.2 0 1,0 -2.4,0M532.0,308.1a1.2,1.2 0 1,0 2.4,0a1.2,1.2 0 1,0 -2.4,0M520.0,239.3a1.2,1.2 0 1,0 2.4,0a1.2,1.2 0 1,0 -2.4,0M533.2,309.3a1.2,1.2 0 1,0 2.4,0a1.2,1.2 0 1,0 -2.4,0M529.0,322.3a1.2,1.2 0 1,0 2.4,0a1.2,1.2 0 1,0 -2.4,0M525.3,243.8a1.2,1.2 0 1,0 2.4,0a1.2,1.2 0 1,0 -2.4,0M535.1,289.5a1.2,1.2 0 1,0 2.4,0a1.2,1.2 0 1,0 -2.4,0M522.7,240.4a1.2,1.2 0 1,0 2.4,0a1.2,1.2 0 1,0 -2.4,0M517.0,231.9a1.2,1.2 0 1,0 2.4,0a1.2,1.2 0 1,0 -2.4,0M536.6,265.5a1.2,1.2 0 1,0 2.4,0a1.2,1.2 0 1,0 -2.4,0M536.1,293.5a1.2,1.2 0 1,0 2.4,0a1.2,1.2 0 1,0 -2.4,0M533.1,256.9a1.2,1.2 0 1,0 2.4,0a1.2,1.2 0 1,0 -2.4,0M534.8,272.5a1.2,1.2 0 1,0 2.4,0a1.2,1.2 0 1,0 -2.4,0M534.0,296.6a1.2,1.2 0 1,0 2.4,0a1.2,1.2 0 1,0 -2.4,0M534.8,289.4a1.2,1.2 0 1,0 2.4,0a1.2,1.2 0 1,0 -2.4,0M527.9,327.3a1.2,1.2 0 1,0 2.4,0a1.2,1.2 0 1,0 -2.4,0M531.9,312.1a1.2,1.2 0 1,0 2.4,0a1.2,1.2 0 1,0 -2.4,0M530.6,314.1a1.2,1.2 0 1,0 2.4,0a1.2,1.2 0 1,0 -2.4,0M529.6,321.9a1.2,1.2 0 1,0 2.4,0a1.2,1.2 0 1,0 -2.4,0M534.5,265.9a1.2,1.2 0 1,0 2.4,0a1.2,1.2 0 1,0 -2.4,0M524.1,336.2a1.2,1.2 0 1,0 2.4,0a1.2,1.2 0 1,0 -2.4,0M514.5,232.0a1.2,1.2 0 1,0 2.4,0a1.2,1.2 0 1,0 -2.4,0M519.8,236.6a1.2,1.2 0 1,0 2.4,0a1.2,1.2 0 1,0 -2.4,0M530.4,319.2a1.2,1.2 0 1,0 2.4,0a1.2,1.2 0 1,0 -2.4,0M525.0,333.6a1.2,1.2 0 1,0 2.4,0a1.2,1.2 0 1,0 -2.4,0M533.1,251.0a1.2,1.2 0 1,0 2.4,0a1.2,1.2 0 1,0 -2.4,0M535.1,275.1a1.2,1.2 0 1,0 2.4,0a1.2,1.2 0 1,0 -2.4,0M536.5,292.0a1.2,1.2 0 1,0 2.4,0a1.2,1.2 0 1,0 -2.4,0M514.1,228.2a1.2,1.2 0 1,0 2.4,0a1.2,1.2 0 1,0 -2.4,0M530.4,318.8a1.2,1.2 0 1,0 2.4,0a1.2,1.2 0 1,0 -2.4,0M536.4,288.5a1.2,1.2 0 1,0 2.4,0a1.2,1.2 0 1,0 -2.4,0M533.6,305.0a1.2,1.2 0 1,0 2.4,0a1.2,1.2 0 1,0 -2.4,0M523.1,241.3a1.2,1.2 0 1,0 2.4,0a1.2,1.2 0 1,0 -2.4,0M535.6,286.5a1.2,1.2 0 1,0 2.4,0a1.2,1.2 0 1,0 -2.4,0M528.7,319.3a1.2,1.2 0 1,0 2.4,0a1.2,1.2 0 1,0 -2.4,0M512.7,228.5a1.2,1.2 0 1,0 2.4,0a1.2,1.2 0 1,0 -2.4,0M524.7,240.8a1.2,1.2 0 1,0 2.4,0a1.2,1.2 0 1,0 -2.4,0M526.7,327.2a1.2,1.2 0 1,0 2.4,0a1.2,1.2 0 1,0 -2.4,0M515.2,229.8a1.2,1.2 0 1,0 2.4,0a1.2,1.2 0 1,0 -2.4,0M528.8,320.7a1.2,1.2 0 1,0 2.4,0a1.2,1.2 0 1,0 -2.4,0M535.6,268.2a1.2,1.2 0 1,0 2.4,0a1.2,1.2 0 1,0 -2.4,0M524.4,242.4a1.2,1.2 0 1,0 2.4,0a1.2,1.2 0 1,0 -2.4,0M534.4,268.5a1.2,1.2 0 1,0 2.4,0a1.2,1.2 0 1,0 -2.4,0M556.7,338.5a1.2,1.2 0 1,0 2.4,0a1.2,1.2 0 1,0 -2.4,0M571.0,275.5a1.2,1.2 0 1,0 2.4,0a1.2,1.2 0 1,0 -2.4,0M521.8,395.1a1.2,1.2 0 1,0 2.4,0a1.2,1.2 0 1,0 -2.4,0M521.4,230.5a1.2,1.2 0 1,0 2.4,0a1.2,1.2 0 1,0 -2.4,0M572.2,283.0a1.2,1.2 0 1,0 2.4,0a1.2,1.2 0 1,0 -2.4,0M561.0,331.7a1.2,1.2 0 1,0 2.4,0a1.2,1.2 0 1,0 -2.4,0M573.6,280.9a1.2,1.2 0 1,0 2.4,0a1.2,1.2 0 1,0 -2.4,0M560.8,332.2a1.2,1.2 0 1,0 2.4,0a1.2,1.2 0 1,0 -2.4,0M515.7,229.6a1.2,1.2 0 1,0 2.4,0a1.2,1.2 0 1,0 -2.4,0M509.6,390.8a1.2,1.2 0 1,0 2.4,0a1.2,1.2 0 1,0 -2.4,0M540.6,245.4a1.2,1.2 0 1,0 2.4,0a1.2,1.2 0 1,0 -2.4,0M564.1,263.8a1.2,1.2 0 1,0 2.4,0a1.2,1.2 0 1,0 -2.4,0M561.8,330.0a1.2,1.2 0 1,0 2.4,0a1.2,1.2 0 1,0 -2.4,0M512.6,397.3a1.2,1.2 0 1,0 2.4,0a1.2,1.2 0 1,0 -2.4,0M518.2,231.7a1.2,1.2 0 1,0 2.4,0a1.2,1.2 0 1,0 -2.4,0M535.0,369.3a1.2,1.2 0 1,0 2.4,0a1.2,1.2 0 1,0 -2.4,0M534.9,370.2a1.2,1.2 0 1,0 2.4,0a1.2,1.2 0 1,0 -2.4,0M553.0,342.7a1.2,1.2 0 1,0 2.4,0a1.2,1.2 0 1,0 -2.4,0M563.2,267.0a1.2,1.2 0 1,0 2.4,0a1.2,1.2 0 1,0 -2.4,0M523.7,390.5a1.2,1.2 0 1,0 2.4,0a1.2,1.2 0 1,0 -2.4,0M546.9,351.8a1.2,1.2 0 1,0 2.4,0a1.2,1.2 0 1,0 -2.4,0M536.0,367.8a1.2,1.2 0 1,0 2.4,0a1.2,1.2 0 1,0 -2.4,0M567.4,317.1a1.2,1.2 0 1,0 2.4,0a1.2,1.2 0 1,0 -2.4,0M571.3,280.7a1.2,1.2 0 1,0 2.4,0a1.2,1.2 0 1,0 -2.4,0M574.6,293.6a1.2,1.2 0 1,0 2.4,0a1.2,1.2 0 1,0 -2.4,0M571.3,277.4a1.2,1.2 0 1,0 2.4,0a1.2,1.2 0 1,0 -2.4,0M510.6,390.2a1.2,1.2 0 1,0 2.4,0a1.2,1.2 0 1,0 -2.4,0M573.4,284.3a1.2,1.2 0 1,0 2.4,0a1.2,1.2 0 1,0 -2.4,0M558.0,257.1a1.2,1.2 0 1,0 2.4,0a1.2,1.2 0 1,0 -2.4,0M541.0,240.3a1.2,1.2 0 1,0 2.4,0a1.2,1.2 0 1,0 -2.4,0M524.7,390.5a1.2,1.2 0 1,0 2.4,0a1.2,1.2 0 1,0 -2.4,0M571.4,302.7a1.2,1.2 0 1,0 2.4,0a1.2,1.2 0 1,0 -2.4,0M568.4,269.5a1.2,1.2 0 1,0 2.4,0a1.2,1.2 0 1,0 -2.4,0M525.7,233.8a1.2,1.2 0 1,0 2.4,0a1.2,1.2 0 1,0 -2.4,0M566.9,272.0a1.2,1.2 0 1,0 2.4,0a1.2,1.2 0 1,0 -2.4,0M563.0,325.9a1.2,1.2 0 1,0 2.4,0a1.2,1.2 0 1,0 -2.4,0M569.1,279.0a1.2,1.2 0 1,0 2.4,0a1.2,1.2 0 1,0 -2.4,0M560.7,333.4a1.2,1.2 0 1,0 2.4,0a1.2,1.2 0 1,0 -2.4,0M547.3,249.3a1.2,1.2 0 1,0 2.4,0a1.2,1.2 0 1,0 -2.4,0M510.3,390.5a1.2,1.2 0 1,0 2.4,0a1.2,1.2 0 1,0 -2.4,0M535.2,370.4a1.2,1.2 0 1,0 2.4,0a1.2,1.2 0 1,0 -2.4,0M525.6,390.3a1.2,1.2 0 1,0 2.4,0a1.2,1.2 0 1,0 -2.4,0M564.6,264.3a1.2,1.2 0 1,0 2.4,0a1.2,1.2 0 1,0 -2.4,0M517.2,228.2a1.2,1.2 0 1,0 2.4,0a1.2,1.2 0 1,0 -2.4,0M561.7,264.2a1.2,1.2 0 1,0 2.4,0a1.2,1.2 0 1,0 -2.4,0M555.1,254.5a1.2,1.2 0 1,0 2.4,0a1.2,1.2 0 1,0 -2.4,0M551.1,252.5a1.2,1.2 0 1,0 2.4,0a1.2,1.2 0 1,0 -2.4,0M525.2,388.9a1.2,1.2 0 1,0 2.4,0a1.2,1.2 0 1,0 -2.4,0M550.0,252.6a1.2,1.2 0 1,0 2.4,0a1.2,1.2 0 1,0 -2.4,0M511.5,396.1a1.2,1.2 0 1,0 2.4,0a1.2,1.2 0 1,0 -2.4,0M526.7,238.3a1.2,1.2 0 1,0 2.4,0a1.2,1.2 0 1,0 -2.4,0M524.4,391.6a1.2,1.2 0 1,0 2.4,0a1.2,1.2 0 1,0 -2.4,0M540.5,241.5a1.2,1.2 0 1,0 2.4,0a1.2,1.2 0 1,0 -2.4,0M564.5,323.0a1.2,1.2 0 1,0 2.4,0a1.2,1.2 0 1,0 -2.4,0M551.2,343.0a1.2,1.2 0 1,0 2.4,0a1.2,1.2 0 1,0 -2.4,0M554.3,253.1a1.2,1.2 0 1,0 2.4,0a1.2,1.2 0 1,0 -2.4,0M537.8,365.0a1.2,1.2 0 1,0 2.4,0a1.2,1.2 0 1,0 -2.4,0M572.5,293.4a1.2,1.2 0 1,0 2.4,0a1.2,1.2 0 1,0 -2.4,0M572.4,277.2a1.2,1.2 0 1,0 2.4,0a1.2,1.2 0 1,0 -2.4,0M574.4,295.7a1.2,1.2 0 1,0 2.4,0a1.2,1.2 0 1,0 -2.4,0M554.1,341.1a1.2,1.2 0 1,0 2.4,0a1.2,1.2 0 1,0 -2.4,0M561.0,261.4a1.2,1.2 0 1,0 2.4,0a1.2,1.2 0 1,0 -2.4,0M512.8,231.4a1.2,1.2 0 1,0 2.4,0a1.2,1.2 0 1,0 -2.4,0M561.4,328.4a1.2,1.2 0 1,0 2.4,0a1.2,1.2 0 1,0 -2.4,0M522.6,234.5a1.2,1.2 0 1,0 2.4,0a1.2,1.2 0 1,0 -2.4,0M541.4,360.3a1.2,1.2 0 1,0 2.4,0a1.2,1.2 0 1,0 -2.4,0M531.8,236.0a1.2,1.2 0 1,0 2.4,0a1.2,1.2 0 1,0 -2.4,0M539.6,245.5a1.2,1.2 0 1,0 2.4,0a1.2,1.2 0 1,0 -2.4,0M528.9,239.5a1.2,1.2 0 1,0 2.4,0a1.2,1.2 0 1,0 -2.4,0M572.5,297.6a1.2,1.2 0 1,0 2.4,0a1.2,1.2 0 1,0 -2.4,0M559.0,333.6a1.2,1.2 0 1,0 2.4,0a1.2,1.2 0 1,0 -2.4,0M549.5,346.8a1.2,1.2 0 1,0 2.4,0a1.2,1.2 0 1,0 -2.4,0M569.1,276.6a1.2,1.2 0 1,0 2.4,0a1.2,1.2 0 1,0 -2.4,0M560.1,262.4a1.2,1.2 0 1,0 2.4,0a1.2,1.2 0 1,0 -2.4,0M536.0,367.8a1.2,1.2 0 1,0 2.4,0a1.2,1.2 0 1,0 -2.4,0M566.8,272.3a1.2,1.2 0 1,0 2.4,0a1.2,1.2 0 1,0 -2.4,0M510.7,392.8a1.2,1.2 0 1,0 2.4,0a1.2,1.2 0 1,0 -2.4,0M563.8,265.6a1.2,1.2 0 1,0 2.4,0a1.2,1.2 0 1,0 -2.4,0M513.3,401.2a1.2,1.2 0 1,0 2.4,0a1.2,1.2 0 1,0 -2.4,0M513.3,228.4a1.2,1.2 0 1,0 2.4,0a1.2,1.2 0 1,0 -2.4,0M549.5,346.2a1.2,1.2 0 1,0 2.4,0a1.2,1.2 0 1,0 -2.4,0M570.3,283.8a1.2,1.2 0 1,0 2.4,0a1.2,1.2 0 1,0 -2.4,0M555.3,257.5a1.2,1.2 0 1,0 2.4,0a1.2,1.2 0 1,0 -2.4,0M531.5,234.8a1.2,1.2 0 1,0 2.4,0a1.2,1.2 0 1,0 -2.4,0M540.5,240.4a1.2,1.2 0 1,0 2.4,0a1.2,1.2 0 1,0 -2.4,0M546.5,251.5a1.2,1.2 0 1,0 2.4,0a1.2,1.2 0 1,0 -2.4,0M573.7,283.9a1.2,1.2 0 1,0 2.4,0a1.2,1.2 0 1,0 -2.4,0M546.4,249.9a1.2,1.2 0 1,0 2.4,0a1.2,1.2 0 1,0 -2.4,0M518.4,400.8a1.2,1.2 0 1,0 2.4,0a1.2,1.2 0 1,0 -2.4,0M516.4,232.4a1.2,1.2 0 1,0 2.4,0a1.2,1.2 0 1,0 -2.4,0M556.7,260.8a1.2,1.2 0 1,0 2.4,0a1.2,1.2 0 1,0 -2.4,0M569.9,279.6a1.2,1.2 0 1,0 2.4,0a1.2,1.2 0 1,0 -2.4,0M571.3,306.2a1.2,1.2 0 1,0 2.4,0a1.2,1.2 0 1,0 -2.4,0M521.3,397.5a1.2,1.2 0 1,0 2.4,0a1.2,1.2 0 1,0 -2.4,0M540.7,362.4a1.2,1.2 0 1,0 2.4,0a1.2,1.2 0 1,0 -2.4,0M551.5,344.7a1.2,1.2 0 1,0 2.4,0a1.2,1.2 0 1,0 -2.4,0M526.1,389.5a1.2,1.2 0 1,0 2.4,0a1.2,1.2 0 1,0 -2.4,0M562.7,329.2a1.2,1.2 0 1,0 2.4,0a1.2,1.2 0 1,0 -2.4,0M517.8,399.3a1.2,1.2 0 1,0 2.4,0a1.2,1.2 0 1,0 -2.4,0M554.2,341.4a1.2,1.2 0 1,0 2.4,0a1.2,1.2 0 1,0 -2.4,0M561.1,259.8a1.2,1.2 0 1,0 2.4,0a1.2,1.2 0 1,0 -2.4,0M573.0,300.2a1.2,1.2 0 1,0 2.4,0a1.2,1.2 0 1,0 -2.4,0M551.0,253.6a1.2,1.2 0 1,0 2.4,0a1.2,1.2 0 1,0 -2.4,0M552.0,344.3a1.2,1.2 0 1,0 2.4,0a1.2,1.2 0 1,0 -2.4,0M509.9,388.9a1.2,1.2 0 1,0 2.4,0a1.2,1.2 0 1,0 -2.4,0M562.5,330.6a1.2,1.2 0 1,0 2.4,0a1.2,1.2 0 1,0 -2.4,0M525.0,388.5a1.2,1.2 0 1,0 2.4,0a1.2,1.2 0 1,0 -2.4,0M561.4,264.3a1.2,1.2 0 1,0 2.4,0a1.2,1.2 0 1,0 -2.4,0M530.1,380.5a1.2,1.2 0 1,0 2.4,0a1.2,1.2 0 1,0 -2.4,0M570.2,276.4a1.2,1.2 0 1,0 2.4,0a1.2,1.2 0 1,0 -2.4,0M522.8,394.9a1.2,1.2 0 1,0 2.4,0a1.2,1.2 0 1,0 -2.4,0M546.2,351.8a1.2,1.2 0 1,0 2.4,0a1.2,1.2 0 1,0 -2.4,0M570.9,304.4a1.2,1.2 0 1,0 2.4,0a1.2,1.2 0 1,0 -2.4,0M523.7,393.2a1.2,1.2 0 1,0 2.4,0a1.2,1.2 0 1,0 -2.4,0M523.4,393.2a1.2,1.2 0 1,0 2.4,0a1.2,1.2 0 1,0 -2.4,0M533.9,371.1a1.2,1.2 0 1,0 2.4,0a1.2,1.2 0 1,0 -2.4,0M546.9,251.2a1.2,1.2 0 1,0 2.4,0a1.2,1.2 0 1,0 -2.4,0M510.1,388.7a1.2,1.2 0 1,0 2.4,0a1.2,1.2 0 1,0 -2.4,0M517.6,228.0a1.2,1.2 0 1,0 2.4,0a1.2,1.2 0 1,0 -2.4,0M509.7,393.6a1.2,1.2 0 1,0 2.4,0a1.2,1.2 0 1,0 -2.4,0M520.1,399.0a1.2,1.2 0 1,0 2.4,0a1.2,1.2 0 1,0 -2.4,0M540.3,362.9a1.2,1.2 0 1,0 2.4,0a1.2,1.2 0 1,0 -2.4,0M545.0,248.4a1.2,1.2 0 1,0 2.4,0a1.2,1.2 0 1,0 -2.4,0M530.5,236.7a1.2,1.2 0 1,0 2.4,0a1.2,1.2 0 1,0 -2.4,0M518.2,399.5a1.2,1.2 0 1,0 2.4,0a1.2,1.2 0 1,0 -2.4,0M522.6,392.3a1.2,1.2 0 1,0 2.4,0a1.2,1.2 0 1,0 -2.4,0M519.0,229.7a1.2,1.2 0 1,0 2.4,0a1.2,1.2 0 1,0 -2.4,0M532.8,373.8a1.2,1.2 0 1,0 2.4,0a1.2,1.2 0 1,0 -2.4,0M519.1,231.8a1.2,1.2 0 1,0 2.4,0a1.2,1.2 0 1,0 -2.4,0M557.2,256.8a1.2,1.2 0 1,0 2.4,0a1.2,1.2 0 1,0 -2.4,0M534.6,236.5a1.2,1.2 0 1,0 2.4,0a1.2,1.2 0 1,0 -2.4,0M510.2,389.7a1.2,1.2 0 1,0 2.4,0a1.2,1.2 0 1,0 -2.4,0M524.3,392.4a1.2,1.2 0 1,0 2.4,0a1.2,1.2 0 1,0 -2.4,0M573.5,299.0a1.2,1.2 0 1,0 2.4,0a1.2,1.2 0 1,0 -2.4,0M546.6,352.8a1.2,1.2 0 1,0 2.4,0a1.2,1.2 0 1,0 -2.4,0" fill="#e6f7da" stroke="#2a3a2a" stroke-width="0.55"/>
<text x="-0.20" y="442.50" font-size="14.40" text-anchor="start" font-weight="bold" fill="#000" >c</text>
<rect x="56.50" y="436" width="9" height="8.6" fill="#ffffff" stroke="#3a3a3a" stroke-width="1"/>
<text x="70.30" y="444.30" font-size="10.10" text-anchor="start" font-weight="normal" fill="#231f20" >CTL</text>
<rect x="130.00" y="436" width="9" height="8.6" fill="#88c47e" stroke="#3a3a3a" stroke-width="1"/>
<text x="143.80" y="444.30" font-size="10.10" text-anchor="start" font-weight="normal" fill="#231f20" >TEE</text>
<rect x="205.00" y="436" width="9" height="8.6" fill="#bbbcc0" stroke="#3a3a3a" stroke-width="1"/>
<text x="218.80" y="444.30" font-size="10.10" text-anchor="start" font-weight="normal" fill="#231f20" >SOC</text>
<rect x="277.00" y="436" width="9" height="8.6" fill="#5d6b98" stroke="#3a3a3a" stroke-width="1"/>
<text x="290.80" y="444.30" font-size="10.10" text-anchor="start" font-weight="normal" fill="#231f20" >MME</text>
<line x1="44.9" y1="477.0" x2="44.9" y2="621.5" stroke="#7d7d7d" stroke-width="1.4"/>
<line x1="41.60" y1="621.50" x2="45.60" y2="621.50" stroke="#231f20" stroke-width="1.00" />
<text x="38.20" y="624.80" font-size="10.00" text-anchor="end" font-weight="normal" fill="#231f20" >0</text>
<line x1="41.60" y1="592.50" x2="45.60" y2="592.50" stroke="#231f20" stroke-width="1.00" />
<text x="38.20" y="596.12" font-size="10.00" text-anchor="end" font-weight="normal" fill="#231f20" >200</text>
<line x1="41.60" y1="563.50" x2="45.60" y2="563.50" stroke="#231f20" stroke-width="1.00" />
<text x="38.20" y="567.44" font-size="10.00" text-anchor="end" font-weight="normal" fill="#231f20" >400</text>
<line x1="41.60" y1="535.50" x2="45.60" y2="535.50" stroke="#231f20" stroke-width="1.00" />
<text x="38.20" y="538.76" font-size="10.00" text-anchor="end" font-weight="normal" fill="#231f20" >600</text>
<line x1="41.60" y1="506.50" x2="45.60" y2="506.50" stroke="#231f20" stroke-width="1.00" />
<text x="38.20" y="510.08" font-size="10.00" text-anchor="end" font-weight="normal" fill="#231f20" >800</text>
<line x1="41.60" y1="477.50" x2="45.60" y2="477.50" stroke="#231f20" stroke-width="1.00" />
<text x="38.20" y="481.40" font-size="10.00" text-anchor="end" font-weight="normal" fill="#231f20" >1000</text>
<line x1="41.60" y1="621.50" x2="188.60" y2="621.50" stroke="#231f20" stroke-width="1.00" />
<line x1="191.30" y1="621.50" x2="335.50" y2="621.50" stroke="#231f20" stroke-width="1.00" />
<text transform="translate(10.3,549) rotate(-90)" font-size="10" text-anchor="middle" fill="#231f20">c-fos<tspan font-size="6.5" dy="-3.5">+</tspan><tspan dy="3.5"> cell number/mm</tspan><tspan font-size="6.5" dy="-3.5">2</tspan></text>
<text x="117.00" y="633.20" font-size="10.00" text-anchor="middle" font-weight="normal" fill="#231f20" >dDG</text>
<text x="263.00" y="633.20" font-size="10.00" text-anchor="middle" font-weight="normal" fill="#231f20" >vDG</text>
<rect x="56.60" y="578.00" width="20.70" height="43.20" fill="#ffffff" stroke="#231f20" stroke-width="1"/>
<rect x="90.10" y="566.40" width="20.50" height="54.80" fill="#88c47e" stroke="#231f20" stroke-width="1"/>
<rect x="123.60" y="554.20" width="20.40" height="67.00" fill="#bbbcc0" stroke="#231f20" stroke-width="1"/>
<rect x="157.00" y="525.10" width="20.10" height="96.10" fill="#5d6b98" stroke="#231f20" stroke-width="1"/>
<rect x="203.20" y="594.30" width="20.70" height="26.90" fill="#ffffff" stroke="#231f20" stroke-width="1"/>
<rect x="236.60" y="576.50" width="20.50" height="44.70" fill="#88c47e" stroke="#231f20" stroke-width="1"/>
<rect x="269.80" y="581.20" width="20.40" height="40.00" fill="#bbbcc0" stroke="#231f20" stroke-width="1"/>
<rect x="302.70" y="568.10" width="20.70" height="53.10" fill="#5d6b98" stroke="#231f20" stroke-width="1"/>
<line x1="67.50" y1="573.70" x2="67.50" y2="582.00" stroke="#231f20" stroke-width="1.00" />
<line x1="62.00" y1="573.50" x2="72.00" y2="573.50" stroke="#231f20" stroke-width="1.00" />
<line x1="62.00" y1="582.50" x2="72.00" y2="582.50" stroke="#231f20" stroke-width="1.00" />
<line x1="100.50" y1="559.20" x2="100.50" y2="571.40" stroke="#231f20" stroke-width="1.00" />
<line x1="95.20" y1="559.50" x2="105.60" y2="559.50" stroke="#231f20" stroke-width="1.00" />
<line x1="95.20" y1="571.50" x2="105.60" y2="571.50" stroke="#231f20" stroke-width="1.00" />
<line x1="133.50" y1="548.70" x2="133.50" y2="559.20" stroke="#231f20" stroke-width="1.00" />
<line x1="128.80" y1="548.50" x2="138.60" y2="548.50" stroke="#231f20" stroke-width="1.00" />
<line x1="128.80" y1="559.50" x2="138.60" y2="559.50" stroke="#231f20" stroke-width="1.00" />
<line x1="166.50" y1="516.80" x2="166.50" y2="532.50" stroke="#231f20" stroke-width="1.00" />
<line x1="161.70" y1="516.50" x2="172.10" y2="516.50" stroke="#231f20" stroke-width="1.00" />
<line x1="161.70" y1="532.50" x2="172.10" y2="532.50" stroke="#231f20" stroke-width="1.00" />
<line x1="213.50" y1="591.50" x2="213.50" y2="596.10" stroke="#231f20" stroke-width="1.00" />
<line x1="208.10" y1="591.50" x2="218.70" y2="591.50" stroke="#231f20" stroke-width="1.00" />
<line x1="208.10" y1="596.50" x2="218.70" y2="596.50" stroke="#231f20" stroke-width="1.00" />
<line x1="246.50" y1="571.40" x2="246.50" y2="581.20" stroke="#231f20" stroke-width="1.00" />
<line x1="241.20" y1="571.50" x2="252.00" y2="571.50" stroke="#231f20" stroke-width="1.00" />
<line x1="241.20" y1="581.50" x2="252.00" y2="581.50" stroke="#231f20" stroke-width="1.00" />
<line x1="280.50" y1="577.40" x2="280.50" y2="583.20" stroke="#231f20" stroke-width="1.00" />
<line x1="275.30" y1="577.50" x2="284.70" y2="577.50" stroke="#231f20" stroke-width="1.00" />
<line x1="275.30" y1="583.50" x2="284.70" y2="583.50" stroke="#231f20" stroke-width="1.00" />
<line x1="313.50" y1="562.40" x2="313.50" y2="572.70" stroke="#231f20" stroke-width="1.00" />
<line x1="308.10" y1="562.50" x2="318.70" y2="562.50" stroke="#231f20" stroke-width="1.00" />
<line x1="308.10" y1="572.50" x2="318.70" y2="572.50" stroke="#231f20" stroke-width="1.00" />
<circle cx="67.10" cy="563.30" r="2.35" fill="#fff" stroke="#231f20" stroke-width="0.9"/>
<circle cx="62.60" cy="575.60" r="2.35" fill="#fff" stroke="#231f20" stroke-width="0.9"/>
<circle cx="71.20" cy="575.60" r="2.35" fill="#fff" stroke="#231f20" stroke-width="0.9"/>
<circle cx="66.90" cy="581.40" r="2.35" fill="#fff" stroke="#231f20" stroke-width="0.9"/>
<circle cx="60.90" cy="585.60" r="2.35" fill="#fff" stroke="#231f20" stroke-width="0.9"/>
<circle cx="73.60" cy="583.60" r="2.35" fill="#fff" stroke="#231f20" stroke-width="0.9"/>
<circle cx="100.30" cy="549.60" r="2.35" fill="#fff" stroke="#231f20" stroke-width="0.9"/>
<circle cx="95.30" cy="555.80" r="2.35" fill="#fff" stroke="#231f20" stroke-width="0.9"/>
<circle cx="105.40" cy="556.90" r="2.35" fill="#fff" stroke="#231f20" stroke-width="0.9"/>
<circle cx="100.30" cy="564.60" r="2.35" fill="#fff" stroke="#231f20" stroke-width="0.9"/>
<circle cx="100.30" cy="578.00" r="2.35" fill="#fff" stroke="#231f20" stroke-width="0.9"/>
<circle cx="100.30" cy="588.70" r="2.35" fill="#fff" stroke="#231f20" stroke-width="0.9"/>
<circle cx="133.40" cy="531.20" r="2.35" fill="#fff" stroke="#231f20" stroke-width="0.9"/>
<circle cx="127.20" cy="555.00" r="2.35" fill="#fff" stroke="#231f20" stroke-width="0.9"/>
<circle cx="139.90" cy="555.00" r="2.35" fill="#fff" stroke="#231f20" stroke-width="0.9"/>
<circle cx="133.40" cy="550.90" r="2.35" fill="#fff" stroke="#231f20" stroke-width="0.9"/>
<circle cx="129.20" cy="566.10" r="2.35" fill="#fff" stroke="#231f20" stroke-width="0.9"/>
<circle cx="138.00" cy="565.40" r="2.35" fill="#fff" stroke="#231f20" stroke-width="0.9"/>
<circle cx="166.90" cy="486.60" r="2.35" fill="#fff" stroke="#231f20" stroke-width="0.9"/>
<circle cx="166.90" cy="512.60" r="2.35" fill="#fff" stroke="#231f20" stroke-width="0.9"/>
<circle cx="166.90" cy="518.20" r="2.35" fill="#fff" stroke="#231f20" stroke-width="0.9"/>
<circle cx="162.10" cy="530.20" r="2.35" fill="#fff" stroke="#231f20" stroke-width="0.9"/>
<circle cx="171.80" cy="530.20" r="2.35" fill="#fff" stroke="#231f20" stroke-width="0.9"/>
<circle cx="166.90" cy="544.00" r="2.35" fill="#fff" stroke="#231f20" stroke-width="0.9"/>
<circle cx="166.90" cy="550.60" r="2.35" fill="#fff" stroke="#231f20" stroke-width="0.9"/>
<circle cx="213.40" cy="585.80" r="2.35" fill="#fff" stroke="#231f20" stroke-width="0.9"/>
<circle cx="206.90" cy="591.00" r="2.35" fill="#fff" stroke="#231f20" stroke-width="0.9"/>
<circle cx="220.00" cy="591.00" r="2.35" fill="#fff" stroke="#231f20" stroke-width="0.9"/>
<circle cx="213.40" cy="590.50" r="2.35" fill="#fff" stroke="#231f20" stroke-width="0.9"/>
<circle cx="213.40" cy="596.60" r="2.35" fill="#fff" stroke="#231f20" stroke-width="0.9"/>
<circle cx="213.40" cy="605.50" r="2.35" fill="#fff" stroke="#231f20" stroke-width="0.9"/>
<circle cx="241.90" cy="562.30" r="2.35" fill="#fff" stroke="#231f20" stroke-width="0.9"/>
<circle cx="251.70" cy="564.60" r="2.35" fill="#fff" stroke="#231f20" stroke-width="0.9"/>
<circle cx="251.70" cy="575.60" r="2.35" fill="#fff" stroke="#231f20" stroke-width="0.9"/>
<circle cx="241.70" cy="579.10" r="2.35" fill="#fff" stroke="#231f20" stroke-width="0.9"/>
<circle cx="251.70" cy="582.40" r="2.35" fill="#fff" stroke="#231f20" stroke-width="0.9"/>
<circle cx="246.80" cy="593.50" r="2.35" fill="#fff" stroke="#231f20" stroke-width="0.9"/>
<circle cx="284.90" cy="570.40" r="2.35" fill="#fff" stroke="#231f20" stroke-width="0.9"/>
<circle cx="275.10" cy="574.10" r="2.35" fill="#fff" stroke="#231f20" stroke-width="0.9"/>
<circle cx="284.90" cy="577.70" r="2.35" fill="#fff" stroke="#231f20" stroke-width="0.9"/>
<circle cx="275.10" cy="585.10" r="2.35" fill="#fff" stroke="#231f20" stroke-width="0.9"/>
<circle cx="284.90" cy="585.50" r="2.35" fill="#fff" stroke="#231f20" stroke-width="0.9"/>
<circle cx="280.00" cy="591.60" r="2.35" fill="#fff" stroke="#231f20" stroke-width="0.9"/>
<circle cx="313.30" cy="548.20" r="2.35" fill="#fff" stroke="#231f20" stroke-width="0.9"/>
<circle cx="308.50" cy="559.60" r="2.35" fill="#fff" stroke="#231f20" stroke-width="0.9"/>
<circle cx="318.10" cy="557.50" r="2.35" fill="#fff" stroke="#231f20" stroke-width="0.9"/>
<circle cx="313.30" cy="567.40" r="2.35" fill="#fff" stroke="#231f20" stroke-width="0.9"/>
<circle cx="308.50" cy="574.90" r="2.35" fill="#fff" stroke="#231f20" stroke-width="0.9"/>
<circle cx="318.10" cy="578.30" r="2.35" fill="#fff" stroke="#231f20" stroke-width="0.9"/>
<circle cx="313.30" cy="587.70" r="2.35" fill="#fff" stroke="#231f20" stroke-width="0.9"/>
<line x1="62.00" y1="458.50" x2="172.60" y2="458.50" stroke="#231f20" stroke-width="1.00" />
<line x1="94.80" y1="470.50" x2="172.60" y2="470.50" stroke="#231f20" stroke-width="1.00" />
<line x1="128.00" y1="481.50" x2="172.60" y2="481.50" stroke="#231f20" stroke-width="1.00" />
<path d="M109.40,450.95 L110.23,453.16 L112.59,453.26 L110.74,454.73 L111.37,457.01 L109.40,455.71 L107.43,457.01 L108.06,454.73 L106.21,453.26 L108.57,453.16 Z M117.00,450.95 L117.83,453.16 L120.19,453.26 L118.34,454.73 L118.97,457.01 L117.00,455.71 L115.03,457.01 L115.66,454.73 L113.81,453.26 L116.17,453.16 Z M124.60,450.95 L125.43,453.16 L127.79,453.26 L125.94,454.73 L126.57,457.01 L124.60,455.71 L122.63,457.01 L123.26,454.73 L121.41,453.26 L123.77,453.16 Z " fill="#231f20"/>
<path d="M125.90,461.95 L126.73,464.16 L129.09,464.26 L127.24,465.73 L127.87,468.01 L125.90,466.71 L123.93,468.01 L124.56,465.73 L122.71,464.26 L125.07,464.16 Z M133.50,461.95 L134.33,464.16 L136.69,464.26 L134.84,465.73 L135.47,468.01 L133.50,466.71 L131.53,468.01 L132.16,465.73 L130.31,464.26 L132.67,464.16 Z M141.10,461.95 L141.93,464.16 L144.29,464.26 L142.44,465.73 L143.07,468.01 L141.10,466.71 L139.13,468.01 L139.76,465.73 L137.91,464.26 L140.27,464.16 Z " fill="#231f20"/>
<path d="M150.40,473.25 L151.23,475.46 L153.59,475.56 L151.74,477.03 L152.37,479.31 L150.40,478.01 L148.43,479.31 L149.06,477.03 L147.21,475.56 L149.57,475.46 Z " fill="#231f20"/>
<line x1="208.00" y1="543.50" x2="319.00" y2="543.50" stroke="#231f20" stroke-width="1.00" />
<line x1="208.00" y1="555.50" x2="252.00" y2="555.50" stroke="#231f20" stroke-width="1.00" />
<path d="M259.70,535.25 L260.53,537.46 L262.89,537.56 L261.04,539.03 L261.67,541.31 L259.70,540.01 L257.73,541.31 L258.36,539.03 L256.51,537.56 L258.87,537.46 Z M267.30,535.25 L268.13,537.46 L270.49,537.56 L268.64,539.03 L269.27,541.31 L267.30,540.01 L265.33,541.31 L265.96,539.03 L264.11,537.56 L266.47,537.46 Z " fill="#231f20"/>
<path d="M230.00,547.65 L230.83,549.86 L233.19,549.96 L231.34,551.43 L231.97,553.71 L230.00,552.41 L228.03,553.71 L228.66,551.43 L226.81,549.96 L229.17,549.86 Z " fill="#231f20"/>
<text x="346.40" y="442.80" font-size="14.40" text-anchor="start" font-weight="bold" fill="#000" >d</text>
<line x1="391.80" y1="440.50" x2="405.80" y2="440.50" stroke="#231f20" stroke-width="1.00" />
<circle cx="398.80" cy="440.4" r="4.4" fill="#ffffff" stroke="#231f20" stroke-width="1"/>
<text x="410.00" y="444.20" font-size="10.10" text-anchor="start" font-weight="normal" fill="#231f20" >CTL</text>
<line x1="469.00" y1="440.50" x2="483.00" y2="440.50" stroke="#6cbf6c" stroke-width="1.00" />
<circle cx="476.00" cy="440.4" r="4.4" fill="#7cc576" stroke="#231f20" stroke-width="1"/>
<text x="488.20" y="444.20" font-size="10.10" text-anchor="start" font-weight="normal" fill="#231f20" >TEE</text>
<line x1="548.10" y1="440.50" x2="562.10" y2="440.50" stroke="#aaaaaa" stroke-width="1.00" />
<circle cx="555.10" cy="440.4" r="4.4" fill="#b9babd" stroke="#231f20" stroke-width="1"/>
<text x="565.60" y="444.20" font-size="10.10" text-anchor="start" font-weight="normal" fill="#231f20" >SOC</text>
<line x1="623.30" y1="440.50" x2="637.30" y2="440.50" stroke="#5566a0" stroke-width="1.00" />
<circle cx="630.30" cy="440.4" r="4.4" fill="#5b6ba3" stroke="#231f20" stroke-width="1"/>
<text x="641.20" y="444.20" font-size="10.10" text-anchor="start" font-weight="normal" fill="#231f20" >MME</text>
<line x1="387.50" y1="477.20" x2="387.50" y2="621.80" stroke="#231f20" stroke-width="1.00" />
<line x1="383.90" y1="592.50" x2="387.50" y2="592.50" stroke="#231f20" stroke-width="1.00" />
<text x="380.60" y="596.11" font-size="10.00" text-anchor="end" font-weight="normal" fill="#231f20" >20</text>
<line x1="383.90" y1="563.50" x2="387.50" y2="563.50" stroke="#231f20" stroke-width="1.00" />
<text x="380.60" y="567.32" font-size="10.00" text-anchor="end" font-weight="normal" fill="#231f20" >40</text>
<line x1="383.90" y1="534.50" x2="387.50" y2="534.50" stroke="#231f20" stroke-width="1.00" />
<text x="380.60" y="538.53" font-size="10.00" text-anchor="end" font-weight="normal" fill="#231f20" >60</text>
<line x1="383.90" y1="506.50" x2="387.50" y2="506.50" stroke="#231f20" stroke-width="1.00" />
<text x="380.60" y="509.74" font-size="10.00" text-anchor="end" font-weight="normal" fill="#231f20" >80</text>
<line x1="383.90" y1="477.50" x2="387.50" y2="477.50" stroke="#231f20" stroke-width="1.00" />
<text x="380.60" y="480.95" font-size="10.00" text-anchor="end" font-weight="normal" fill="#231f20" >100</text>
<text x="384.50" y="629.70" font-size="10.00" text-anchor="middle" font-weight="normal" fill="#231f20" >0</text>
<line x1="387.50" y1="621.50" x2="531.90" y2="621.50" stroke="#231f20" stroke-width="1.00" />
<line x1="534.30" y1="621.50" x2="678.50" y2="621.50" stroke="#231f20" stroke-width="1.00" />
<line x1="435.50" y1="621.30" x2="435.50" y2="623.80" stroke="#231f20" stroke-width="1.00" />
<text x="435.40" y="635.60" font-size="10.00" text-anchor="middle" font-weight="normal" fill="#231f20" >0.1</text>
<line x1="483.50" y1="621.30" x2="483.50" y2="623.80" stroke="#231f20" stroke-width="1.00" />
<text x="483.60" y="635.60" font-size="10.00" text-anchor="middle" font-weight="normal" fill="#231f20" >0.2</text>
<line x1="531.50" y1="621.30" x2="531.50" y2="623.80" stroke="#231f20" stroke-width="1.00" />
<text x="531.80" y="635.60" font-size="10.00" text-anchor="middle" font-weight="normal" fill="#231f20" >0.3</text>
<line x1="582.50" y1="621.30" x2="582.50" y2="623.80" stroke="#231f20" stroke-width="1.00" />
<text x="582.60" y="635.60" font-size="10.00" text-anchor="middle" font-weight="normal" fill="#231f20" >0.1</text>
<line x1="630.50" y1="621.30" x2="630.50" y2="623.80" stroke="#231f20" stroke-width="1.00" />
<text x="630.80" y="635.60" font-size="10.00" text-anchor="middle" font-weight="normal" fill="#231f20" >0.2</text>
<line x1="679.50" y1="621.30" x2="679.50" y2="623.80" stroke="#231f20" stroke-width="1.00" />
<text x="679.00" y="635.60" font-size="10.00" text-anchor="middle" font-weight="normal" fill="#231f20" >0.3</text>
<text x="532.60" y="631.50" font-size="10.00" text-anchor="start" font-weight="normal" fill="#231f20" ></text>
<text x="532.80" y="650.20" font-size="10.00" text-anchor="middle" font-weight="normal" fill="#231f20" >Nearest neighbor distance (mm)</text>
<text transform="translate(354.4,549) rotate(-90)" font-size="9.8" text-anchor="middle" fill="#231f20">Cumulative frequency (%)</text>
<text x="459.40" y="474.00" font-size="10.00" text-anchor="middle" font-weight="normal" fill="#231f20" >dDG</text>
<text x="606.00" y="474.00" font-size="10.00" text-anchor="middle" font-weight="normal" fill="#231f20" >vDG</text>
<path d="M390.00,621.30 C391.22,613.42 394.98,589.22 397.30,574.00 C399.62,558.78 402.27,540.28 403.90,530.00 C405.53,519.72 405.65,517.23 407.10,512.30 C408.55,507.37 410.45,504.23 412.60,500.40 C414.75,496.57 417.40,492.07 420.00,489.30 C422.60,486.53 425.13,485.18 428.20,483.80 C431.27,482.42 435.60,481.65 438.40,481.00 C441.20,480.35 439.73,480.33 445.00,479.90 C450.27,479.47 460.83,478.75 470.00,478.40 C479.17,478.05 489.75,477.93 500.00,477.80 C510.25,477.67 526.25,477.63 531.50,477.60" fill="none" stroke="#1a1a1a" stroke-width="1.20" stroke-linejoin="round"/>
<path d="M390.00,621.30 C391.00,613.42 394.23,589.22 396.00,574.00 C397.77,558.78 399.37,540.43 400.60,530.00 C401.83,519.57 402.47,516.50 403.40,511.40 C404.33,506.30 404.97,502.93 406.20,499.40 C407.43,495.87 409.12,492.65 410.80,490.20 C412.48,487.75 414.17,486.23 416.30,484.70 C418.43,483.17 418.82,482.00 423.60,481.00 C428.38,480.00 437.27,479.20 445.00,478.70 C452.73,478.20 455.58,478.18 470.00,478.00 C484.42,477.82 521.25,477.67 531.50,477.60" fill="none" stroke="#c4c4c6" stroke-width="1.00" stroke-linejoin="round"/>
<path d="M390.00,621.30 C390.83,613.42 393.68,589.22 395.00,574.00 C396.32,558.78 397.12,540.43 397.90,530.00 C398.68,519.57 399.08,516.33 399.70,511.40 C400.32,506.47 400.75,503.77 401.60,500.40 C402.45,497.03 403.58,493.82 404.80,491.20 C406.02,488.58 407.13,486.47 408.90,484.70 C410.67,482.93 412.48,481.60 415.40,480.60 C418.32,479.60 421.47,479.08 426.40,478.70 C431.33,478.32 427.48,478.48 445.00,478.30 C462.52,478.12 517.08,477.72 531.50,477.60" fill="none" stroke="#5566a3" stroke-width="1.00" stroke-linejoin="round"/>
<path d="M390.00,621.30 C391.08,613.42 394.50,589.22 396.50,574.00 C398.50,558.78 400.70,540.13 402.00,530.00 C403.30,519.87 403.38,517.98 404.30,513.20 C405.22,508.42 406.12,504.82 407.50,501.30 C408.88,497.78 410.52,494.78 412.60,492.10 C414.68,489.42 417.40,487.05 420.00,485.20 C422.60,483.35 424.03,482.00 428.20,481.00 C432.37,480.00 438.03,479.67 445.00,479.20 C451.97,478.73 455.58,478.48 470.00,478.20 C484.42,477.92 521.25,477.62 531.50,477.50" fill="none" stroke="#7cc576" stroke-width="1.00" stroke-linejoin="round"/>
<path d="M537.60,621.30 C538.42,614.42 540.63,593.55 542.50,580.00 C544.37,566.45 547.12,549.73 548.80,540.00 C550.48,530.27 551.08,527.18 552.60,521.60 C554.12,516.02 555.93,510.62 557.90,506.50 C559.87,502.38 561.88,499.85 564.40,496.90 C566.92,493.95 569.78,490.95 573.00,488.80 C576.22,486.65 579.20,485.35 583.70,484.00 C588.20,482.65 592.28,481.48 600.00,480.70 C607.72,479.92 616.92,479.58 630.00,479.30 C643.08,479.02 670.42,479.05 678.50,479.00" fill="none" stroke="#c4c4c6" stroke-width="1.00" stroke-linejoin="round"/>
<path d="M537.60,621.30 C538.25,614.42 540.00,593.55 541.50,580.00 C543.00,566.45 545.30,549.73 546.60,540.00 C547.90,530.27 548.13,527.00 549.30,521.60 C550.47,516.20 551.98,511.72 553.60,507.60 C555.22,503.48 557.03,500.03 559.00,496.90 C560.97,493.77 562.53,491.05 565.40,488.80 C568.27,486.55 572.08,484.75 576.20,483.40 C580.32,482.05 586.13,481.28 590.10,480.70 C594.07,480.12 593.35,480.13 600.00,479.90 C606.65,479.67 616.92,479.45 630.00,479.30 C643.08,479.15 670.42,479.05 678.50,479.00" fill="none" stroke="#5566a3" stroke-width="1.00" stroke-linejoin="round"/>
<path d="M537.60,621.30 C538.33,614.42 540.32,593.55 542.00,580.00 C543.68,566.45 546.22,549.73 547.70,540.00 C549.18,530.27 549.55,527.00 550.90,521.60 C552.25,516.20 554.10,511.55 555.80,507.60 C557.50,503.65 558.95,500.85 561.10,497.90 C563.25,494.95 565.65,492.13 568.70,489.90 C571.75,487.67 575.83,486.03 579.40,484.50 C582.97,482.97 586.67,481.47 590.10,480.70 C593.53,479.93 593.35,480.15 600.00,479.90 C606.65,479.65 616.92,479.35 630.00,479.20 C643.08,479.05 670.42,479.03 678.50,479.00" fill="none" stroke="#7cc576" stroke-width="1.00" stroke-linejoin="round"/>
<path d="M537.60,621.30 C538.58,616.08 541.60,600.38 543.50,590.00 C545.40,579.62 547.40,567.33 549.00,559.00 C550.60,550.67 551.62,546.23 553.10,540.00 C554.58,533.77 556.20,527.00 557.90,521.60 C559.60,516.20 561.50,510.83 563.30,507.60 C565.10,504.37 566.73,504.27 568.70,502.20 C570.67,500.13 572.60,497.25 575.10,495.20 C577.60,493.15 580.83,491.33 583.70,489.90 C586.57,488.47 589.58,487.42 592.30,486.60 C595.02,485.78 595.38,485.68 600.00,485.00 C604.62,484.32 611.67,483.25 620.00,482.50 C628.33,481.75 640.25,481.03 650.00,480.50 C659.75,479.97 673.75,479.50 678.50,479.30" fill="none" stroke="#1a1a1a" stroke-width="1.20" stroke-linejoin="round"/>
<line x1="445.50" y1="523.40" x2="445.50" y2="610.70" stroke="#333" stroke-width="0.90" />
<line x1="445.30" y1="610.50" x2="531.70" y2="610.50" stroke="#333" stroke-width="0.90" />
<line x1="442.80" y1="610.50" x2="445.30" y2="610.50" stroke="#333" stroke-width="0.90" />
<text x="441.30" y="612.60" font-size="6.80" text-anchor="end" font-weight="normal" fill="#231f20" >0</text>
<line x1="442.80" y1="581.50" x2="445.30" y2="581.50" stroke="#333" stroke-width="0.90" />
<text x="441.30" y="583.70" font-size="6.80" text-anchor="end" font-weight="normal" fill="#231f20" >0.2</text>
<line x1="442.80" y1="552.50" x2="445.30" y2="552.50" stroke="#333" stroke-width="0.90" />
<text x="441.30" y="554.80" font-size="6.80" text-anchor="end" font-weight="normal" fill="#231f20" >0.4</text>
<line x1="442.80" y1="523.50" x2="445.30" y2="523.50" stroke="#333" stroke-width="0.90" />
<text x="441.30" y="525.90" font-size="6.80" text-anchor="end" font-weight="normal" fill="#231f20" >0.6</text>
<text transform="translate(426.70,566.2) rotate(-90)" font-size="6.75" text-anchor="middle" fill="#231f20">Nearest neighbor distance (mm)</text>
<path d="M451.00,609.70 L449.30,608.90 L449.20,607.70 L450.00,606.70 L452.00,605.20 L453.60,603.20 L454.60,600.70 L455.30,597.70 L455.75,593.70 L456.05,587.70 L456.18,579.70 L456.18,579.70 L457.02,579.70 L457.02,579.70 L457.15,587.70 L457.45,593.70 L457.90,597.70 L458.60,600.70 L459.60,603.20 L461.20,605.20 L463.20,606.70 L464.00,607.70 L463.90,608.90 L462.20,609.70 Z" fill="#4a4a4a" opacity="0.92"/>
<line x1="456.60" y1="579.70" x2="456.60" y2="571.19" stroke="#4a4a4a" stroke-width="0.7" stroke-dasharray="0.8 1.8 0.7 3 0.8 4.5 0.6 5" opacity="0.55"/>
<line x1="450.10" y1="607.10" x2="463.10" y2="607.10" stroke="#111" stroke-width="0.7" opacity="0.7"/>
<rect x="456.26" y="605.02" width="0.8" height="0.7" fill="#fff" opacity="0.55"/>
<rect x="459.61" y="605.56" width="0.8" height="0.7" fill="#fff" opacity="0.55"/>
<rect x="460.09" y="605.18" width="0.8" height="0.7" fill="#fff" opacity="0.55"/>
<rect x="452.45" y="607.43" width="0.8" height="0.7" fill="#fff" opacity="0.55"/>
<rect x="453.07" y="607.22" width="0.8" height="0.7" fill="#fff" opacity="0.55"/>
<rect x="459.51" y="605.98" width="0.8" height="0.7" fill="#fff" opacity="0.55"/>
<rect x="458.51" y="608.52" width="0.8" height="0.7" fill="#fff" opacity="0.55"/>
<rect x="457.76" y="607.90" width="0.8" height="0.7" fill="#fff" opacity="0.55"/>
<rect x="453.33" y="605.04" width="0.8" height="0.7" fill="#fff" opacity="0.55"/>
<rect x="461.35" y="609.09" width="0.8" height="0.7" fill="#fff" opacity="0.55"/>
<rect x="454.85" y="607.98" width="0.8" height="0.7" fill="#fff" opacity="0.55"/>
<rect x="455.38" y="608.30" width="0.8" height="0.7" fill="#fff" opacity="0.55"/>
<rect x="454.25" y="605.31" width="0.8" height="0.7" fill="#fff" opacity="0.55"/>
<rect x="459.19" y="606.67" width="0.8" height="0.7" fill="#fff" opacity="0.55"/>
<rect x="451.24" y="607.09" width="0.8" height="0.7" fill="#fff" opacity="0.55"/>
<rect x="451.92" y="606.44" width="0.8" height="0.7" fill="#fff" opacity="0.55"/>
<rect x="454.80" y="607.05" width="0.8" height="0.7" fill="#fff" opacity="0.55"/>
<rect x="459.96" y="606.40" width="0.8" height="0.7" fill="#fff" opacity="0.55"/>
<path d="M472.30,609.70 L470.60,608.90 L470.50,607.70 L471.30,606.70 L473.30,605.20 L474.90,603.20 L475.90,600.70 L476.60,597.70 L477.05,593.70 L477.35,587.70 L477.48,579.70 L477.48,579.70 L478.32,579.70 L478.32,579.70 L478.45,587.70 L478.75,593.70 L479.20,597.70 L479.90,600.70 L480.90,603.20 L482.50,605.20 L484.50,606.70 L485.30,607.70 L485.20,608.90 L483.50,609.70 Z" fill="#2f6b2f" opacity="0.92"/>
<line x1="477.90" y1="579.70" x2="477.90" y2="566.85" stroke="#2f6b2f" stroke-width="0.7" stroke-dasharray="0.8 1.8 0.7 3 0.8 4.5 0.6 5" opacity="0.55"/>
<line x1="471.40" y1="607.10" x2="484.40" y2="607.10" stroke="#111" stroke-width="0.7" opacity="0.7"/>
<rect x="473.47" y="608.02" width="0.8" height="0.7" fill="#fff" opacity="0.55"/>
<rect x="473.80" y="607.59" width="0.8" height="0.7" fill="#fff" opacity="0.55"/>
<rect x="475.22" y="606.81" width="0.8" height="0.7" fill="#fff" opacity="0.55"/>
<rect x="481.86" y="608.15" width="0.8" height="0.7" fill="#fff" opacity="0.55"/>
<rect x="479.30" y="608.19" width="0.8" height="0.7" fill="#fff" opacity="0.55"/>
<rect x="474.56" y="609.06" width="0.8" height="0.7" fill="#fff" opacity="0.55"/>
<rect x="482.88" y="606.34" width="0.8" height="0.7" fill="#fff" opacity="0.55"/>
<rect x="481.98" y="607.34" width="0.8" height="0.7" fill="#fff" opacity="0.55"/>
<rect x="481.47" y="608.73" width="0.8" height="0.7" fill="#fff" opacity="0.55"/>
<rect x="476.68" y="605.55" width="0.8" height="0.7" fill="#fff" opacity="0.55"/>
<rect x="478.71" y="606.40" width="0.8" height="0.7" fill="#fff" opacity="0.55"/>
<rect x="480.61" y="606.91" width="0.8" height="0.7" fill="#fff" opacity="0.55"/>
<rect x="475.52" y="606.76" width="0.8" height="0.7" fill="#fff" opacity="0.55"/>
<rect x="477.86" y="606.61" width="0.8" height="0.7" fill="#fff" opacity="0.55"/>
<rect x="476.98" y="606.77" width="0.8" height="0.7" fill="#fff" opacity="0.55"/>
<rect x="474.41" y="606.33" width="0.8" height="0.7" fill="#fff" opacity="0.55"/>
<rect x="475.04" y="607.86" width="0.8" height="0.7" fill="#fff" opacity="0.55"/>
<rect x="477.43" y="605.42" width="0.8" height="0.7" fill="#fff" opacity="0.55"/>
<path d="M493.90,609.70 L492.20,608.90 L492.10,607.70 L492.90,606.70 L494.90,605.20 L496.50,603.20 L497.50,600.70 L498.20,597.70 L498.65,593.70 L498.95,587.70 L499.08,579.70 L499.08,579.70 L499.92,579.70 L499.92,579.70 L500.05,587.70 L500.35,593.70 L500.80,597.70 L501.50,600.70 L502.50,603.20 L504.10,605.20 L506.10,606.70 L506.90,607.70 L506.80,608.90 L505.10,609.70 Z" fill="#3a3a3a" opacity="0.92"/>
<line x1="499.50" y1="579.70" x2="499.50" y2="569.74" stroke="#3a3a3a" stroke-width="0.7" stroke-dasharray="0.8 1.8 0.7 3 0.8 4.5 0.6 5" opacity="0.55"/>
<line x1="493.00" y1="607.10" x2="506.00" y2="607.10" stroke="#111" stroke-width="0.7" opacity="0.7"/>
<rect x="504.55" y="606.32" width="0.8" height="0.7" fill="#fff" opacity="0.55"/>
<rect x="497.24" y="605.82" width="0.8" height="0.7" fill="#fff" opacity="0.55"/>
<rect x="502.07" y="606.11" width="0.8" height="0.7" fill="#fff" opacity="0.55"/>
<rect x="502.25" y="606.23" width="0.8" height="0.7" fill="#fff" opacity="0.55"/>
<rect x="497.00" y="608.74" width="0.8" height="0.7" fill="#fff" opacity="0.55"/>
<rect x="500.86" y="606.73" width="0.8" height="0.7" fill="#fff" opacity="0.55"/>
<rect x="503.92" y="607.89" width="0.8" height="0.7" fill="#fff" opacity="0.55"/>
<rect x="496.43" y="605.87" width="0.8" height="0.7" fill="#fff" opacity="0.55"/>
<rect x="505.10" y="606.64" width="0.8" height="0.7" fill="#fff" opacity="0.55"/>
<rect x="495.85" y="607.44" width="0.8" height="0.7" fill="#fff" opacity="0.55"/>
<rect x="505.26" y="606.80" width="0.8" height="0.7" fill="#fff" opacity="0.55"/>
<rect x="503.89" y="608.33" width="0.8" height="0.7" fill="#fff" opacity="0.55"/>
<rect x="497.92" y="608.45" width="0.8" height="0.7" fill="#fff" opacity="0.55"/>
<rect x="495.79" y="605.04" width="0.8" height="0.7" fill="#fff" opacity="0.55"/>
<rect x="496.09" y="606.57" width="0.8" height="0.7" fill="#fff" opacity="0.55"/>
<rect x="499.79" y="607.92" width="0.8" height="0.7" fill="#fff" opacity="0.55"/>
<rect x="504.24" y="606.86" width="0.8" height="0.7" fill="#fff" opacity="0.55"/>
<rect x="503.24" y="605.10" width="0.8" height="0.7" fill="#fff" opacity="0.55"/>
<path d="M515.60,609.70 L513.90,608.90 L513.80,607.70 L514.60,606.70 L516.60,605.20 L518.20,603.20 L519.20,600.70 L519.90,597.70 L520.35,593.70 L520.65,587.70 L520.78,579.70 L520.78,579.70 L521.62,579.70 L521.62,579.70 L521.75,587.70 L522.05,593.70 L522.50,597.70 L523.20,600.70 L524.20,603.20 L525.80,605.20 L527.80,606.70 L528.60,607.70 L528.50,608.90 L526.80,609.70 Z" fill="#1e2c4e" opacity="0.92"/>
<line x1="521.20" y1="579.70" x2="521.20" y2="574.08" stroke="#1e2c4e" stroke-width="0.7" stroke-dasharray="0.8 1.8 0.7 3 0.8 4.5 0.6 5" opacity="0.55"/>
<line x1="514.70" y1="607.10" x2="527.70" y2="607.10" stroke="#111" stroke-width="0.7" opacity="0.7"/>
<rect x="527.25" y="606.93" width="0.8" height="0.7" fill="#fff" opacity="0.55"/>
<rect x="524.75" y="606.50" width="0.8" height="0.7" fill="#fff" opacity="0.55"/>
<rect x="524.16" y="606.77" width="0.8" height="0.7" fill="#fff" opacity="0.55"/>
<rect x="521.95" y="605.69" width="0.8" height="0.7" fill="#fff" opacity="0.55"/>
<rect x="523.96" y="606.17" width="0.8" height="0.7" fill="#fff" opacity="0.55"/>
<rect x="524.43" y="608.25" width="0.8" height="0.7" fill="#fff" opacity="0.55"/>
<rect x="523.08" y="608.98" width="0.8" height="0.7" fill="#fff" opacity="0.55"/>
<rect x="517.89" y="608.01" width="0.8" height="0.7" fill="#fff" opacity="0.55"/>
<rect x="527.22" y="608.29" width="0.8" height="0.7" fill="#fff" opacity="0.55"/>
<rect x="517.37" y="605.33" width="0.8" height="0.7" fill="#fff" opacity="0.55"/>
<rect x="524.46" y="608.30" width="0.8" height="0.7" fill="#fff" opacity="0.55"/>
<rect x="520.97" y="608.13" width="0.8" height="0.7" fill="#fff" opacity="0.55"/>
<rect x="522.19" y="608.93" width="0.8" height="0.7" fill="#fff" opacity="0.55"/>
<rect x="523.76" y="607.01" width="0.8" height="0.7" fill="#fff" opacity="0.55"/>
<rect x="525.71" y="607.69" width="0.8" height="0.7" fill="#fff" opacity="0.55"/>
<rect x="526.91" y="606.40" width="0.8" height="0.7" fill="#fff" opacity="0.55"/>
<rect x="522.96" y="606.11" width="0.8" height="0.7" fill="#fff" opacity="0.55"/>
<rect x="518.90" y="608.94" width="0.8" height="0.7" fill="#fff" opacity="0.55"/>
<line x1="456.20" y1="528.60" x2="521.10" y2="528.60" stroke="#a4a4a4" stroke-width="1.60" />
<path d="M483.30,522.95 L483.88,524.50 L485.53,524.57 L484.24,525.60 L484.68,527.20 L483.30,526.29 L481.92,527.20 L482.36,525.60 L481.07,524.57 L482.72,524.50 Z M488.80,522.95 L489.38,524.50 L491.03,524.57 L489.74,525.60 L490.18,527.20 L488.80,526.29 L487.42,527.20 L487.86,525.60 L486.57,524.57 L488.22,524.50 Z M494.30,522.95 L494.88,524.50 L496.53,524.57 L495.24,525.60 L495.68,527.20 L494.30,526.29 L492.92,527.20 L493.36,525.60 L492.07,524.57 L493.72,524.50 Z " fill="#2a2a2a"/>
<line x1="456.20" y1="536.50" x2="499.90" y2="536.50" stroke="#222" stroke-width="1.00" />
<path d="M472.20,530.75 L472.78,532.30 L474.43,532.37 L473.14,533.40 L473.58,535.00 L472.20,534.09 L470.82,535.00 L471.26,533.40 L469.97,532.37 L471.62,532.30 Z M477.70,530.75 L478.28,532.30 L479.93,532.37 L478.64,533.40 L479.08,535.00 L477.70,534.09 L476.32,535.00 L476.76,533.40 L475.47,532.37 L477.12,532.30 Z M483.20,530.75 L483.78,532.30 L485.43,532.37 L484.14,533.40 L484.58,535.00 L483.20,534.09 L481.82,535.00 L482.26,533.40 L480.97,532.37 L482.62,532.30 Z " fill="#2a2a2a"/>
<line x1="456.20" y1="543.80" x2="477.90" y2="543.80" stroke="#a4a4a4" stroke-width="1.60" />
<path d="M461.50,538.15 L462.08,539.70 L463.73,539.77 L462.44,540.80 L462.88,542.40 L461.50,541.49 L460.12,542.40 L460.56,540.80 L459.27,539.77 L460.92,539.70 Z M467.00,538.15 L467.58,539.70 L469.23,539.77 L467.94,540.80 L468.38,542.40 L467.00,541.49 L465.62,542.40 L466.06,540.80 L464.77,539.77 L466.42,539.70 Z M472.50,538.15 L473.08,539.70 L474.73,539.77 L473.44,540.80 L473.88,542.40 L472.50,541.49 L471.12,542.40 L471.56,540.80 L470.27,539.77 L471.92,539.70 Z " fill="#2a2a2a"/>
<line x1="499.90" y1="551.90" x2="521.10" y2="551.90" stroke="#a4a4a4" stroke-width="1.60" />
<path d="M505.00,545.95 L505.58,547.50 L507.23,547.57 L505.94,548.60 L506.38,550.20 L505.00,549.29 L503.62,550.20 L504.06,548.60 L502.77,547.57 L504.42,547.50 Z M510.50,545.95 L511.08,547.50 L512.73,547.57 L511.44,548.60 L511.88,550.20 L510.50,549.29 L509.12,550.20 L509.56,548.60 L508.27,547.57 L509.92,547.50 Z M516.00,545.95 L516.58,547.50 L518.23,547.57 L516.94,548.60 L517.38,550.20 L516.00,549.29 L514.62,550.20 L515.06,548.60 L513.77,547.57 L515.42,547.50 Z " fill="#2a2a2a"/>
<line x1="477.90" y1="559.50" x2="499.90" y2="559.50" stroke="#222" stroke-width="1.00" />
<path d="M483.30,553.85 L483.88,555.40 L485.53,555.47 L484.24,556.50 L484.68,558.10 L483.30,557.19 L481.92,558.10 L482.36,556.50 L481.07,555.47 L482.72,555.40 Z M488.80,553.85 L489.38,555.40 L491.03,555.47 L489.74,556.50 L490.18,558.10 L488.80,557.19 L487.42,558.10 L487.86,556.50 L486.57,555.47 L488.22,555.40 Z M494.30,553.85 L494.88,555.40 L496.53,555.47 L495.24,556.50 L495.68,558.10 L494.30,557.19 L492.92,558.10 L493.36,556.50 L492.07,555.47 L493.72,555.40 Z " fill="#2a2a2a"/>
<line x1="477.90" y1="567.00" x2="521.10" y2="567.00" stroke="#a4a4a4" stroke-width="1.60" />
<path d="M494.10,561.25 L494.68,562.80 L496.33,562.87 L495.04,563.90 L495.48,565.50 L494.10,564.59 L492.72,565.50 L493.16,563.90 L491.87,562.87 L493.52,562.80 Z M499.60,561.25 L500.18,562.80 L501.83,562.87 L500.54,563.90 L500.98,565.50 L499.60,564.59 L498.22,565.50 L498.66,563.90 L497.37,562.87 L499.02,562.80 Z M505.10,561.25 L505.68,562.80 L507.33,562.87 L506.04,563.90 L506.48,565.50 L505.10,564.59 L503.72,565.50 L504.16,563.90 L502.87,562.87 L504.52,562.80 Z " fill="#2a2a2a"/>
<line x1="592.50" y1="523.40" x2="592.50" y2="610.70" stroke="#333" stroke-width="0.90" />
<line x1="592.20" y1="610.50" x2="678.80" y2="610.50" stroke="#333" stroke-width="0.90" />
<line x1="589.70" y1="610.50" x2="592.20" y2="610.50" stroke="#333" stroke-width="0.90" />
<text x="588.20" y="612.60" font-size="6.80" text-anchor="end" font-weight="normal" fill="#231f20" >0</text>
<line x1="589.70" y1="581.50" x2="592.20" y2="581.50" stroke="#333" stroke-width="0.90" />
<text x="588.20" y="583.70" font-size="6.80" text-anchor="end" font-weight="normal" fill="#231f20" >0.2</text>
<line x1="589.70" y1="552.50" x2="592.20" y2="552.50" stroke="#333" stroke-width="0.90" />
<text x="588.20" y="554.80" font-size="6.80" text-anchor="end" font-weight="normal" fill="#231f20" >0.4</text>
<line x1="589.70" y1="523.50" x2="592.20" y2="523.50" stroke="#333" stroke-width="0.90" />
<text x="588.20" y="525.90" font-size="6.80" text-anchor="end" font-weight="normal" fill="#231f20" >0.6</text>
<text transform="translate(573.60,566.2) rotate(-90)" font-size="6.75" text-anchor="middle" fill="#231f20">Nearest neighbor distance (mm)</text>
<path d="M597.40,609.70 L595.70,608.90 L595.60,607.70 L596.40,606.70 L598.40,605.20 L600.00,603.20 L601.00,600.70 L601.70,597.70 L602.15,593.70 L602.45,587.70 L602.58,579.70 L602.58,579.70 L603.42,579.70 L603.42,579.70 L603.55,587.70 L603.85,593.70 L604.30,597.70 L605.00,600.70 L606.00,603.20 L607.60,605.20 L609.60,606.70 L610.40,607.70 L610.30,608.90 L608.60,609.70 Z" fill="#4a4a4a" opacity="0.92"/>
<line x1="603.00" y1="579.70" x2="603.00" y2="537.95" stroke="#4a4a4a" stroke-width="0.7" stroke-dasharray="0.8 1.8 0.7 3 0.8 4.5 0.6 5" opacity="0.55"/>
<line x1="596.50" y1="607.10" x2="609.50" y2="607.10" stroke="#111" stroke-width="0.7" opacity="0.7"/>
<rect x="602.93" y="608.83" width="0.8" height="0.7" fill="#fff" opacity="0.55"/>
<rect x="597.15" y="607.86" width="0.8" height="0.7" fill="#fff" opacity="0.55"/>
<rect x="598.61" y="605.58" width="0.8" height="0.7" fill="#fff" opacity="0.55"/>
<rect x="604.50" y="607.87" width="0.8" height="0.7" fill="#fff" opacity="0.55"/>
<rect x="604.64" y="605.60" width="0.8" height="0.7" fill="#fff" opacity="0.55"/>
<rect x="607.81" y="605.57" width="0.8" height="0.7" fill="#fff" opacity="0.55"/>
<rect x="603.64" y="608.56" width="0.8" height="0.7" fill="#fff" opacity="0.55"/>
<rect x="607.33" y="607.84" width="0.8" height="0.7" fill="#fff" opacity="0.55"/>
<rect x="604.62" y="605.69" width="0.8" height="0.7" fill="#fff" opacity="0.55"/>
<rect x="598.67" y="608.51" width="0.8" height="0.7" fill="#fff" opacity="0.55"/>
<rect x="602.58" y="606.40" width="0.8" height="0.7" fill="#fff" opacity="0.55"/>
<rect x="598.38" y="605.55" width="0.8" height="0.7" fill="#fff" opacity="0.55"/>
<rect x="605.55" y="608.19" width="0.8" height="0.7" fill="#fff" opacity="0.55"/>
<rect x="604.23" y="605.96" width="0.8" height="0.7" fill="#fff" opacity="0.55"/>
<rect x="598.36" y="608.27" width="0.8" height="0.7" fill="#fff" opacity="0.55"/>
<rect x="606.27" y="606.59" width="0.8" height="0.7" fill="#fff" opacity="0.55"/>
<rect x="601.97" y="605.23" width="0.8" height="0.7" fill="#fff" opacity="0.55"/>
<rect x="605.03" y="605.55" width="0.8" height="0.7" fill="#fff" opacity="0.55"/>
<path d="M619.00,609.70 L617.30,608.90 L617.20,607.70 L618.00,606.70 L620.00,605.20 L621.60,603.20 L622.60,600.70 L623.30,597.70 L623.75,593.70 L624.05,587.70 L624.18,579.70 L624.18,579.70 L625.02,579.70 L625.02,579.70 L625.15,587.70 L625.45,593.70 L625.90,597.70 L626.60,600.70 L627.60,603.20 L629.20,605.20 L631.20,606.70 L632.00,607.70 L631.90,608.90 L630.20,609.70 Z" fill="#2f6b2f" opacity="0.92"/>
<line x1="624.60" y1="579.70" x2="624.60" y2="566.85" stroke="#2f6b2f" stroke-width="0.7" stroke-dasharray="0.8 1.8 0.7 3 0.8 4.5 0.6 5" opacity="0.55"/>
<line x1="618.10" y1="607.10" x2="631.10" y2="607.10" stroke="#111" stroke-width="0.7" opacity="0.7"/>
<rect x="628.93" y="606.33" width="0.8" height="0.7" fill="#fff" opacity="0.55"/>
<rect x="622.80" y="607.33" width="0.8" height="0.7" fill="#fff" opacity="0.55"/>
<rect x="629.79" y="606.90" width="0.8" height="0.7" fill="#fff" opacity="0.55"/>
<rect x="625.59" y="606.54" width="0.8" height="0.7" fill="#fff" opacity="0.55"/>
<rect x="628.54" y="608.84" width="0.8" height="0.7" fill="#fff" opacity="0.55"/>
<rect x="624.04" y="607.41" width="0.8" height="0.7" fill="#fff" opacity="0.55"/>
<rect x="624.19" y="606.03" width="0.8" height="0.7" fill="#fff" opacity="0.55"/>
<rect x="620.79" y="606.88" width="0.8" height="0.7" fill="#fff" opacity="0.55"/>
<rect x="625.27" y="606.53" width="0.8" height="0.7" fill="#fff" opacity="0.55"/>
<rect x="625.33" y="605.26" width="0.8" height="0.7" fill="#fff" opacity="0.55"/>
<rect x="624.06" y="609.03" width="0.8" height="0.7" fill="#fff" opacity="0.55"/>
<rect x="623.07" y="606.02" width="0.8" height="0.7" fill="#fff" opacity="0.55"/>
<rect x="623.51" y="608.73" width="0.8" height="0.7" fill="#fff" opacity="0.55"/>
<rect x="623.03" y="605.09" width="0.8" height="0.7" fill="#fff" opacity="0.55"/>
<rect x="621.83" y="608.24" width="0.8" height="0.7" fill="#fff" opacity="0.55"/>
<rect x="622.09" y="606.23" width="0.8" height="0.7" fill="#fff" opacity="0.55"/>
<rect x="626.00" y="606.83" width="0.8" height="0.7" fill="#fff" opacity="0.55"/>
<rect x="619.06" y="606.25" width="0.8" height="0.7" fill="#fff" opacity="0.55"/>
<path d="M640.60,609.70 L638.90,608.90 L638.80,607.70 L639.60,606.70 L641.60,605.20 L643.20,603.20 L644.20,600.70 L644.90,597.70 L645.35,593.70 L645.65,587.70 L645.78,579.70 L645.78,579.70 L646.62,579.70 L646.62,579.70 L646.75,587.70 L647.05,593.70 L647.50,597.70 L648.20,600.70 L649.20,603.20 L650.80,605.20 L652.80,606.70 L653.60,607.70 L653.50,608.90 L651.80,609.70 Z" fill="#3a3a3a" opacity="0.92"/>
<line x1="646.20" y1="579.70" x2="646.20" y2="575.52" stroke="#3a3a3a" stroke-width="0.7" stroke-dasharray="0.8 1.8 0.7 3 0.8 4.5 0.6 5" opacity="0.55"/>
<line x1="639.70" y1="607.10" x2="652.70" y2="607.10" stroke="#111" stroke-width="0.7" opacity="0.7"/>
<rect x="649.68" y="609.07" width="0.8" height="0.7" fill="#fff" opacity="0.55"/>
<rect x="648.86" y="608.88" width="0.8" height="0.7" fill="#fff" opacity="0.55"/>
<rect x="649.83" y="606.93" width="0.8" height="0.7" fill="#fff" opacity="0.55"/>
<rect x="646.75" y="608.58" width="0.8" height="0.7" fill="#fff" opacity="0.55"/>
<rect x="651.13" y="608.29" width="0.8" height="0.7" fill="#fff" opacity="0.55"/>
<rect x="650.11" y="608.26" width="0.8" height="0.7" fill="#fff" opacity="0.55"/>
<rect x="648.41" y="605.51" width="0.8" height="0.7" fill="#fff" opacity="0.55"/>
<rect x="649.10" y="606.84" width="0.8" height="0.7" fill="#fff" opacity="0.55"/>
<rect x="641.39" y="608.87" width="0.8" height="0.7" fill="#fff" opacity="0.55"/>
<rect x="644.74" y="608.11" width="0.8" height="0.7" fill="#fff" opacity="0.55"/>
<rect x="645.23" y="607.56" width="0.8" height="0.7" fill="#fff" opacity="0.55"/>
<rect x="645.52" y="608.13" width="0.8" height="0.7" fill="#fff" opacity="0.55"/>
<rect x="644.35" y="606.81" width="0.8" height="0.7" fill="#fff" opacity="0.55"/>
<rect x="648.95" y="607.79" width="0.8" height="0.7" fill="#fff" opacity="0.55"/>
<rect x="644.04" y="605.20" width="0.8" height="0.7" fill="#fff" opacity="0.55"/>
<rect x="643.13" y="608.91" width="0.8" height="0.7" fill="#fff" opacity="0.55"/>
<rect x="641.07" y="607.61" width="0.8" height="0.7" fill="#fff" opacity="0.55"/>
<rect x="643.66" y="606.85" width="0.8" height="0.7" fill="#fff" opacity="0.55"/>
<path d="M662.20,609.70 L660.50,608.90 L660.40,607.70 L661.20,606.70 L663.20,605.20 L664.80,603.20 L665.80,600.70 L666.50,597.70 L666.95,593.70 L667.25,587.70 L667.38,579.70 L667.38,579.70 L668.22,579.70 L668.22,579.70 L668.35,587.70 L668.65,593.70 L669.10,597.70 L669.80,600.70 L670.80,603.20 L672.40,605.20 L674.40,606.70 L675.20,607.70 L675.10,608.90 L673.40,609.70 Z" fill="#1e2c4e" opacity="0.92"/>
<line x1="667.80" y1="579.70" x2="667.80" y2="552.40" stroke="#1e2c4e" stroke-width="0.7" stroke-dasharray="0.8 1.8 0.7 3 0.8 4.5 0.6 5" opacity="0.55"/>
<line x1="661.30" y1="607.10" x2="674.30" y2="607.10" stroke="#111" stroke-width="0.7" opacity="0.7"/>
<rect x="667.79" y="609.02" width="0.8" height="0.7" fill="#fff" opacity="0.55"/>
<rect x="672.61" y="608.88" width="0.8" height="0.7" fill="#fff" opacity="0.55"/>
<rect x="667.11" y="609.16" width="0.8" height="0.7" fill="#fff" opacity="0.55"/>
<rect x="670.83" y="607.33" width="0.8" height="0.7" fill="#fff" opacity="0.55"/>
<rect x="668.84" y="606.19" width="0.8" height="0.7" fill="#fff" opacity="0.55"/>
<rect x="666.89" y="608.11" width="0.8" height="0.7" fill="#fff" opacity="0.55"/>
<rect x="665.72" y="606.32" width="0.8" height="0.7" fill="#fff" opacity="0.55"/>
<rect x="671.39" y="605.57" width="0.8" height="0.7" fill="#fff" opacity="0.55"/>
<rect x="670.28" y="608.97" width="0.8" height="0.7" fill="#fff" opacity="0.55"/>
<rect x="662.64" y="606.06" width="0.8" height="0.7" fill="#fff" opacity="0.55"/>
<rect x="673.14" y="606.86" width="0.8" height="0.7" fill="#fff" opacity="0.55"/>
<rect x="671.95" y="605.91" width="0.8" height="0.7" fill="#fff" opacity="0.55"/>
<rect x="666.76" y="605.98" width="0.8" height="0.7" fill="#fff" opacity="0.55"/>
<rect x="665.47" y="607.66" width="0.8" height="0.7" fill="#fff" opacity="0.55"/>
<rect x="668.46" y="605.96" width="0.8" height="0.7" fill="#fff" opacity="0.55"/>
<rect x="664.70" y="608.35" width="0.8" height="0.7" fill="#fff" opacity="0.55"/>
<rect x="671.17" y="608.64" width="0.8" height="0.7" fill="#fff" opacity="0.55"/>
<rect x="662.66" y="605.96" width="0.8" height="0.7" fill="#fff" opacity="0.55"/>
<line x1="603.00" y1="521.50" x2="667.90" y2="521.50" stroke="#222" stroke-width="1.00" />
<path d="M629.70,515.55 L630.28,517.10 L631.93,517.17 L630.64,518.20 L631.08,519.80 L629.70,518.89 L628.32,519.80 L628.76,518.20 L627.47,517.17 L629.12,517.10 Z M635.20,515.55 L635.78,517.10 L637.43,517.17 L636.14,518.20 L636.58,519.80 L635.20,518.89 L633.82,519.80 L634.26,518.20 L632.97,517.17 L634.62,517.10 Z M640.70,515.55 L641.28,517.10 L642.93,517.17 L641.64,518.20 L642.08,519.80 L640.70,518.89 L639.32,519.80 L639.76,518.20 L638.47,517.17 L640.12,517.10 Z " fill="#2a2a2a"/>
<line x1="603.00" y1="528.40" x2="646.00" y2="528.40" stroke="#a4a4a4" stroke-width="1.60" />
<path d="M619.00,522.95 L619.58,524.50 L621.23,524.57 L619.94,525.60 L620.38,527.20 L619.00,526.29 L617.62,527.20 L618.06,525.60 L616.77,524.57 L618.42,524.50 Z M624.50,522.95 L625.08,524.50 L626.73,524.57 L625.44,525.60 L625.88,527.20 L624.50,526.29 L623.12,527.20 L623.56,525.60 L622.27,524.57 L623.92,524.50 Z M630.00,522.95 L630.58,524.50 L632.23,524.57 L630.94,525.60 L631.38,527.20 L630.00,526.29 L628.62,527.20 L629.06,525.60 L627.77,524.57 L629.42,524.50 Z " fill="#2a2a2a"/>
<line x1="603.00" y1="536.50" x2="624.80" y2="536.50" stroke="#222" stroke-width="1.00" />
<path d="M608.30,530.55 L608.88,532.10 L610.53,532.17 L609.24,533.20 L609.68,534.80 L608.30,533.89 L606.92,534.80 L607.36,533.20 L606.07,532.17 L607.72,532.10 Z M613.80,530.55 L614.38,532.10 L616.03,532.17 L614.74,533.20 L615.18,534.80 L613.80,533.89 L612.42,534.80 L612.86,533.20 L611.57,532.17 L613.22,532.10 Z M619.30,530.55 L619.88,532.10 L621.53,532.17 L620.24,533.20 L620.68,534.80 L619.30,533.89 L617.92,534.80 L618.36,533.20 L617.07,532.17 L618.72,532.10 Z " fill="#2a2a2a"/>
<line x1="646.00" y1="538.50" x2="667.90" y2="538.50" stroke="#222" stroke-width="1.00" />
<path d="M651.30,532.95 L651.88,534.50 L653.53,534.57 L652.24,535.60 L652.68,537.20 L651.30,536.29 L649.92,537.20 L650.36,535.60 L649.07,534.57 L650.72,534.50 Z M656.80,532.95 L657.38,534.50 L659.03,534.57 L657.74,535.60 L658.18,537.20 L656.80,536.29 L655.42,537.20 L655.86,535.60 L654.57,534.57 L656.22,534.50 Z M662.30,532.95 L662.88,534.50 L664.53,534.57 L663.24,535.60 L663.68,537.20 L662.30,536.29 L660.92,537.20 L661.36,535.60 L660.07,534.57 L661.72,534.50 Z " fill="#2a2a2a"/>
<line x1="624.80" y1="545.80" x2="667.90" y2="545.80" stroke="#a4a4a4" stroke-width="1.60" />
<path d="M640.50,540.15 L641.08,541.70 L642.73,541.77 L641.44,542.80 L641.88,544.40 L640.50,543.49 L639.12,544.40 L639.56,542.80 L638.27,541.77 L639.92,541.70 Z M646.00,540.15 L646.58,541.70 L648.23,541.77 L646.94,542.80 L647.38,544.40 L646.00,543.49 L644.62,544.40 L645.06,542.80 L643.77,541.77 L645.42,541.70 Z M651.50,540.15 L652.08,541.70 L653.73,541.77 L652.44,542.80 L652.88,544.40 L651.50,543.49 L650.12,544.40 L650.56,542.80 L649.27,541.77 L650.92,541.70 Z " fill="#2a2a2a"/>
</svg>
</body></html>
